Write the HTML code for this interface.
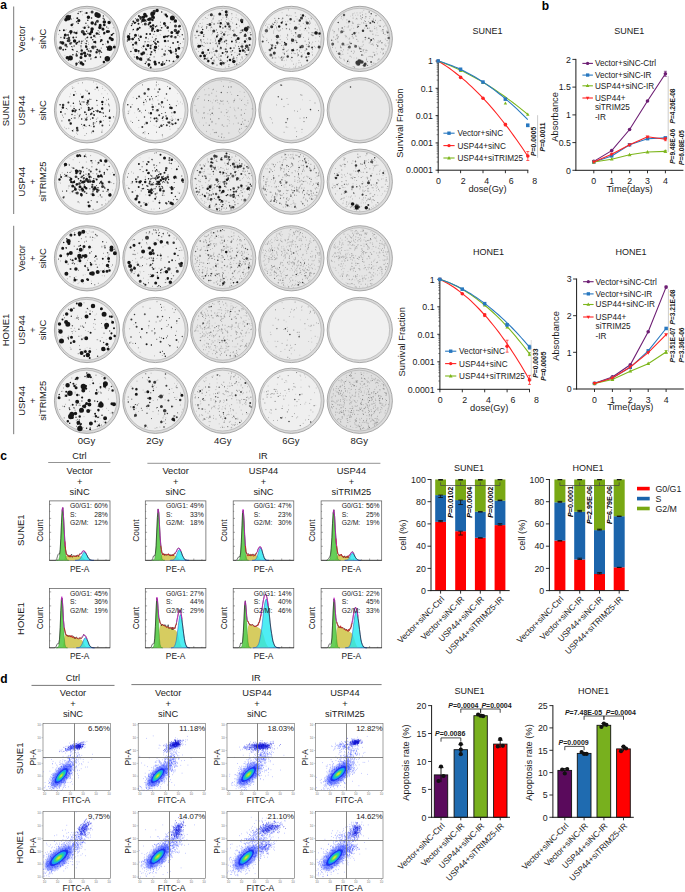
<!DOCTYPE html>
<html><head><meta charset="utf-8"><title>Figure</title>
<style>
html,body{margin:0;padding:0;background:#fff;width:685px;height:892px;overflow:hidden;}
svg{display:block;font-family:"Liberation Sans",sans-serif;}
</style></head><body>
<svg width="685" height="892" viewBox="0 0 685 892" fill="#1a1a1a">
<defs><filter id="pb" x="-5%" y="-5%" width="110%" height="110%"><feGaussianBlur stdDeviation="0.35"/></filter><radialGradient id="vg"><stop offset="0.7" stop-color="#000" stop-opacity="0"/><stop offset="1" stop-color="#000" stop-opacity="0.07"/></radialGradient></defs>
<text x="0.3" y="9.3" font-size="12" font-weight="bold" fill="#000">a</text>
<line x1="13.7" y1="6.5" x2="13.7" y2="214" stroke="#555" stroke-width="0.8"/>
<line x1="13.7" y1="225.8" x2="13.7" y2="434.2" stroke="#555" stroke-width="0.8"/>
<text x="8.5" y="110.5" font-size="9.5" text-anchor="middle" transform="rotate(-90 8.5 110.5)">SUNE1</text>
<text x="8.5" y="330" font-size="9.5" text-anchor="middle" transform="rotate(-90 8.5 330)">HONE1</text>
<text x="24.9" y="38.9" font-size="9.4" text-anchor="middle" transform="rotate(-90 24.9 38.9)">Vector</text>
<text x="35.6" y="38.9" font-size="9.4" text-anchor="middle" transform="rotate(-90 35.6 38.9)">+</text>
<text x="46.3" y="38.9" font-size="9.4" text-anchor="middle" transform="rotate(-90 46.3 38.9)">siNC</text>
<g filter="url(#pb)"><circle cx="87" cy="38.9" r="32.6" fill="#dadada" stroke="#959595" stroke-width="0.8"/><circle cx="86.4" cy="38.7" r="30.4" fill="#f1f1f1" stroke="#a8a8a8" stroke-width="0.6"/><path d="M76 21.9h0m3 23.3h0m10.9-32.8h0m.7 44.3h0m7.9-38h0m1.3 23.4h0m5.3-17.8h0m.3 1.2h0" stroke="#b9b9b9" stroke-width="0.6" stroke-linecap="round"/><path d="M72.9 27.4h0m13.4 16.7h0" stroke="#b9b9b9" stroke-width="0.9" stroke-linecap="round"/><path d="M66.2 29.7h0m7.8 9.3h0m12.1-26.6h0m-4.4 30.7h0m6.8-.3h0m6.9-29.6h0m10.3 30.8h0" stroke="#9b9b9b" stroke-width="0.9" stroke-linecap="round"/><path d="M65.3 30.6h0m-.4 24.8h0m8.5-37.1h0m-3.2 18.7h0m12.2-22.1h0m3.8 11.1h0m-1.9 16.9h0m-.2 17.3h0m3.2-30.4h0m4.8 14h0m-1.3 7.1h0m.8 7.4h0m-3.4 .6h0m14.6-32.8h0m11.4 18.5h0" stroke="#9b9b9b" stroke-width="0.6" stroke-linecap="round"/><path d="M78.9 52.8h0m12.2-34.7h0m-2.4 26.4h0m.5 4.1h0m7-33.1h0m-.5 21.9h0m3.5 14.2h0m10.7-29h0" stroke="#7d7d7d" stroke-width="0.9" stroke-linecap="round"/><path d="M58.4 34.3h0m13.7-10.3h0m5.3 7.1h0m5.1-3.7h0m4 7.1h0m-3 6.2h0m-.7 10.6h0m4.8-2.1h0m1.6 5.4h0m6.7-11.5h0" stroke="#7d7d7d" stroke-width="0.6" stroke-linecap="round"/><path d="M81 47.9h0m1-36.6h0m4.2 34.7h0m.7 3.2h0m1-23.9h0m3.8 5.7h0m.7 15.8h0m3.3-3.8h0m-2.5 5.9h0m6.3-14.4h0m9.6 4.4h0" stroke="#5a5a5a" stroke-width="1" stroke-linecap="round"/><path d="M60.9 37.5h0m10.7 5.3h0m1.6 7.1h0m8.2-6.6h0m9.4 15.6h0m13.2-24.8h0m2.6-7.1h0" stroke="#5a5a5a" stroke-width="1.5" stroke-linecap="round"/><path d="M68.5 32.7h0" stroke="#5a5a5a" stroke-width="0.6" stroke-linecap="round"/><path d="M59.7 30.6h0m2.5 11.7h0m2-5.2h0m8.7-13.1h0m1.2 22.1h0m6.5-34.3h0m-4.4 25.5h0m0 5.4h0m4.8 3.2h0m-4.8 19.4h0m9.7-42.1h0m-.2 10.7h0m.1 12.1h0m6.4-13.7h0m-5.2 5.4h0m11.5-3.7h0m-3.4 12.3h0m.7 .6h0m7.6-31h0m-.2 2.3h0m.4 6.5h0m-2.1 27.6h0m12.1-18.9h0m-1.9 5.1h0" stroke="#373737" stroke-width="1.5" stroke-linecap="round"/><path d="M68 34.9h0m-4.8 14.8h0m7-33.8h0m4.1 16.6h0m4.9 9h0m9.4-14.3h0m-1.4 22.1h0m20.8-6.8h0" stroke="#373737" stroke-width="2" stroke-linecap="round"/><path d="M65.8 44.9h0m17.4-12.8h0m8.9-20.1h0m-2.3 43.3h0m7.6-34.1h0m2.1 29.9h0" stroke="#373737" stroke-width="3" stroke-linecap="round"/><path d="M60.3 48.1h0m8.5-7.7h0m13.7-8.6h0m10.5 15.5h0" stroke="#373737" stroke-width="3.5" stroke-linecap="round"/><path d="M60.7 42.3h0m8.2-4.2h0m1.5 5.3h0m6.3 12h0m13.9-4.2h0m3.6-15.2h0" stroke="#373737" stroke-width="2.5" stroke-linecap="round"/><path d="M60.2 43.1h0m8.4-7h0m3-17h0m-.2 27.4h0m.8 .4h0m6.8-35.2h0m-1.3 9.1h0m1.9 40.3h0m1.4 .8h0m-2.4 .5h0m6.6-49.2h0m.1 25.8h0m.3 14.3h0m1.5 .6h0m2.9 2.8h0m8.1-26.1h0m-3.3 27.1h0m4.4-25.5h0m2 15.9h0m-1.8 5.7h0m8.7-25.6h0m2.2 18.2h0m-3.9 12.5h0m6.3-25.2h0" stroke="#373737" stroke-width="1" stroke-linecap="round"/><path d="M100.2 36.7h0m9.2-5.3h0m3.9-3.6h0" stroke="#373737" stroke-width="0.6" stroke-linecap="round"/><path d="M71.7 24.9h0m4.6 8h0m.2 30.9h0m8.1-36h0m1.6 18.9h0m-4.5 3.8h0m10.1-19.6h0m3.6-6.7h0m1.4 9.3h0m-1.7 8.5h0m1.5 10.3h0m7.7-27.2h0m0 7.8h0m-2.9 7.4h0m2.5 21.7h0m4.8-30.5h0m-.2 16.9h0" stroke="#191919" stroke-width="2.5" stroke-linecap="round"/><path d="M67.1 38.6h0m.3 2.3h0m-.4 5.9h0m-1.4 2.6h0m2.8 10.7h0m2.3-26.4h0m1.7 15.9h0m.5 5.1h0m5.2-41.1h0m-1.3 8.2h0m1.4 1.4h0m-.6 19.3h0m-.6 9h0m-.6 2.4h0m10.2-22.7h0m.2 9.7h0m-4.9 .3h0m4.2 2.4h0m-3 9.3h0m2.1 8.1h0m6.4-43.1h0m-3.8 2.3h0m.2 13h0m-.4 4h0m5.2 2.5h0m-.7 7.3h0m-3.7 4h0m-.6 3.2h0m8.6-38.2h0m-.7 6.2h0m-2.1 19.7h0m10.6-22.7h0m-3.6 22.4h0m2.3 2.8h0m-2.4 12.7h0m6.2-10h0m.8 2.6h0m4.8-15.3h0" stroke="#191919" stroke-width="1.5" stroke-linecap="round"/><path d="M65.3 34.9h0m13.6-14.3h0m5.3 13.3h0m.4 19.2h0m-3.1 1h0m3.9 1.6h0m-4.4 1.7h0m1.9 6.9h0m8.7-32.5h0m-1.5 1.9h0m6.1-19.9h0m4 11.4h0m2.7 3.8h0m4.4 2.4h0m2.9 6.5h0m4.1 9.2h0" stroke="#191919" stroke-width="3" stroke-linecap="round"/><path d="M62.7 43h0m3.2-23.2h0m1.4 37.9h0m3.6-25.9h0m3.7 9.1h0m6.6 22h0m7.2-45.6h0m3.8 5.8h0m-.1 6h0m12.2-7.1h0m-4.4 5.4h0m9.2-4.9h0m3 16.9h0" stroke="#191919" stroke-width="3.5" stroke-linecap="round"/><path d="M63.9 30.3h0m.5 7.8h0m8.9-.7h0m4-19.2h0m-.9 25.5h0m10.3-30.6h0m4.5 24.5h0m6.1 12.2h0m-1.4 7.5h0m8.8-35.2h0m-1.4 7.5h0m4.5 11.8h0m3.8-6.3h0" stroke="#191919" stroke-width="2" stroke-linecap="round"/><path d="M68.2 17.8h0m41.5 30.5h0m-2.4 10.5h0" stroke="#191919" stroke-width="5.5" stroke-linecap="round"/><path d="M70.4 57.9h0m26.5-43.2h0m1.4 .9h0" stroke="#191919" stroke-width="5" stroke-linecap="round"/></g>
<g filter="url(#pb)"><circle cx="155.4" cy="38.9" r="32.6" fill="#dadada" stroke="#959595" stroke-width="0.8"/><circle cx="154.8" cy="38.7" r="30.4" fill="#f1f1f1" stroke="#a8a8a8" stroke-width="0.6"/><path d="M132.3 45.9h0m14.4 10.5h0m-4.4 1h0m5-9h0m-.1 1.8h0m19.9-1h0" stroke="#b9b9b9" stroke-width="0.6" stroke-linecap="round"/><path d="M179.8 29.1h0" stroke="#b9b9b9" stroke-width="0.9" stroke-linecap="round"/><path d="M127.7 35.1h0m7.9 8.5h0m11.4 15.3h0m35.1-11.3h0" stroke="#9b9b9b" stroke-width="0.9" stroke-linecap="round"/><path d="M136.7 44h0m4.3-7h0m1.3 11.6h0m10.4-34.6h0m-3.3 28h0m21.1-5.5h0m-3.1 17.7h0m8-28h0m7.4 21.6h0" stroke="#9b9b9b" stroke-width="0.6" stroke-linecap="round"/><path d="M137 44.9h0m9.6-25.1h0m-4.1 4.9h0m9.4-13.1h0m-3.6 27.3h0m7.2 13.8h0m4.8-27.3h0m2.4 2.4h0m-1.2 2.7h0m14.2 3h0m-3.1 28.2h0m7.2-25h0" stroke="#7d7d7d" stroke-width="0.9" stroke-linecap="round"/><path d="M132.5 24.1h0m-.1 6.7h0m-1.1 11.6h0m2.8 12h0m4.4-20h0m6.2 9.7h0m-3.2 3.4h0m7.6-19.1h0m2 12.4h0m-2.2 17.9h0m7.3-22.8h0m2.1 13.2h0m1.9-14.4h0m6 7h0m2.1 4.9h0m-2.6 15.8h0m8.3-25.1h0m8.9 4.7h0" stroke="#7d7d7d" stroke-width="0.6" stroke-linecap="round"/><path d="M129.7 33.7h0m15.4 8h0m1.2 20.2h0m7.8-11.9h0m8-.7h0m6.2-22h0m2.1 20.2h0m-5 3.6h0m12.5-15.8h0m5.8 3.8h0" stroke="#5a5a5a" stroke-width="1.5" stroke-linecap="round"/><path d="M127.8 37.3h0m1.7-3h0m5.1 15.1h0m3.8-13.6h0m2.4 17.4h0m6.9-33.7h0m4.6 17.7h0m-.2 7.3h0m-3.4 .2h0m1.1 12.8h0m4-23.1h0m.1 14.9h0m10.2-35.3h0m-3.5 8.2h0m9.7 .4h0m-2 8.3h0m5.8-8.8h0m-2 13.5h0m1 16.4h0m5.7-6.9h0" stroke="#5a5a5a" stroke-width="1" stroke-linecap="round"/><path d="M137 30.6h0m8.9-16.6h0m29.3 39.4h0" stroke="#5a5a5a" stroke-width="0.6" stroke-linecap="round"/><path d="M146 37.7h0m4.7 8h0m.8 6.3h0m3.5-9h0m9.3 21h0m1.2-38.2h0m7.6 17.1h0m2.7 8.4h0m3-24.9h0" stroke="#373737" stroke-width="2" stroke-linecap="round"/><path d="M128.3 36.8h0m-.9 4.1h0m4.8-17.1h0m2.2 13.8h0m-4.9 .6h0m9.1 .6h0m6-18.7h0m-3.1 1.8h0m13.7 18h0m12.6-13h0m1 23.7h0m-2.2 9.9h0m2.7 .3h0m13-26h0" stroke="#373737" stroke-width="1.5" stroke-linecap="round"/><path d="M152.1 30.5h0m-3.6 28.9h0m16-4.8h0m10.9-17.4h0m4.2-11.1h0" stroke="#373737" stroke-width="2.5" stroke-linecap="round"/><path d="M137.6 20.3h0m5.9 32.8h0m10.7-41.7h0m21.2 19h0" stroke="#373737" stroke-width="3.5" stroke-linecap="round"/><path d="M140.8 17.4h0m-5 25.5h0m1.8 15.4h0m7.7-34.3h0m30.2 2h0" stroke="#373737" stroke-width="3" stroke-linecap="round"/><path d="M133.2 48h0m1.1 9h0m1.2-38.3h0m1.2 11.1h0m.4 .7h0m1.7 22.4h0m7.7-31.7h0m-3.5 .3h0m2.7 26.9h0m2.3-6.7h0m10.8 .6h0m-.1 3.8h0m-4.6 10.8h0m22.1-24.5h0m4.2-3.1h0m-.1 14.3h0" stroke="#373737" stroke-width="1" stroke-linecap="round"/><path d="M147.1 54.3h0m.7 6.2h0m14.3-4.1h0m3.2-10.2h0m4.4 15.1h0m5.5-30.5h0" stroke="#373737" stroke-width="0.6" stroke-linecap="round"/><path d="M128.9 38.3h0m2.6-12.9h0m1.8 4.2h0m-2.4 21.8h0m9.1-34.5h0m.4 2.1h0m-4.8 3.4h0m3.7 17.8h0m3.8-19.9h0m.7 32.5h0m-2.2 7.3h0m3.7 3.4h0m5.8-44.5h0m-1.9 .3h0m.9 41.1h0m-1.5 5.6h0m8.1-40h0m-1.3 .7h0m-.8 4.7h0m1.4 7.4h0m-2.3 2.7h0m8-29.6h0m-.2 15.9h0m-1.4 2.4h0m2.7 31.8h0m6-26.3h0m-.7 5.4h0m8.3 9.3h0m-.3 3.5h0m-2.5 7.3h0m6.3-34.7h0" stroke="#191919" stroke-width="1.5" stroke-linecap="round"/><path d="M128.5 36.8h0m.4 2.1h0m7 11.5h0m4.7 8.5h0m4.2-44.3h0m-1.3 2.7h0m-.6 3h0m7.2-1.2h0m7-8.5h0m-1.6 36.7h0m19.9-26.3h0m2.1 35.7h0" stroke="#191919" stroke-width="3.5" stroke-linecap="round"/><path d="M133.4 21.4h0m1.3 1.5h0m-1.8 16.4h0m.1 5.5h0m5.9-28.7h0m-.4 7.6h0m1.2 4h0m-3.5 14.9h0m2.5 8.3h0m7.9-16.9h0m-3 12.3h0m2.5 3.1h0m3.2-26.2h0m-.7 1.2h0m1.5 9.5h0m.4 14.3h0m.2 6.3h0m0 12.9h0m2.8-50.4h0m4.3 24.8h0m-1.8 2.3h0m-1 6.3h0m4.1 12.3h0m8.3-26.1h0m-1.9 0h0m10.4 12.7h0m1.9-7.2h0" stroke="#191919" stroke-width="2" stroke-linecap="round"/><path d="M135.5 35.2h0m10.7-19.1h0m-4.3 37.8h0m10.6-36.8h0m-3.9 2.3h0m4.1 9h0m-4.8 17h0m1 19.2h0m4.6-47.2h0m4.2 13.2h0m-2.8 31.3h0m.5 2h0m9-40.3h0m-2.4 40.9h0m9.8-31.9h0m5.6 .2h0m1.4 15.5h0" stroke="#191919" stroke-width="3" stroke-linecap="round"/><path d="M132.5 39h0m5.3-9.9h0m2.9 7.7h0m-3.7 20.5h0m7.8-36.9h0m7.7-.4h0m-2.5 2.7h0m.8 3.8h0m3.2-13.1h0m-.9 12.1h0m11 11.6h0m.9 4h0m.8-26.4h0m1.1 1.6h0m.7 11.4h0m2.8 23.3h0m2.5-33.6h0m-1.5 19.2h0m-.3 16h0m7.5-21h0" stroke="#191919" stroke-width="2.5" stroke-linecap="round"/><path d="M172.4 17.9h0" stroke="#191919" stroke-width="5" stroke-linecap="round"/><path d="M152.4 13.9h0" stroke="#191919" stroke-width="4.5" stroke-linecap="round"/></g>
<g filter="url(#pb)"><circle cx="223.2" cy="38.9" r="32.6" fill="#dadada" stroke="#959595" stroke-width="0.8"/><circle cx="222.6" cy="38.7" r="30.4" fill="#ededed" stroke="#a8a8a8" stroke-width="0.6"/><path d="M218.9 58h0m-5.1 3.2h0m11-37.2h0m6.1-2.4h0m-1.8 5.6h0m-1 4.8h0m-.9 28.9h0m4.9-47.4h0m9.5 4.7h0m5.9 22.3h0m4.3-.8h0" stroke="#b9b9b9" stroke-width="0.9" stroke-linecap="round"/><path d="M197.6 43.5h0m.7 1.2h0m1.8 11.5h0m3.2-36.9h0m-1 .1h0m.2 3.6h0m-.7 19.1h0m10.8-14.1h0m-2.2 .3h0m-2.1 2.2h0m.7 12.6h0m.2 5.2h0m3.7 .2h0m4.4-25.2h0m-.6 21.5h0m.8 2.2h0m-.3 4.5h0m1.8 2.4h0m-2.5 2.7h0m4.8-41.7h0m.4 18.4h0m.3 9.2h0m-1.3 3.8h0m-1.7 8.1h0m6.5-37.1h0m.9 14h0m1.6 12.9h0m-2.1 5.3h0m6-34.7h0m1.6 19.9h0m.8 18h0m2.7 .5h0m0 6.2h0m.1-17.7h0m1 1.5h0m2.4 16.3h0m2.9-35.3h0m3.1 3.7h0m-3 15.8h0" stroke="#b9b9b9" stroke-width="0.6" stroke-linecap="round"/><path d="M198.9 31.1h0m6.4 12.4h0m6.7 9.4h0m3.3-11.6h0m-1.9 10.3h0m1.2 2.5h0m-.3 9.6h0m6.9-43.4h0m.1 28.3h0m5.2-29.2h0m1.5 15.2h0m-.3 .8h0m5-12.4h0m.4 12.6h0m.9 21.6h0m5.3 5.4h0m3.9-43.3h0" stroke="#9b9b9b" stroke-width="0.9" stroke-linecap="round"/><path d="M199.2 46.3h0m3-20.1h0m.4 .7h0m4 16.1h0m-4.9 .9h0m3.4 8.4h0m-1.7 5.6h0m7.3-27.8h0m1.1 4.7h0m1.1 7.6h0m-1.8 9.7h0m-3.8 .8h0m1.2 9.4h0m4.7-43.4h0m3.1 10.7h0m-3.1 18.3h0m5.5 8.1h0m6.1-3.5h0m-5.1 4.1h0m8.4-45.8h0m.1 2h0m0 6h0m1 2.1h0m-.5 8.1h0m1.1 5.5h0m-3.3 11.7h0m1.4 9h0m.9 11.3h0m-3.5 .8h0m11-52.3h0m-4 2.6h0m2.8 27.3h0m-.1 7.5h0m3.6-32.2h0m1.3 17.8h0m-2.7 1.7h0m3.5 20.4h0m7.1-26.8h0m-2.3 8.5h0m-.5 14.5h0m5.1-28h0" stroke="#9b9b9b" stroke-width="0.6" stroke-linecap="round"/><path d="M198.9 26.8h0m-1.8 3.1h0m2.3 2.8h0m-.7 15.2h0m-.1 3.6h0m5.1-11.9h0m4.6-24.5h0m-1.2 3.4h0m4.7 2.4h0m-4.1 18.2h0m3.1 .8h0m.5 18.7h0m3.7-20.4h0m-.5 13.2h0m2.2 5.9h0m.4 .3h0m1.6 1.7h0m-4.7 .7h0m.7 1.8h0m5.4-47.5h0m3 .8h0m-.2 2.7h0m-1.3 1.7h0m1.1 5.3h0m-1.1 15.6h0m1.5 1.5h0m-1.2 0h0m2.3 7.3h0m-3.8 9.8h0m5.3-37.6h0m5.2 5.5h0m-.7 1.3h0m-3.2 .6h0m2.1 .8h0m-3.5 22.4h0m.8 1.3h0m-.6 9.2h0m3.3 2h0m-.3 .5h0m2.7-51.4h0m4.5 4h0m-2.1 12.2h0m-2.6 7.7h0m4.6 5.2h0m-.5 18.3h0m2.7-42h0m1.4 7h0m1.4 4.2h0m-.2 .3h0m-1.1 12.1h0m3.4 4.2h0m-4 .2h0m-2 14h0m10.7-28.8h0m-2.3 2.6h0m-1.5 1.7h0" stroke="#7d7d7d" stroke-width="0.6" stroke-linecap="round"/><path d="M200.1 23.5h0m5.2-5.9h0m-3.7 9.8h0m2 25.3h0m9.3-33.6h0m-1.6 39.8h0m2-40.9h0m6.2 7.4h0m3.4 12.3h0m7.2-7.7h0m3.5 26.9h0m8.5-7.7h0m6.4-11.4h0" stroke="#7d7d7d" stroke-width="0.9" stroke-linecap="round"/><path d="M200.9 32.5h0m-5.9 2.8h0m4.8 .2h0m4.4 6.9h0m-.3 3.9h0m2.8 8h0m5.2-31.7h0m.6 10.5h0m-4.9 10.1h0m.3 14.7h0m9-22.1h0m-.6 1.8h0m.4 5.3h0m-3.6 6.4h0m1 11h0m-1 .5h0m7.9-29.5h0m1.3 1.1h0m-.7 16.3h0m-1.7 11.8h0m7.4-35.6h0m-1.6 29.9h0m3.2 12h0m7.9-39h0m-4.4 2.7h0m2.3 34.2h0m7.3-20.7h0m.2 14.8h0m4.7-8.7h0" stroke="#7d7d7d" stroke-width="1" stroke-linecap="round"/><path d="M198.5 35.4h0m11.8 7.9h0m7.7-20.1h0m-2 20.4h0m5.2-10.2h0m-.3 5.8h0m1.6 23.8h0m17.7-30.2h0m6.3 6.3h0m-2.1 11.4h0m1.5 4.1h0" stroke="#7d7d7d" stroke-width="1.5" stroke-linecap="round"/><path d="M206.7 26.9h0m-4.6 18.7h0m12-21.6h0m3.8 10.9h0m5-7h0m3.6 12.9h0m9.8 1.2h0m-2.3 6h0m-2.4 6.8h0m9.4-8.2h0m4.1-17.9h0" stroke="#5a5a5a" stroke-width="1.5" stroke-linecap="round"/><path d="M199.9 46.9h0m-3.7 2.2h0m4.4 6.9h0m6-27.7h0m-5.4 13.5h0m2.8 17.5h0m8.1-44.1h0m1.8 .8h0m2.5 14h0m-1 10h0m2.3 5.3h0m-.7 19.8h0m5.1-54.7h0m-3 10.5h0m3.2 40.9h0m-.6 3.6h0m4.9-42.8h0m2.2 2h0m-3.6 7.3h0m-.1 8.7h0m11.7 17.2h0m6.1-26.5h0m-.7 16.8h0" stroke="#5a5a5a" stroke-width="1" stroke-linecap="round"/><path d="M225.8 49.2h0m7.7 9.2h0m5.9-4.1h0" stroke="#5a5a5a" stroke-width="2" stroke-linecap="round"/><path d="M248.1 27.3h0" stroke="#5a5a5a" stroke-width="3" stroke-linecap="round"/><path d="M198.4 25.8h0m4.2 23.9h0m4.5 12.3h0m24.5-42.7h0m3.8 26.6h0m1.8 18h0m8.7-37h0" stroke="#5a5a5a" stroke-width="0.6" stroke-linecap="round"/><path d="M196 37.8h0m7.9-3.3h0m7.9-20.4h0m-4.6 10.4h0m4 2.7h0m-1.8 25.8h0m2.9 4.2h0m5-24.6h0m.4 14h0m-2.8 8.6h0m7.2-18.9h0m-2 12.5h0m10.2-19.9h0m-4.2 11.2h0m7.7-9.1h0m2.4 8.6h0m.1 .5h0m-.8 .5h0m-4.5 11.3h0m1.6 7.5h0m3.8 4.8h0m2.1-17.8h0m-1.2 9h0m4.7 1.7h0m4.3-25.6h0m1.1 16.6h0m2.8-15.4h0" stroke="#373737" stroke-width="1" stroke-linecap="round"/><path d="M200.8 40.1h0m-.8 5.8h0m3.6-9.7h0m3.3 22.9h0m4.3-.7h0m13.5-16.6h0m-3.7 14.3h0m-.1 4.1h0m5.7-43.3h0m1.3 39.7h0m8.6-32.4h0m.2 11.6h0m-4.2 15h0m16.2-2.8h0m-3.4 .6h0m-.3 3.5h0m5.9-17.4h0" stroke="#373737" stroke-width="1.5" stroke-linecap="round"/><path d="M197 31.4h0m22.2 12h0m1.6 4.4h0m6.3 4h0m15.3-21.5h0m6.1 19.6h0m.9-11.8h0m.2 6.9h0" stroke="#373737" stroke-width="2" stroke-linecap="round"/><path d="M216.4 51.1h0m7.7-16.7h0m-.6 28.8h0m5.9-36.8h0m12.7 20.1h0" stroke="#373737" stroke-width="2.5" stroke-linecap="round"/><path d="M211.3 14.8h0m-1.4 9.6h0m3.9 6.5h0m12.7-16.2h0m1.6 9.1h0m6.4 11.1h0m10.7 .7h0m4.6 3.1h0" stroke="#373737" stroke-width="3" stroke-linecap="round"/><path d="M222.5 32.3h0" stroke="#373737" stroke-width="0.6" stroke-linecap="round"/><path d="M241.6 20.6h0m5.1 25.6h0" stroke="#373737" stroke-width="3.5" stroke-linecap="round"/><path d="M198.7 46.2h0m3-13.6h0m1 20.1h0m1.8 3.1h0m15.3-41.9h0m1.1 25h0m-1.6 2h0m1.7 22.5h0m5.2-51.6h0m12 26.6h0" stroke="#191919" stroke-width="3" stroke-linecap="round"/><path d="M200 46.1h0m.6 9.8h0m7.7 5h0m4.4 2.4h0m8-40h0m9.3 36.6h0m12-37.9h0m1 28.5h0m-3 .5h0m5-9.6h0" stroke="#191919" stroke-width="2.5" stroke-linecap="round"/><path d="M202.7 29.5h0m24.8 27.9h0m11.7-8.7h0m6.1-14.5h0m1.5 20.6h0" stroke="#191919" stroke-width="1.5" stroke-linecap="round"/><path d="M204.9 58.5h0m3.3-8.4h0m8.7-13.5h0m3.3-9.9h0m2.4 26.2h0m2.8-26.3h0m5.2 21.7h0m1.3-6.7h0" stroke="#191919" stroke-width="2" stroke-linecap="round"/><path d="M203.4 52.1h0m23.3-8.4h0m-1.2 7.7h0m1.8 9.6h0m13.9-28.7h0" stroke="#191919" stroke-width="1" stroke-linecap="round"/><path d="M246 29.3h0" stroke="#191919" stroke-width="4.5" stroke-linecap="round"/><path d="M233.8 61.6h0" stroke="#191919" stroke-width="3.5" stroke-linecap="round"/></g>
<g filter="url(#pb)"><circle cx="291.4" cy="38.9" r="32.6" fill="#dadada" stroke="#959595" stroke-width="0.8"/><circle cx="290.8" cy="38.7" r="30.4" fill="#ededed" stroke="#a8a8a8" stroke-width="0.6"/><path d="M266.9 28.4h0m-.3 2.2h0m.7 9.4h0m7.8 5.8h0m5.2-10h0m8.2-19.8h0m2 43.2h0m-5.1 5.7h0m8.8-22.8h0m-.4 10.9h0m8.7-33.9h0m-.8 15h0m-4.3 22.2h0m1.1 6.5h0m10.4-35.1h0m-4.5 25.3h0m13.9-18.2h0m.3 6.3h0m-2.9 .4h0" stroke="#b9b9b9" stroke-width="0.9" stroke-linecap="round"/><path d="M266.8 38.4h0m10.5 2.4h0m-3.1 7.2h0m-.5 5.4h0m10.9-1.3h0m-2 .6h0m.3 5.5h0m-2.2 .5h0m5.6-29.5h0m3.4 38.4h0m2.2-25.6h0m-.1 18.5h0m.2 .9h0m4.2 2h0m2-42h0m2.2 26.7h0m.8 .7h0m-1.4 .3h0m9.7 7.6h0m6.2-31.7h0m3.6 10.7h0m-3.5 2.3h0m4.3 4.1h0" stroke="#b9b9b9" stroke-width="0.6" stroke-linecap="round"/><path d="M266.4 31.2h0m7.3-.1h0m8.9-2.4h0m-2.6 14.7h0m3.7 4h0m5.7-18.8h0m1.8 2.4h0m4.6 5.9h0m-2.3 27.3h0m7.8-8.8h0m2.2-17.9h0m7.9-2.5h0m1.3 7.2h0" stroke="#9b9b9b" stroke-width="0.9" stroke-linecap="round"/><path d="M266.7 24h0m-1.6 9.7h0m-2.4 1.1h0m3 17.8h0m5.7-12.7h0m4.1-17.8h0m1 1.8h0m-.9 1.6h0m-1 3.6h0m4.4 2.1h0m-3.8 5h0m1.7 .5h0m1.8 20.2h0m-3.2 1h0m6.6-45.2h0m-1.8 17.4h0m2.5 26.5h0m1.4 4h0m-.7 5.6h0m6.2-50.9h0m-4.2 6.3h0m4.6 1.9h0m-3.2 5.1h0m.5 5.8h0m-.7 3.2h0m1.2 16.4h0m-1.3 6.1h0m4.5-44.3h0m2.3 13.4h0m-1.6 4.2h0m4 6.8h0m.7 1.2h0m-3.1 7.1h0m3.4 1.8h0m-2.1 .1h0m1.3 14.7h0m-2.1 2.2h0m4.1-39.8h0m-.5 9h0m3.1 11.1h0m-3.5 2.3h0m2.4 1.6h0m9-32.9h0m-3.3 6.4h0m.9 2.1h0m-1.8 3h0m2.6 .7h0m2.9-9.5h0m2 22.7h0m-2.5 1.6h0m-.2 8.3h0m9.5-8.7h0m-3 2.4h0" stroke="#9b9b9b" stroke-width="0.6" stroke-linecap="round"/><path d="M272.7 23.4h0m-5.1 3.5h0m4.4 22.5h0m3.9 8.6h0m8.2-1h0m3.6-21.2h0m5.7-.1h0m5.9 15h0m7.9-1.4h0m2.3-25.1h0m4.8 22.2h0" stroke="#9b9b9b" stroke-width="1" stroke-linecap="round"/><path d="M281.1 22.8h0m13.2-1.5h0m1.6 19.2h0m12.6 16h0" stroke="#9b9b9b" stroke-width="1.5" stroke-linecap="round"/><path d="M265.5 25.6h0m-2.8 10.5h0m6.3-11.7h0m2.1 1.6h0m-3.2 1.8h0m1.6 1h0m1 15.7h0m2.2 12.5h0m-.6 1.3h0m4.9-37.3h0m.3 1.6h0m-.1 7.4h0m1.7 .8h0m-2.6 8.8h0m-2.3 18.2h0m1.1 4.6h0m6.9-43.1h0m-1.7 10.8h0m-1.1 7.4h0m2.8 4.2h0m1.7 3.9h0m-.7 4.5h0m.8 2.9h0m4.7-43.1h0m-.7 11.3h0m.5 28.7h0m-1.2 .6h0m8.8-34h0m.1 17.5h0m-4.3 9.3h0m1.9 6.2h0m3.5-30.4h0m3.7 7.1h0m-.8 4h0m1.7 4h0m-1.4 .5h0m-.3 10.8h0m1.2 7.1h0m1.4 2.4h0m-3.6 5.4h0m1.1 2.2h0m-1.1 4h0m7.2-46.5h0m2.2 7.1h0m.4 10.9h0m-2.3 11.7h0m3.1-28.7h0m-.5 7.5h0m5.1 4.7h0m-2.1 .9h0m-.9 .4h0m.9 17.5h0m3.2-23.4h0m-.3 .1h0m2 5.7h0m1.2 13h0" stroke="#7d7d7d" stroke-width="0.6" stroke-linecap="round"/><path d="M266.5 40.6h0m5.8-16.4h0m2.5-5.8h0m.6 2h0m1.1 6.7h0m-2.3 27.6h0m9.2 3.1h0m-3.2 .1h0m1.9 .7h0m5.3-19.4h0m4-.4h0m4.3 28.2h0m3.4-42.8h0m6.2-7.6h0m3.5 16.3h0m-3.7 8.3h0m1.2 3.4h0m-1.2 6.1h0m6.3-31.9h0m2.6 13.9h0m-5 9.4h0m3.6 7.3h0m-.1 5.6h0m4.7-25.1h0" stroke="#7d7d7d" stroke-width="0.9" stroke-linecap="round"/><path d="M263.7 37h0m4.9 5.6h0m3.8 2.9h0m-3.5 4.4h0m4.7-25.5h0m3.9 19.8h0m2.6-4.6h0m1.6 5.8h0m2.5 8.4h0m3.5-18.8h0m-.9 16.5h0m8.4-38.6h0m-3.5 40.4h0m3.3 .3h0m5.9-38.9h0m.6 50.5h0m7.1-25.8h0m11-2.8h0" stroke="#7d7d7d" stroke-width="1" stroke-linecap="round"/><path d="M274.7 22.4h0m8-4.1h0m-.3 3.2h0m4.5-6.2h0m26 20.1h0m3.6-2.2h0" stroke="#7d7d7d" stroke-width="1.5" stroke-linecap="round"/><path d="M278.8 18.5h0m4.3 31h0m-1.5 7.8h0m.4 2.8h0m14.8-32h0m-1.2 4.7h0m2.6 22.1h0m8-32.9h0m.2 27h0" stroke="#5a5a5a" stroke-width="1.5" stroke-linecap="round"/><path d="M301.6 56.4h0m7.3-9.9h0m-2.6 10.8h0m10.4-24.5h0" stroke="#5a5a5a" stroke-width="2" stroke-linecap="round"/><path d="M272.1 45.6h0m-2.1 4.5h0" stroke="#5a5a5a" stroke-width="2.5" stroke-linecap="round"/><path d="M271.2 48.6h0m1.4 9.3h0m1.1-33.3h0m12.6 4h0m3.4 1h0m-3 14h0m10.5 6h0m12.9-26.5h0m2 9.5h0m3.6-.8h0" stroke="#5a5a5a" stroke-width="1" stroke-linecap="round"/><path d="M266.4 30.7h0m35.8 15.7h0" stroke="#5a5a5a" stroke-width="3.5" stroke-linecap="round"/><path d="M276.7 28.1h0m-3 4.9h0m23.7 20h0m5.9-29.6h0m5 21h0m-1.1 2h0m3.7-28.4h0" stroke="#5a5a5a" stroke-width="0.6" stroke-linecap="round"/><path d="M299.3 36h0" stroke="#5a5a5a" stroke-width="4" stroke-linecap="round"/><path d="M270.9 55.1h0" stroke="#5a5a5a" stroke-width="3" stroke-linecap="round"/><path d="M271.7 26.7h0m2.6 26.2h0m11.4-8.6h0m15.8-26.4h0m5.9 5h0m11.7 24h0" stroke="#373737" stroke-width="3" stroke-linecap="round"/><path d="M277.3 42.8h0m13.3-23.6h0m-2.9 37.2h0m4.6-6.2h0m7.5-29.8h0" stroke="#373737" stroke-width="2.5" stroke-linecap="round"/><path d="M277.4 36.6h0m18.2-8.7h0m-3 12.4h0" stroke="#373737" stroke-width="3.5" stroke-linecap="round"/><path d="M296.8 42.5h0m-4.9 15h0m13.5-29h0" stroke="#373737" stroke-width="1.5" stroke-linecap="round"/><path d="M262.7 41.6h0m12.6 6.1h0m10.9-23.3h0m21 36.1h0m4.9-13h0" stroke="#373737" stroke-width="2" stroke-linecap="round"/><path d="M275.8 45.7h0m8.6 8.3h0m25.2-11h0" stroke="#373737" stroke-width="1" stroke-linecap="round"/><path d="M271.7 48.3h0m10-25.5h0m11.5 27.4h0m7.1-3h0" stroke="#191919" stroke-width="2" stroke-linecap="round"/><path d="M279.2 26.4h0m23.8-10.8h0m16.5 17.8h0" stroke="#191919" stroke-width="2.5" stroke-linecap="round"/><path d="M308.4 53.5h0" stroke="#191919" stroke-width="3" stroke-linecap="round"/><path d="M316 33h0" stroke="#191919" stroke-width="3.5" stroke-linecap="round"/><path d="M284 49.2h0" stroke="#191919" stroke-width="1" stroke-linecap="round"/><path d="M284.6 42.4h0" stroke="#191919" stroke-width="1.5" stroke-linecap="round"/></g>
<g filter="url(#pb)"><circle cx="359.8" cy="38.9" r="32.6" fill="#dadada" stroke="#959595" stroke-width="0.8"/><circle cx="359.2" cy="38.7" r="30.4" fill="#e9e9e9" stroke="#a8a8a8" stroke-width="0.6"/><path d="M333.6 40.9h0m9.1-21.2h0m1.1 24.7h0m6.8-28.2h0m-3.4 21.7h0m2.5 5.2h0m4.7-30.1h0m1.1 2.3h0m-2.4 1.8h0m-1.2 8.5h0m-.6 3.1h0m.9 5.3h0m1.8 24h0m9-6.1h0m-1.6 8h0m-3.2 .8h0m9.1-21.7h0m-2.7 14h0m4.7-24.5h0m4.6 13.6h0m-1.8 21h0m1.6 .7h0m4.5-42.6h0m-1.2 11.5h0m1.7 10.3h0m-2.4 8.7h0m4.7-31.5h0m4.2 31.4h0m3.3-16.2h0" stroke="#b9b9b9" stroke-width="0.6" stroke-linecap="round"/><path d="M338.7 30.8h0m-1.4 5.9h0m6.5-18.8h0m3.1 4.9h0m2.6 19.7h0m-2.5 19.8h0m7-11.5h0m6.4-35.3h0m7.9 41.1h0m-4.4 11.2h0m6-28.6h0m9.1-13.7h0m2.2 5.4h0m4.5 13.1h0" stroke="#b9b9b9" stroke-width="0.9" stroke-linecap="round"/><path d="M333.9 33.1h0m-.4 3.8h0m.3 .2h0m3.2 2.7h0m-1.4 8.2h0m7.3-4.8h0m-.5 8.6h0m-2.5 6h0m10.8-36.2h0m-3.5 5.5h0m1.3 0h0m-1.9 9h0m-.2 .5h0m1.4 16.7h0m.7 6.5h0m1 2.3h0m-2.6 1.7h0m1.9 .2h0m7.2-44.8h0m-2.3 9.1h0m2.5 8.2h0m-4.6 20.6h0m10.6-45h0m-5.2 .8h0m.9 2.2h0m-.6 3.9h0m4.4 3.8h0m-3.2 23.4h0m2.3 .7h0m-2.1 12.4h0m5.1-49h0m1.4 8.1h0m-2.2 22.7h0m1 8.4h0m3.3 1.1h0m-1.5 12.2h0m3.6-44.3h0m1.9 2.2h0m-1.4 1.9h0m4.8 4.2h0m-5.1 1.1h0m1.6 3.7h0m3.2 8.3h0m-.2 12.7h0m-3.1 4h0m5.8-26.7h0m1.3 10.8h0m2.3 11.5h0m5.8-20.5h0m-1.7 13.2h0m-2.3 5.2h0m.5 4.5h0m4.7-19h0m-.3 5h0" stroke="#9b9b9b" stroke-width="0.6" stroke-linecap="round"/><path d="M332.8 30.2h0m1.2 1.4h0m7.1 19h0m-.2 7.7h0m3.1 1h0m4.7-36.5h0m1.3 21.1h0m3.3 9.4h0m-.2 13.3h0m7-53.6h0m5.9 24.7h0m7.4-18h0m.4 43.4h0m-2 1.5h0m4.9-36.7h0m8.3 6.6h0" stroke="#9b9b9b" stroke-width="0.9" stroke-linecap="round"/><path d="M337.1 34.6h0m-1.5 4.7h0m6.1-22.9h0m1.2 37.9h0m-2 .5h0m6-34.9h0m2.2 19.2h0m.7 2.8h0m.6 1.2h0m-2.3 1.2h0m-.1 5.6h0m4.7-34.8h0m3.7 3.3h0m-4.2 18.2h0m8.5-20.3h0m.2 2.1h0m-2.9 22.8h0m4.7 24.3h0m1.8-44.7h0m-1.2 30h0m6.7-34.2h0m2.3 14.5h0m15.8 11.9h0" stroke="#9b9b9b" stroke-width="1" stroke-linecap="round"/><path d="M337.4 38.3h0m.8 15.2h0m5.5-22h0m9.3-8.3h0m1.6 9.4h0m11.5 17.7h0m4.5-19.2h0m9.8 9.8h0m2.9 12.3h0" stroke="#9b9b9b" stroke-width="1.5" stroke-linecap="round"/><path d="M334.5 31.7h0m6.7-13.6h0m3.5 8.6h0m-.9 3.3h0m-3 3.1h0m4 12.3h0m-4.1 .6h0m2.9 3.8h0m-4.4 3h0m.3 4.5h0m4.8 3.4h0m4.4-34.7h0m-3.5 9.4h0m.2 1.4h0m4.3 1.4h0m-2.7 6.7h0m.9 2.5h0m5.1-33.7h0m.1 4.6h0m-.6 3.8h0m3.6 10.3h0m-1.9 12.5h0m.2 7h0m2.3 6.2h0m-2.7 8.7h0m7.6-47.5h0m-3.3 5h0m1.6 .2h0m-1.1 8.4h0m4.1 9.2h0m-.8 4.1h0m3.7-32.3h0m2.8 7.7h0m-4.9 1h0m.2 .8h0m2.1 .2h0m-1.3 4.5h0m-1.4 16.7h0m2.7 7.4h0m-2.9 3.1h0m3.5 2.9h0m-.6 6.8h0m7.3-46.2h0m-3.6 12.1h0m-.5 12.1h0m3.2 1h0m.5 .2h0m.4 1h0m-.1 7.1h0m-.9 4.8h0m5.3-34.1h0m-1.7 12.2h0m2.1 .3h0m-.8 6.8h0m-.3 6.4h0m.3 5.2h0m.6 6.2h0m-2.6 3.5h0m9.7-37.8h0m-1.4 1h0m-.5 4.6h0m.5 .9h0m1.8 6.8h0m1.7 1.5h0m-5 8.8h0" stroke="#7d7d7d" stroke-width="0.6" stroke-linecap="round"/><path d="M338 42h0m12-12h0m.1 26.2h0m3.1-18.2h0m1.5 29.3h0m2.6-40h0m2.1 20h0m-.2 .6h0m2.1 1.1h0m3.9-9.3h0m-2.1 10.2h0m11.7-21.3h0m-4.8 27.8h0m2.3 .4h0m7.9-36.4h0m-3.5 24.3h0m10.3-13.7h0" stroke="#7d7d7d" stroke-width="0.9" stroke-linecap="round"/><path d="M367.6 28.3h0m1.6-16.3h0m4.1 26.8h0m1.3 16.2h0m5.5-28.7h0m2.8 3.5h0m-1 13h0" stroke="#7d7d7d" stroke-width="1.5" stroke-linecap="round"/><path d="M332.4 45.2h0m6.1-16.2h0m-1.6 6.6h0m1.5 1.3h0m-1.8 14.5h0m3.8-4.4h0m-.9 9.9h0m16.3-21h0m1 3.5h0m-5.5 11.9h0m11.1-36.4h0m-.8 36.6h0m4-30h0m.8 38.3h0m.9 1.8h0m5.6-27.4h0m-2.5 7.1h0m-.2 .8h0m5.2-21.8h0m3.7 21.6h0m6.8 4h0m-4.1 2.7h0m1.9 .5h0" stroke="#7d7d7d" stroke-width="1" stroke-linecap="round"/><path d="M332.7 44.1h0m9-12.3h0m1.2 12.2h0m6.5 3.1h0m6.2-.8h0" stroke="#5a5a5a" stroke-width="3" stroke-linecap="round"/><path d="M331.7 40.2h0m10.5-12.1h0m10.1 6.5h0m6.1-8.2h0m6.9 11.2h0m12.4 8.5h0" stroke="#5a5a5a" stroke-width="1.5" stroke-linecap="round"/><path d="M370.3 22.9h0m.8 39.2h0m16.6-29.5h0" stroke="#5a5a5a" stroke-width="2" stroke-linecap="round"/><path d="M341 47.7h0m21.3-30.1h0m-1.9 33.9h0m18.5 7.6h0m4.4-25.8h0" stroke="#5a5a5a" stroke-width="1" stroke-linecap="round"/><path d="M344 15h0m-4.7 38.7h0m49.4-15.6h0" stroke="#5a5a5a" stroke-width="2.5" stroke-linecap="round"/><path d="M332.4 47.3h0m25.3-22.4h0m13.5 19.4h0" stroke="#5a5a5a" stroke-width="0.6" stroke-linecap="round"/><path d="M357.6 27h0m8.3-10.2h0m1.8 48.6h0m8.3-49.7h0" stroke="#373737" stroke-width="1" stroke-linecap="round"/><path d="M354.4 33.2h0m8.6-2.4h0" stroke="#373737" stroke-width="2.5" stroke-linecap="round"/><path d="M349.1 21.5h0m17.2 4.3h0m6.5-4.2h0m-1.6 18.4h0" stroke="#373737" stroke-width="2" stroke-linecap="round"/><path d="M338.2 22.5h0m9.5 38.7h0m3.4-17.6h0m8.9 5.2h0m1.9 6.2h0m7-16.7h0m2.3-24.5h0m3.2 8.8h0" stroke="#373737" stroke-width="1.5" stroke-linecap="round"/><path d="M359.4 61.5h0m-1.8 1.3h0m.6 .7h0" stroke="#373737" stroke-width="4.5" stroke-linecap="round"/><path d="M365.1 64.1h0m-.6 1.2h0" stroke="#373737" stroke-width="3" stroke-linecap="round"/><path d="M361.9 61.9h0" stroke="#373737" stroke-width="3.5" stroke-linecap="round"/></g>
<text x="24.9" y="110.3" font-size="9.4" text-anchor="middle" transform="rotate(-90 24.9 110.3)">USP44</text>
<text x="35.6" y="110.3" font-size="9.4" text-anchor="middle" transform="rotate(-90 35.6 110.3)">+</text>
<text x="46.3" y="110.3" font-size="9.4" text-anchor="middle" transform="rotate(-90 46.3 110.3)">siNC</text>
<g filter="url(#pb)"><circle cx="87" cy="110.3" r="32.6" fill="#dadada" stroke="#959595" stroke-width="0.8"/><circle cx="86.4" cy="110.1" r="30.4" fill="#f3f3f3" stroke="#a8a8a8" stroke-width="0.6"/><path d="M68.7 101.9h0m-4.3 25.4h0m9.2 2.3h0m-.1 1.7h0m7.2-27h0m4.3-5.1h0m-.3 19h0m-2 7.9h0m28-8h0" stroke="#b9b9b9" stroke-width="0.9" stroke-linecap="round"/><path d="M69.4 122.2h0m32.9-35.6h0" stroke="#b9b9b9" stroke-width="0.6" stroke-linecap="round"/><path d="M68.8 128.3h0m17.6-15.2h0m5 18.9h0m2-50h0m4.6 30h0m4.7-23.6h0" stroke="#9b9b9b" stroke-width="0.9" stroke-linecap="round"/><path d="M62.2 114.5h0m10-27.8h0m-1.7 7.3h0m5.7-.2h0m8.6 26.6h0m4.1-4.3h0m7.4-32h0m5.5 9.7h0m3.2-3.4h0m2.4 3.4h0m6.6 24.2h0" stroke="#9b9b9b" stroke-width="0.6" stroke-linecap="round"/><path d="M61.5 109.7h0m6.1-.4h0m6.3-21.5h0m-.3 7.3h0m-3.8 1.6h0m4.1 9.6h0m-.6 11.6h0m1.2 18.7h0m3.7-53.3h0m2.3 10.8h0m-2.8 19.9h0m1 3.8h0m-2.1 15.3h0m.9 1.2h0m4.2-28.9h0m1.9 22.8h0m4.5-28.1h0m1.4 10.3h0m1.6 15.9h0m7.3-36.1h0m3.7 39.9h0m3.2-25.9h0" stroke="#7d7d7d" stroke-width="0.6" stroke-linecap="round"/><path d="M62.6 115.7h0m1 1.6h0m2.6 11.4h0m19.5-38.5h0m.9 43.4h0m5.1-.7h0m3.4-43.6h0m14.2 16.6h0" stroke="#7d7d7d" stroke-width="0.9" stroke-linecap="round"/><path d="M72.6 88.3h0m-1.8 17.7h0m4.1 9.5h0m.3-23.9h0m1.1 18.2h0m1.3 19.5h0m5-46.5h0m13 27.7h0m4 13.2h0" stroke="#7d7d7d" stroke-width="1" stroke-linecap="round"/><path d="M83.5 95.9h0m2.5 30.5h0m1.5-21.3h0m5.3 8.9h0m4.4-8.7h0m-2.3 17.7h0m8.8-6.5h0m5.8 8.7h0" stroke="#5a5a5a" stroke-width="1" stroke-linecap="round"/><path d="M84.9 135.5h0m6-21.8h0m6.9 4.3h0m5.5 2.6h0m5.2-16.9h0m1.4 6.3h0" stroke="#5a5a5a" stroke-width="0.6" stroke-linecap="round"/><path d="M68.4 102.6h0m6.9 7.6h0m-.2 1.4h0m9.8 .6h0m2.7-9.5h0m4.7 5.5h0m-1.4 6h0m1.9 3.8h0m1.3-3h0m-.2 11.5h0m-.7 4.8h0m9.2-5.8h0" stroke="#373737" stroke-width="2" stroke-linecap="round"/><path d="M61.9 120.9h0m4.4-12.4h0m8.2 .1h0m-3 9.9h0m15.2-14.2h0m-5.5 3.7h0m8.3-8.8h0m1.4 .2h0m-2.1 4.9h0m1.6 14.9h0m6.3 2.4h0m6.9-24h0m-3.7 13.9h0m8.6-12.3h0m.8 11.9h0m.1 .3h0m4.3 5.4h0" stroke="#373737" stroke-width="1" stroke-linecap="round"/><path d="M73.9 108.4h0m-1.9 6.2h0m2.9 3.4h0m4.5-8.4h0m0 6.5h0m4.5-14h0m2.4 12.5h0m3-5.5h0m.1 16.3h0m7.4-24.8h0m-3.4 23.4h0m9.9-11.1h0m2.4 3.3h0" stroke="#373737" stroke-width="1.5" stroke-linecap="round"/><path d="M63.1 104.9h0m6.1 15.4h0m7.9 7.6h0m.3 2.4h0m8.9-10.9h0m1.7-18.5h0m9.5 10h0" stroke="#373737" stroke-width="2.5" stroke-linecap="round"/><path d="M96.3 119.2h0m10.1-19h0m3.4 21h0" stroke="#373737" stroke-width="0.6" stroke-linecap="round"/><path d="M62.9 107.6h0m9.9 3.2h0m-2.1 12.6h0m11.6-26.3h0m20 5h0m-.1 6.5h0m-1.7 13.1h0m9.2-3.9h0" stroke="#191919" stroke-width="2.5" stroke-linecap="round"/><path d="M60.9 112.1h0m13-17h0m10.4 30.2h0m4.8-31.7h0m-.4 14.2h0m0 2.3h0m8.5-22.5h0m2.8 24.5h0" stroke="#191919" stroke-width="2" stroke-linecap="round"/><path d="M60.1 104.8h0m13.3-1.6h0m-.8 8.2h0m-.1 19.3h0m8-26.4h0m1.2 14.7h0m9-9.5h0m1 3.8h0m2-1.8h0m8.7-7h0" stroke="#191919" stroke-width="1.5" stroke-linecap="round"/><path d="M65.1 113.9h0m14.4-12.7h0m.5 1.9h0m-3.9 7.5h0m4 4.2h0m2-12.9h0m4.9 15.4h0m-5.3 7.1h0m5.4-33.3h0m0 11.5h0m0 .3h0m6.2 19.7h0m8.6-10h0m0 19.5h0m6.9-27.3h0m.7 5.3h0" stroke="#191919" stroke-width="1" stroke-linecap="round"/></g>
<g filter="url(#pb)"><circle cx="155.4" cy="110.3" r="32.6" fill="#dadada" stroke="#959595" stroke-width="0.8"/><circle cx="154.8" cy="110.1" r="30.4" fill="#f3f3f3" stroke="#a8a8a8" stroke-width="0.6"/><path d="M140.9 97.8h0m-4.3 19.6h0m16.4-16.6h0m2.8 5.5h0m24.7-4.2h0" stroke="#b9b9b9" stroke-width="0.9" stroke-linecap="round"/><path d="M129.8 110.2h0m4.9 2.6h0m4.1 14.8h0m5.2-26.9h0m1.3 21.3h0m8.8 3.3h0m19-9.6h0m4.6-22.2h0m1 10.4h0" stroke="#b9b9b9" stroke-width="0.6" stroke-linecap="round"/><path d="M133.2 97.4h0m11.6 36.5h0m.5 3.6h0m13.3-53.1h0m-.8 7.7h0m1.2 16.6h0m-2.7 17.6h0m6.4 10.5h0m4.7-14.2h0m2.7 6.6h0m1.2-12.8h0m4.4 2.6h0m-2.2 .5h0m8.8-15.6h0m-1.4 14.6h0" stroke="#9b9b9b" stroke-width="0.6" stroke-linecap="round"/><path d="M158.2 95.6h0m-.2 24.4h0m13.9 .9h0m5.4-19.7h0" stroke="#9b9b9b" stroke-width="0.9" stroke-linecap="round"/><path d="M132.2 104.6h0m-1.3 16.6h0m15.2-20.5h0m.4 1h0m1.9 11.2h0m6.3-23.8h0m10.1 9.1h0m10.1 25.5h0" stroke="#7d7d7d" stroke-width="0.9" stroke-linecap="round"/><path d="M128.2 111.1h0m9.2-1.1h0m1.4 1.6h0m3.6 21.5h0m10.3-26.8h0m3.6-20.5h0m1.7 14.4h0m-2 10.7h0m14.6-4.8h0m-.5 13.3h0m7.9 9h0" stroke="#7d7d7d" stroke-width="0.6" stroke-linecap="round"/><path d="M143.9 104.8h0m1 27.1h0m11.4-47.1h0m4.5 20.2h0m6.6-18.5h0m3.7 37.9h0" stroke="#7d7d7d" stroke-width="1" stroke-linecap="round"/><path d="M128.2 113.6h0m4.3 8.9h0m10-37.6h0m2.3 39.3h0m7.3-19.8h0m-1.5 16.9h0m5.9-39.1h0m0 14.3h0m-.7 .1h0m.7 35.6h0" stroke="#5a5a5a" stroke-width="1" stroke-linecap="round"/><path d="M128.8 111.9h0m12.8 .8h0m21.4 7.7h0m9.1-2.2h0" stroke="#5a5a5a" stroke-width="0.6" stroke-linecap="round"/><path d="M136.7 98.5h0m3.1 12.6h0m3.9-8.6h0m.8 14.4h0m5.3-17.2h0m8.3-7.7h0m-.2 18.3h0m1.5 17h0m6.6-11.3h0m6.2 4.3h0" stroke="#373737" stroke-width="1.5" stroke-linecap="round"/><path d="M144.7 93.5h0m2.1 29.6h0m1.6-33.9h0m4.3 17.9h0m4.7 3.2h0m4.6-8h0m-.6 23.4h0m8.9-17.9h0m-1.1 14.7h0" stroke="#373737" stroke-width="2.5" stroke-linecap="round"/><path d="M139.1 96.5h0m3.2 30.4h0m14.1-8.7h0m.2 3.1h0m2.9-32h0m-.3 25.9h0m10.7-26.8h0m-3.1 36.9h0m5.9-1.1h0m5.5-4.4h0" stroke="#373737" stroke-width="2" stroke-linecap="round"/><path d="M145.4 99.5h0m-1.9 33.2h0m6.4-34h0m2.5 .2h0m-3.9 34.7h0m9.3-14.5h0m4-16.3h0m-.1 4h0m.6 28.2h0m7.4-8.7h0m2-3h0" stroke="#373737" stroke-width="1" stroke-linecap="round"/><path d="M138.8 120.4h0m6.6-10.1h0m2.4-13.9h0m3.6 .2h0m-.6 21.2h0m12.9-10.7h0m-1.9 6.4h0m1.9 11.1h0m3.6-24.4h0m2.4 4.3h0m-4.4 8.1h0m2.4 9.6h0m8.6-16.5h0m-4.4 7.1h0" stroke="#191919" stroke-width="1" stroke-linecap="round"/><path d="M154.5 118.5h0m21.1 4.7h0" stroke="#191919" stroke-width="2" stroke-linecap="round"/><path d="M127.8 104.8h0m2.9 2.1h0m7.6 2.2h0m14.6 .7h0m6-5.7h0m4.2 12.8h0m-.7 1.3h0m4.1-24.2h0" stroke="#191919" stroke-width="1.5" stroke-linecap="round"/><path d="M150.9 113.2h0m16 5.2h0m4.6-10.3h0m3.1 4.2h0" stroke="#191919" stroke-width="2.5" stroke-linecap="round"/></g>
<g filter="url(#pb)"><circle cx="223.2" cy="110.3" r="32.6" fill="#dadada" stroke="#959595" stroke-width="0.8"/><circle cx="222.6" cy="110.1" r="30.4" fill="#e3e3e3" stroke="#a8a8a8" stroke-width="0.6"/><path d="M199.5 122.2h0m6.7-27.8h0m4.4 39.7h0m3-34.2h0m-.5 6.5h0m.3 8.4h0m11 .8h0m-1.2 23.6h0m6.1-15.8h0m6.4-12.6h0m4.3-19.1h0m2.7 7.5h0" stroke="#b9b9b9" stroke-width="0.6" stroke-linecap="round"/><path d="M221.3 81.4h0m7.4 21.8h0m-1.3 13.3h0" stroke="#b9b9b9" stroke-width="0.9" stroke-linecap="round"/><path d="M213 109h0m13.3 .6h0m1.1 2.7h0m1.8 4.6h0m16.6-7.4h0" stroke="#b9b9b9" stroke-width="1" stroke-linecap="round"/><path d="M197.2 99.5h0m-.7 11.8h0m1.6 1.5h0m6.5-23h0m-1 23.6h0m2.5 9.5h0m2.7-34.5h0m1.9 12.9h0m1.6 1.5h0m-4.4 10.9h0m5 16h0m3.7-38.4h0m1.2 11.3h0m5.4 1.5h0m6.8-21.8h0m.3 9.9h0m-2.1 18.7h0m1.1 9.9h0m2.4-26.4h0m2.4 13.6h0m-.5 15.9h0m6.3-24.9h0m2.8 19.5h0m-4.3 12.6h0m6.3-34.5h0m3.1 3.8h0m-1.7 5.2h0" stroke="#9b9b9b" stroke-width="0.6" stroke-linecap="round"/><path d="M199.1 96.7h0m13.7-6.9h0m22 9.4h0m10 5.3h0" stroke="#9b9b9b" stroke-width="0.9" stroke-linecap="round"/><path d="M203.4 125.3h0m12.5-1.5h0m3.9-20h0m-.7 4.6h0m4.7 18h0m18.7-4.5h0m-1.4 2.6h0m-1.3 8.3h0m8.5-11.5h0" stroke="#9b9b9b" stroke-width="1" stroke-linecap="round"/><path d="M196.3 110.1h0m31-17.5h0m0 8.7h0m24.9 7.6h0" stroke="#7d7d7d" stroke-width="0.9" stroke-linecap="round"/><path d="M194.9 105.4h0m10.2-10.7h0m-1.1 12.5h0m.4 5.7h0m2.1 18.5h0m6.3-23.4h0m-2.8 1.5h0m-.6 1h0m2.5 10.9h0m.3 0h0m10.9-20.6h0m7.1 6.5h0m-2.2 12.2h0m5.7-17.5h0m.7 7.9h0m7.2 18.5h0m2.6-36.1h0m-.4 31.8h0m1.4 2.6h0m5.8-7.7h0" stroke="#7d7d7d" stroke-width="0.6" stroke-linecap="round"/><path d="M209.3 125.3h0m6.8 7.3h0" stroke="#7d7d7d" stroke-width="1.5" stroke-linecap="round"/><path d="M198 98.5h0m6.4 1.6h0m.1 17.8h0m4.5-22.9h0m3 27.3h0m5.1-22.1h0m-1.7 .7h0m-1.1 31.7h0m6.9-20.5h0m.7 21.9h0m4.8-21.3h0m.5 13.3h0m7-25.5h0m0 .2h0m7.3-.3h0m-3.3 7.7h0m0 15h0m6.2-9.7h0" stroke="#7d7d7d" stroke-width="1" stroke-linecap="round"/><path d="M208.6 100.6h0m2 18.5h0m8.3-.4h0m3-17.4h0m.3 23.7h0m-.8 12.2h0m7-50.1h0m12.8 27.9h0m-1.5 14.2h0m5.3-9h0m1.8 6.1h0" stroke="#5a5a5a" stroke-width="1" stroke-linecap="round"/><path d="M203.9 112.8h0m-1.5 5.1h0m9.4-24.7h0m-1.5 21.5h0m3.2-25.4h0m2.7 6.8h0m2.5 40.2h0m5.4 1.3h0m4.8-4.6h0m6-17.1h0m1.3 2.1h0m11.7-15h0" stroke="#5a5a5a" stroke-width="0.6" stroke-linecap="round"/><path d="M212.2 113.2h0m9.1-20.8h0" stroke="#5a5a5a" stroke-width="1.5" stroke-linecap="round"/><path d="M223.5 86.3h0m-3 14.6h0m20.8 9h0" stroke="#373737" stroke-width="0.6" stroke-linecap="round"/><path d="M231.1 86.9h0m6.7 8.6h0m3.5 28.8h0" stroke="#373737" stroke-width="1" stroke-linecap="round"/></g>
<g filter="url(#pb)"><circle cx="291.4" cy="110.3" r="32.6" fill="#dadada" stroke="#959595" stroke-width="0.8"/><circle cx="290.8" cy="110.1" r="30.4" fill="#ededed" stroke="#a8a8a8" stroke-width="0.6"/><path d="M302.4 99.8h0m-.5 32.5h0" stroke="#b9b9b9" stroke-width="0.6" stroke-linecap="round"/><path d="M310 100.5h0" stroke="#b9b9b9" stroke-width="1" stroke-linecap="round"/><path d="M272.5 122.9h0m4-18h0m18.1 5.9h0m2.1 20.8h0" stroke="#9b9b9b" stroke-width="1" stroke-linecap="round"/><path d="M287.8 127.3h0m12.7-18.1h0m10.3 1.5h0" stroke="#9b9b9b" stroke-width="0.6" stroke-linecap="round"/><path d="M280.7 85h0m1 14.2h0" stroke="#7d7d7d" stroke-width="1.5" stroke-linecap="round"/><path d="M286.2 127h0m14.6-32.2h0m1.1 .4h0m.1 34.2h0m13-26.4h0" stroke="#7d7d7d" stroke-width="1" stroke-linecap="round"/><path d="M271.7 119.1h0m15.3-20.6h0m.4 21.6h0m7.6 7.8h0m5-9.7h0" stroke="#7d7d7d" stroke-width="0.6" stroke-linecap="round"/><path d="M278.3 96.7h0m3.2-11.4h0m6 33.4h0m-1.5 3.7h0" stroke="#5a5a5a" stroke-width="1.5" stroke-linecap="round"/><path d="M270.2 117.6h0m13.9 14.7h0m4-27.9h0m9.3 6.9h0" stroke="#5a5a5a" stroke-width="0.6" stroke-linecap="round"/><path d="M304 117.8h0m0 3.8h0m14.6-11h0" stroke="#5a5a5a" stroke-width="1" stroke-linecap="round"/><path d="M284 106.6h0m12.5 30h0" stroke="#373737" stroke-width="0.6" stroke-linecap="round"/><path d="M310.5 109.4h0" stroke="#373737" stroke-width="1.5" stroke-linecap="round"/><path d="M306.4 117.7h0" stroke="#373737" stroke-width="1" stroke-linecap="round"/></g>
<g filter="url(#pb)"><circle cx="359.8" cy="110.3" r="32.6" fill="#dadada" stroke="#959595" stroke-width="0.8"/><circle cx="359.2" cy="110.1" r="30.4" fill="#e9e9e9" stroke="#a8a8a8" stroke-width="0.6"/><path d="M350.5 87h0" stroke="#373737" stroke-width="1.5" stroke-linecap="round"/></g>
<text x="24.9" y="181.7" font-size="9.4" text-anchor="middle" transform="rotate(-90 24.9 181.7)">USP44</text>
<text x="35.6" y="181.7" font-size="9.4" text-anchor="middle" transform="rotate(-90 35.6 181.7)">+</text>
<text x="46.3" y="181.7" font-size="9.4" text-anchor="middle" transform="rotate(-90 46.3 181.7)">siTRIM25</text>
<g filter="url(#pb)"><circle cx="87" cy="181.7" r="32.6" fill="#dadada" stroke="#959595" stroke-width="0.8"/><circle cx="86.4" cy="181.5" r="30.4" fill="#f1f1f1" stroke="#a8a8a8" stroke-width="0.6"/><path d="M62.1 178.4h0m12.4-20.8h0m-4.6 .7h0m8.2 21.4h0m32.1-5.7h0m-4.4 15.1h0" stroke="#b9b9b9" stroke-width="0.6" stroke-linecap="round"/><path d="M58.9 182.2h0m9.4 5.9h0m29.9 8.5h0" stroke="#b9b9b9" stroke-width="0.9" stroke-linecap="round"/><path d="M86.3 162h0m-3.2 20h0m7.4-2.6h0m2.5-6h0m15.6 18.7h0" stroke="#9b9b9b" stroke-width="0.9" stroke-linecap="round"/><path d="M68.9 164.1h0m-1.2 11.9h0m2.6 8.8h0m-.2 8.2h0m10.3-6.3h0m-1 16.1h0m10.6-22.8h0m7.4-10.4h0m6.7-5.4h0m-4.2 5.1h0m4.3 15.5h0m-3.5 11.8h0m4.8 3.5h0m6.9-27.6h0m2.8 3.7h0m-2.8 13.9h0" stroke="#9b9b9b" stroke-width="0.6" stroke-linecap="round"/><path d="M62.2 172.7h0m-1.7 10.4h0m12.6-23.4h0m-1.3 7.6h0m7.7-4.9h0m6.5 14.2h0m-.6 16.5h0m1.8 12.2h0m8.3-44.5h0m2 3.5h0m0 10.9h0m4.2 5.2h0m6.1 1.4h0m.6 19.4h0m-2.7 2.5h0" stroke="#7d7d7d" stroke-width="0.6" stroke-linecap="round"/><path d="M67.2 175.2h0m3.9-4h0m14.6-16.9h0m9.7 24.4h0m15.7 3.9h0" stroke="#7d7d7d" stroke-width="0.9" stroke-linecap="round"/><path d="M77.6 177.1h0m.7 12.1h0m24.1-12h0m8 16.3h0" stroke="#5a5a5a" stroke-width="1" stroke-linecap="round"/><path d="M69.4 164.9h0m3.6 3.2h0m30.1 23.1h0m4.4-21.5h0" stroke="#5a5a5a" stroke-width="1.5" stroke-linecap="round"/><path d="M90.7 155.6h0" stroke="#5a5a5a" stroke-width="0.6" stroke-linecap="round"/><path d="M63.5 197.4h0m9.2-14.9h0m2 4.7h0m-2.2 4.3h0m7.1-36.6h0m-2.4 29.2h0m5.5-16.5h0m-.5 9h0m1.8 1.3h0m-.3 .7h0m3.1 1.8h0m-3.6 1.9h0m1.3 9.5h0m6.3-20.4h0m1.6 13.3h0m-4.1 17.5h0m10.2-39.5h0m-2 6.8h0m2.1 20.7h0m1.1-18.7h0m2.2 5h0" stroke="#373737" stroke-width="2" stroke-linecap="round"/><path d="M77.3 193.1h0m9.2-13h0m-5.1 14.7h0m7.2-13.2h0m5.2 7.7h0m8.8-2.9h0" stroke="#373737" stroke-width="3" stroke-linecap="round"/><path d="M66.6 190.9h0m7.2-22.6h0m-3.8 9.3h0m9.8-7.2h0m0 19.6h0m1.3-12.7h0m2.2 4.6h0m1.2 .5h0m-3 .4h0m5.2 10.4h0m5-32.4h0m-2.6 9.1h0m.4 7.9h0m3.5 13.5h0m.8-12.6h0m5.9 4.6h0m.7 11.7h0m8.8-28.5h0" stroke="#373737" stroke-width="1.5" stroke-linecap="round"/><path d="M62.5 191.2h0m5-18.8h0m-2.5 3.9h0m3 .6h0m1 9.1h0m-5 10.6h0m10.5-15.9h0m6 3h0m6.4-15.3h0m-.9 5.8h0m-4.4 3.4h0m3.7 3.5h0m-1.2 1.2h0m0 2.8h0m-2.2 2.5h0m10.2-24.7h0m-.2 3.9h0m-3.8 8.6h0m1.2 1.6h0m2.9 16.4h0m-1 7.2h0m5.2-15h0m-1.8 3.3h0m-1.5 20.4h0m11-44.2h0m.3 21.9h0m-2.4 17.9h0m4.8-35.7h0" stroke="#373737" stroke-width="1" stroke-linecap="round"/><path d="M70.4 179.9h0m10.3-8.4h0m-4.8 5.3h0m3.5 6.6h0m11-1.9h0m1.9 5.5h0m4.9 4.5h0m3.9-9.5h0m8.1 .1h0" stroke="#373737" stroke-width="2.5" stroke-linecap="round"/><path d="M86.5 157h0m3.2 17.7h0" stroke="#373737" stroke-width="0.6" stroke-linecap="round"/><path d="M72.7 186.1h0m4.9-30.4h0m-1.3 15h0m1 .6h0m2.7 15.5h0m-4.6 2.4h0m13.8 16.8h0m9.3-29.7h0m-5.1 5.3h0m-.3 13.2h0" stroke="#191919" stroke-width="3" stroke-linecap="round"/><path d="M78.5 178.8h0m5.2-3.6h0m-1.3 6.7h0m-.8 13.9h0m9.4-35h0m-2 19h0m1.8 1.7h0m7.2 6.3h0m-.9 14.3h0m4.3-40.8h0m2.9 11.3h0m0 1.4h0m-2.9 2.2h0m-1.3 .3h0m4.7 11.4h0" stroke="#191919" stroke-width="1.5" stroke-linecap="round"/><path d="M59.5 179.6h0m11.6-.6h0m.2 2.9h0m2.7 0h0m2.4-8.8h0m.3 11.4h0m10-5.4h0m-2.4 2.5h0m-1.6 .3h0m2 5.1h0m1.5 1.2h0m-4.1 .7h0m.9 1.2h0m-.5 .3h0m7.1-13.6h0m4 4.7h0m1.4 6.1h0m-.4 1.2h0m6.1-28.2h0m.3 14.9h0m1.4 7.9h0" stroke="#191919" stroke-width="2.5" stroke-linecap="round"/><path d="M61.1 176.9h0m5.1-1.1h0m14.1-19.9h0m-.1 17.6h0m.5 7.2h0m4-24.4h0m-3.6 37.6h0m7.7-19.8h0m-.9 7.4h0m8.8-1.9h0m-1 8.9h0m1.4 1.3h0m10.9 0h0m6-15h0" stroke="#191919" stroke-width="2" stroke-linecap="round"/><path d="M60.5 175h0m5.2-9.5h0m-1.3 .5h0m.4 8.4h0m5.2-1.9h0m3.7 18h0m4.5-11.8h0m.6 5.9h0m2.2 4.6h0m-5.7 3.7h0m2.8 9h0m5.3-30h0m-.3 11.4h0m1.4 1.6h0m-.6 3.3h0m7.5-11h0m-1.5 11.6h0m3 4.2h0m-1.8 1.1h0m5.7-20.2h0m-2.7 21.6h0m7.8 1.5h0m5.1-5.6h0" stroke="#191919" stroke-width="1" stroke-linecap="round"/><path d="M113.8 183.6h0" stroke="#191919" stroke-width="0.6" stroke-linecap="round"/><path d="M65.5 164.4h0m40.3-3.5h0m4.1 34h0" stroke="#191919" stroke-width="3.5" stroke-linecap="round"/></g>
<g filter="url(#pb)"><circle cx="155.4" cy="181.7" r="32.6" fill="#dadada" stroke="#959595" stroke-width="0.8"/><circle cx="154.8" cy="181.5" r="30.4" fill="#f1f1f1" stroke="#a8a8a8" stroke-width="0.6"/><path d="M128.3 188.4h0m11.7-30.7h0m6 44.8h0m3.1-44.6h0m3.5 2.8h0m-1.1 26.3h0m-2.2 3.9h0m9.6-6.2h0m4.4-10.7h0m-.8 20.5h0m4.7-8.7h0m7.9-24.3h0" stroke="#b9b9b9" stroke-width="0.6" stroke-linecap="round"/><path d="M145.3 176.4h0m6 32.8h0m2.7-.1h0m11.2-29.1h0m6.5-11.3h0" stroke="#b9b9b9" stroke-width="0.9" stroke-linecap="round"/><path d="M126.9 185.4h0m12.9 8.6h0m5.4-16.7h0m.6 17.5h0m-2.4 7.9h0m9.2-25.6h0m-2.9 5.3h0m-1.1 20.5h0m9.1-32.1h0m1 13.4h0m-.1 3.6h0m-3 1.9h0m10.4-6.7h0m11.9 9.1h0" stroke="#9b9b9b" stroke-width="0.6" stroke-linecap="round"/><path d="M128.3 187.5h0m22.1 8.4h0m2.7 5.4h0m6-23.9h0" stroke="#9b9b9b" stroke-width="0.9" stroke-linecap="round"/><path d="M146.4 164.3h0m8.1-11.1h0m7.3 33.5h0" stroke="#7d7d7d" stroke-width="0.9" stroke-linecap="round"/><path d="M131.5 171.9h0m2 1.3h0m-2.4 10.2h0m6.4-4.6h0m-2.1 11.8h0m15.8-8.6h0m4.3 5h0m8.3 8.2h0m.3 .3h0m-4.5 5.1h0m13.3 4.1h0m6.8-11.8h0" stroke="#7d7d7d" stroke-width="0.6" stroke-linecap="round"/><path d="M132.4 191.9h0m4.5 5.8h0m18.5-3.8h0m14.1-35.9h0m-.2 2.3h0m13.2 18.7h0" stroke="#5a5a5a" stroke-width="2" stroke-linecap="round"/><path d="M143.1 161.7h0" stroke="#5a5a5a" stroke-width="1" stroke-linecap="round"/><path d="M167.2 181.7h0" stroke="#5a5a5a" stroke-width="1.5" stroke-linecap="round"/><path d="M127.6 177.1h0m4.6 5.7h0m11.9 20h0m8.6-32h0m-2.3 4.4h0m0 4.1h0m-.1 5.6h0m.3 10h0m5.6-42.1h0m.5 12.9h0m-2 2.1h0m1.3 12h0m-2.7 2.8h0m2.8 1.1h0m-.9 .6h0m-1.5 7.4h0m9.8-10h0m-1.1 1h0m-2.1 1.2h0m.9 2.4h0m-1.3 1.8h0m-.2 1.1h0m3.3 4h0m6.9-5.9h0m6.8-9.2h0m-2.5 4.4h0m-.8 17.2h0m5.1-33.4h0m.7 27h0" stroke="#373737" stroke-width="1" stroke-linecap="round"/><path d="M132.4 181.8h0m13-2.4h0m-2.9 5.3h0m4.4 1h0m-3.4 2.9h0m-1.2 .2h0m9.7-29.4h0m-.3 16.6h0m-.5 2.8h0m-3.4 7.5h0m6.2-21.4h0m-1 13.4h0m7.9-4.6h0m-1.6 12.9h0m6.3-6.2h0m2.4 2.6h0m.7 18.6h0m-2 2.2h0m4.5-40.3h0m3.1 15h0m1.1 17.9h0m1.6 3.2h0" stroke="#373737" stroke-width="1.5" stroke-linecap="round"/><path d="M137.3 196.1h0m14.4-5.8h0m-1.3 .2h0m7.8-8.4h0m5.4 9h0m2.7-22.9h0m1.4 8.9h0" stroke="#373737" stroke-width="2.5" stroke-linecap="round"/><path d="M135.9 179.3h0m11-15.1h0m1.7-2.3h0m1.3 19.7h0m-.4 2h0m2.6 .6h0m.7 .4h0m4.1-8.7h0m3.4-2h0m1.7 3.1h0m-.1 .4h0m-1.3 11.4h0m5.7 14.5h0" stroke="#373737" stroke-width="2" stroke-linecap="round"/><path d="M157.4 183.7h0m8.2-5.2h0m6.6 10.2h0" stroke="#373737" stroke-width="3" stroke-linecap="round"/><path d="M155.3 194.9h0" stroke="#373737" stroke-width="0.6" stroke-linecap="round"/><path d="M138.9 164.1h0m1.9 17.1h0m-4.3 .6h0m2.2 5.2h0m8-16.8h0m4.8 19h0m-2.1 6h0m8.9-17.8h0m-1 .7h0m-2.1 20.6h0m5.3-44h0m4 18h0m-5.3 11.6h0m.3 18.5h0m6.4-32.6h0m10.9-.9h0m-2.7 7.9h0m-2.4 15.8h0" stroke="#191919" stroke-width="2" stroke-linecap="round"/><path d="M138 177h0m3 29.1h0m6.9-32.8h0m.7 5.4h0m2.6 6h0m-2.6 5.4h0m8-20.3h0m-1.2 1.3h0m3.2 3.7h0m-2.9 4.3h0m1.3 2.3h0m2.2-4.7h0m3.6 1.5h0m-.2 9.8h0m6-8.5h0m3.1 7.2h0m11.3-4.5h0" stroke="#191919" stroke-width="1.5" stroke-linecap="round"/><path d="M129 188.6h0m11.1-19h0m2-2.8h0m1 4.8h0m-1.9 10h0m0 9.3h0m6.7-29.3h0m-.5 27.9h0m9.8-18.5h0m-1.8 6.3h0m-1 .9h0m.6 .2h0m3.6 5.4h0m-2 2.9h0m-1.5 1.8h0m-1.2 .5h0m3.1 4.1h0m-.8 3.9h0m3.6-34.2h0m-.7 9.1h0m1.7 2.8h0m2.6 1.6h0m-1.5 2.1h0m1.2 3.2h0m1.6 .6h0m-4.5 1.9h0m2.1 2.5h0m0 8.7h0m-2.7 13h0m9.7-45.3h0m-1.3 11.9h0m0 3.2h0m-.2 4.6h0m-2.1 20.2h0m8.4-15.4h0m-1.7 .5h0m-1.1 1.8h0m10.5-13.8h0" stroke="#191919" stroke-width="1" stroke-linecap="round"/><path d="M139.2 202.2h0m6-20.1h0m3.4-9h0m1.8 18.3h0m-1.3 .6h0m2.4 .9h0m11.7-14h0m-2.4 1.4h0m-1.8 1.7h0m1.2 8.3h0m11.6-30.6h0m-.3 28.1h0" stroke="#191919" stroke-width="2.5" stroke-linecap="round"/><path d="M139.8 182h0m-3.8 17.1h0m10.1 5.4h0m18.4-46.5h0m6.4 44.9h0m4.2-25.8h0m-2.7 26.7h0m10.1-23.5h0" stroke="#191919" stroke-width="3" stroke-linecap="round"/><path d="M128.6 173.6h0m6.2 25.7h0" stroke="#191919" stroke-width="0.6" stroke-linecap="round"/></g>
<g filter="url(#pb)"><circle cx="223.2" cy="181.7" r="32.6" fill="#dadada" stroke="#959595" stroke-width="0.8"/><circle cx="222.6" cy="181.5" r="30.4" fill="#ebebeb" stroke="#a8a8a8" stroke-width="0.6"/><path d="M203.8 173.3h0m-1 14.5h0m3.2 14.6h0m1.2-42.1h0m.8 8.8h0m.1 4.9h0m4.5 18h0m1.2-32h0m5 9.5h0m-3.1 9h0m21.2-13.8h0m-2.3 3.7h0m4.5 9.6h0m8.5-11.5h0m-4.1 10.8h0" stroke="#b9b9b9" stroke-width="0.9" stroke-linecap="round"/><path d="M200.3 179.6h0m-1 12.4h0m3.8-27h0m.6 22.6h0m6.5-24.2h0m1.7 13.1h0m-.3 8.4h0m-2.2 18h0m4.1-15.1h0m3.6 17h0m-.3 2.1h0m2.2-38.4h0m1.2 3.7h0m3.6 4h0m.8 7.2h0m4 12h0m-1.8 9.7h0m-1.4 4.3h0m8.8-50.2h0m1.5 2.6h0m.3 3h0m.6 9.8h0m-1.9 21.6h0m4.6-17.8h0m1.3 9.2h0m2.4 2.3h0m1.5-17.6h0m2.2 4.8h0m-.5 4.7h0m-1.3 18.5h0" stroke="#b9b9b9" stroke-width="0.6" stroke-linecap="round"/><path d="M202 172.1h0m0 13.6h0m-.8 13.1h0m10-40.7h0m5.3 1.9h0m.2 20h0m-1.4 25.7h0m9-47.9h0m.6 18.3h0m3.6 .8h0m2.2 .9h0m-1.3 3.1h0m-3 3.2h0m7.9-21h0m5.2-3.4h0m-1.7 5.1h0m8 10.7h0m-1.8 26.3h0" stroke="#9b9b9b" stroke-width="0.9" stroke-linecap="round"/><path d="M205.5 163.9h0m-.8 5.9h0m1 12.8h0m-3.5 18h0m2.2 .8h0m3.1-42.4h0m3.4 6.8h0m-1.3 14.8h0m2.4 8.5h0m-4.9 9.6h0m4.5 3.1h0m-1 2.7h0m3.9-49.7h0m.8 11.3h0m2.7 .8h0m5.2 5.7h0m-2.1 14.8h0m1.8 3.2h0m-1.9 6.2h0m3.1 3.4h0m4.9-38.4h0m-3.2 3.5h0m.8 3h0m2 .7h0m-.9 2.9h0m-1.9 .7h0m-.8 6.4h0m.3 2.1h0m1.5 20h0m-1.6 2.2h0m10.3-47.7h0m.3 7.2h0m-3.4 1.8h0m0 3.7h0m.3 19.7h0m3.9 7.8h0m-2.8 10.6h0m-1.6 .4h0m10-43.2h0m-3 .6h0m-.2 3.1h0m-.4 3.2h0m3.1 3.3h0m.8 4.8h0m-1.7 6.1h0m-3.5 1.8h0m3.9 1.6h0m-.2 2.9h0m-3.3 8.6h0m7.1-34.4h0m2.6 13.2h0m1.3 4h0m-1.1 2.7h0m1.1 4.2h0m-3.9 2.6h0m5.8-18.4h0m-1.3 9.2h0m1.2 6.1h0" stroke="#9b9b9b" stroke-width="0.6" stroke-linecap="round"/><path d="M208 186.1h0m16.8-23h0m15.1 30.7h0" stroke="#9b9b9b" stroke-width="1" stroke-linecap="round"/><path d="M200.7 168.4h0m-.8 3.6h0m-3.5 12.5h0m2.9 2.2h0m-1.8 4.2h0m1 2.3h0m5.1-28.3h0m-2 3h0m2.7 35.3h0m5.7-24.2h0m-1.7 5.7h0m4.4 4.5h0m-5.4 3.9h0m2 6.4h0m6.5-42.7h0m.2 3.9h0m-1.1 6.5h0m1.4 3h0m.6 10.4h0m-.3 6.2h0m-1.8 19.3h0m8.2-37.7h0m1.6 1.8h0m-4.3 4.1h0m.4 7.6h0m-.9 1.6h0m.8 10.2h0m-1.3 3.5h0m10.1-42.7h0m-2.9 22h0m-1.1 4.8h0m1.3 .7h0m4 26.8h0m5.1-52.3h0m-1.4 4.2h0m2.5 1.5h0m-.4 28.1h0m-3.6 1.4h0m1.9 4.4h0m3-16.8h0m3.3 7.1h0m-1.9 10.5h0m5.5-31.7h0m3.7 12h0m-4.4 11.2h0m-.9 .8h0m6.4-10.5h0" stroke="#7d7d7d" stroke-width="0.6" stroke-linecap="round"/><path d="M202.2 176.1h0m6.6 4.8h0m0 12.7h0m6.8-9h0m3.1 10.6h0m4.1-23.5h0m0 10.6h0m0 9.7h0m.3 .5h0m-3.3 12h0m2 4.4h0m-.2 .9h0m9.3-50.6h0m-4 10.3h0m-.9 31.6h0m7.9-31.8h0m3.5 20.3h0m3.6 .9h0m6.5-19.4h0m4 4.6h0" stroke="#7d7d7d" stroke-width="0.9" stroke-linecap="round"/><path d="M196.2 192h0m8.4-16.1h0" stroke="#7d7d7d" stroke-width="1.5" stroke-linecap="round"/><path d="M197.7 170.5h0m1.1 10.4h0m5.3-9.3h0m-1.3 16.2h0m9.1-2.6h0m-3.1 10.8h0m.7 10.4h0m5.4-37h0m7.4-9.3h0m1.7 48h0m8-51h0m7.4 6.2h0m2.3 36.5h0m-3.7 3.8h0m7.2-32.3h0m2.9 11.4h0m-.2 4.2h0" stroke="#7d7d7d" stroke-width="1" stroke-linecap="round"/><path d="M195.2 178.5h0m9.3-12.6h0m1.2 10.4h0m3.7 18.6h0m2.3 4h0m-1.1 1.2h0m2.7-32.8h0m4.2 13.2h0m7.4-24.3h0m-3.2 1.6h0m-1.9 14.3h0m7.6-8.5h0m.9 15.7h0m13.5-15.4h0m-3.5 31.5h0m10.8-22h0" stroke="#5a5a5a" stroke-width="1.5" stroke-linecap="round"/><path d="M200.1 181.7h0m-2.5 13h0m9.1-1.7h0m1.3 6.7h0m8.9-38.2h0m-3.3 12.7h0m4.7 10h0m2.6-16.5h0m2.3 13.8h0m5.6-23.6h0m-1.7 1.4h0m1 30.8h0m.9 12.3h0m-2.5 5.7h0m9.6-36.5h0m-5 37.4h0m8.3-48.5h0m-.6 6.6h0m1.2 13.2h0m1.9 7.4h0m.8 8.3h0m3.5-10.1h0m2.7 8.4h0m.7-4h0" stroke="#5a5a5a" stroke-width="1" stroke-linecap="round"/><path d="M226.3 156.4h0m6.6 19.6h0m12 24.1h0" stroke="#5a5a5a" stroke-width="3" stroke-linecap="round"/><path d="M196.9 191.8h0m9.1-13.6h0m3.9 8.1h0m4.8-17.9h0m16.1 5.3h0m-4.4 9.9h0m10.5-3.9h0m-5.7 27.7h0m12.5-38.8h0" stroke="#5a5a5a" stroke-width="2" stroke-linecap="round"/><path d="M200 172.2h0m16.1 21.9h0m14.6 1.5h0" stroke="#5a5a5a" stroke-width="2.5" stroke-linecap="round"/><path d="M200.1 195.4h0m9.9-21.1h0m.4 32.9h0m2.7-35.4h0m1.4 16h0m1.4 11.7h0m11.1-24.5h0m7.4 21.6h0m-1.1 3.9h0m-1.3 5.4h0m13.1-31.4h0" stroke="#5a5a5a" stroke-width="0.6" stroke-linecap="round"/><path d="M211.6 159.1h0m-.5 40.2h0m5.3-42.7h0m5.8 44.8h0m12.5-34.6h0m-1 21.6h0m-.2 8.4h0m-.3 10.4h0m4.5-40h0" stroke="#373737" stroke-width="2.5" stroke-linecap="round"/><path d="M200.1 165h0m-2.9 5.6h0m1.6 4.6h0m-2.8 3.7h0m3.8 10.8h0m2.9-13.4h0m-.4 17.9h0m0 .5h0m2.9 2h0m3-34.8h0m2.7 23.3h0m-2.8 12.7h0m6.5-39.8h0m-.2 26.8h0m-.1 13.5h0m4.5 1.4h0m3.3-40.4h0m.7 14.6h0m.8 8.8h0m-3.2 19.3h0m-1.3 6.2h0m.7 2h0m8.5-52h0m.1 3.9h0m-2.2 11.3h0m.9 2.3h0m-1.1 11.3h0m9.1-15.7h0m.4 3.7h0m.4 16.6h0m-1.5 3.4h0m.9 2.9h0m-.5 4h0m8.2-30.9h0m-.9 21.3h0" stroke="#373737" stroke-width="1" stroke-linecap="round"/><path d="M201.7 168.6h0m10.8-5.8h0m-3.1 44.3h0m7.4 1.9h0m.3 .5h0m3.2-37.3h0m4.3 9.5h0m-4.8 8.8h0m2 2.1h0m7.2-35.6h0m.4 2.8h0m-1.2 18.4h0m6.9-6h0m1.1 19.3h0m-2.3 .2h0m7.4-17.8h0m-2.8 13.7h0" stroke="#373737" stroke-width="2" stroke-linecap="round"/><path d="M199 192.1h0m11.7-5.9h0m-1 4.4h0m1.5 4.4h0m-1.6 10.5h0m5.5-37.9h0m-1.8 3.9h0m3.8 14.8h0m-3.9 7.8h0m9.7 10.7h0m6.8 .7h0m18.4-37.5h0" stroke="#373737" stroke-width="1.5" stroke-linecap="round"/><path d="M211.1 165.9h0m3.6-9.9h0m2.2 23.7h0m16.4-15.7h0m6.8 2.3h0m-2.7 12.3h0m11.2 9.5h0" stroke="#373737" stroke-width="3" stroke-linecap="round"/><path d="M196.1 188.2h0m9 8.3h0m11 7.8h0m8.3-20.2h0m.5 2.1h0m-3.3 14.4h0m.3 5.9h0m6.2-42.6h0m-.6 15.8h0m3.1 10h0m-3 5h0m-1.3 .9h0m6.3-.6h0m8.9-28.9h0m5.4 .7h0m3.4 17.5h0m.9 1.6h0" stroke="#191919" stroke-width="1.5" stroke-linecap="round"/><path d="M207.7 188.8h0m10.8 8.5h0m8.5-17.6h0m14.4 6.1h0m6.2 3.3h0" stroke="#191919" stroke-width="2.5" stroke-linecap="round"/><path d="M211.7 169.2h0m7 12.2h0m-1 .8h0m7.2-26.3h0m-.2 1.2h0m-3.7 1.2h0m9.5 7.4h0m-1.5 9.8h0m.8 31.2h0m5.2-1.9h0m14.1-15.8h0" stroke="#191919" stroke-width="1" stroke-linecap="round"/><path d="M210 186.9h0m9.8 .2h0m3.4 4.1h0" stroke="#191919" stroke-width="3" stroke-linecap="round"/><path d="M204.7 195.7h0m6.5-33.4h0m10-2.9h0m2.2 13.3h0m-3.5 27h0m6.6-46.2h0m7.2 41h0m3.9-28.3h0" stroke="#191919" stroke-width="2" stroke-linecap="round"/></g>
<g filter="url(#pb)"><circle cx="291.4" cy="181.7" r="32.6" fill="#dadada" stroke="#959595" stroke-width="0.8"/><circle cx="290.8" cy="181.5" r="30.4" fill="#e9e9e9" stroke="#a8a8a8" stroke-width="0.6"/><path d="M265.6 168.7h0m5.1 .6h0m-2.6 7.7h0m2.3 5h0m11.3-2.1h0m1.1 5.2h0m.2 21.9h0m2.4-49.8h0m4.3 .4h0m-3.3 2.6h0m.2 9.5h0m-1.4 7h0m1.8 5.6h0m6-29.2h0m-1.9 11.4h0m1.4 .8h0m1.3 20.7h0m2.4 4.3h0m-3.6 7.3h0m-.8 9.4h0m8-49.9h0m-1.3 8.2h0m.5 9.4h0m9-16h0m-4.6 6.6h0m0 12.4h0m8.3 19.5h0m3.6-19.5h0m1.8 1.4h0m2.1 6.8h0" stroke="#b9b9b9" stroke-width="0.6" stroke-linecap="round"/><path d="M267.4 189.6h0m6.5 15h0m9.6-45.1h0m.1 47.8h0m3.5-8.2h0m8.7 4.8h0m1.8-23.3h0m-.5 6.9h0m4.4 14.7h0m5.9-19.2h0m3.4-5h0m2.3 20.9h0m2-1h0" stroke="#b9b9b9" stroke-width="0.9" stroke-linecap="round"/><path d="M265.6 188.6h0m.3 6h0m7-30.7h0m-1 .1h0m-3.9 1h0m-.2 16.4h0m3.9 5.3h0m-2.4 5.4h0m8.2-29.7h0m-3.1 8h0m4.3 5.6h0m-3.9 2h0m-1.3 1.8h0m2.1 .8h0m3 9.6h0m-2.8 6.7h0m8.9-41.6h0m-1.5 5.6h0m-.5 1.8h0m-1.8 3.4h0m-.7 1.6h0m4.2 2.2h0m-3.9 25.6h0m6.2-28.5h0m-1.7 13.7h0m1.1 6.3h0m2.5 3.4h0m-2.8 13.2h0m6.2-49h0m3.6 17h0m-.7 8.2h0m-.1 1.4h0m0 .2h0m-1.8 22.2h0m7-43.1h0m1.3 4.7h0m1.2 5h0m-3.5 9.8h0m2.6 8.4h0m-2.9 .8h0m-.6 1.8h0m.3 .1h0m4.3 12h0m5.8-42.5h0m-2.9 1h0m-2.6 0h0m3 0h0m-2.3 7.1h0m.6 8.2h0m-.7 .9h0m1.3 3.5h0m1 0h0m-2.7 17.1h0m4.2 6.5h0m6.6-35.9h0m.9 19.2h0m-4.3 8.5h0m7.9-24.2h0m-.6 3.4h0m-1.7 12.1h0m1.7 .3h0" stroke="#9b9b9b" stroke-width="0.6" stroke-linecap="round"/><path d="M263.2 188h0m2 .7h0m6.2-9.2h0m-.9 12.6h0m.7 7.9h0m4.1-18.2h0m-1 1.4h0m10.3-29.1h0m3.7 .9h0m.8 14.3h0m6 1.2h0m-2.6 15.5h0m9.6-20.4h0m.2 15.6h0m-4.5 1.2h0m-.3 7.6h0m10.9-26.5h0m4.4 32.4h0m4.3-19.6h0" stroke="#9b9b9b" stroke-width="0.9" stroke-linecap="round"/><path d="M266 182.6h0m.1 3.5h0m.3 5.3h0m3.5-23h0m-1 17.4h0m11-24h0m4.2 7h0m-1.3 8.5h0m-3.5 14.7h0m4.2 1.6h0m.3 4h0m-2.3 6.6h0m3.9-23.1h0m1.7 .7h0m-1.5 25.1h0m5.4-48.8h0m1.8 7.7h0m-.8 20.9h0m7.8-4.9h0m-2.3 9.3h0m5 .6h0m9 3.4h0m1.1 4.2h0" stroke="#9b9b9b" stroke-width="1" stroke-linecap="round"/><path d="M264 176.4h0m-.5 1.8h0m.2 2.5h0m.6 9.5h0m.9 4.2h0m1.9-25.5h0m2.5 2.9h0m1.6 20.5h0m-.5 0h0m1.7 2.9h0m-.7 1.8h0m-.1 3.1h0m6.9-13.7h0m-3.6 .6h0m1.2 .7h0m1.6 2.2h0m-.7 5.9h0m2-20.1h0m5.2 9.1h0m0 2.3h0m-2 8.1h0m1.2 2.8h0m-3.2 .6h0m10.4-43.9h0m-.2 12.6h0m-4.6 7.7h0m.6 1.2h0m-.9 6.9h0m.7 .6h0m.6 9.8h0m.3 4h0m2 8.9h0m4-51.5h0m2.5 .2h0m-3.4 1.9h0m-.7 9.6h0m-.2 18.1h0m5.4 3.6h0m-.4 7.1h0m-3.1 5.5h0m.6 1.8h0m1 1.3h0m-3.8 .4h0m5.3 3.6h0m2.2-46.3h0m.1 8h0m-.8 2h0m3.6 2.2h0m.2 6.4h0m-1.5 .7h0m.5 4.2h0m-.6 1.2h0m1.9 1.6h0m-4.6 2.6h0m5.1 13.5h0m1.5-37h0m-.3 2.6h0m.7 1.3h0m2.5 5.2h0m-2.6 11.8h0m-.6 2h0m3.6 4h0m-1.4 5h0m7.9-29h0m-3.9 14h0m2.9 1.5h0m-2 4.9h0m2.6 2.7h0m.2 .1h0m1.3 1.9h0m1.6-7.6h0m.1 8.5h0" stroke="#7d7d7d" stroke-width="0.6" stroke-linecap="round"/><path d="M272.4 171.5h0m1.2 4.2h0m8.2-18.6h0m.4 8.5h0m-1 3.1h0m-.5 1.2h0m-.7 24.7h0m1 .9h0m5.2-37.9h0m3 18.2h0m0 23.2h0m3.6-34h0m1.6 22.9h0m4.5-31.2h0m-.7 20.5h0m9.7-.2h0m-4.9 27h0m1.4 1.6h0m5.7-35.2h0m8.3 15.6h0m-2.4 9.2h0" stroke="#7d7d7d" stroke-width="0.9" stroke-linecap="round"/><path d="M263.5 188.6h0" stroke="#7d7d7d" stroke-width="2" stroke-linecap="round"/><path d="M263.7 186.2h0m2.7 8.8h0m4.7-25.1h0m.2 31.2h0m4.1-6.9h0m-.8 4.7h0m5.9-31h0m1.3 .4h0m2 3.5h0m1.3-12.5h0m3.4 12.2h0m.4 4.1h0m-1.6 15.1h0m-1.1 11h0m10.7-46.4h0m-3.1 3.6h0m-1.7 13.9h0m2.7 3.9h0m1.8 10.5h0m-4.9 2.7h0m1.2 .8h0m7.6-36h0m2 16.7h0m-3.3 20.7h0m3.4 .8h0m.8-27.6h0m3.6 27.9h0m-2.6 1.6h0m-.6 2.5h0m7.1-33h0m3.4 1.8h0m-3.4 15.6h0m2.7 2.4h0m-2.4 9.2h0m7.4-19.4h0m-2.5 9.3h0" stroke="#7d7d7d" stroke-width="1" stroke-linecap="round"/><path d="M269.5 172h0m12.4 7.8h0m3.6-25.2h0m.9 19.5h0m-.4 30.3h0m6.4-40.5h0m6.8-7.1h0m6 4.3h0m9.4 7.1h0m1.6 4.6h0" stroke="#7d7d7d" stroke-width="1.5" stroke-linecap="round"/><path d="M275.6 164.8h0m10.7 25.5h0m-.1 12h0m10.2-11.1h0m-5.3 4.5h0m10 5.7h0m2.5-45.2h0m2.1 1.9h0m-1.1 36.4h0m1.3 5.5h0m3.8-32.4h0m-.3 30.6h0m6-9.2h0" stroke="#5a5a5a" stroke-width="0.6" stroke-linecap="round"/><path d="M263.6 176.6h0m3.4 2.4h0m-1 2.9h0m7.3-17.2h0m1 2h0m2 20h0m2.5 4.3h0m-3.2 2.1h0m1.4 1h0m-.2 6.7h0m-.5 1.5h0m8.5-27.4h0m-5.3 7.2h0m8.9-15.6h0m2.4 28.4h0m-4.4 3.9h0m6.9-40.7h0m-1.9 5.1h0m3.1 31.9h0m8.2-34.5h0m-4.3 14.2h0m3.6 9.4h0m-2.8 3.7h0m4.5-6.3h0m3.7 19.4h0m2.5-32.3h0m-.3 9.7h0m1.6 1h0m7.6-3.7h0m-.6 6.9h0" stroke="#5a5a5a" stroke-width="1" stroke-linecap="round"/><path d="M274.2 201h0m12.2-18.6h0m8.5 24.7h0m11.1-44.5h0m4.8 8h0m7.1 13.6h0" stroke="#5a5a5a" stroke-width="2" stroke-linecap="round"/><path d="M265.2 189.7h0m9.3 7.4h0m7.7-32.3h0m-1.8 16.8h0m-.3 9.3h0m-.3 12.4h0m7.1-37.7h0m4 30.6h0m2-3.4h0m2.2 13.4h0m8.6-15.8h0m5.3 4.3h0m2.5 4.3h0" stroke="#5a5a5a" stroke-width="1.5" stroke-linecap="round"/><path d="M273.7 178h0m1.3 21.3h0m5.8-16.3h0m13.5 7.7h0m4.8-23.1h0m5.5-8.5h0" stroke="#373737" stroke-width="1.5" stroke-linecap="round"/><path d="M265.9 184.3h0m4.4 17h0m11.1-15.8h0m-.9 12.7h0m6.8-23h0m2.5 10h0m6.9 4.7h0m1.9-16.2h0m4.2 29.9h0m8.3-12.5h0m5.7 1.2h0" stroke="#373737" stroke-width="1" stroke-linecap="round"/><path d="M288.2 200.4h0m11.3-22.1h0m8.4 12.5h0" stroke="#373737" stroke-width="0.6" stroke-linecap="round"/><path d="M287.5 205.6h0m19.4-39.1h0" stroke="#373737" stroke-width="2" stroke-linecap="round"/></g>
<g filter="url(#pb)"><circle cx="359.8" cy="181.7" r="32.6" fill="#dadada" stroke="#959595" stroke-width="0.8"/><circle cx="359.2" cy="181.5" r="30.4" fill="#ebebeb" stroke="#a8a8a8" stroke-width="0.6"/><path d="M336.6 174h0m-1 3.6h0m19.8-9.8h0m-1.7 3.1h0m-1.7 19.1h0m3 15.8h0m3.3-48h0m4.5 18.7h0m-4.2 .1h0m4.7 23.5h0m10-15.5h0m-1.3 18.2h0m6.5-23h0m-2.6 5h0" stroke="#b9b9b9" stroke-width="0.9" stroke-linecap="round"/><path d="M332.9 184.1h0m4.9 1.6h0m-4.7 3h0m4 2.2h0m5.5-15.9h0m.5 15.2h0m.4 10.4h0m-.7 3.1h0m3.5-7.4h0m3.7 4.8h0m1.9-27.3h0m5.1 1h0m-6 .4h0m3.4 5h0m2.1 4.2h0m-3 19.4h0m-1.9 1.9h0m3.9 2.2h0m2.6-51.6h0m-.7 .7h0m4.6 44h0m4.2-23.2h0m2.6 10.1h0m-1.5 2.4h0m7.6-23.3h0m-.7 18.1h0m-.7 5.3h0m-4.5 .9h0m7.6-29.3h0m-1.1 24.4h0m2.2 8.9h0m8.1-24.3h0m-2.5 4.1h0m3.6 16.4h0m-5.7 4h0" stroke="#b9b9b9" stroke-width="0.6" stroke-linecap="round"/><path d="M337 177.4h0m1.6 6.2h0m-4.1 1.9h0m8.3-20.9h0m-1.5 9.7h0m3.7 13.3h0m-5 .5h0m3.1 14.9h0m2.6-26.4h0m.8 4.2h0m1.1 4h0m-.4 7.4h0m1.6 4.7h0m-.4 7.5h0m-1.1 1.7h0m2.9 .6h0m5.7-38.7h0m-2.9 15.7h0m-1.6 12.3h0m3.8 .1h0m1.2 7.8h0m-3 3.4h0m3.1 3.2h0m3.7-53.7h0m.2 14.9h0m1.5 .7h0m.8 9.2h0m-.5 17.8h0m-1.1 3.6h0m-4.1 1.3h0m4.3 2h0m4.6-50.7h0m2.6 4.1h0m-4.1 1.5h0m.5 3.1h0m-1.6 18.8h0m1.3 8.4h0m.9 11.3h0m-1.9 .1h0m10.1-43.4h0m-1.2 1.9h0m.6 4h0m.1 4.6h0m-1.1 3.5h0m-2.8 9.3h0m2.7 4.9h0m-2 11.3h0m2.2 .6h0m-.7 1.4h0m1.7 5.2h0m-1.7 1.4h0m8.8-37.5h0m-3.9 15.2h0m.2 5.4h0m8.3-16.7h0m-2 1.3h0m.2 3.5h0m-.7 15.1h0m4.7-12.5h0m0 7.1h0" stroke="#9b9b9b" stroke-width="0.6" stroke-linecap="round"/><path d="M335.6 186h0m8.5-22h0m.4 10.9h0m-3.6 24.6h0m6.6-26.2h0m3.3 1.7h0m.2 2.9h0m-5 2.7h0m4.4 16.5h0m.1 10.5h0m.6-4.6h0m3.2 3.6h0m6.3-19.2h0m-1.1 10.7h0m7.6-20.9h0m-1.9 13.3h0m3.1 8.4h0m8-33.7h0m.6 9.1h0" stroke="#9b9b9b" stroke-width="0.9" stroke-linecap="round"/><path d="M332.2 187.4h0m2.8 .1h0m6.1-21.4h0m2.9 26.9h0m3.6-31.1h0m1.5 41.2h0m-2.8 1.1h0m5.6-40.9h0m1.1 13.8h0m3.7 3.4h0m3.4 6h0m-.2 2.4h0m4.8-28h0m5.9 19h0m9-5.9h0m-.8 6.7h0m6.1 10.4h0" stroke="#9b9b9b" stroke-width="1" stroke-linecap="round"/><path d="M332.6 187.9h0m2.8-19.4h0m-.9 8.8h0m-.7 8.5h0m10.1-28.1h0m-2.7 8.4h0m3.7 .6h0m-5.9 5.6h0m3.9 26.1h0m5.6-14.4h0m-1.7 17.5h0m-.1 1.1h0m-.6 4.1h0m6.8-45.8h0m2.7 1.5h0m-3.8 15.3h0m1.3 8h0m1.4 7.9h0m-2 5.4h0m1.7 5.1h0m5.8-47.7h0m3 30.7h0m-4.6 17.9h0m1.4 5.9h0m6.8-43.4h0m-3 4.8h0m3.8 13.2h0m-4.4 6.2h0m.4 6.2h0m2.1 0h0m7.3-38.5h0m2 1h0m-4.1 1.6h0m3.8 4.1h0m-.9 2h0m-3.4 16.8h0m.6 8.4h0m-.9 .5h0m4.7 .8h0m.2 .2h0m-4.1 4.5h0m3.8 1.2h0m3.4-35.3h0m1.8 6.1h0m-2.1 8.4h0m-.2 7.3h0m-1.1 1.1h0m3.1 2.8h0m-.9 12.1h0m7.7-25.4h0m-4.8 1.5h0m4.5 2h0m-.6 3.3h0m-2.4 2.7h0m-1.2 .1h0" stroke="#7d7d7d" stroke-width="0.6" stroke-linecap="round"/><path d="M337.2 173.7h0m-1.6 20.2h0m4.6-28.6h0m1.7 16.3h0m1.1 5.8h0m1.8 6.1h0m5.2-19.3h0m2.4 4.4h0m-1.2 25.7h0m7.3-31.6h0m1.1 13.1h0m3.3 4.4h0m3.1-29.3h0m-1.1 7.8h0m2.9 9.2h0m-.2 .9h0m-1.6 7.6h0m.8 14.3h0m3.8-38.9h0m-.7 7h0m-.5 30.8h0m8.1 3h0m-1.5 2.4h0m7.9-33.9h0m3.9 15.4h0" stroke="#7d7d7d" stroke-width="0.9" stroke-linecap="round"/><path d="M334.5 173.6h0m10.5-15.2h0m-3.2 11.6h0m.1 7.3h0m.1 8.4h0m-.3 8.5h0m2.4 3.7h0m-2.8 .9h0m5-14.6h0m9.5-12.9h0m-1.6 37.9h0m3.6-55h0m.2 3.3h0m3.2 20h0m3.3-16.8h0m4 1.7h0m-3 3.5h0m2.5 25.3h0m0 8.1h0m4.6-36.1h0m.4 24.6h0m-2.7 10.2h0m3 1.9h0m1.8-34.2h0m3.3 23.6h0" stroke="#7d7d7d" stroke-width="1" stroke-linecap="round"/><path d="M337.1 184.6h0m2.7 3.9h0m15.7-27.3h0m-1.9 31.8h0m8.6-9.2h0m.5 10.5h0m6.5 14.6h0" stroke="#5a5a5a" stroke-width="1.5" stroke-linecap="round"/><path d="M336.3 175.4h0m7.8-15.6h0m16.6 4.1h0m-2.4 45.1h0m9.7-20.3h0m3.4-28.9h0m0 25.3h0m1.6 11.3h0m13.2-16.5h0" stroke="#5a5a5a" stroke-width="1" stroke-linecap="round"/><path d="M371.8 161.8h0" stroke="#5a5a5a" stroke-width="3" stroke-linecap="round"/><path d="M358.1 171.1h0m12.9 4.6h0" stroke="#5a5a5a" stroke-width="2" stroke-linecap="round"/><path d="M352.6 187h0m6.4 20h0" stroke="#5a5a5a" stroke-width="2.5" stroke-linecap="round"/><path d="M357.3 206.5h0m11.2-23.7h0" stroke="#373737" stroke-width="3" stroke-linecap="round"/><path d="M362.5 194.7h0m5.8 10.2h0m14.9-32h0" stroke="#373737" stroke-width="2" stroke-linecap="round"/><path d="M356.8 186.7h0m17.9-29h0m2.1 25.2h0" stroke="#373737" stroke-width="1.5" stroke-linecap="round"/><path d="M354.9 177.5h0m-3 11.6h0m0 17.6h0m10.2-42.4h0m4.8-10.5h0m-2.2 8.1h0m2.2 10.4h0m1.9 8.4h0m-2.7 14.8h0" stroke="#373737" stroke-width="1" stroke-linecap="round"/><path d="M336 178h0m9.6 13.8h0m10.4-26.4h0" stroke="#373737" stroke-width="2.5" stroke-linecap="round"/><path d="M356.7 206.2h0" stroke="#373737" stroke-width="4" stroke-linecap="round"/><path d="M337.9 175.2h0m21.2-4.6h0" stroke="#191919" stroke-width="2" stroke-linecap="round"/><path d="M364.5 163h0" stroke="#191919" stroke-width="1.5" stroke-linecap="round"/><path d="M345 164.6h0m-.7 19.7h0" stroke="#191919" stroke-width="1" stroke-linecap="round"/><path d="M352.6 203.9h0m13.7 3.8h0" stroke="#191919" stroke-width="3.5" stroke-linecap="round"/><path d="M356.7 207.8h0" stroke="#191919" stroke-width="4" stroke-linecap="round"/></g>
<text x="24.9" y="258.3" font-size="9.4" text-anchor="middle" transform="rotate(-90 24.9 258.3)">Vector</text>
<text x="35.6" y="258.3" font-size="9.4" text-anchor="middle" transform="rotate(-90 35.6 258.3)">+</text>
<text x="46.3" y="258.3" font-size="9.4" text-anchor="middle" transform="rotate(-90 46.3 258.3)">siNC</text>
<g filter="url(#pb)"><circle cx="87" cy="258.3" r="32.6" fill="#dadada" stroke="#959595" stroke-width="0.8"/><circle cx="86.4" cy="258.1" r="30.4" fill="#f1f1f1" stroke="#a8a8a8" stroke-width="0.6"/><path d="M76 276.6h0m5.4-43.7h0m1.9 50.7h0" stroke="#b9b9b9" stroke-width="0.9" stroke-linecap="round"/><path d="M64.1 253.9h0m6-1.5h0m10.7 11h0m-3.5 1.1h0m9.3-1.8h0m-1.4 11.9h0m6.7-27.1h0m-3.2 2h0m5.1 14.8h0m7.6-18.2h0m6.3 6.5h0m3.7 13.9h0" stroke="#b9b9b9" stroke-width="0.6" stroke-linecap="round"/><path d="M79.1 282.3h0m3.9-31.5h0m2.8 13.2h0m3.5-33h0m1.9 1.1h0m-2.9 26.5h0m2.6 8.3h0m.4 14.2h0m2.3-43.6h0m1.3 .6h0m8.3 8h0m-.5 17.6h0m-3.4 1.2h0m5.2 4.3h0m-2.3 6.5h0m3.3-19.1h0" stroke="#9b9b9b" stroke-width="0.6" stroke-linecap="round"/><path d="M58.6 258.9h0m33.7-18.8h0m1 35h0m11.1 .8h0" stroke="#9b9b9b" stroke-width="0.9" stroke-linecap="round"/><path d="M60.5 261h0m12.8 21.1h0m4.4-21.2h0m.3 22.7h0m8.4-51.6h0m-.4 35.3h0m-2.8 7.9h0m4.7-41.7h0m21.6 24.9h0m5.7-7.6h0" stroke="#7d7d7d" stroke-width="0.6" stroke-linecap="round"/><path d="M65.6 260.1h0m8 .5h0m13.9-.3h0m10.8 23h0m8.1-41h0" stroke="#7d7d7d" stroke-width="0.9" stroke-linecap="round"/><path d="M73.4 262.3h0m8.2-12.8h0m27.4 4.7h0" stroke="#7d7d7d" stroke-width="1" stroke-linecap="round"/><path d="M72.4 263.2h0m2 .5h0m4.6-17.5h0m-2.1 33.5h0m10.8-11.7h0m7.9-33.4h0m1.4 1.2h0m.4 31.5h0m7.4-21.3h0m2.8 6.7h0m1.2 14.9h0m5.3-18.3h0" stroke="#5a5a5a" stroke-width="1.5" stroke-linecap="round"/><path d="M58.4 259.2h0m15.8-13h0m-3.9 13.1h0m-.3 17.4h0m8.6-6.4h0m2.7-31.6h0m3.3 3.3h0m.1 16.2h0m6.7-6.6h0m1.7-19.6h0m1.4 25.5h0m7.4-10.6h0m-1 23.9h0m7.2-14.7h0m4.3 8.9h0" stroke="#5a5a5a" stroke-width="1" stroke-linecap="round"/><path d="M65.5 262.6h0m1.8 16.2h0m14.6-45.2h0" stroke="#5a5a5a" stroke-width="0.6" stroke-linecap="round"/><path d="M66.3 248.4h0m1.1 7.7h0m.7 8h0m6.6-31.3h0m-4.3 26.9h0m8.5-18.2h0m-1.4 7.5h0m8.4-12.1h0m.4 4.3h0m-2.7 7.7h0m6.6-11.8h0m2.2 .2h0m.5 35.4h0m-1 1.1h0m-.3 9.8h0m5.4-24.6h0m-2 2h0m1 3.4h0m-1.2 20.4h0" stroke="#373737" stroke-width="1" stroke-linecap="round"/><path d="M71.7 236.1h0m7.3 16.3h0m10.8-5.1h0m13.6 6h0" stroke="#373737" stroke-width="0.6" stroke-linecap="round"/><path d="M70.5 269.1h0" stroke="#373737" stroke-width="2" stroke-linecap="round"/><path d="M67.5 240.1h0m22.3 12.9h0m12.9-11.2h0" stroke="#373737" stroke-width="1.5" stroke-linecap="round"/><path d="M62.7 248.2h0m-2 7.6h0m8.2-12.2h0m-1 10.3h0m-1.7 7.8h0m4.7-26.6h0m4 45h0m5-19.3h0m4.1-14.2h0m5.5 .3h0m13.9 24.6h0m5.2-12.9h0m-1.6 12.7h0" stroke="#191919" stroke-width="3" stroke-linecap="round"/><path d="M75.9 268.9h0m6.4 11.8h0m8.5-7.2h0m16.7-8h0" stroke="#191919" stroke-width="3.5" stroke-linecap="round"/><path d="M66.4 273.8h0m4.4-20.8h0m8.8-19.8h0m1.1 16.6h0m2.6-18.1h0m2.2 24.4h0m12.2 15.9h0m13.8-24.6h0m-.1 2.4h0m3.5 3.4h0" stroke="#191919" stroke-width="4" stroke-linecap="round"/><path d="M67.6 241.4h0m7.1-6.7h0m-2.2 25.5h0m9.2-2.8h0m3.4 8.6h0m3.1 4h0m-1.1 9.2h0m8.7-23h0m7 2.6h0m6 2.7h0" stroke="#191919" stroke-width="2" stroke-linecap="round"/><path d="M79.4 235h0m0 23.5h0m-3.7 .2h0m7.3-3h0m8.1 8.7h0m-3.2 15.3h0m21.6-9.3h0" stroke="#191919" stroke-width="2.5" stroke-linecap="round"/><path d="M66.8 238.7h0m-3.1 3.9h0m2.4 5.2h0m8.3 30.1h0m6-32.4h0m-3.3 3.8h0m13.3 13.4h0m14.6-14.9h0" stroke="#191919" stroke-width="1.5" stroke-linecap="round"/><path d="M68.5 241.3h0m10.9 14.7h0m13.2 17.6h0" stroke="#191919" stroke-width="4.5" stroke-linecap="round"/></g>
<g filter="url(#pb)"><circle cx="155.4" cy="258.3" r="32.6" fill="#dadada" stroke="#959595" stroke-width="0.8"/><circle cx="154.8" cy="258.1" r="30.4" fill="#efefef" stroke="#a8a8a8" stroke-width="0.6"/><path d="M131.9 270.5h0m8.5 2.3h0m18.2-33.7h0m-4.8 2.6h0m1.4 30.7h0m25.4-21.9h0" stroke="#b9b9b9" stroke-width="0.6" stroke-linecap="round"/><path d="M141.3 266.7h0" stroke="#b9b9b9" stroke-width="0.9" stroke-linecap="round"/><path d="M130.8 273.1h0m19.3-20.5h0m-.7 13.4h0m.5 10.7h0m13.4-42h0m-.3 12.2h0m-3 8.5h0m11.6 17.9h0" stroke="#9b9b9b" stroke-width="0.9" stroke-linecap="round"/><path d="M132.6 240.1h0m7.4 31.3h0m6.3-39h0m.9 17.9h0m2.8 7.2h0m-1.8 22.3h0m5.1-36.4h0m5.8 24.9h0m4.2 4.4h0m1.8-27.2h0m3.1 22.8h0m9.9 3.9h0m5.3-14.2h0" stroke="#9b9b9b" stroke-width="0.6" stroke-linecap="round"/><path d="M132.5 260.5h0m5.2-7.3h0m-2 5.5h0m1.9 3.3h0m-1.6 .2h0m-.9 9.7h0m3.6 1.8h0m6.2-15.5h0m-1.1 13.3h0m-.2 6.7h0m2.9 6.7h0m.6-40.9h0m4 16.6h0m-2.3 13.9h0m9.7-40.8h0m-1.8 10.2h0m.2 14.6h0m-1.8 9.6h0m6.7-27.3h0m-.6 19.3h0m12.9-22.2h0m6.1 9.5h0m-.7 11.6h0m2.4 7.1h0" stroke="#7d7d7d" stroke-width="0.6" stroke-linecap="round"/><path d="M140.7 242.8h0m1.9-2.9h0m10 46.4h0m4.5-46.9h0" stroke="#7d7d7d" stroke-width="0.9" stroke-linecap="round"/><path d="M150.4 274.4h0m4.4-44.3h0m1.6 .7h0m1.8 9.6h0m9.8 16.5h0m-2.1 22.8h0m-.1 2.8h0m10.8-43.4h0m5.3 11.1h0" stroke="#7d7d7d" stroke-width="1" stroke-linecap="round"/><path d="M135 254.4h0m7.5 2.7h0m9 .9h0m6 17.9h0m4.2-39.2h0m11.8 39h0" stroke="#7d7d7d" stroke-width="1.5" stroke-linecap="round"/><path d="M146.7 264h0m2.3-30.3h0m-2 25.7h0m5.5 8.2h0m8.1-13.7h0m0 6.1h0" stroke="#5a5a5a" stroke-width="0.6" stroke-linecap="round"/><path d="M134.3 250.6h0m-.2 23h0m12.2-40.7h0m.2 9.9h0m5.8-8.9h0m-4.4 14.1h0m4.6 5.4h0m4.8 33.2h0m3.9-28.3h0m3 13.4h0m1 10.9h0m10.4-22h0m3.6-10.1h0m.4 14h0" stroke="#5a5a5a" stroke-width="1" stroke-linecap="round"/><path d="M143.7 283.4h0m5.8-51.3h0m3.1 31.4h0m-2.4 2h0m2.2 2.1h0m3.9-34.8h0m11.8 11.2h0" stroke="#5a5a5a" stroke-width="1.5" stroke-linecap="round"/><path d="M130.5 247.2h0m22.9 11h0m.2 17h0m5.2 10.6h0m4.4-52.3h0m1.7 34h0m-3.1 1.8h0m-1 3.5h0m15.5-24.3h0m1.7 6.9h0" stroke="#373737" stroke-width="1.5" stroke-linecap="round"/><path d="M150.7 264.7h0m2.5-4.2h0m.2 8.5h0m15.9-33.5h0m-.2 26.5h0m3-1.8h0m7.1 3.6h0" stroke="#373737" stroke-width="2" stroke-linecap="round"/><path d="M131.4 270h0m37.5-1h0m12-3.4h0" stroke="#373737" stroke-width="3.5" stroke-linecap="round"/><path d="M144.3 251.4h0m-3.3 6.5h0m8.2 .4h0m4.3-28.4h0m4.8 .1h0m-2.7 0h0m-2.3 23h0m6-20.4h0m1.6 10.8h0m6.8-10.4h0m-2 38.7h0m10.4-3.9h0m-4.3 11h0" stroke="#373737" stroke-width="1" stroke-linecap="round"/><path d="M140.2 281.2h0m37.1-9.9h0" stroke="#373737" stroke-width="3" stroke-linecap="round"/><path d="M137.9 264.8h0m35.8-22h0" stroke="#373737" stroke-width="2.5" stroke-linecap="round"/><path d="M147 237.7h0" stroke="#373737" stroke-width="4" stroke-linecap="round"/><path d="M154.5 244.9h0" stroke="#373737" stroke-width="0.6" stroke-linecap="round"/><path d="M134 245.3h0m.5 23h0m15-20.3h0m2.9 27.7h0m3.3 7.3h0m25.8-19.7h0" stroke="#191919" stroke-width="3" stroke-linecap="round"/><path d="M138.3 275.4h0m14.4-25.1h0m-.1 .5h0m.9 2.6h0m4.5 24.6h0m9.3-35.6h0m.5 35.8h0m6.9-24.5h0" stroke="#191919" stroke-width="2.5" stroke-linecap="round"/><path d="M134.1 239.6h0m-1 14.7h0m1 12.4h0m-2.3 5.5h0m8-6h0m1.8-19.2h0m.9 18.6h0m6.1 17.2h0m12 3.8h0m10.6-7.8h0" stroke="#191919" stroke-width="1" stroke-linecap="round"/><path d="M129 262.6h0m26.2-18.8h0m6.1-2.1h0m5.2 30h0m3.8 10.6h0" stroke="#191919" stroke-width="3.5" stroke-linecap="round"/><path d="M134.5 245.8h0m16.5 30.7h0m7.8-41.1h0m-1.1 19.8h0m-.4 17.4h0m3.4-2.4h0m7.1 8.7h0" stroke="#191919" stroke-width="1.5" stroke-linecap="round"/><path d="M130.6 247.4h0m8.7-4.2h0m6 41.6h0m15.5-29.4h0" stroke="#191919" stroke-width="2" stroke-linecap="round"/><path d="M130.1 266.1h0m13-14.5h0m7.5 1.7h0" stroke="#191919" stroke-width="4" stroke-linecap="round"/></g>
<g filter="url(#pb)"><circle cx="223.2" cy="258.3" r="32.6" fill="#dadada" stroke="#959595" stroke-width="0.8"/><circle cx="222.6" cy="258.1" r="30.4" fill="#e7e7e7" stroke="#a8a8a8" stroke-width="0.6"/><path d="M199.2 250.3h0m-3.3 6h0m1.5 4.2h0m-2.4 3.1h0m10.7-27.3h0m-1.7 3.6h0m.1 31h0m-2.4 1.6h0m3.2 3.2h0m7.4-42.7h0m.3 2.9h0m-3.3 27.1h0m.8 5.5h0m2 3.5h0m-.5 1.1h0m-3 8.9h0m7.4-50.8h0m-1.1 1.7h0m.5 2h0m3.3 2.5h0m-3.3 .5h0m.1 6.4h0m3 13.5h0m-.2 9.3h0m-4.3 1h0m1.5 2.4h0m.7 5.8h0m1.4 1.5h0m3.8-37.7h0m1.5 8.7h0m-.7 1.5h0m-1.1 10.8h0m1.6 8h0m-1.6 10.6h0m3.9 6.5h0m2.9-34.9h0m-1.2 2.8h0m3.1 2.5h0m-.6 3.5h0m1.4 9.9h0m-2.2 2.8h0m-3.4 9h0m5.9 1.5h0m.4-51.5h0m-.1 4.5h0m5.3 4.4h0m-2.9 22.6h0m1.7 15.1h0m-4.1 .9h0m9.8-38.5h0m-.8 .5h0m-2.2 9.5h0m4.6 7.3h0m.6-11.8h0m3.6 6.3h0m-.8 9.2h0m-2.1 7.3h0m.7 .3h0m-.9 .5h0m2.9 3.2h0m-3 1.1h0m1.8 1.1h0" stroke="#b9b9b9" stroke-width="0.6" stroke-linecap="round"/><path d="M197 260.7h0m0 1h0m-1 4.9h0m5.5-18.6h0m4 2.3h0m6.4-9.6h0m2.9 33.3h0m6-37h0m2.3 43h0m6.2-28.5h0m1.6 7.6h0m-3.3 7.1h0m6.3-8.4h0m1.1 24.7h0m7.6-36h0m-3.5 3.7h0m.9 19.9h0m9.8-4.3h0" stroke="#b9b9b9" stroke-width="0.9" stroke-linecap="round"/><path d="M194.5 255.7h0m5.1 .4h0m-1.8 1h0m-2.7 6.8h0m4.5 9h0m.1 2.4h0m7.3-38.8h0m-1.1 17h0m-1.9 22.6h0m-1.4 0h0m6.7-36.8h0m-1.5 5.7h0m4.7 3.5h0m-2.7 6h0m1 1.9h0m7.8-20.9h0m-1.9 9.4h0m.6 10.9h0m1.5 1h0m-3.4 6.6h0m2.3 17.4h0m5.4-44.8h0m-.1 1.3h0m-1.6 .3h0m-1.3 4.6h0m-.2 34.4h0m9.9-39.3h0m-2.1 3.3h0m2.5 6.2h0m.6 5.2h0m-4.3 1.9h0m1.1 1.7h0m-.1 1.1h0m2.1 7.4h0m-2.1 1.7h0m2.6 2.4h0m-2.5 11.6h0m2.9 3.3h0m-.1 2.9h0m6.6-38h0m-2.7 22.5h0m-1.8 9.9h0m7.2-43h0m-2.5 19.6h0m2.3 3.8h0m-.2 2.1h0m-1.2 .3h0m-.4 9.8h0m1.9 6.4h0m4.7-28h0m4.2 6.7h0m-.7 2h0m-3 2h0m-.6 1.2h0m3.8 .9h0m-1.5 4h0m2.2 3.4h0m2.1-22.3h0" stroke="#9b9b9b" stroke-width="0.6" stroke-linecap="round"/><path d="M196.9 246.5h0m.5 11.5h0m-.6 4.7h0m2.6 7.2h0m5-33.7h0m-.4 10.2h0m-2.8 16h0m5.7 9.5h0m-1.3 4.7h0m5.6-44.7h0m-2.5 2.7h0m.8 23.4h0m4.6-14.4h0m-.2 9.5h0m9.1 29.2h0m5.3-32.1h0m-.6 16.6h0m-2.1 15.8h0m6-42.2h0m2.4 31.6h0m-1.7 5.1h0m6.1-40.8h0m-.9 2.9h0m.1 5.7h0m.7 6.9h0m4.2 12.3h0m2.6-19.8h0m.7 16.8h0m-.4 12.9h0m-1.7 .2h0" stroke="#9b9b9b" stroke-width="0.9" stroke-linecap="round"/><path d="M199.9 255h0m-4.5 3.4h0m.1 1.1h0m4 .6h0m-2.2 .5h0m2.5 1.8h0m-.6 7.5h0m-2.1 .4h0m1.4 1.5h0m4.5-8.9h0m-.2 3.7h0m2.5 1.1h0m-2.4 1.8h0m-.4 1.6h0m1.5 5.6h0m7.4-41.3h0m-.6 1.7h0m-1.5 1.3h0m-.4 8.8h0m-1.9 .6h0m3.5 1.7h0m-1 7.4h0m-1.5 3.1h0m1.2 3.3h0m-1.8 4.8h0m-.1 2.1h0m-.2 3.5h0m5.2 0h0m-.7 2.3h0m3.2-37.8h0m1.4 5.5h0m-2.5 .3h0m-.3 10.4h0m-.3 1.2h0m4.3 1.1h0m.7 7.3h0m-1.1 .1h0m-1.5 1.6h0m.7 .2h0m.1 4.4h0m1 14.2h0m6.5-54.1h0m.8 .2h0m-2.8 .4h0m-1 .6h0m.1 5.2h0m3.7 2.7h0m-1.7 3.3h0m-2 .9h0m3.7 5.3h0m-1.6 7.6h0m.2 .7h0m-2.1 .7h0m.9 9.7h0m-.7 .1h0m1.1 11h0m-.4 1.4h0m-1.7 .9h0m3.4 .3h0m-.2 1.1h0m-3.6 2.9h0m8.4-48.7h0m-2 8.1h0m.7 1.5h0m3.6 2.7h0m.1 7.1h0m.2 .1h0m-2.7 3.4h0m2.4 2.8h0m.3 4.2h0m-4.5 .3h0m4.1 .9h0m-5.5 2.7h0m1 6.5h0m3.6 9.3h0m4.3-50.5h0m-1.7 5.2h0m1.7 19.5h0m2.4 2.9h0m-.6 6.9h0m-2.9 3.4h0m2 4.5h0m5-37.9h0m1.8 .6h0m-1.8 3h0m2.4 9h0m-2.2 .1h0m-.3 7.9h0m-1.5 5.9h0m2.2 9.3h0m-.6 2.6h0m3.2 .2h0m-5.3 2.7h0m5.8-33.9h0m1 5.1h0m-.4 3.8h0m4.2 3.4h0m.4 9.5h0m-4.5 6.8h0m7.1-20.3h0m-1.3 3h0m0 6.2h0" stroke="#7d7d7d" stroke-width="0.6" stroke-linecap="round"/><path d="M201 249.7h0m-2.7 16.8h0m7.8-29.8h0m-.6 3.2h0m.6 1h0m.9 5.2h0m-1.8 4.5h0m1.5 23.5h0m-4.7 2.5h0m9-43.6h0m-1.4 8.8h0m.3 3.6h0m-1.5 13.1h0m9.2-27.7h0m.2 53h0m3.9-31.9h0m8.9 27.3h0m2.7-40h0m3.4 15.7h0m-3.1 21.7h0m3.5-24.7h0m4.5 3.5h0m-2.6 16.3h0m2.5 6.7h0m4.1-14.7h0m2.4 9h0m3-13.2h0m-.8 6.7h0" stroke="#7d7d7d" stroke-width="0.9" stroke-linecap="round"/><path d="M206.6 242.7h0m4.4 26.5h0m3.2-12.6h0m7.8-16.3h0m6 6.8h0m-1.9 .9h0m4.8 16.4h0m-.1 14.8h0m6-30.9h0m-4.2 2.5h0m9.4 4.5h0m-1.9 6.1h0m.2 5.4h0m-3.2 15.5h0m7.4-42.7h0m.6 24.8h0m-1.5 7.8h0" stroke="#7d7d7d" stroke-width="1" stroke-linecap="round"/><path d="M202.5 272.7h0m1.1 5.8h0m4.9-22.9h0m2.3 25h0m5.3-15.4h0m2.8 8.5h0m2.6-23.6h0m3 15.4h0m-1.9 19.8h0m8.9-18.1h0m1 6h0m10.3-.8h0m6.6-9.5h0" stroke="#7d7d7d" stroke-width="1.5" stroke-linecap="round"/><path d="M197.5 249h0m2.8 1.3h0m-.8 14.1h0m4.3-1.3h0m4.3-27.6h0m1.9 5.6h0m3.2 25.9h0m3.1 6.8h0m-2.3 9.1h0m6.1-51.8h0m2.2 11.9h0m.7 14.7h0m-.5 15h0m-3.2 2.6h0m14.6-42.3h0m-2 15.3h0m4.6 34.3h0m4.9-35.4h0m1.4 6.7h0m0 4.4h0m5.5-3.9h0m-5 7.3h0" stroke="#5a5a5a" stroke-width="0.6" stroke-linecap="round"/><path d="M203.8 241.9h0m4.8 13.2h0m-.2 20.6h0m8.1-9h0m5.5-11.1h0m.2 6.5h0m1.2 11.1h0m-.9 3.7h0m-2.5 8.4h0m9.9-33.3h0m5 6h0m-3.9 .7h0m3.5 12.5h0m-2.8 14.4h0m8.4-45.9h0m2.1 5.6h0m-4.8 7.2h0m4.1 12.5h0m7.4-.1h0" stroke="#5a5a5a" stroke-width="1" stroke-linecap="round"/><path d="M200.2 240.9h0m-4.6 10.5h0m4.5 4.5h0m8-1.1h0m2.9 1.1h0m6.2 18.4h0m-1.8 1.1h0m8.5-28.9h0m16.1 17h0m5.5-15h0m2 1h0" stroke="#5a5a5a" stroke-width="1.5" stroke-linecap="round"/><path d="M217.8 231.7h0m-3.1 27.7h0m1.6 22.6h0m4.5-2.7h0m-.6 1.9h0m11.6-44.6h0m10 14.8h0m-4.4 15.9h0" stroke="#373737" stroke-width="0.6" stroke-linecap="round"/><path d="M210.8 243.9h0m1.2 14.5h0m-4.3 5.1h0m3.4 10.1h0m-.7 2.1h0m4.3-29.7h0m7.7-16.5h0m.7 20.8h0m-4 4h0m3.3 20.8h0m9.4-17.1h0" stroke="#373737" stroke-width="1" stroke-linecap="round"/><path d="M208.3 245.3h0m-.8 5.1h0m3.8 23.4h0m-2.4 6.8h0m4.8-47.9h0m2.7 3.6h0m-.8 29.6h0m5-35.5h0m3.8 10.7h0m-.5 37.4h0m7.3-36.5h0m5.3 13.7h0" stroke="#373737" stroke-width="1.5" stroke-linecap="round"/><path d="M239.2 265.4h0m9.6 2.4h0" stroke="#373737" stroke-width="2" stroke-linecap="round"/><path d="M246.7 258.5h0" stroke="#373737" stroke-width="2.5" stroke-linecap="round"/><path d="M205.6 275.7h0m12.2-15.5h0m6.6 21.9h0m9.1 .6h0m15.1-15.4h0" stroke="#191919" stroke-width="1.5" stroke-linecap="round"/><path d="M209.1 244.7h0m15.6 14.8h0m19.4 0h0" stroke="#191919" stroke-width="1" stroke-linecap="round"/><path d="M223.3 283.5h0m2.9-31.4h0" stroke="#191919" stroke-width="2.5" stroke-linecap="round"/><path d="M237.3 282.2h0" stroke="#191919" stroke-width="2" stroke-linecap="round"/></g>
<g filter="url(#pb)"><circle cx="291.4" cy="258.3" r="32.6" fill="#dadada" stroke="#959595" stroke-width="0.8"/><circle cx="290.8" cy="258.1" r="30.4" fill="#e5e5e5" stroke="#a8a8a8" stroke-width="0.6"/><path d="M264.9 255.5h0m-.6 8.3h0m1.3 1.5h0m2.9-22.9h0m3.5 7h0m-3 2.5h0m2.6 1.6h0m-2.7 16.1h0m2 3h0m5.7-36.7h0m-2.1 4.9h0m2.1 13h0m-.5 4.2h0m-.8 1.5h0m-.6 6.7h0m-.7 5.3h0m7.7-35.3h0m-.7 2.5h0m3.9 1.2h0m-2.6 2.3h0m-.5 6.1h0m-1.8 1.9h0m4.8 8.4h0m-1.7 6.1h0m1 4.4h0m-1.7 3.3h0m-1.7 1.1h0m.9 .1h0m-.2 .5h0m2.6 .2h0m-1.6 4.4h0m1.7 4.5h0m5.8-52.4h0m-.9 2.9h0m1.1 .9h0m-.4 .5h0m-.8 2.3h0m1.2 4.3h0m-3 1.8h0m1 2.2h0m1.5 .6h0m-4.5 5.1h0m5.6 .1h0m-.7 19.1h0m-.4 11.9h0m-2 2.5h0m6-50.8h0m2.7 18.7h0m-4.2 3.9h0m1.3 2.3h0m1.1 8.8h0m2.5 3.3h0m2.4-32.7h0m2.3 2.6h0m-3.1 14.6h0m4 3.6h0m-4.5 1.1h0m3.5 3.5h0m-1.7 4h0m5.3-17.9h0m-2.2 4.2h0m7.7-13.1h0m-.3 12.4h0m1.5 6.8h0m1 3.6h0m-2.1 8.3h0m5.4-21.8h0m2.7 7.9h0" stroke="#b9b9b9" stroke-width="0.6" stroke-linecap="round"/><path d="M265.6 253.6h0m-1.4 1.5h0m0 5.6h0m2.6 3.6h0m1.9-22.3h0m3.4 5.5h0m.8 5.5h0m0 3.6h0m-4.2 5.8h0m3.6 4.5h0m4-30.9h0m1 11.4h0m1.9-4.1h0m.4 1.6h0m3.6 1.4h0m-.7 7h0m1.3 17.8h0m5.2-34.4h0m-2.4 10.2h0m1.4 7.1h0m.3 33.2h0m5.9-54.6h0m-1.8 7.3h0m1.1 4.5h0m-1.5 18.7h0m.5 7h0m1.3 5.3h0m2.1 1.3h0m-.2 4h0m.2 4.2h0m1.6-53.7h0m3.9 26.4h0m-.3 8h0m2 3.6h0m7.4-30.5h0m4 21.5h0" stroke="#b9b9b9" stroke-width="0.9" stroke-linecap="round"/><path d="M265.8 244.5h0m.7 7.1h0m-3.7 1.1h0m4 3.4h0m-1.5 3h0m-2.1 2.1h0m2.9 7h0m-.2 2.2h0m5.8-31h0m-1.1 1.5h0m-1.9 .4h0m-1.6 2h0m2.8 .5h0m-.3 4.5h0m2.6 1.4h0m.4 2.2h0m.2 3.4h0m-.3 .8h0m-1.4 1.4h0m-2.9 1.2h0m3.3 .7h0m.6 9.9h0m-.3 1.2h0m-1.5 2.5h0m8.6-39.7h0m-4 4.3h0m2.4 .2h0m-2.1 1.5h0m2.9 .6h0m-3.3 7.9h0m-.1 7.5h0m2.1 3.4h0m1.5 10.8h0m-1.3 .3h0m-.9 2.6h0m-.2 .2h0m2.7 2.5h0m-1 .4h0m.2 7.2h0m3.4-51h0m1 2.9h0m-.6 12.2h0m2.4 1.6h0m-.5 1.6h0m1.3 2.8h0m-1.3 3.4h0m-.1 4h0m-3.3 4.4h0m-.2 6.5h0m.5 .9h0m-.4 4h0m3.2 2.1h0m1.8 8.1h0m5-41h0m-.5 10.7h0m.1 5.3h0m-1.6 .5h0m2.1 .6h0m-1.5 24.3h0m4-50.8h0m4 2.9h0m-5.1 13h0m1.2 1.3h0m-1.1 .2h0m4 6.3h0m-1.5 3.4h0m2.3 2.3h0m.4 5.6h0m-1.5 13.3h0m-1.1 1.4h0m-.9 1.9h0m6.5-56.7h0m-1.6 .4h0m-.4 .3h0m.2 .5h0m1.5 2h0m-.3 1h0m-1.4 1.6h0m.4 14.2h0m-.6 10.9h0m.1 1.2h0m1.1 2h0m2.8 .2h0m-4.4 8.3h0m.5 .3h0m4 .9h0m-3.7 1.1h0m4.4 3.6h0m-3 2.4h0m-2 .3h0m2.9 .6h0m-1.2 2.4h0m4.3-47.8h0m2.9 3h0m2 5.7h0m-2.8 .8h0m2.9 .4h0m-5.3 7.6h0m1.8 4.8h0m-1.6 1.1h0m3.1 5h0m2.1 5.1h0m-3.6 .8h0m1.9 4.5h0m-1.4 2.3h0m5.6-35.6h0m1.8 13.1h0m-.2 1.2h0m1.8 8.3h0m-2.6 2.6h0m-2 .1h0m-.2 2.1h0m1 2.8h0m1.1 .6h0m-1.8 6h0m8.9-26.5h0m1.1 1.1h0m-4.4 2.4h0m4.7 2h0m-.5 2.9h0m-1.6 5.3h0m1.1 .2h0m-4 2.5h0" stroke="#9b9b9b" stroke-width="0.6" stroke-linecap="round"/><path d="M264.2 257.1h0m5-.3h0m-.3 4.2h0m2 8.1h0m5.9-28.7h0m.5 .1h0m1.2 4.6h0m-4.2 5.5h0m3.2 4.4h0m-3.1 2.4h0m-.1 2.3h0m.2 11.5h0m4.1 11.8h0m4.5-2.8h0m-1.3 3h0m1.6 1.6h0m2-44h0m4.7 1.2h0m.5 9.1h0m-5.3 26.7h0m10.9-47.5h0m-3.4 31.4h0m-.3 4.5h0m2 5.7h0m7.9-35.7h0m-1.4 2.6h0m1.8 16.3h0m-2.1 15.6h0m-2.2 11.8h0m10.5-38.4h0m-1.7 4.9h0m1.3 10.9h0m-5.5 6.7h0m5.3 .4h0m-4 3.2h0m1.5 2.3h0m3.9-31.4h0m2.1 10.2h0m-.2 12.9h0m-1.8 8.3h0m0 2.3h0m1 1.3h0m4.7-26.5h0m3.4 10.7h0" stroke="#9b9b9b" stroke-width="0.9" stroke-linecap="round"/><path d="M278 248.3h0m-3.8 24.3h0m6.5-8.9h0m2.3 2h0m0 16.9h0m2.1-28h0m4.4 1.6h0m1 24.8h0m1.5-36.8h0m3.9 .4h0m-3.4 40.2h0m5.5-19.2h0m10.5-1.4h0m.3 16.5h0m4.3-19.9h0m.5 13.1h0m5.5-11.8h0" stroke="#9b9b9b" stroke-width="1" stroke-linecap="round"/><path d="M307.3 269.8h0" stroke="#9b9b9b" stroke-width="1.5" stroke-linecap="round"/><path d="M263.5 250.1h0m2 .3h0m-.7 5.1h0m0 9.6h0m0 4.2h0m7.2-26.7h0m-4.2 .8h0m-.3 1.1h0m4 1.3h0m-.1 2.5h0m1.3 1.6h0m-4 .3h0m1.4 1.4h0m.9 3h0m.3 3.1h0m1.3 1.6h0m-2.7 .1h0m1.4 15.6h0m-1.3 .5h0m6.9-41.5h0m1.4 15.2h0m-1.7 2.6h0m.3 1.1h0m0 5.1h0m-1.2 10.2h0m1.6 0h0m-2.9 3.1h0m2.2 2.2h0m-2.3 1.4h0m4.2 5h0m-.1 2.6h0m1.5-49.3h0m-.6 1h0m1.1 1h0m.1 5.1h0m1.4 1h0m-.6 .1h0m.1 10h0m.6 .4h0m.5 10.8h0m-2.3 8.7h0m1.3 4.9h0m-.9 3.8h0m3.1 5.3h0m3.7-45.5h0m-2.3 .1h0m2.9 2.5h0m1.4 3.7h0m-1.9 3.6h0m.8 .5h0m-3.3 5.3h0m.1 1.2h0m.3 1.1h0m3.7 .2h0m-3.7 9.5h0m5.6 10.1h0m-1.5 1.4h0m4.2-46.8h0m-.3 .6h0m-.3 7.8h0m2.1 1h0m-3.1 .5h0m-.5 3.9h0m3.9 1h0m-.2 10.4h0m.3 1.2h0m-1.1 1.2h0m-1.5 2.7h0m-1.5 .2h0m2.1 .4h0m-2.3 5.5h0m5.4 .1h0m-1.4 1.3h0m-2.9 5.3h0m-.8 10.7h0m10.8-52.6h0m-.2 10.9h0m-1.4 1.7h0m-3.1 .6h0m2.7 2.2h0m-3 5.2h0m3.7 9h0m-.8 2.6h0m-3 1.4h0m5.2 2.7h0m-.1 9.9h0m-1.5 3.2h0m-1.6 .4h0m-1.8 2h0m1.1 .2h0m6.9-40.7h0m2.6 .4h0m-.1 3.9h0m-1.6 2.2h0m.4 2.1h0m-2.1 8.9h0m-1 2.7h0m1.8 3.3h0m-2 2.5h0m1.2 2.8h0m4 3.4h0m-1.8 .8h0m.4 .5h0m.3 .6h0m6.4-38.3h0m-.5 .2h0m-4 2.7h0m1.1 13.2h0m.5 .4h0m-.9 8.6h0m2.3 3.1h0m4.7-16.1h0m.3 1.2h0m-2.1 1.6h0m.1 2.3h0" stroke="#7d7d7d" stroke-width="0.6" stroke-linecap="round"/><path d="M271.4 265.5h0m-4.2 5.8h0m6.3-4.8h0m1.7 5.8h0m1.5 3.9h0m4.9-21.2h0m-.6 7.4h0m9.8-32.9h0m-2.2 9.7h0m.8 19.1h0m-.4 5.8h0m-1.4 11.1h0m8.1-43.4h0m-1.2 2.4h0m1.7 17.1h0m-4.9 3h0m1.5 25.9h0m6.4-40h0m2 .1h0m-1 9.3h0m-1.5 11.4h0m1.1 7.7h0m.9 3.7h0m-.8 .5h0m5.7-35.6h0m.6 35.3h0m4.7 .4h0m3.4 .4h0m-4.5 .2h0m9.5-20.7h0m-.2 2.2h0" stroke="#7d7d7d" stroke-width="0.9" stroke-linecap="round"/><path d="M268.9 258.8h0m-1.4 14.5h0m8.2-14.4h0m-1.2 7.3h0m10.3-16h0m-4.7 30h0m8.5-29.8h0m-1.7 2.7h0m.6 9.6h0m-.3 6.5h0m1.6 17.7h0m3.3-45.1h0m2.5 21.4h0m-.5 1.5h0m3.4-17.8h0m10.8 .7h0m-4.3 36.1h0m5.4-8.5h0m6.6-28.1h0" stroke="#7d7d7d" stroke-width="1" stroke-linecap="round"/><path d="M290.5 248.9h0m6.4-11.8h0m7.6 25.4h0" stroke="#5a5a5a" stroke-width="0.6" stroke-linecap="round"/><path d="M270.8 250h0m1.3 17.1h0m10.7 13.3h0m17.5-47.7h0m.2 29.7h0" stroke="#5a5a5a" stroke-width="1" stroke-linecap="round"/><path d="M305.1 275.7h0" stroke="#5a5a5a" stroke-width="1.5" stroke-linecap="round"/><path d="M272.5 250.4h0m2.2 28h0m4.9-10.7h0m6.5 7.9h0m18.5-12h0" stroke="#373737" stroke-width="1" stroke-linecap="round"/><path d="M293.7 253h0m2.6 21.4h0m6.4 8.2h0m-4.4 2.1h0" stroke="#373737" stroke-width="1.5" stroke-linecap="round"/></g>
<g filter="url(#pb)"><circle cx="359.8" cy="258.3" r="32.6" fill="#dadada" stroke="#959595" stroke-width="0.8"/><circle cx="359.2" cy="258.1" r="30.4" fill="#e5e5e5" stroke="#a8a8a8" stroke-width="0.6"/><path d="M337.8 252.5h0m-4.3 2.4h0m7.3-6.6h0m-1.4 3.7h0m-.3 3.7h0m4 .2h0m1 3.7h0m-1.1 8.8h0m4.9-26.7h0m7-10h0m-2 4.9h0m3.2 11.8h0m-4.2 7.4h0m5.8-15.2h0m-.5 7.4h0m10.8 19.5h0m.6 1.5h0m-.1 8.8h0m-3 1.6h0m5.4-47.8h0m-.7 20.8h0m-.9 4.1h0m4.9 3.7h0m-.3 5.9h0m-1.1 .1h0m7.9-22.5h0m-5.4 30.3h0m9.1-18h0m2.7 .5h0m0 1.6h0" stroke="#b9b9b9" stroke-width="0.9" stroke-linecap="round"/><path d="M335.6 243.1h0m1.3 4.5h0m-1.1 6.3h0m2.9 6.2h0m.2 5.1h0m-5.8 2.1h0m5.2 5.6h0m1.9-20.8h0m.6 2.5h0m-1.6 2.6h0m.9 1.5h0m2.6 6.7h0m1.8 3.2h0m-2.4 5h0m-.6 1.1h0m.7 4.4h0m3.1-38.6h0m3.5 9.7h0m-.6 2.6h0m-2.4 .5h0m1.1 .4h0m.5 .4h0m-.7 1h0m0 1.7h0m-1.4 8.9h0m5.6 2.3h0m-2.9 3.5h0m-.8 3.1h0m.6 4.5h0m-1.8 3.4h0m4.1 1.6h0m4-50.8h0m2.3 .8h0m-2.8 4.9h0m.7 2.7h0m-1.2 2.7h0m2.2 2.5h0m-.4 14h0m-1.7 10.4h0m1.6 8.7h0m7.3-50.8h0m-.9 10.7h0m-.6 5.4h0m-1.1 20.6h0m.1 10h0m3.3 11.3h0m5.8-46.8h0m-5.5 3.5h0m5.3 11.7h0m-4.5 .4h0m4.7 .3h0m-.5 10.9h0m-4 11.3h0m3.8 2.5h0m-.2 3.3h0m4.9-51.2h0m1.4 5.2h0m-4.1 1.8h0m2.4 4.5h0m-.4 4.6h0m3 19.6h0m-4.5 4.3h0m2.5 2.7h0m0 3.6h0m-3.2 1.5h0m6.6-40.6h0m1.8 12.5h0m-3.2 6.3h0m4.9 1.3h0m-3.7 5.5h0m3.8 .7h0m.2 3.5h0m-.8 3.1h0m3.2-29.1h0m1.5 11.5h0m1.1 .8h0m-3.6 15.1h0m5.9-19.5h0m-.3 5.7h0" stroke="#b9b9b9" stroke-width="0.6" stroke-linecap="round"/><path d="M385.5 263.2h0" stroke="#b9b9b9" stroke-width="1" stroke-linecap="round"/><path d="M332.3 256.3h0m-.8 4.4h0m7.2-11h0m-3.1 3.3h0m8.4-18.9h0m-4.1 8.2h0m1.5 8h0m.6 6.4h0m3.7-19.6h0m2.8 4.2h0m.8 .3h0m-2.4 16.1h0m4 1.5h0m-.6 10h0m5.8-38.7h0m-5 .3h0m1.3 2.4h0m1.2 2.1h0m.5 10.1h0m.2 22.6h0m-2.3 .9h0m6.3-35.6h0m2.7 1.6h0m-.1 20.8h0m-1.4 1.8h0m-.7 1.8h0m0 4.2h0m-1.5 11.1h0m2.6 5h0m6-.9h0m1.4 7.4h0m7.6-48.5h0m-5.9 9.8h0m2.5 17.1h0m.4 19.1h0m8.4-43.2h0m-.7 11.6h0m-3.1 10.6h0m7.5-17.4h0m2.8 9h0m-2.7 6.4h0m-2.2 11.3h0" stroke="#9b9b9b" stroke-width="0.9" stroke-linecap="round"/><path d="M331.3 260.2h0m4.1-14h0m-1.5 .1h0m.1 1.1h0m1.6 .9h0m2.6 4.6h0m.3 3.1h0m-4.1 5.9h0m1.6 8.6h0m4.4-32.3h0m1.6 1.9h0m-2.7 1.1h0m2.8 2.8h0m1.1 .6h0m-1.7 .6h0m-1.9 3.5h0m3.2 7.7h0m-2.6 .5h0m2.8 .9h0m-3.6 .5h0m5.3 2.8h0m-1.3 2.6h0m-3 2.7h0m1.7 .2h0m-.7 3h0m1.9 2.2h0m-.8 3.5h0m5.4-41h0m2.7 2.6h0m-5.2 .3h0m5 .2h0m-.3 7.3h0m-.4 3.5h0m.4 .2h0m.8 .3h0m-3.8 1.5h0m2.5 4.5h0m-4.5 1.7h0m2.5 3.9h0m2.7 9.2h0m.1 .7h0m-1.5 5.7h0m.3 3.7h0m.8 4.4h0m2.7-53.3h0m.7 4h0m.1 5.6h0m.3 .7h0m1.4 1.5h0m-.3 6.8h0m-.2 .9h0m-1.5 5.4h0m2.5 .2h0m-1.5 2.3h0m-1.8 8.4h0m2 1.8h0m-.9 2h0m2.5 6.6h0m.8 1.9h0m-5.5 1.1h0m.1 3.6h0m3.8 2.9h0m5.8-55h0m-3.4 .6h0m.3 9.1h0m-.2 4.1h0m4.5 3.6h0m-.9 2.6h0m-1.5 17.7h0m2.2 6.9h0m.3 2.3h0m2.7-44.1h0m-1 5.7h0m5 .5h0m-.8 .2h0m-2.5 .5h0m1.1 2.4h0m-1.7 .7h0m2.7 4.8h0m.1 .4h0m-4 2.6h0m1.8 1h0m-1 12.4h0m-.7 3.3h0m2.7 6.5h0m-1.8 .3h0m-.3 1.7h0m-1.5 .6h0m9.6-44.4h0m.9 1h0m-2.4 5.2h0m1.1 3.3h0m.4 1.3h0m-3.4 4.4h0m1.1 4h0m1.5 1.9h0m1.8 6.7h0m-4.3 6.2h0m2 .4h0m1.9 1.4h0m-3.8 2.9h0m.9 .7h0m-.1 10.8h0m.1 .1h0m.9 1.2h0m5.1-48h0m.5 4.5h0m3 7.5h0m-3.4 4.1h0m4.3 13.7h0m-3.2 8.3h0m4.6-33.1h0m2.7 1.6h0m-1.9 .9h0m.5 6h0m1.3 9.3h0m-1.9 .3h0m1.3 4.6h0m1.5 2h0m.1 .7h0m-4.3 .3h0m.3 7.4h0" stroke="#9b9b9b" stroke-width="0.6" stroke-linecap="round"/><path d="M337.9 246.9h0m.4 11.7h0m3.5-11.1h0m4.7 28.7h0m6 3h0m7.8-41h0m-1.2 1.3h0m3.5 22h0m1-9.6h0m-.1 2h0m1.9 30.3h0m7.8-37.7h0m-3.4 11.6h0m2.3 16.8h0m-.1 4.8h0" stroke="#9b9b9b" stroke-width="1" stroke-linecap="round"/><path d="M334.8 256.9h0m9.1 .2h0m-4.6 .2h0m1.9 6.6h0m8.9-6.4h0m6.6-10.8h0m-1.5 1.4h0m-3.4 5.6h0m1.5 4h0m-1.4 5.5h0m4 0h0m-.5 13.6h0m-3.3 6.9h0m4 3.4h0m6.8-55.9h0m-3.9 25.8h0m-1.7 1.5h0m5.4 1.1h0m-5.3 4h0m1.6 5h0m3.8 10.3h0m-4.7 2h0m1.8 .7h0m3.3-51.5h0m1.9 2.9h0m1.4 1.1h0m-.1 10.4h0m1.6 2.3h0m-4.1 15.2h0m10.8-27.6h0m-4.1 4.5h0m.9 15.2h0m-.3 14.5h0m-.1 8.5h0m6.3-14.9h0m1.4 6.1h0m2.7-18.1h0m1.6 2.1h0m-1.2 16.8h0m3.6 .2h0m2-5.6h0" stroke="#7d7d7d" stroke-width="0.9" stroke-linecap="round"/><path d="M332.1 261.4h0m2.5-16.6h0m.2 2.9h0m-.3 5.4h0m4.3 11.8h0m-3.6 3.2h0m7.6-25.2h0m-3.2 1.2h0m5.4 6.4h0m-4.7 2.8h0m1.2 4.1h0m.5 3.8h0m1.2 12.8h0m-3 2.1h0m9.1-40.2h0m-2.1 3h0m2.5 4.1h0m-1.6 2h0m-2.6 9.8h0m2.3 5.4h0m-2.7 .6h0m2.6 14.1h0m-.9 .2h0m2.8 4.3h0m-2.4 4.2h0m.9 .2h0m7.8-52.9h0m.3 2.4h0m-.4 3.6h0m-.3 2.7h0m-4.2 1.6h0m1.2 3.5h0m-.5 .8h0m.8 9.7h0m-1.4 .8h0m1 4.1h0m3.5 5.3h0m-4.5 .9h0m2 1.9h0m2.1 3.3h0m-.1 4h0m-1.7 .8h0m.5 8.4h0m3.1-50.9h0m4.1 1.4h0m-3.3 2.4h0m2.6 3.4h0m-2.6 3.7h0m3.1 .8h0m.2 3.5h0m1 1.4h0m0 2h0m-.5 1.6h0m-.6 2.9h0m1.5 1h0m-2.9 12h0m-2.9 6.4h0m5.9 4.7h0m-4.1 1.9h0m2.3 1.4h0m-1.5 2.6h0m3.8-56.3h0m3.6 2.3h0m-1.7 .7h0m-.4 3.8h0m2.5 3.1h0m-1.3 .7h0m1.4 4.2h0m-3.5 .8h0m0 5.4h0m2.8 .9h0m-1.4 .2h0m3.1 3.8h0m-1.4 2.3h0m-1.7 8.8h0m-.5 .1h0m1.8 2.1h0m6.3-33.9h0m-2.5 3.7h0m-.3 3.2h0m3.7 8.9h0m-2.5 10.5h0m-2.2 2.5h0m2.6 2.8h0m1.9 5.2h0m-4.6 0h0m4.6 3.3h0m-3.2 4.5h0m5.4-41.9h0m3.7 4.7h0m.1 2.6h0m-3.8 1.2h0m2.4 1.1h0m1.6 4.7h0m-1.9 2.5h0m.9 1.8h0m1.2 10.3h0m-2.5 2.9h0m4.2-26.6h0m3.1 1.4h0m-.6 1.7h0m.2 1.1h0m-2.1 .5h0m3.3 3.5h0m-2.1 3.3h0m2.5 4.6h0m-2.1 4.4h0m2.5 2.4h0m-4.5 3h0m.1 3.8h0m6.1-21.7h0m-1 .2h0m.6 7.1h0" stroke="#7d7d7d" stroke-width="0.6" stroke-linecap="round"/><path d="M336.8 256.4h0m5.6 19.9h0m7.8-33.8h0m-4.5 15.8h0m6-20.4h0m8-3h0m10.9 3.6h0" stroke="#7d7d7d" stroke-width="1" stroke-linecap="round"/></g>
<text x="24.9" y="330" font-size="9.4" text-anchor="middle" transform="rotate(-90 24.9 330)">USP44</text>
<text x="35.6" y="330" font-size="9.4" text-anchor="middle" transform="rotate(-90 35.6 330)">+</text>
<text x="46.3" y="330" font-size="9.4" text-anchor="middle" transform="rotate(-90 46.3 330)">siNC</text>
<g filter="url(#pb)"><circle cx="87" cy="330" r="32.6" fill="#dadada" stroke="#959595" stroke-width="0.8"/><circle cx="86.4" cy="329.8" r="30.4" fill="#f1f1f1" stroke="#a8a8a8" stroke-width="0.6"/><path d="M75.1 318.7h0m11.1-6.9h0m5.2-4.4h0m-4.3 40.2h0m8-32.5h0m1.3 34.4h0" stroke="#b9b9b9" stroke-width="0.6" stroke-linecap="round"/><path d="M70.8 341.4h0m.7 .7h0m25.3-2.4h0m5.2-12h0" stroke="#b9b9b9" stroke-width="0.9" stroke-linecap="round"/><path d="M58.6 334.9h0m3.5 1.5h0m11.8-5.8h0m-4.7 6.1h0m1 10.7h0m15.2-16.9h0m-4.2 5.3h0m3.9 13.4h0m3.6-39.8h0m-1.6 6.4h0m1.2 1.9h0m8.3-3.7h0m6.7 .4h0m3 25.2h0m0 3.6h0" stroke="#9b9b9b" stroke-width="0.6" stroke-linecap="round"/><path d="M68.7 336h0m8.8-20h0m6.3 35.2h0m10-27.6h0" stroke="#9b9b9b" stroke-width="0.9" stroke-linecap="round"/><path d="M64.7 322.8h0m10 5.5h0m-2.3 5h0m8.9-26.9h0m.1 12h0m2 32.7h0m12.2-26.8h0m-2.2 3h0m8.7 10.2h0m9.4-17.1h0m-.3 14.2h0m3 .1h0" stroke="#7d7d7d" stroke-width="0.6" stroke-linecap="round"/><path d="M71.1 328.5h0m.8 3h0m6.5-14h0m1.1 28.1h0m13-33.9h0m2.5 17.6h0m2.7 10.4h0m8.2-19.9h0m8.3 16.4h0" stroke="#7d7d7d" stroke-width="0.9" stroke-linecap="round"/><path d="M105.4 344.3h0" stroke="#7d7d7d" stroke-width="1" stroke-linecap="round"/><path d="M72.4 325.8h0m7.6 23.7h0m3.6-22.3h0m11.2-7.8h0m5.6 21.6h0m4.5 8.7h0m4.7-18.7h0" stroke="#5a5a5a" stroke-width="1.5" stroke-linecap="round"/><path d="M72.3 331.6h0m3.4-.2h0m8.3-28.6h0m-.4 35.2h0" stroke="#5a5a5a" stroke-width="0.6" stroke-linecap="round"/><path d="M63.6 315.3h0m.8 2.5h0m4 21.6h0m2.6 9.8h0m9.1-45.4h0m-1.6 15.4h0m2.3 6.9h0m-1.9 10.2h0m-.7 17.4h0m7.9-41.6h0m4-1.1h0m-.1 37.3h0m11.5-24.8h0m7.1 23.1h0" stroke="#5a5a5a" stroke-width="1" stroke-linecap="round"/><path d="M81.9 339.3h0" stroke="#5a5a5a" stroke-width="2" stroke-linecap="round"/><path d="M65.5 322.3h0m3.2 .7h0m-.6 14.6h0m.2 .8h0m5.6-30.1h0m-2.6 8h0m5.7 1.6h0m1.9 11.3h0m8.5-20.6h0m10.2 47.7h0m6-13.9h0m7.8-8.9h0" stroke="#373737" stroke-width="1.5" stroke-linecap="round"/><path d="M58.8 329.4h0m9.7-20.1h0m17.1 13.6h0m-3.1 3.2h0m21.5 7.1h0" stroke="#373737" stroke-width="1" stroke-linecap="round"/><path d="M88.2 331.5h0" stroke="#373737" stroke-width="0.6" stroke-linecap="round"/><path d="M71.5 337.3h0m2.5 4.3h0m11.4 9.9h0m4.3 .1h0m11.7-42.9h0m4.7 19h0m.9 16.5h0m1.1 4.9h0m4.5-26.8h0" stroke="#191919" stroke-width="3" stroke-linecap="round"/><path d="M62.5 319.6h0m8.4 23.3h0m5.9-39.5h0m7.4 52.5h0m5.8-41.8h0m.6 18.6h0m-.9 25.3h0m20.1-41.5h0m4.2 11.7h0m-2.5 5h0" stroke="#191919" stroke-width="2" stroke-linecap="round"/><path d="M61.5 340.9h0m6.3-16.7h0m36.3-10h0m2.5 11.1h0" stroke="#191919" stroke-width="5" stroke-linecap="round"/><path d="M88.1 354.5h0m23.5-37.7h0m3.1 19.1h0" stroke="#191919" stroke-width="2.5" stroke-linecap="round"/><path d="M66.1 322h0m20.4-5.5h0m-.3 21.8h0m-4.6 14.8h0" stroke="#191919" stroke-width="4" stroke-linecap="round"/><path d="M59.5 323.9h0m1.9 17.2h0m5.3-27.1h0m4.6-4.1h0m39.1 28.3h0" stroke="#191919" stroke-width="3.5" stroke-linecap="round"/><path d="M60.5 331.5h0m19.6-27h0m7.7 50.4h0m5.2-48.9h0m10.3 42.9h0" stroke="#191919" stroke-width="4.5" stroke-linecap="round"/></g>
<g filter="url(#pb)"><circle cx="155.4" cy="330" r="32.6" fill="#dadada" stroke="#959595" stroke-width="0.8"/><circle cx="154.8" cy="329.8" r="30.4" fill="#efefef" stroke="#a8a8a8" stroke-width="0.6"/><path d="M129.7 328.8h0m1.2 13.2h0m8.5-9.5h0m22.1-22h0m0 9.3h0m.8 35.7h0m10.3-46.8h0m4.2 14.6h0m-.2 7.9h0m2 10.8h0" stroke="#9b9b9b" stroke-width="1" stroke-linecap="round"/><path d="M133.8 324.5h0m6.3 27.8h0m1.5-14.1h0m7.1-10.2h0m5.8 6.5h0m9.4-27.5h0m7.4 21.9h0" stroke="#9b9b9b" stroke-width="0.6" stroke-linecap="round"/><path d="M132.9 343.4h0m5.4 4.4h0m4.7-40.9h0m7 1.4h0m7-6.6h0m-.9 20.3h0m3.4 15.3h0m7-16.9h0m.5 6.1h0m1.7 18.1h0m5.4-32.2h0" stroke="#7d7d7d" stroke-width="1" stroke-linecap="round"/><path d="M154.4 355.9h0m10.6-46h0" stroke="#7d7d7d" stroke-width="0.6" stroke-linecap="round"/><path d="M144.8 314.3h0m12.9 2.4h0" stroke="#5a5a5a" stroke-width="2" stroke-linecap="round"/><path d="M182.3 336.5h0" stroke="#5a5a5a" stroke-width="1.5" stroke-linecap="round"/><path d="M149.2 321.2h0m-.4 4.6h0m8 13.5h0m3.9-34.9h0m-.7 16.6h0m1.3 16.8h0m8.3-20.1h0m-1.3 7.1h0m-.8 11.2h0m-1 1.8h0m8.8-28.1h0" stroke="#373737" stroke-width="1" stroke-linecap="round"/><path d="M134.5 314.6h0m-3.5 22.5h0m4.7-14.3h0m4.9 14.1h0m6.2-4.1h0m8.1 .2h0m7.6-16.5h0m-.9 12.3h0m-1.3 23.4h0m4 1.5h0" stroke="#373737" stroke-width="1.5" stroke-linecap="round"/><path d="M131.4 319.6h0m5.2 7.1h0m24 15.1h0m15.9-1.9h0" stroke="#373737" stroke-width="2" stroke-linecap="round"/><path d="M151.4 345h0m12.1-6.6h0m6.4 7.4h0m-4.6 10.4h0m11.5-35.3h0m-5.4 6.4h0" stroke="#191919" stroke-width="1.5" stroke-linecap="round"/><path d="M141.9 329h0m4.7 15.3h0" stroke="#191919" stroke-width="2" stroke-linecap="round"/><path d="M129.8 342.9h0m5.8 .5h0m16.4-12.5h0m2.4-2.1h0m7-21.5h0m1.2 44h0m13.1-15.9h0m3.4-16.9h0m-1.8 28.7h0" stroke="#191919" stroke-width="1" stroke-linecap="round"/></g>
<g filter="url(#pb)"><circle cx="223.2" cy="330" r="32.6" fill="#dadada" stroke="#959595" stroke-width="0.8"/><circle cx="222.6" cy="329.8" r="30.4" fill="#e7e7e7" stroke="#a8a8a8" stroke-width="0.6"/><path d="M205.2 313.9h0m4.1-9.5h0m0 12.8h0m0 4.3h0m.4 1.7h0m7.8-10.4h0m.4 12.6h0m.3 14.7h0m-.4 1.8h0m3.3 4h0m5.8-40.9h0m-1 45.5h0m10.2-3.7h0m5.2-38.1h0m-2.5 14.8h0m-.4 1.4h0m7.5-9.3h0m.1 4.8h0m-2.2 .5h0m6.8 19.2h0" stroke="#b9b9b9" stroke-width="0.9" stroke-linecap="round"/><path d="M202.7 310.7h0m2.5 16.2h0m-1.1 7.2h0m1 1.5h0m-.3 5.1h0m-2.4 5.4h0m6.3-39.6h0m2.8 5.2h0m-3.7 2.1h0m-.7 2h0m2.5 8.2h0m.7 4.7h0m1.3 3.6h0m.9 1.8h0m-1.8 .2h0m8.3-21.8h0m-3.3 2.6h0m-.6 8h0m.9 7.9h0m2 8.3h0m-2.2 9.3h0m7.6-32.6h0m-1.6 5.4h0m2.6 15.3h0m-5 7.1h0m11.6-38.1h0m-4 .5h0m3.3 .7h0m-2 39.9h0m-3 1.5h0m5.7-44.7h0m5.8 3h0m-4.9 21.9h0m1 18.2h0m3.5 5.1h0m-2 2.3h0m7.5-44h0m-1.8 12.9h0m2 22.5h0m-4.4 6.7h0m6.4-36.7h0m4.5 3.3h0m-4 3.5h0m3.8 6.1h0m-.7 1.4h0m-2.4 3.6h0m1.6 10.7h0m-.2 .4h0m2.5-24.9h0" stroke="#b9b9b9" stroke-width="0.6" stroke-linecap="round"/><path d="M194.7 331.2h0m3-11.5h0m-.2 7.7h0m-1.4 .8h0m-.2 2.8h0m8.5-18.6h0m-3.2 1h0m2.3 4h0m1.4 2.8h0m1.4 5.1h0m-.3 6.6h0m.6 1.2h0m-1.9 3.3h0m1 13.4h0m1.2 4.2h0m2.1-30.1h0m.1 3.1h0m3.7 15.7h0m-1.7 6.5h0m1.5 4.5h0m-4.8 .2h0m10.4-44.2h0m-3.4 3.1h0m-.1 .5h0m2.3 .6h0m-1.5 13.8h0m2.2 3.5h0m-.9 2.7h0m-3.4 3.2h0m.2 5.1h0m3.5 4.6h0m-1.7 .5h0m1.1 10h0m6.9-38.9h0m-1.9 3.1h0m-.4 9.5h0m-1.8 5h0m.4 4.2h0m1.6 6.5h0m1.5 1.7h0m-2 3h0m-.6 3.2h0m5.2-46.1h0m3.1 2.1h0m-3.2 0h0m4.3 2.2h0m.8 1.2h0m-3.2 13.1h0m.5 8.9h0m1.4 4.3h0m-3.1 5.5h0m.2 2.8h0m4.3 4h0m-3.9 2.3h0m-.2 .3h0m5.8-49.2h0m1.2 1.1h0m-.5 1.2h0m-.5 1h0m4.3 4.8h0m-.9 4.5h0m-.7 8.9h0m-3.4 1.9h0m4.2 9h0m-.4 .4h0m-.6 8.1h0m1.7 6.3h0m-.5 .3h0m-1.1 1.7h0m-1.5 .7h0m7.2-38.7h0m2.2 6.7h0m0 12.4h0m-2.9 .4h0m1.2 4h0m-2.4 8.2h0m7.2-36.4h0m-1.2 9.8h0m1.6 9.6h0m-.3 1.3h0m-.6 2.6h0m.3 8.9h0m5.8-21.1h0m-2.1 .3h0m1.6 1.7h0" stroke="#9b9b9b" stroke-width="0.6" stroke-linecap="round"/><path d="M200.9 327.9h0m4.6-13h0m.5 1.2h0m-3.6 16h0m5.2-21.2h0m1.6 9.5h0m-1.5 7.5h0m1.5 4.9h0m-.1 .2h0m-1.4 4.4h0m2 2.1h0m-1.1 7.1h0m1.5 .3h0m-.9 1h0m7.5-31.6h0m-1.3 29.5h0m3.9-41.7h0m1.5 12.1h0m-.2 4.3h0m-1.2 5.4h0m5.5 3.2h0m-3 1.9h0m2.7 21.3h0m2.6-41.9h0m.1 1.6h0m-2.2 13.3h0m5.1 31.4h0m5-49.2h0m-4 4h0m3 5.6h0m1.9 15.5h0m2.3-18.2h0m-.7 29.6h0m9.2-28h0m2 7.6h0m-2.2 19.8h0m-1.2 2.2h0m3.6-2.5h0" stroke="#9b9b9b" stroke-width="0.9" stroke-linecap="round"/><path d="M200.3 326.1h0m4.7 1h0m-2.7 1.8h0m1.3 20.8h0m7.6-39h0m-1.5 24.9h0m5.8-.5h0m.6 16.1h0m4.6-43.7h0m3.9 7.6h0m-3.5 4.5h0m-1.3 10.1h0m.5 25.5h0m8.2-28.8h0m-.9 6.4h0m8.5-14.8h0m-4.1 6.9h0m4.5 25.6h0m4.8-32.5h0m5.3-4.7h0" stroke="#9b9b9b" stroke-width="1" stroke-linecap="round"/><path d="M211.5 315.4h0m-3.1 28.7h0m14.2-11.1h0m13.4-10.1h0m3.4-11.8h0m5.2 15.2h0m1.3 19.5h0" stroke="#9b9b9b" stroke-width="1.5" stroke-linecap="round"/><path d="M194.8 331h0m2.9-5.8h0m2.1 .6h0m-2.9 1.1h0m1.1 4.1h0m2.2 2.5h0m.1 3.9h0m5.8-28.4h0m-3.7 5.6h0m.8 .7h0m-.6 9.1h0m2 3.1h0m1.5 1.2h0m-1.4 .7h0m-.8 4.4h0m1.8 1.2h0m-2.6 1.1h0m-1.4 .9h0m2.5 7.9h0m8.3-41.4h0m-3.7 3.8h0m1.3 .1h0m2.2 10.4h0m-5.3 5.5h0m5.2 2.6h0m-2.9 .1h0m-.9 1.4h0m.6 .8h0m-1.4 5.7h0m4.3 2.1h0m.2 4.9h0m-.8 3.2h0m-2.4 7.6h0m5.1-47.5h0m-.7 13.7h0m5.2 10.1h0m-.3 2.6h0m-4.2 6h0m.9 4.2h0m2.4 16.9h0m5.2-55.8h0m.9 2.9h0m-3.5 4.9h0m1.8 .4h0m-.1 3.3h0m3.3 3.6h0m-2.3 12.3h0m1.3 7.9h0m-.4 1.2h0m-4.3 10.8h0m.5 1.1h0m5.3 1.6h0m.6-38.7h0m4.3 1.9h0m-.7 11.7h0m-3.4 3.8h0m1.7 .5h0m-.5 .5h0m.9 .7h0m-.7 7.1h0m-.7 3.1h0m.8 1.3h0m5.9-36.3h0m2.4 9.1h0m.9 2h0m-.3 3.8h0m-.7 8.8h0m-4.5 4.5h0m5.5 2.5h0m-3.2 13.4h0m4.1-37.3h0m.8 13.3h0m1.4 1h0m-2 4h0m1.8 4.4h0m-1.4 .4h0m4.9 2.3h0m-.4 1.6h0m-1.4 4.4h0m-1.2 3.8h0m-2.4 5h0m6-45.3h0m2.6 23.5h0m-1.7 14.1h0m6.1-17.2h0m-1.4 3.1h0" stroke="#7d7d7d" stroke-width="0.6" stroke-linecap="round"/><path d="M198.7 316h0m-2.9 14.1h0m9.6-11.7h0m-2.9 17.5h0m4.4 7.4h0m1.7-28h0m-.7 6.7h0m9.4-6.6h0m-.3 .5h0m1.7 .3h0m-5.1 14.6h0m1.2 14.7h0m.6 8.2h0m3.9-52.3h0m3.1 23.6h0m3.4-21.8h0m5.1 6.1h0m-1.2 7.2h0m-1.7 33.6h0m7.1-38.3h0m-2.9 14.3h0m.9 26.5h0m9.1-43.8h0m-4.1 17.4h0m4 4.2h0m-1.8 15.8h0m5.9 .1h0m5.4-17.1h0" stroke="#7d7d7d" stroke-width="0.9" stroke-linecap="round"/><path d="M200.8 312.9h0m.7-.7h0m.3 1.7h0m.7 2.6h0m1.8 11.3h0m2 19.3h0m11.8-45.2h0m-.4 13.7h0m.8 10.3h0m-4 1.8h0m-.7 7.8h0m.1 14.8h0m10.4-33.6h0m-3.1 .1h0m.8 1.9h0m-2.7 18h0m2.9 5.3h0m-1.3 6.3h0m4.9-5.3h0m3 3.4h0m-2.2 9h0m9.8-23.6h0m.2 2.4h0m-4.1 6.8h0m6.6-30.6h0m1.6 22.6h0m.8 .9h0" stroke="#7d7d7d" stroke-width="1" stroke-linecap="round"/><path d="M200.4 340.5h0m10.3-8.3h0m19.5 23.3h0m1.4-36.2h0" stroke="#7d7d7d" stroke-width="1.5" stroke-linecap="round"/><path d="M209.2 306.8h0m7.2 19.7h0m.5 25.8h0m4.6-23.2h0m9.6-2.1h0" stroke="#5a5a5a" stroke-width="1" stroke-linecap="round"/><path d="M221.4 353.4h0m5.6-6.6h0m16.2-25h0" stroke="#5a5a5a" stroke-width="0.6" stroke-linecap="round"/><path d="M222 340.5h0m13.3 15.5h0" stroke="#5a5a5a" stroke-width="1.5" stroke-linecap="round"/><path d="M203.2 323.2h0" stroke="#5a5a5a" stroke-width="2" stroke-linecap="round"/><path d="M211.2 306.6h0m19.3 4.8h0m16.9 12.5h0" stroke="#373737" stroke-width="1.5" stroke-linecap="round"/><path d="M219.8 342.5h0" stroke="#373737" stroke-width="1" stroke-linecap="round"/><path d="M224.6 340.4h0" stroke="#373737" stroke-width="2" stroke-linecap="round"/></g>
<g filter="url(#pb)"><circle cx="291.4" cy="330" r="32.6" fill="#dadada" stroke="#959595" stroke-width="0.8"/><circle cx="290.8" cy="329.8" r="30.4" fill="#ebebeb" stroke="#a8a8a8" stroke-width="0.6"/><path d="M267.7 341.7h0m8.5 13.1h0m3.1 1.1h0m6.9-34.1h0m7.3-11.2h0m6.8 9.3h0m-2.2 14.8h0m7.1-5.8h0m4.7-2.5h0m1.6 11.9h0m6.3-1.2h0m-1.4 6.4h0" stroke="#b9b9b9" stroke-width="0.6" stroke-linecap="round"/><path d="M270.3 332.3h0m16.9-4.9h0m6.6-10.4h0m3.3 15.5h0m11.6-6.8h0m2.2 4.9h0" stroke="#b9b9b9" stroke-width="0.9" stroke-linecap="round"/><path d="M284.9 349.3h0m2.4-9.2h0" stroke="#b9b9b9" stroke-width="1" stroke-linecap="round"/><path d="M278.7 319.4h0m-3.6 21.9h0m7-38.6h0m5.7 27.3h0m-.6 14.9h0m9.3-36.9h0m-4.6 39.7h0m2.6 2.5h0m-3.2 3.6h0m10.8-47.6h0m-2.3 49h0m7.9-35.8h0m1 22.1h0m.9-28.2h0m2.2 28.8h0m-1.3 7.9h0" stroke="#9b9b9b" stroke-width="0.6" stroke-linecap="round"/><path d="M277.8 341.4h0m6.2-21.2h0m-.1 9.3h0m7.1 18.7h0m22.2-37.6h0m2 25.7h0" stroke="#9b9b9b" stroke-width="0.9" stroke-linecap="round"/><path d="M270.9 334.6h0m7.3-14.7h0m5.6-11.4h0m-1.7 34.9h0m26.1-36.5h0m5.6 18.3h0m4.5-1.7h0" stroke="#9b9b9b" stroke-width="1" stroke-linecap="round"/><path d="M276.1 346.7h0m10.7-1.4h0m8.3-43.2h0m-.8 7.6h0m3.6 22.6h0m12.4-21h0m4.1 1.7h0m-3.2 12.3h0" stroke="#7d7d7d" stroke-width="0.9" stroke-linecap="round"/><path d="M273 325.3h0m2.7-7.1h0m1.3 10.2h0m3.9 23.1h0m9.5-39.4h0m-1.1 4.4h0m1.1 28.8h0m-.6 13.2h0m1.9-49.2h0m9.7-2.1h0m.4 2.9h0m-2.2 22.2h0m0 2.8h0m11-22.8h0m.3 14h0m5.6-3.4h0" stroke="#7d7d7d" stroke-width="0.6" stroke-linecap="round"/><path d="M275.4 309.8h0m12.2 21.6h0m1.7 18.9h0m-1.5 7h0m6-27.2h0m1.4 14.4h0m9.7-20.8h0" stroke="#7d7d7d" stroke-width="1" stroke-linecap="round"/><path d="M285.4 328.7h0m4.5 5.9h0m9.2 2.1h0" stroke="#373737" stroke-width="1.5" stroke-linecap="round"/><path d="M276.9 328.7h0" stroke="#373737" stroke-width="1" stroke-linecap="round"/></g>
<g filter="url(#pb)"><circle cx="359.8" cy="330" r="32.6" fill="#dadada" stroke="#959595" stroke-width="0.8"/><circle cx="359.2" cy="329.8" r="30.4" fill="#f1f1f1" stroke="#a8a8a8" stroke-width="0.6"/></g>
<text x="24.9" y="400.8" font-size="9.4" text-anchor="middle" transform="rotate(-90 24.9 400.8)">USP44</text>
<text x="35.6" y="400.8" font-size="9.4" text-anchor="middle" transform="rotate(-90 35.6 400.8)">+</text>
<text x="46.3" y="400.8" font-size="9.4" text-anchor="middle" transform="rotate(-90 46.3 400.8)">siTRIM25</text>
<g filter="url(#pb)"><circle cx="87" cy="400.8" r="32.6" fill="#dadada" stroke="#959595" stroke-width="0.8"/><circle cx="86.4" cy="400.6" r="30.4" fill="#f1f1f1" stroke="#a8a8a8" stroke-width="0.6"/><path d="M62.9 391.5h0m4.9-7.7h0m12.1-6.6h0m-4.5 7.7h0m11.2 25.5h0m3.5-34.9h0m4.3 44.4h0m5.4-36.3h0m2.6 25.7h0m-2.3 9.1h0m11.7-6.3h0" stroke="#b9b9b9" stroke-width="0.6" stroke-linecap="round"/><path d="M68.6 385.2h0m.6 6.8h0" stroke="#b9b9b9" stroke-width="0.9" stroke-linecap="round"/><path d="M78.9 405.6h0m-3.4 4.6h0m16.8-29.7h0m-2.9 10.8h0m12.5-14.9h0m-1.2 49.3h0m7.7-35.3h0m3.1 22.5h0" stroke="#9b9b9b" stroke-width="0.9" stroke-linecap="round"/><path d="M64.8 394.5h0m6 11.2h0m8.4 15.3h0m4.8-4.4h0m-.5 10.9h0m9.3-48.6h0m.4 37.6h0m10.1 5.4h0m3.3-13.5h0m3.6 4.8h0" stroke="#9b9b9b" stroke-width="0.6" stroke-linecap="round"/><path d="M62.1 391.2h0m-3.8 4.8h0m5.3-11.5h0m1.8 19.8h0m9 5.9h0m.7-16.3h0m2.2 26.1h0m2.1 6.3h0m7.1-48.5h0m3.5 6.9h0m7.4 36.8h0m1.8-4.5h0m9.1-17.9h0m.3 11.4h0m4.5 2.5h0" stroke="#7d7d7d" stroke-width="0.6" stroke-linecap="round"/><path d="M61.5 391.5h0m3 4.6h0m10.2 12.2h0m10.9-4.5h0" stroke="#7d7d7d" stroke-width="0.9" stroke-linecap="round"/><path d="M98.6 411.1h0m2.5-18.1h0" stroke="#7d7d7d" stroke-width="1.5" stroke-linecap="round"/><path d="M58.7 397.2h0m5.7 9.3h0m9.5 1.2h0m2.5-2.6h0m3 14.9h0m2.5-19h0m3.1 6.8h0m13.2-1.5h0m-.2 11.3h0m-.6 8.9h0m3.1-38.6h0m12.2 24.5h0" stroke="#5a5a5a" stroke-width="1.5" stroke-linecap="round"/><path d="M62.4 406.2h0m-2.6 3.3h0m12-31.5h0m5.3 1.9h0m-2 12.3h0m1.1 28.1h0" stroke="#5a5a5a" stroke-width="0.6" stroke-linecap="round"/><path d="M64.2 417.9h0m12-33.5h0m3.3 10.7h0m.3 8.7h0m-3.3 22.5h0m14.3-16.1h0m5.2-35h0m2.2 16.8h0m6.6-13.1h0m-5.4 45.1h0m2 1h0m7.7-36.2h0m3.4 25h0" stroke="#5a5a5a" stroke-width="1" stroke-linecap="round"/><path d="M69.3 408h0m.4 1.4h0m6.3 7.8h0m1.7 7.1h0m7.3-47.9h0m.3 28.1h0m-3.2 3.9h0m12.6-7.4h0m3.7 24.3h0m13.1-38.9h0m1.7 18.1h0" stroke="#373737" stroke-width="1.5" stroke-linecap="round"/><path d="M66.6 386.3h0m2.6 13.7h0m10.9 5.4h0m.1 6.8h0m-2 11.3h0m12 4h0m15.5-39.6h0" stroke="#373737" stroke-width="1" stroke-linecap="round"/><path d="M63.4 388h0m14 31.4h0m17.8 1.3h0m5-28.6h0" stroke="#373737" stroke-width="0.6" stroke-linecap="round"/><path d="M59.2 394.6h0m11.2-12h0m-.7 40.6h0m5.7-44h0m11.4-6.3h0m-4.8 24.7h0m4.6 30.7h0m10-38.2h0m.9 11.4h0m.5 15.8h0m4-2h0" stroke="#191919" stroke-width="1.5" stroke-linecap="round"/><path d="M69.9 393.3h0m.9 23.1h0m9.1 12.1h0m3.5-41.9h0m17.5 18.4h0" stroke="#191919" stroke-width="5.5" stroke-linecap="round"/><path d="M77.2 401.8h0m1.2 20.9h0m4.9-32.3h0m6.1 14.2h0m-1.2 6.5h0m2.7 12.3h0m14.2-5.2h0m8.9-14h0" stroke="#191919" stroke-width="4" stroke-linecap="round"/><path d="M59.1 397.7h0m13.2 19.7h0m4.7-39.1h0m-.9 9.5h0m10.5 15.8h0m-3.1 2.7h0m12.8-13.1h0m4.6 9.5h0m11 1.1h0" stroke="#191919" stroke-width="3" stroke-linecap="round"/><path d="M66.2 391.8h0m7.2-8.1h0m-4.1 8.4h0m3.4 12.6h0m4.9-27h0m3.4 46.3h0m-.6 .7h0m5.7-38.8h0m-3.3 2h0m-.6 9.7h0m8.7-20.3h0m-.8 52h0m3.1-46h0m1.9 30.4h0m.1 7.7h0m5.3-34.4h0m-1.4 38.6h0m6.4-3h0" stroke="#191919" stroke-width="2" stroke-linecap="round"/><path d="M66.2 395.7h0m1.6 25.5h0m6.7-35.1h0m2.8 8.8h0m2.4 21.5h0m6.3-28h0m12.4 21.5h0m-2.5 6.3h0m8.7-38h0m8 12.2h0" stroke="#191919" stroke-width="2.5" stroke-linecap="round"/><path d="M75.5 413.4h0m9.1-7.1h0m4.6-5.9h0m15.5-14.5h0" stroke="#191919" stroke-width="3.5" stroke-linecap="round"/><path d="M71.8 414.3h0m9.7-4.1h0m23.9-26.5h0" stroke="#191919" stroke-width="5" stroke-linecap="round"/><path d="M67.6 385.2h0m21-9.5h0" stroke="#191919" stroke-width="4.5" stroke-linecap="round"/></g>
<g filter="url(#pb)"><circle cx="155.4" cy="400.8" r="32.6" fill="#dadada" stroke="#959595" stroke-width="0.8"/><circle cx="154.8" cy="400.6" r="30.4" fill="#ededed" stroke="#a8a8a8" stroke-width="0.6"/><path d="M166.5 412.4h0m10.3-31.5h0m-2.2 2.5h0m-1 23h0m3.8-22.6h0m-.3 13.5h0m2 16.9h0" stroke="#b9b9b9" stroke-width="0.6" stroke-linecap="round"/><path d="M136.6 388.1h0m6.5 2h0m6.3 19.1h0m8.8 4.9h0m1.7 13h0m12-38.5h0m3 28.5h0m2.5-4.3h0" stroke="#b9b9b9" stroke-width="0.9" stroke-linecap="round"/><path d="M127.8 399.7h0m3.3-13.4h0m3.3 19.5h0m12.8-26.3h0m.3 47.8h0m7.1-41.9h0m1.7 2h0m4.5 33.9h0m0 1.7h0m5.1-5.2h0m9.8-30.8h0m.8 .2h0m6.1 22.1h0m-1 2.8h0" stroke="#9b9b9b" stroke-width="0.6" stroke-linecap="round"/><path d="M137 381.2h0m-1.1 31.9h0m21.9-33h0m-4.1 8.5h0m-.7 23h0m10.9 4.4h0m1.2-16.1h0m10.4 16h0m4.8-10.9h0" stroke="#9b9b9b" stroke-width="0.9" stroke-linecap="round"/><path d="M138.7 403.6h0m-2.6 4.6h0m2.4 3.3h0m12.6-38.3h0m-3.3 7.4h0m5.4 19.9h0m1.9 27.8h0m6.5-7.8h0m4.1-41.8h0m3.4 15h0" stroke="#7d7d7d" stroke-width="0.6" stroke-linecap="round"/><path d="M157.4 399.8h0m-.5 27.9h0m8.8-4.2h0" stroke="#7d7d7d" stroke-width="0.9" stroke-linecap="round"/><path d="M134.7 416.6h0m10.1 11h0m7.7-43h0m3.6-3.7h0m18.7 16.6h0m0 21.6h0m5.6-26h0" stroke="#7d7d7d" stroke-width="1" stroke-linecap="round"/><path d="M134.7 416.1h0m2.6-11h0" stroke="#7d7d7d" stroke-width="1.5" stroke-linecap="round"/><path d="M142.5 377.7h0m4.6 30.3h0m17.9-30.4h0m-2 40.3h0m.9 3.5h0m12.6-35.6h0m-3.1 6.7h0" stroke="#5a5a5a" stroke-width="0.6" stroke-linecap="round"/><path d="M147 413.2h0" stroke="#5a5a5a" stroke-width="1.5" stroke-linecap="round"/><path d="M128.2 397h0m14 13.4h0m14.2-2.5h0m9.1 11.9h0m10.6-20.3h0m1.6 13.3h0" stroke="#5a5a5a" stroke-width="1" stroke-linecap="round"/><path d="M145.4 425.8h0m2.9-20.1h0m13.1 16.3h0m18.8-22.1h0" stroke="#373737" stroke-width="2.5" stroke-linecap="round"/><path d="M132.6 388.6h0m20-2h0m13.8-.9h0m2 14.7h0m3.5 6.2h0m4.9 10.7h0" stroke="#373737" stroke-width="2" stroke-linecap="round"/><path d="M131.8 399.2h0m-1 7.7h0m15-33.1h0m-4.5 34.5h0m8.4-26.8h0m1.7 37.1h0m5.9-11.1h0m1.1 3.3h0" stroke="#373737" stroke-width="1" stroke-linecap="round"/><path d="M128.3 402.1h0m18.3 4.1h0m2.2-28.7h0m16 36.5h0m.7-40.1h0m1.9 39.6h0" stroke="#373737" stroke-width="1.5" stroke-linecap="round"/><path d="M161 396.4h0" stroke="#373737" stroke-width="4" stroke-linecap="round"/><path d="M135.5 415.2h0m19.2-33h0m6.7 24.4h0" stroke="#373737" stroke-width="3" stroke-linecap="round"/><path d="M164.7 410.8h0" stroke="#373737" stroke-width="3.5" stroke-linecap="round"/><path d="M145.1 392.2h0m18.1 3h0" stroke="#373737" stroke-width="0.6" stroke-linecap="round"/><path d="M134 409.5h0m14-11.3h0m1.8 4.4h0m3.6-12h0m10.6 36.3h0m10.1-10.8h0" stroke="#191919" stroke-width="1.5" stroke-linecap="round"/><path d="M136.3 394.2h0m11.5-2.4h0m2.1 6.4h0m32-3h0" stroke="#191919" stroke-width="3" stroke-linecap="round"/><path d="M135.3 404.5h0m15.5-11.7h0m7.7 3.9h0m10.8-7.3h0m7.7-1.7h0" stroke="#191919" stroke-width="1" stroke-linecap="round"/><path d="M133.7 407.2h0m2.7-17.9h0m13.2-7.8h0" stroke="#191919" stroke-width="2.5" stroke-linecap="round"/><path d="M174.2 420.4h0" stroke="#191919" stroke-width="2" stroke-linecap="round"/><path d="M173.2 419.3h0" stroke="#191919" stroke-width="3.5" stroke-linecap="round"/></g>
<g filter="url(#pb)"><circle cx="223.2" cy="400.8" r="32.6" fill="#dadada" stroke="#959595" stroke-width="0.8"/><circle cx="222.6" cy="400.6" r="30.4" fill="#ebebeb" stroke="#a8a8a8" stroke-width="0.6"/><path d="M195.5 404.8h0m8.2-24h0m5.3 40.8h0m8.2-38.7h0m10.8 13.3h0m-2.5 9.5h0m8.2-28.7h0m2.4 19.9h0m4.9-11h0m-2.2 14.1h0m7.2 3.2h0" stroke="#b9b9b9" stroke-width="0.9" stroke-linecap="round"/><path d="M198.5 389.6h0m.7 1.9h0m-1 6.8h0m1.9 6.3h0m5.9-24.1h0m-2.7 7.6h0m7.9 10.7h0m3.9 6.8h0m.6 2.4h0m13.1-15.8h0m-1.7 11.8h0m1.4 7.7h0m7.7 1.5h0m-4.8 1.2h0m6.2-29.5h0m5.2 3.6h0m-.7 2.4h0m-5 12h0m2.3 4.2h0m1.6 12.7h0m4-34h0m1.4 6.9h0m-.1 21.5h0m3.2-22.3h0m0 6.2h0m2.2 1.8h0" stroke="#b9b9b9" stroke-width="0.6" stroke-linecap="round"/><path d="M199 386.4h0m1.8 16.9h0m-1.5 5.2h0m-2.7 2.7h0m2.5 5.5h0m2.2-27.1h0m4.4 5.9h0m3.3-5h0m.8 4.5h0m.1 20.4h0m8.7-40.8h0m-5.4 1.3h0m3.7 3.1h0m1.9 14.7h0m-5.2 .2h0m.3 5.9h0m.3 7.3h0m-.6 8.5h0m10.3-21.1h0m.8 .1h0m-.9 5.5h0m.7 .9h0m-.8 1.5h0m-.9 4.2h0m-3.4 1.2h0m2.6 1.2h0m-2.8 14.7h0m3 2.4h0m-1.5 1.3h0m8-54.1h0m.8 9.5h0m-2.2 5.6h0m2.2 17.4h0m-4 3.2h0m5 1.8h0m-2.1 3.3h0m-1 .3h0m-1 .7h0m4.1 6.2h0m5.6-42.4h0m-.3 3.1h0m-4.2 1.3h0m.9 9.6h0m.2 32.2h0m-.9 2.1h0m5.6-36.4h0m5 2.9h0m-2.4 1.2h0m2.7 9.7h0m-4.9 13.5h0m9.2-34.2h0m-.1 8.1h0m.4 4.8h0m-2.9 6.5h0m5.2-12.4h0m1.3 5.6h0m-1 7.6h0" stroke="#9b9b9b" stroke-width="0.6" stroke-linecap="round"/><path d="M199.5 415.1h0m3.5 5.1h0m9-43.4h0m-1.1 21.9h0m1.1 8.7h0m-2.7 18.2h0m7.3-38.8h0m-2.9 19.5h0m2.3 12.7h0m8-2.7h0m2.1-25.6h0m1.5 .8h0m-.9 .3h0m9-8.6h0m1.1 16.7h0m1.5-22.7h0m.6 5.2h0m-1.3 9h0m8.2 8.5h0" stroke="#9b9b9b" stroke-width="0.9" stroke-linecap="round"/><path d="M198 406.2h0m8.4-13.9h0m-2.9 8.2h0m-.8 14.8h0m9.8-37.9h0m.9 40.9h0m7.6-2h0m13.7-32.6h0m-2.4 33.9h0" stroke="#9b9b9b" stroke-width="1" stroke-linecap="round"/><path d="M199.2 392.5h0m-4.2 5.3h0m4 11h0m3.5-18.9h0m15.8 7.5h0m5.5-15.2h0m-4.8 10h0m4.1 1.4h0m.5 20.9h0m-2.8 2.8h0m10.2-41.1h0m-.5 2.9h0m-.6 7.1h0m.1 9.4h0m-4.9 12.7h0m5.4 .4h0m-1.2 13.4h0m2.2-49h0m1 12.5h0m1.8 39.7h0m-3.1 2.5h0m8.8-24.9h0m6.4-5.4h0" stroke="#7d7d7d" stroke-width="0.9" stroke-linecap="round"/><path d="M195 394.6h0m.4 2h0m.2 1.2h0m4.7 3.3h0m5.7-23.2h0m-1.3 3.7h0m2 10.7h0m-1.6 17.1h0m.6 2.4h0m-4.3 3h0m5.5 2.6h0m-1.3 1.9h0m4.1-35.4h0m1.3 16.3h0m.5 8.5h0m-3.5 4.5h0m.7 5h0m1.4 3.4h0m5.8-32h0m-.7 13.2h0m-.6 3.5h0m7-21.9h0m1 1h0m-2.9 17.1h0m-.7 3.2h0m3.7 13.2h0m1.9 2h0m-.5 6.5h0m6.6-49.8h0m-2.8 8.5h0m.7 5.7h0m.4 22.8h0m6-31.1h0m-3.3 1.8h0m0 9.6h0m1 1.2h0m.7 14.5h0m.9 6.9h0m1 5.1h0m-3.5 1.8h0m2.2 .1h0m1.6 .1h0m4.9-45.5h0m2.2 8.4h0m-1 11.9h0m-.5 10.8h0m1.2 4h0m-4.6 5h0m-.4 5h0m10.2-37.5h0m-4.2 6.2h0m4.5 4.5h0m.9 1.4h0m-2.9 5.8h0m2 9.2h0" stroke="#7d7d7d" stroke-width="0.6" stroke-linecap="round"/><path d="M215.8 401.6h0m17.9 14.7h0" stroke="#7d7d7d" stroke-width="1.5" stroke-linecap="round"/><path d="M198 405.1h0m4.3 3.8h0m47.5-2.9h0" stroke="#7d7d7d" stroke-width="2" stroke-linecap="round"/><path d="M197.5 391.7h0m7.4 8.6h0m12.7-2.9h0m-2.2 3.5h0m3.9 10.6h0m.3 3.7h0m15.6-40.1h0m1.3 15.2h0m-4.7 8.4h0m1.2 11.1h0m8.4 11.2h0m5.1-20.8h0m-.8 1.9h0m5.2-4.7h0" stroke="#7d7d7d" stroke-width="1" stroke-linecap="round"/><path d="M204.2 419h0m5.7-1.9h0m5.7-20.4h0m3.6-9.5h0m7.4 12.7h0m9.3 18.8h0" stroke="#5a5a5a" stroke-width="1.5" stroke-linecap="round"/><path d="M198.4 397.5h0m7.1-10.5h0m-3.4 6.2h0m.5 6.3h0m7.2-12.3h0m10-11.4h0m4.3 46.5h0m9.9-45.6h0m5.9 24.2h0" stroke="#5a5a5a" stroke-width="1" stroke-linecap="round"/><path d="M209.4 411.3h0m16-20.2h0m6.4 1.9h0m-.1 11.6h0m9.5-19.7h0m-2 5.4h0" stroke="#5a5a5a" stroke-width="0.6" stroke-linecap="round"/><path d="M241 391.9h0" stroke="#5a5a5a" stroke-width="2" stroke-linecap="round"/><path d="M200.2 391.1h0m25.1 27.1h0m10.4-23h0m9.7-12.2h0m4.8 20h0" stroke="#373737" stroke-width="2" stroke-linecap="round"/><path d="M203.2 398.7h0m5.6-11.8h0m8.5-12h0m6.1 37.9h0m16.4 9.8h0m11.3-15.6h0" stroke="#373737" stroke-width="1.5" stroke-linecap="round"/><path d="M198.8 408.3h0m10.1-3.4h0m8.7-11.7h0m7-6.4h0m3.2 39.9h0m8.6-44.9h0m7.6 17.7h0m2.4 13.1h0" stroke="#373737" stroke-width="1" stroke-linecap="round"/><path d="M215.4 393.6h0m2.8 15.2h0m2.1-7.8h0m-.3 .1h0m2.5 26.3h0" stroke="#373737" stroke-width="0.6" stroke-linecap="round"/></g>
<g filter="url(#pb)"><circle cx="291.4" cy="400.8" r="32.6" fill="#dadada" stroke="#959595" stroke-width="0.8"/><circle cx="290.8" cy="400.6" r="30.4" fill="#efefef" stroke="#a8a8a8" stroke-width="0.6"/><path d="M269.4 412.2h0m8-21h0m11.3 14h0m15.9-30.4h0m4.5 40.8h0" stroke="#b9b9b9" stroke-width="0.9" stroke-linecap="round"/><path d="M264.2 392h0m13.6 1.5h0m9.1-11.5h0m-.2 11.2h0m9 1.1h0m5.3-14.3h0m14.8 25.3h0" stroke="#b9b9b9" stroke-width="0.6" stroke-linecap="round"/><path d="M266.3 394.9h0m30.4 10.9h0" stroke="#b9b9b9" stroke-width="1" stroke-linecap="round"/><path d="M268.1 386h0m.1 8h0m9.1-9.8h0m5.1 21.9h0m6.8-14.7h0m5.6 14.4h0m5.9-29.6h0m.3 11h0m-.9 7.2h0m5.3-17.2h0m.4 25.1h0m-.9 1.7h0m9.5-11.3h0m1.8-4.7h0" stroke="#9b9b9b" stroke-width="0.6" stroke-linecap="round"/><path d="M265.9 409.6h0m5.5 .5h0m2 10.4h0m6.4-44.4h0m2.7 41.1h0m16.4-17.6h0m-1.2 17.3h0m12-13.5h0" stroke="#9b9b9b" stroke-width="0.9" stroke-linecap="round"/><path d="M270.8 409.7h0m6.7 10.7h0m4.6-41.3h0m2.9 11.4h0m-5 5h0m6-14.8h0m7.8 2.8h0m.7 30.1h0m5.9-9.1h0m10.5-4.9h0m0 10.4h0" stroke="#9b9b9b" stroke-width="1" stroke-linecap="round"/><path d="M271.1 413.1h0m-2.7 4.5h0m9.9-40.1h0m-3.8 16.3h0m-1.1 .2h0m11.4-11.5h0m-4.2 10.9h0m2.6 2.5h0m2.3-.1h0m-.1 21.9h0m7.3-28h0m3.9 28.2h0m3.5-42.7h0m5.3 44.8h0m-2.2 3.4h0m6.2-36.4h0m3.5 25h0" stroke="#7d7d7d" stroke-width="0.6" stroke-linecap="round"/><path d="M267.7 394.4h0m3.3 2.9h0m5-7.8h0m21 12.1h0m5-7.5h0m6.7 25.4h0" stroke="#7d7d7d" stroke-width="0.9" stroke-linecap="round"/><path d="M266.6 391.7h0m-3.5 7.4h0m12.6-7.8h0m8.2 7.9h0m10.1-12.5h0m-1.8 29.8h0" stroke="#7d7d7d" stroke-width="1" stroke-linecap="round"/><path d="M288.9 389.2h0" stroke="#7d7d7d" stroke-width="1.5" stroke-linecap="round"/><path d="M270.8 394.3h0m6.4-1h0m11.2 16.5h0m6.8-22.6h0m13.8-1h0" stroke="#5a5a5a" stroke-width="0.6" stroke-linecap="round"/><path d="M281.6 418h0m13.2-18.5h0" stroke="#5a5a5a" stroke-width="1.5" stroke-linecap="round"/><path d="M272 393.6h0m2.2-4.2h0m.9 12h0m.8 7.9h0m6.2-.8h0m5.2 3.4h0m9.4-39.3h0" stroke="#5a5a5a" stroke-width="1" stroke-linecap="round"/><path d="M264.9 403h0m3.2-12h0m-1 6.1h0m10.8-19.4h0m10.3-2.1h0" stroke="#373737" stroke-width="0.6" stroke-linecap="round"/><path d="M280.8 417.7h0m8.2 3.8h0m10.8-26.7h0m10.9 27.3h0" stroke="#373737" stroke-width="1.5" stroke-linecap="round"/><path d="M278.2 396.4h0m22 29.2h0m13.9-19.9h0" stroke="#373737" stroke-width="1" stroke-linecap="round"/></g>
<g filter="url(#pb)"><circle cx="359.8" cy="400.8" r="32.6" fill="#dadada" stroke="#959595" stroke-width="0.8"/><circle cx="359.2" cy="400.6" r="30.4" fill="#dfdfdf" stroke="#a8a8a8" stroke-width="0.6"/><path d="M332.9 393.8h0m-.9 5.1h0m-.5 8.5h0m2.4-11.8h0m2.1 12.8h0m4.3-27.6h0m-1 9.8h0m5 4.6h0m-4.2 9.1h0m.2 8.4h0m4.3 2.7h0m.1 .5h0m1.8-40.4h0m2.2 5.6h0m-.1 7.4h0m1.5 1.6h0m-2.7 .4h0m2.9 18h0m-4.7 2.1h0m4.8 3.6h0m-4.2 4.2h0m3.6 1.3h0m-1.2 2.9h0m4.8-12.2h0m-1.8 .2h0m3 13.6h0m.7 .8h0m-2.4 2.5h0m2.8 .1h0m7.1-49.3h0m-1.1 .2h0m-1.8 4.9h0m.4 6.7h0m.6 .5h0m-1.9 .8h0m0 6.3h0m2.3 9.9h0m-.1 16.8h0m5.8-51.1h0m-.3 7.7h0m-.8 7.7h0m1.8 9.7h0m.6 17.6h0m.4 7.1h0m-.4 2.6h0m-4.1 2.8h0m10.5-47.9h0m-3.7 1h0m2.8 10.9h0m-.4 3.7h0m-.6 .9h0m1.8 14.1h0m-4 10.5h0m7.7-42.2h0m-1.1 .1h0m3.3 6.1h0m-.4 5.1h0m-4.7 8.8h0m.1 3.1h0m5 4.2h0m-3.7 2h0m8.9-6.8h0m-2.8 1.5h0m-.2 .4h0m2.3 8.1h0m2.2-3.7h0" stroke="#b9b9b9" stroke-width="0.6" stroke-linecap="round"/><path d="M339 390.1h0m-3.2 .7h0m1.1 1.2h0m4.3 27.3h0m5.5-39.1h0m2.9 15.9h0m1.4 .5h0m-1.3 7.2h0m.7 22.7h0m3.7-44.2h0m-2.1 12.8h0m1.1 4.9h0m2.6 24.1h0m3.5-32.3h0m1.2 6.9h0m-1.1 12.2h0m4.3-26.4h0m.7 6.5h0m2.5 2.1h0m.8 6.7h0m-3.6 .3h0m3.7 4.5h0m7.1-25.4h0m-5.4 9.8h0m4.9 23.7h0m6.5-10.1h0m-4 6.8h0" stroke="#b9b9b9" stroke-width="0.9" stroke-linecap="round"/><path d="M332 400.9h0m-.2 .5h0m.8 6.6h0m4.1-21.5h0m2 7.3h0m-.8 26h0m5.7-27h0m-.7 3.2h0m2 2.9h0m-.9 6h0m-.7 2h0m-3.7 6.1h0m11.1-36.9h0m.1 21.6h0m-.9 6.2h0m-4.4 4.6h0m.2 2.2h0m4.5 6.3h0m1.9-38.6h0m9.3 13.4h0m-.2 16.6h0m-2.9 2.2h0m4.2 17.9h0m5.2-42.7h0m.6 6.2h0m-.9 13.5h0m-3.4 3.3h0m2.9 10.2h0m.1 3.9h0m4.9-44.7h0m2.3 13.5h0m-1.2 4.9h0m-3.3 8.5h0m3.8 3.3h0m-3.9 3.1h0m5.3 10.4h0m-.5 3.8h0m2.2-43.3h0m-.8 18.1h0m4 2.7h0m1.1 8.8h0m-3.4 4.3h0m-.6 8h0m6.4-35.4h0m1.5 3.6h0m1.2 2.9h0m-2 10.7h0" stroke="#9b9b9b" stroke-width="0.9" stroke-linecap="round"/><path d="M331.7 397.6h0m0 6.5h0m1.7-15.2h0m.2 5h0m3.6 7.8h0m-2.9 .5h0m3.4 10.1h0m-.1 7h0m4.1-39.8h0m-.5 2.5h0m-.8 10.1h0m2.6 5.2h0m.5 4.4h0m-.5 5.3h0m-3.7 2.5h0m1.3 1.9h0m-.6 .4h0m3 .5h0m-3.9 1.1h0m5 1.2h0m-2.4 2.4h0m8.6-42.7h0m.2 .3h0m-4 2.8h0m3.6 4.9h0m.8 1.6h0m-.7 .4h0m-1.1 4.1h0m-1.7 3.6h0m3.1 6h0m-1.2 1.7h0m-2.4 .5h0m3.1 .2h0m-1.9 10.3h0m.8 1.2h0m1.3 .3h0m-1.7 2.9h0m-1.4 .8h0m3.9 1h0m-4.1 2.1h0m3.1 2.5h0m3.9-43.5h0m-1.2 .4h0m3.5 4h0m-.8 10.3h0m.1 1.2h0m-3 1.5h0m1.6 1h0m-2.6 6.6h0m1.5 4.9h0m.8 3.1h0m1.2 9h0m.8 .6h0m.1 .4h0m-1.5 1.8h0m2.4 4.6h0m5-53.1h0m-4.2 8h0m4.6 3.4h0m.6 1.8h0m-1.8 5h0m1 7.9h0m-4.5 .4h0m2 18.2h0m.5 1h0m2.3 2.4h0m-.7 3.2h0m-1.4 3.7h0m3.7-56.3h0m-.5 2.7h0m4.9 2.3h0m-2.7 1.3h0m1.6 1.4h0m1.4 1.1h0m-2.7 4.7h0m1.8 2.8h0m1 1.4h0m-4.4 2.2h0m2.4 1.6h0m2.2 6.3h0m-2.5 4.1h0m2.2 3.6h0m-1.8 7.1h0m-.7 6.3h0m-2.7 .1h0m11.5-42.4h0m-5.3 3.3h0m0 5.6h0m4.1 5.2h0m-4 .7h0m3.9 2.6h0m-3.9 1.4h0m2 .5h0m.8 .7h0m1.1 2h0m-4.4 4.4h0m4.1 .9h0m-4.2 3.7h0m4.9 1.2h0m-.3 1.8h0m-2.6 4.5h0m.9 2.2h0m1.1 3.8h0m4.8-43.9h0m-.7 .4h0m2.8 .9h0m-1.9 1.9h0m.5 2.2h0m-.7 5.9h0m-2.6 3.5h0m3.2 .3h0m1.1 .3h0m-4.3 3.3h0m3.8 .2h0m.5 2.9h0m.7 1.6h0m-4.7 1.4h0m-.1 2.4h0m1.8 11.7h0m-.6 .9h0m5.3-36.3h0m-.6 12.7h0m4 3h0m.7 4.7h0m-4 4.7h0m3 4.4h0" stroke="#9b9b9b" stroke-width="0.6" stroke-linecap="round"/><path d="M333.7 406.5h0m8.4-25.9h0m.4 4.6h0m1.9 1.4h0m-4 14.6h0m.7 6.4h0m6.6 12.9h0m-1.1 5.5h0m9.5-19.7h0m-4.8 10.5h0m4.4 3.1h0m4.7-10.4h0m8.1 .8h0m3.3-17.5h0m-2.2 26h0m5.3 5.1h0m2.8-41.3h0m0 9.9h0m1.8 20.3h0m-4.4 5.7h0m5.9-14.9h0" stroke="#9b9b9b" stroke-width="1" stroke-linecap="round"/><path d="M332.1 396.7h0m6.8-16.3h0m-2.8 8.2h0m2.2 0h0m-4.8 1.4h0m3.7 2h0m1 8.2h0m-1.4 .8h0m-3.6 .3h0m2.7 1.7h0m.5 5.9h0m-.9 6h0m3.3 3.6h0m5.7-34.6h0m-3.7 2.1h0m1.6 8.3h0m-3.3 .1h0m1.5 5.3h0m3.9 1h0m-2.6 4.4h0m-.9 2.9h0m.6 3h0m1.4 1.4h0m.6 1.7h0m.8 .1h0m-1.9 2.6h0m-.1 1.3h0m-2.3 1.7h0m.5 1.8h0m.3 .5h0m9.4-46.2h0m-.8 6.5h0m.3 10.5h0m-4.5 3.3h0m1 .3h0m.1 .1h0m3.9 5.8h0m-.3 6.1h0m-2.4 10.1h0m-.3 3.9h0m3.4 3.7h0m4.5-52.8h0m1.7 7.2h0m-1 .4h0m-2 4.9h0m-2.4 .4h0m4.8 0h0m-5 3.1h0m4.2 .2h0m.4 2.5h0m-1.4 8.6h0m.6 .6h0m-3.3 .5h0m4.2 .7h0m-.9 3.5h0m-2.9 .3h0m.9 6.5h0m-.6 1.6h0m4.1 3.9h0m-.2 2.2h0m.5 4.8h0m4.1-52.5h0m-3.3 8.1h0m5 .5h0m-1.4 0h0m-.8 2.7h0m-.2 3.7h0m-.6 1.4h0m-.8 .2h0m-.2 4.6h0m.2 2.3h0m1.6 6.9h0m-2.9 2.6h0m1.9 2.3h0m2.7 2.3h0m.8 3.3h0m-5.1 .7h0m3.5 4h0m-1.7 4.2h0m-1.2 2.6h0m-.4 1.2h0m2.8 3h0m3.2-45.6h0m4.6 8h0m-2.7 11.9h0m-2.9 1h0m2.6 2.3h0m-.3 .7h0m-.1 4.6h0m3.3 .3h0m-3.8 9.8h0m3.3 1.5h0m-.1 4.6h0m3.3-52.8h0m1.9 3.5h0m-2.2 1.2h0m3.8 9h0m-1.2 2.5h0m-2.1 1.1h0m-1.5 1.8h0m.2 2.4h0m1.7 1.6h0m-.2 1.6h0m-.6 9.3h0m.5 1.7h0m-1.8 4.4h0m2.5 3.5h0m1.6 1.4h0m-3 .5h0m3.9 2.7h0m-5.4 3.7h0m6.3-49.3h0m3.4 2.4h0m-3.4 2.3h0m.6 4.1h0m-.1 6.5h0m4.2 2.5h0m-1.2 4.4h0m-4.1 5.3h0m5.6 3.9h0m-2.7 .4h0m-2.4 .2h0m1.4 8.1h0m1.8 1.6h0m-2.5 2.9h0m9.5-30h0m.5 1.8h0m-.8 10.2h0m-3.8 2.6h0m4 2.9h0m2.9-6h0" stroke="#7d7d7d" stroke-width="0.6" stroke-linecap="round"/><path d="M332.7 404.5h0m-1.2 2.4h0m7.2-14.2h0m-.8 12.1h0m-2.1 7.4h0m8.3-30.1h0m-2.8 13.6h0m1.8 3.5h0m1.3 3.7h0m-4.6 2.2h0m10.4 10.2h0m1.3-42.4h0m.1 2.9h0m5.1 5.9h0m-.4 .3h0m-3.4 2.5h0m2.3 11.6h0m1.7 14.2h0m4.4-35.8h0m-1.2 35h0m2.7 1.5h0m-2.9 15.9h0m7.9-44.8h0m1 12.3h0m-.3 3.1h0m-4.2 10.9h0m2.2 12.3h0m2.1 5.5h0m-5.3 1.6h0m9.1-47.3h0m-.9 17h0m2.5 5.9h0m.7 8.2h0m-5.4 3h0m3.9 5.6h0m6.7-30.5h0m-4.4 3.8h0m4.7 4.6h0m-.7 .3h0m-1.6 9.6h0m-.2 14.3h0m5.6-37.8h0m-.1 3.9h0m1 .6h0m-1.6 9.7h0" stroke="#7d7d7d" stroke-width="0.9" stroke-linecap="round"/><path d="M345 388.6h0m-5.4 2h0m1.9 .3h0m-.8 2.8h0m2.9 17.1h0m-2.2 1.7h0m8.2-37h0m-3.9 6h0m-.1 9.5h0m4.1 26.2h0m4.4-31.7h0m.2 .2h0m-2.1 22.9h0m-.7 1.9h0m4.5 11.1h0m5.4-43.5h0m1.5 17.4h0m-2.1 8.4h0m.8 .4h0m-1.9 22h0m5-42.3h0m3.6 18.3h0m-.5 4.8h0m-4.2 7.4h0m8.4-10.4h0m-.5 11.7h0m7-19.7h0m1.2 4.5h0m-2.8 21.6h0m-1 .7h0m7.9-37.1h0m-1.3 13.1h0m4 1.6h0m-4.4 4.7h0" stroke="#7d7d7d" stroke-width="1" stroke-linecap="round"/><path d="M335.6 396h0m18.8 18.3h0m7.2-12.1h0m-1.1 26.5h0m2.9-8.2h0m8.5-6h0" stroke="#5a5a5a" stroke-width="0.6" stroke-linecap="round"/><path d="M340.1 386.9h0m11 25.5h0m11.5-13h0m2.1-20.7h0m5 21.9h0m-.5 26.8h0m16.9-34.1h0" stroke="#5a5a5a" stroke-width="1" stroke-linecap="round"/></g>
<text x="86.5" y="444.2" font-size="9.5" text-anchor="middle">0Gy</text>
<text x="154.9" y="444.2" font-size="9.5" text-anchor="middle">2Gy</text>
<text x="222.7" y="444.2" font-size="9.5" text-anchor="middle">4Gy</text>
<text x="290.9" y="444.2" font-size="9.5" text-anchor="middle">6Gy</text>
<text x="359.3" y="444.2" font-size="9.5" text-anchor="middle">8Gy</text>
<text x="541.8" y="10.2" font-size="12" font-weight="bold" fill="#000">b</text>
<text x="487.4" y="34.3" font-size="9" text-anchor="middle">SUNE1</text><line x1="438.2" y1="60.5" x2="438.2" y2="170.7" stroke="#1a1a1a" stroke-width="1"/><line x1="437.7" y1="170.2" x2="528.3" y2="170.2" stroke="#1a1a1a" stroke-width="1"/><line x1="435.6" y1="61" x2="438.2" y2="61" stroke="#1a1a1a" stroke-width="0.9"/><text x="432.9" y="64.2" font-size="8.8" text-anchor="end">1</text><line x1="436.6" y1="80.1" x2="438.2" y2="80.1" stroke="#1a1a1a" stroke-width="0.5"/><line x1="436.6" y1="75.3" x2="438.2" y2="75.3" stroke="#1a1a1a" stroke-width="0.5"/><line x1="436.6" y1="71.9" x2="438.2" y2="71.9" stroke="#1a1a1a" stroke-width="0.5"/><line x1="436.6" y1="69.2" x2="438.2" y2="69.2" stroke="#1a1a1a" stroke-width="0.5"/><line x1="436.6" y1="67.1" x2="438.2" y2="67.1" stroke="#1a1a1a" stroke-width="0.5"/><line x1="436.6" y1="65.2" x2="438.2" y2="65.2" stroke="#1a1a1a" stroke-width="0.5"/><line x1="436.6" y1="63.6" x2="438.2" y2="63.6" stroke="#1a1a1a" stroke-width="0.5"/><line x1="436.6" y1="62.2" x2="438.2" y2="62.2" stroke="#1a1a1a" stroke-width="0.5"/><line x1="435.6" y1="88.3" x2="438.2" y2="88.3" stroke="#1a1a1a" stroke-width="0.9"/><text x="432.9" y="91.5" font-size="8.8" text-anchor="end">0.1</text><line x1="436.6" y1="107.4" x2="438.2" y2="107.4" stroke="#1a1a1a" stroke-width="0.5"/><line x1="436.6" y1="102.6" x2="438.2" y2="102.6" stroke="#1a1a1a" stroke-width="0.5"/><line x1="436.6" y1="99.2" x2="438.2" y2="99.2" stroke="#1a1a1a" stroke-width="0.5"/><line x1="436.6" y1="96.5" x2="438.2" y2="96.5" stroke="#1a1a1a" stroke-width="0.5"/><line x1="436.6" y1="94.4" x2="438.2" y2="94.4" stroke="#1a1a1a" stroke-width="0.5"/><line x1="436.6" y1="92.5" x2="438.2" y2="92.5" stroke="#1a1a1a" stroke-width="0.5"/><line x1="436.6" y1="90.9" x2="438.2" y2="90.9" stroke="#1a1a1a" stroke-width="0.5"/><line x1="436.6" y1="89.5" x2="438.2" y2="89.5" stroke="#1a1a1a" stroke-width="0.5"/><line x1="435.6" y1="115.6" x2="438.2" y2="115.6" stroke="#1a1a1a" stroke-width="0.9"/><text x="432.9" y="118.8" font-size="8.8" text-anchor="end">0.01</text><line x1="436.6" y1="134.7" x2="438.2" y2="134.7" stroke="#1a1a1a" stroke-width="0.5"/><line x1="436.6" y1="129.9" x2="438.2" y2="129.9" stroke="#1a1a1a" stroke-width="0.5"/><line x1="436.6" y1="126.5" x2="438.2" y2="126.5" stroke="#1a1a1a" stroke-width="0.5"/><line x1="436.6" y1="123.8" x2="438.2" y2="123.8" stroke="#1a1a1a" stroke-width="0.5"/><line x1="436.6" y1="121.7" x2="438.2" y2="121.7" stroke="#1a1a1a" stroke-width="0.5"/><line x1="436.6" y1="119.8" x2="438.2" y2="119.8" stroke="#1a1a1a" stroke-width="0.5"/><line x1="436.6" y1="118.2" x2="438.2" y2="118.2" stroke="#1a1a1a" stroke-width="0.5"/><line x1="436.6" y1="116.8" x2="438.2" y2="116.8" stroke="#1a1a1a" stroke-width="0.5"/><line x1="435.6" y1="142.9" x2="438.2" y2="142.9" stroke="#1a1a1a" stroke-width="0.9"/><text x="432.9" y="146.1" font-size="8.8" text-anchor="end">0.001</text><line x1="436.6" y1="162" x2="438.2" y2="162" stroke="#1a1a1a" stroke-width="0.5"/><line x1="436.6" y1="157.2" x2="438.2" y2="157.2" stroke="#1a1a1a" stroke-width="0.5"/><line x1="436.6" y1="153.8" x2="438.2" y2="153.8" stroke="#1a1a1a" stroke-width="0.5"/><line x1="436.6" y1="151.1" x2="438.2" y2="151.1" stroke="#1a1a1a" stroke-width="0.5"/><line x1="436.6" y1="149" x2="438.2" y2="149" stroke="#1a1a1a" stroke-width="0.5"/><line x1="436.6" y1="147.1" x2="438.2" y2="147.1" stroke="#1a1a1a" stroke-width="0.5"/><line x1="436.6" y1="145.5" x2="438.2" y2="145.5" stroke="#1a1a1a" stroke-width="0.5"/><line x1="436.6" y1="144.1" x2="438.2" y2="144.1" stroke="#1a1a1a" stroke-width="0.5"/><line x1="435.6" y1="170.2" x2="438.2" y2="170.2" stroke="#1a1a1a" stroke-width="0.9"/><text x="432.9" y="173.4" font-size="8.8" text-anchor="end">0.0001</text><line x1="438.2" y1="170.2" x2="438.2" y2="173.2" stroke="#1a1a1a" stroke-width="0.9"/><text x="438.5" y="184.2" font-size="8.8" text-anchor="middle">0</text><line x1="460.6" y1="170.2" x2="460.6" y2="173.2" stroke="#1a1a1a" stroke-width="0.9"/><text x="463.1" y="184.2" font-size="8.8" text-anchor="middle">2</text><line x1="483" y1="170.2" x2="483" y2="173.2" stroke="#1a1a1a" stroke-width="0.9"/><text x="486.7" y="184.2" font-size="8.8" text-anchor="middle">4</text><line x1="505.4" y1="170.2" x2="505.4" y2="173.2" stroke="#1a1a1a" stroke-width="0.9"/><text x="511.3" y="184.2" font-size="8.8" text-anchor="middle">6</text><line x1="527.8" y1="170.2" x2="527.8" y2="173.2" stroke="#1a1a1a" stroke-width="0.9"/><text x="534.8" y="184.2" font-size="8.8" text-anchor="middle">8</text><text x="487.5" y="191.7" font-size="9.3" text-anchor="middle">dose(Gy)</text><text x="403.1" y="123.1" font-size="9.3" text-anchor="middle" transform="rotate(-90 403.1 123.1)">Survival Fraction</text><polyline points="438.2,61 441,62.7 443.8,64.5 446.6,66.4 449.4,68.3 452.2,70.4 455,72.5 457.8,74.7 460.6,76.9 463.4,79.3 466.2,81.7 469,84.3 471.8,86.9 474.6,89.6 477.4,92.3 480.2,95.2 483,98.1 485.8,101.1 488.6,104.2 491.4,107.4 494.2,110.7 497,114 499.8,117.5 502.6,121 505.4,124.6 508.2,128.2 511,132 513.8,135.8 516.6,139.7 519.4,143.7 522.2,147.8 525,152 527.8,156.2" fill="none" stroke="#ff2222" stroke-width="1.1"/><circle cx="438.2" cy="61" r="1.8" fill="#ff2222"/><circle cx="460.6" cy="77.4" r="1.8" fill="#ff2222"/><circle cx="483" cy="98.3" r="1.8" fill="#ff2222"/><line x1="505.4" y1="123.4" x2="505.4" y2="125.8" stroke="#ff2222" stroke-width="0.7"/><line x1="503.9" y1="123.4" x2="506.9" y2="123.4" stroke="#ff2222" stroke-width="0.7"/><line x1="503.9" y1="125.8" x2="506.9" y2="125.8" stroke="#ff2222" stroke-width="0.7"/><circle cx="505.4" cy="124.6" r="1.8" fill="#ff2222"/><line x1="527.8" y1="151.5" x2="527.8" y2="160.5" stroke="#ff2222" stroke-width="0.7"/><line x1="526.3" y1="151.5" x2="529.3" y2="151.5" stroke="#ff2222" stroke-width="0.7"/><line x1="526.3" y1="160.5" x2="529.3" y2="160.5" stroke="#ff2222" stroke-width="0.7"/><circle cx="527.8" cy="156" r="1.8" fill="#ff2222"/><polyline points="438.2,61 441,62 443.8,63.1 446.6,64.2 449.4,65.3 452.2,66.5 455,67.7 457.8,69 460.6,70.3 463.4,71.6 466.2,73 469,74.5 471.8,75.9 474.6,77.5 477.4,79 480.2,80.6 483,82.3 485.8,84 488.6,85.7 491.4,87.5 494.2,89.3 497,91.2 499.8,93.1 502.6,95 505.4,97 508.2,99.1 511,101.1 513.8,103.3 516.6,105.4 519.4,107.6 522.2,109.9 525,112.2 527.8,114.5" fill="none" stroke="#7db61c" stroke-width="1.1"/><path d="M438.2 59.1L439.9 62.2L436.5 62.2Z" fill="#7db61c"/><path d="M460.6 68.9L462.3 72L458.9 72Z" fill="#7db61c"/><path d="M483 80.9L484.7 84L481.3 84Z" fill="#7db61c"/><path d="M505.4 101.5L507.1 104.6L503.7 104.6Z" fill="#7db61c"/><path d="M527.8 112.6L529.5 115.7L526.1 115.7Z" fill="#7db61c"/><polyline points="438.2,61 441,61.8 443.8,62.7 446.6,63.7 449.4,64.7 452.2,65.8 455,66.9 457.8,68.1 460.6,69.4 463.4,70.8 466.2,72.2 469,73.7 471.8,75.2 474.6,76.8 477.4,78.5 480.2,80.2 483,82 485.8,83.9 488.6,85.8 491.4,87.8 494.2,89.9 497,92 499.8,94.2 502.6,96.4 505.4,98.8 508.2,101.2 511,103.6 513.8,106.1 516.6,108.7 519.4,111.4 522.2,114.1 525,116.9 527.8,119.7" fill="none" stroke="#2878c0" stroke-width="1.1"/><rect x="436.4" y="59.2" width="3.5" height="3.5" fill="#2878c0"/><rect x="458.8" y="67.5" width="3.5" height="3.5" fill="#2878c0"/><rect x="481.2" y="80.3" width="3.5" height="3.5" fill="#2878c0"/><rect x="503.6" y="97.4" width="3.5" height="3.5" fill="#2878c0"/><line x1="527.8" y1="124" x2="527.8" y2="126.6" stroke="#2878c0" stroke-width="0.7"/><line x1="526.3" y1="124" x2="529.3" y2="124" stroke="#2878c0" stroke-width="0.7"/><line x1="526.3" y1="126.6" x2="529.3" y2="126.6" stroke="#2878c0" stroke-width="0.7"/><rect x="526" y="123.6" width="3.5" height="3.5" fill="#2878c0"/><line x1="443.4" y1="133.2" x2="454.6" y2="133.2" stroke="#2878c0" stroke-width="1.1"/><rect x="447.3" y="131.5" width="3.4" height="3.4" fill="#2878c0"/><text x="457.4" y="136.1" font-size="8.2">Vector+siNC</text><line x1="443.4" y1="145.6" x2="454.6" y2="145.6" stroke="#ff2222" stroke-width="1.1"/><circle cx="449" cy="145.6" r="1.7" fill="#ff2222"/><text x="457.4" y="148.5" font-size="8.2">USP44+siNC</text><line x1="443.4" y1="158" x2="454.6" y2="158" stroke="#7db61c" stroke-width="1.1"/><path d="M449 156L450.9 159.4L447.1 159.4Z" fill="#7db61c"/><text x="457.4" y="160.9" font-size="8.2">USP44+siTRIM25</text><text x="536.5" y="141.3" font-size="6.8" font-weight="bold" text-anchor="middle" transform="rotate(-90 536.5 141.3)"><tspan font-style="italic">P</tspan>=0.0005</text><text x="544.6" y="137" font-size="6.8" font-weight="bold" text-anchor="middle" transform="rotate(-90 544.6 137)"><tspan font-style="italic">P</tspan>=0.0011</text>
<line x1="537.6" y1="115.2" x2="537.6" y2="157.8" stroke="#999" stroke-width="0.5"/>
<text x="488.5" y="255" font-size="9" text-anchor="middle">HONE1</text><line x1="439.9" y1="278.8" x2="439.9" y2="389.8" stroke="#1a1a1a" stroke-width="1"/><line x1="439.4" y1="389.3" x2="530" y2="389.3" stroke="#1a1a1a" stroke-width="1"/><line x1="437.3" y1="279.3" x2="439.9" y2="279.3" stroke="#1a1a1a" stroke-width="0.9"/><text x="434.6" y="282.5" font-size="8.8" text-anchor="end">1</text><line x1="438.3" y1="298.5" x2="439.9" y2="298.5" stroke="#1a1a1a" stroke-width="0.5"/><line x1="438.3" y1="293.7" x2="439.9" y2="293.7" stroke="#1a1a1a" stroke-width="0.5"/><line x1="438.3" y1="290.2" x2="439.9" y2="290.2" stroke="#1a1a1a" stroke-width="0.5"/><line x1="438.3" y1="287.6" x2="439.9" y2="287.6" stroke="#1a1a1a" stroke-width="0.5"/><line x1="438.3" y1="285.4" x2="439.9" y2="285.4" stroke="#1a1a1a" stroke-width="0.5"/><line x1="438.3" y1="283.6" x2="439.9" y2="283.6" stroke="#1a1a1a" stroke-width="0.5"/><line x1="438.3" y1="282" x2="439.9" y2="282" stroke="#1a1a1a" stroke-width="0.5"/><line x1="438.3" y1="280.6" x2="439.9" y2="280.6" stroke="#1a1a1a" stroke-width="0.5"/><line x1="437.3" y1="306.8" x2="439.9" y2="306.8" stroke="#1a1a1a" stroke-width="0.9"/><text x="434.6" y="310" font-size="8.8" text-anchor="end">0.1</text><line x1="438.3" y1="326" x2="439.9" y2="326" stroke="#1a1a1a" stroke-width="0.5"/><line x1="438.3" y1="321.2" x2="439.9" y2="321.2" stroke="#1a1a1a" stroke-width="0.5"/><line x1="438.3" y1="317.7" x2="439.9" y2="317.7" stroke="#1a1a1a" stroke-width="0.5"/><line x1="438.3" y1="315.1" x2="439.9" y2="315.1" stroke="#1a1a1a" stroke-width="0.5"/><line x1="438.3" y1="312.9" x2="439.9" y2="312.9" stroke="#1a1a1a" stroke-width="0.5"/><line x1="438.3" y1="311.1" x2="439.9" y2="311.1" stroke="#1a1a1a" stroke-width="0.5"/><line x1="438.3" y1="309.5" x2="439.9" y2="309.5" stroke="#1a1a1a" stroke-width="0.5"/><line x1="438.3" y1="308.1" x2="439.9" y2="308.1" stroke="#1a1a1a" stroke-width="0.5"/><line x1="437.3" y1="334.3" x2="439.9" y2="334.3" stroke="#1a1a1a" stroke-width="0.9"/><text x="434.6" y="337.5" font-size="8.8" text-anchor="end">0.01</text><line x1="438.3" y1="353.5" x2="439.9" y2="353.5" stroke="#1a1a1a" stroke-width="0.5"/><line x1="438.3" y1="348.7" x2="439.9" y2="348.7" stroke="#1a1a1a" stroke-width="0.5"/><line x1="438.3" y1="345.2" x2="439.9" y2="345.2" stroke="#1a1a1a" stroke-width="0.5"/><line x1="438.3" y1="342.6" x2="439.9" y2="342.6" stroke="#1a1a1a" stroke-width="0.5"/><line x1="438.3" y1="340.4" x2="439.9" y2="340.4" stroke="#1a1a1a" stroke-width="0.5"/><line x1="438.3" y1="338.6" x2="439.9" y2="338.6" stroke="#1a1a1a" stroke-width="0.5"/><line x1="438.3" y1="337" x2="439.9" y2="337" stroke="#1a1a1a" stroke-width="0.5"/><line x1="438.3" y1="335.6" x2="439.9" y2="335.6" stroke="#1a1a1a" stroke-width="0.5"/><line x1="437.3" y1="361.8" x2="439.9" y2="361.8" stroke="#1a1a1a" stroke-width="0.9"/><text x="434.6" y="365" font-size="8.8" text-anchor="end">0.001</text><line x1="438.3" y1="381" x2="439.9" y2="381" stroke="#1a1a1a" stroke-width="0.5"/><line x1="438.3" y1="376.2" x2="439.9" y2="376.2" stroke="#1a1a1a" stroke-width="0.5"/><line x1="438.3" y1="372.7" x2="439.9" y2="372.7" stroke="#1a1a1a" stroke-width="0.5"/><line x1="438.3" y1="370.1" x2="439.9" y2="370.1" stroke="#1a1a1a" stroke-width="0.5"/><line x1="438.3" y1="367.9" x2="439.9" y2="367.9" stroke="#1a1a1a" stroke-width="0.5"/><line x1="438.3" y1="366.1" x2="439.9" y2="366.1" stroke="#1a1a1a" stroke-width="0.5"/><line x1="438.3" y1="364.5" x2="439.9" y2="364.5" stroke="#1a1a1a" stroke-width="0.5"/><line x1="438.3" y1="363.1" x2="439.9" y2="363.1" stroke="#1a1a1a" stroke-width="0.5"/><line x1="437.3" y1="389.3" x2="439.9" y2="389.3" stroke="#1a1a1a" stroke-width="0.9"/><text x="434.6" y="392.5" font-size="8.8" text-anchor="end">0.0001</text><line x1="439.9" y1="389.3" x2="439.9" y2="392.3" stroke="#1a1a1a" stroke-width="0.9"/><text x="440.2" y="403.3" font-size="8.8" text-anchor="middle">0</text><line x1="462.3" y1="389.3" x2="462.3" y2="392.3" stroke="#1a1a1a" stroke-width="0.9"/><text x="464.8" y="403.3" font-size="8.8" text-anchor="middle">2</text><line x1="484.7" y1="389.3" x2="484.7" y2="392.3" stroke="#1a1a1a" stroke-width="0.9"/><text x="488.4" y="403.3" font-size="8.8" text-anchor="middle">4</text><line x1="507.1" y1="389.3" x2="507.1" y2="392.3" stroke="#1a1a1a" stroke-width="0.9"/><text x="513" y="403.3" font-size="8.8" text-anchor="middle">6</text><line x1="529.5" y1="389.3" x2="529.5" y2="392.3" stroke="#1a1a1a" stroke-width="0.9"/><text x="536.5" y="403.3" font-size="8.8" text-anchor="middle">8</text><text x="489.2" y="410.8" font-size="9.3" text-anchor="middle">dose(Gy)</text><text x="405" y="341.8" font-size="9.3" text-anchor="middle" transform="rotate(-90 405 341.8)">Survival Fraction</text><polyline points="439.9,279.3 442.7,280.7 445.5,282.2 448.3,283.8 451.1,285.5 453.9,287.3 456.7,289.3 459.5,291.4 462.3,293.5 465.1,295.8 467.9,298.2 470.7,300.7 473.5,303.4 476.3,306.1 479.1,309 481.9,312 484.7,315 487.5,318.2 490.3,321.6 493.1,325 495.9,328.5 498.7,332.2 501.5,336 504.3,339.8 507.1,343.8 509.9,347.9 512.7,352.2 515.5,356.5 518.3,361 521.1,365.5 523.9,370.2 526.7,375 529.5,379.9" fill="none" stroke="#ff2222" stroke-width="1.1"/><circle cx="439.9" cy="279.3" r="1.8" fill="#ff2222"/><circle cx="462.3" cy="293.7" r="1.8" fill="#ff2222"/><line x1="484.7" y1="313.6" x2="484.7" y2="316.6" stroke="#ff2222" stroke-width="0.7"/><line x1="483.2" y1="313.6" x2="486.2" y2="313.6" stroke="#ff2222" stroke-width="0.7"/><line x1="483.2" y1="316.6" x2="486.2" y2="316.6" stroke="#ff2222" stroke-width="0.7"/><circle cx="484.7" cy="315.1" r="1.8" fill="#ff2222"/><line x1="507.1" y1="340.2" x2="507.1" y2="352.2" stroke="#ff2222" stroke-width="0.7"/><line x1="505.6" y1="340.2" x2="508.6" y2="340.2" stroke="#ff2222" stroke-width="0.7"/><line x1="505.6" y1="352.2" x2="508.6" y2="352.2" stroke="#ff2222" stroke-width="0.7"/><circle cx="507.1" cy="346.2" r="1.8" fill="#ff2222"/><line x1="529.5" y1="375.4" x2="529.5" y2="384.4" stroke="#ff2222" stroke-width="0.7"/><line x1="528" y1="375.4" x2="531" y2="375.4" stroke="#ff2222" stroke-width="0.7"/><line x1="528" y1="384.4" x2="531" y2="384.4" stroke="#ff2222" stroke-width="0.7"/><circle cx="529.5" cy="379.9" r="1.8" fill="#ff2222"/><polyline points="439.9,279.3 442.7,280.2 445.5,281.3 448.3,282.4 451.1,283.6 453.9,284.9 456.7,286.3 459.5,287.8 462.3,289.4 465.1,291 467.9,292.8 470.7,294.6 473.5,296.5 476.3,298.6 479.1,300.7 481.9,302.9 484.7,305.2 487.5,307.5 490.3,310 493.1,312.5 495.9,315.2 498.7,317.9 501.5,320.7 504.3,323.7 507.1,326.7 509.9,329.7 512.7,332.9 515.5,336.2 518.3,339.6 521.1,343 523.9,346.5 526.7,350.2 529.5,353.9" fill="none" stroke="#7db61c" stroke-width="1.1"/><path d="M439.9 277.4L441.6 280.5L438.2 280.5Z" fill="#7db61c"/><path d="M462.3 287.5L464 290.6L460.6 290.6Z" fill="#7db61c"/><path d="M484.7 303.3L486.4 306.4L483 306.4Z" fill="#7db61c"/><path d="M507.1 325.4L508.8 328.5L505.4 328.5Z" fill="#7db61c"/><line x1="529.5" y1="352.6" x2="529.5" y2="355.6" stroke="#7db61c" stroke-width="0.7"/><line x1="528" y1="352.6" x2="531" y2="352.6" stroke="#7db61c" stroke-width="0.7"/><line x1="528" y1="355.6" x2="531" y2="355.6" stroke="#7db61c" stroke-width="0.7"/><path d="M529.5 352.3L531.2 355.4L527.8 355.4Z" fill="#7db61c"/><polyline points="439.9,279.3 442.7,280.2 445.5,281.3 448.3,282.3 451.1,283.5 453.9,284.8 456.7,286.1 459.5,287.5 462.3,288.9 465.1,290.5 467.9,292.1 470.7,293.8 473.5,295.6 476.3,297.5 479.1,299.4 481.9,301.4 484.7,303.5 487.5,305.6 490.3,307.9 493.1,310.2 495.9,312.6 498.7,315 501.5,317.6 504.3,320.2 507.1,322.9 509.9,325.7 512.7,328.5 515.5,331.4 518.3,334.4 521.1,337.5 523.9,340.7 526.7,343.9 529.5,347.2" fill="none" stroke="#2878c0" stroke-width="1.1"/><rect x="438.1" y="277.6" width="3.5" height="3.5" fill="#2878c0"/><rect x="460.5" y="287.4" width="3.5" height="3.5" fill="#2878c0"/><rect x="482.9" y="301.9" width="3.5" height="3.5" fill="#2878c0"/><line x1="507.1" y1="323.7" x2="507.1" y2="326.1" stroke="#2878c0" stroke-width="0.7"/><line x1="505.6" y1="323.7" x2="508.6" y2="323.7" stroke="#2878c0" stroke-width="0.7"/><line x1="505.6" y1="326.1" x2="508.6" y2="326.1" stroke="#2878c0" stroke-width="0.7"/><rect x="505.3" y="323.1" width="3.5" height="3.5" fill="#2878c0"/><line x1="529.5" y1="345.2" x2="529.5" y2="349.2" stroke="#2878c0" stroke-width="0.7"/><line x1="528" y1="345.2" x2="531" y2="345.2" stroke="#2878c0" stroke-width="0.7"/><line x1="528" y1="349.2" x2="531" y2="349.2" stroke="#2878c0" stroke-width="0.7"/><rect x="527.8" y="345.4" width="3.5" height="3.5" fill="#2878c0"/><line x1="445.1" y1="351.2" x2="456.3" y2="351.2" stroke="#2878c0" stroke-width="1.1"/><rect x="449" y="349.5" width="3.4" height="3.4" fill="#2878c0"/><text x="459.1" y="354.1" font-size="8.2">Vector+siNC</text><line x1="445.1" y1="363.6" x2="456.3" y2="363.6" stroke="#ff2222" stroke-width="1.1"/><circle cx="450.7" cy="363.6" r="1.7" fill="#ff2222"/><text x="459.1" y="366.5" font-size="8.2">USP44+siNC</text><line x1="445.1" y1="376" x2="456.3" y2="376" stroke="#7db61c" stroke-width="1.1"/><path d="M450.7 374L452.6 377.4L448.8 377.4Z" fill="#7db61c"/><text x="459.1" y="378.9" font-size="8.2">USP44+siTRIM25</text><text x="537.9" y="363.2" font-size="6.8" font-weight="bold" text-anchor="middle" transform="rotate(-90 537.9 363.2)"><tspan font-style="italic">P</tspan>=0.0033</text><text x="545.9" y="366" font-size="6.8" font-weight="bold" text-anchor="middle" transform="rotate(-90 545.9 366)"><tspan font-style="italic">P</tspan>=0.0005</text>
<line x1="531.2" y1="340" x2="531.2" y2="381" stroke="#bbb" stroke-width="0.5"/>
<text x="629.2" y="34.3" font-size="9" text-anchor="middle">SUNE1</text><line x1="575.9" y1="58.9" x2="575.9" y2="170.8" stroke="#1a1a1a" stroke-width="1"/><line x1="575.4" y1="170.3" x2="683.4" y2="170.3" stroke="#1a1a1a" stroke-width="1"/><line x1="572.4" y1="170.3" x2="575.9" y2="170.3" stroke="#1a1a1a" stroke-width="0.9"/><text x="570.9" y="173.5" font-size="8.8" text-anchor="end">0</text><line x1="572.4" y1="142.6" x2="575.9" y2="142.6" stroke="#1a1a1a" stroke-width="0.9"/><text x="570.9" y="145.8" font-size="8.8" text-anchor="end">0.5</text><line x1="572.4" y1="114.9" x2="575.9" y2="114.9" stroke="#1a1a1a" stroke-width="0.9"/><text x="570.9" y="118.1" font-size="8.8" text-anchor="end">1</text><line x1="572.4" y1="87.1" x2="575.9" y2="87.1" stroke="#1a1a1a" stroke-width="0.9"/><text x="570.9" y="90.3" font-size="8.8" text-anchor="end">1.5</text><line x1="572.4" y1="59.4" x2="575.9" y2="59.4" stroke="#1a1a1a" stroke-width="0.9"/><text x="570.9" y="62.6" font-size="8.8" text-anchor="end">2</text><line x1="593.8" y1="170.3" x2="593.8" y2="173.3" stroke="#1a1a1a" stroke-width="0.9"/><text x="593.8" y="184.3" font-size="8.8" text-anchor="middle">0</text><line x1="611.7" y1="170.3" x2="611.7" y2="173.3" stroke="#1a1a1a" stroke-width="0.9"/><text x="611.7" y="184.3" font-size="8.8" text-anchor="middle">1</text><line x1="629.6" y1="170.3" x2="629.6" y2="173.3" stroke="#1a1a1a" stroke-width="0.9"/><text x="629.6" y="184.3" font-size="8.8" text-anchor="middle">2</text><line x1="647.5" y1="170.3" x2="647.5" y2="173.3" stroke="#1a1a1a" stroke-width="0.9"/><text x="647.5" y="184.3" font-size="8.8" text-anchor="middle">3</text><line x1="665.4" y1="170.3" x2="665.4" y2="173.3" stroke="#1a1a1a" stroke-width="0.9"/><text x="665.4" y="184.3" font-size="8.8" text-anchor="middle">4</text><text x="629.6" y="191.5" font-size="9.3" text-anchor="middle">Time(days)</text><text x="557.9" y="116.9" font-size="9.3" text-anchor="middle" transform="rotate(-90 557.9 116.9)">Absorbance</text><polyline points="593.8,161.4 611.7,150.6 629.6,129.5 647.5,101 665.4,73.8" fill="none" stroke="#6e1f74" stroke-width="1.1"/><circle cx="593.8" cy="161.4" r="1.8" fill="#6e1f74"/><circle cx="611.7" cy="150.6" r="1.8" fill="#6e1f74"/><circle cx="629.6" cy="129.5" r="1.8" fill="#6e1f74"/><circle cx="647.5" cy="101" r="1.8" fill="#6e1f74"/><line x1="665.4" y1="71.3" x2="665.4" y2="76.3" stroke="#6e1f74" stroke-width="0.7"/><line x1="663.9" y1="71.3" x2="666.9" y2="71.3" stroke="#6e1f74" stroke-width="0.7"/><line x1="663.9" y1="76.3" x2="666.9" y2="76.3" stroke="#6e1f74" stroke-width="0.7"/><circle cx="665.4" cy="73.8" r="1.8" fill="#6e1f74"/><polyline points="593.8,162 611.7,155.9 629.6,144.8 647.5,138.7 665.4,137.9" fill="none" stroke="#2878c0" stroke-width="1.1"/><rect x="592" y="160.2" width="3.5" height="3.5" fill="#2878c0"/><rect x="609.9" y="154.1" width="3.5" height="3.5" fill="#2878c0"/><rect x="627.8" y="143" width="3.5" height="3.5" fill="#2878c0"/><rect x="645.8" y="136.9" width="3.5" height="3.5" fill="#2878c0"/><rect x="663.6" y="136.1" width="3.5" height="3.5" fill="#2878c0"/><polyline points="593.8,162 611.7,159.2 629.6,154.8 647.5,152 665.4,151.4" fill="none" stroke="#7db61c" stroke-width="1.1"/><path d="M593.8 159.9L595.7 163.4L591.9 163.4Z" fill="#7db61c"/><path d="M611.7 157.1L613.6 160.6L609.8 160.6Z" fill="#7db61c"/><path d="M629.6 152.7L631.5 156.2L627.7 156.2Z" fill="#7db61c"/><path d="M647.5 149.9L649.4 153.4L645.6 153.4Z" fill="#7db61c"/><line x1="665.4" y1="150.4" x2="665.4" y2="152.4" stroke="#7db61c" stroke-width="0.7"/><line x1="663.9" y1="150.4" x2="666.9" y2="150.4" stroke="#7db61c" stroke-width="0.7"/><line x1="663.9" y1="152.4" x2="666.9" y2="152.4" stroke="#7db61c" stroke-width="0.7"/><path d="M665.4 149.3L667.3 152.8L663.5 152.8Z" fill="#7db61c"/><polyline points="593.8,162 611.7,154.2 629.6,144.8 647.5,136.8 665.4,139.2" fill="none" stroke="#ff2222" stroke-width="1.1"/><path d="M593.8 164.1L595.7 160.6L591.9 160.6Z" fill="#ff2222"/><path d="M611.7 156.3L613.6 152.8L609.8 152.8Z" fill="#ff2222"/><path d="M629.6 146.9L631.5 143.4L627.7 143.4Z" fill="#ff2222"/><path d="M647.5 138.9L649.4 135.4L645.6 135.4Z" fill="#ff2222"/><line x1="665.4" y1="137.7" x2="665.4" y2="140.7" stroke="#ff2222" stroke-width="0.7"/><line x1="663.9" y1="137.7" x2="666.9" y2="137.7" stroke="#ff2222" stroke-width="0.7"/><line x1="663.9" y1="140.7" x2="666.9" y2="140.7" stroke="#ff2222" stroke-width="0.7"/><path d="M665.4 141.3L667.3 137.8L663.5 137.8Z" fill="#ff2222"/><line x1="582.4" y1="63.4" x2="592.9" y2="63.4" stroke="#6e1f74" stroke-width="1.1"/><circle cx="587.6" cy="63.4" r="1.6" fill="#6e1f74"/><text x="594.9" y="66.3" font-size="8.2">Vector+siNC-Ctrl</text><line x1="582.4" y1="75.1" x2="592.9" y2="75.1" stroke="#2878c0" stroke-width="1.1"/><rect x="586" y="73.4" width="3.3" height="3.3" fill="#2878c0"/><text x="594.9" y="78" font-size="8.2">Vector+siNC-IR</text><line x1="582.4" y1="85.8" x2="592.9" y2="85.8" stroke="#7db61c" stroke-width="1.1"/><path d="M587.6 83.8L589.4 87.1L585.8 87.1Z" fill="#7db61c"/><text x="594.9" y="88.7" font-size="8.2">USP44+siNC-IR</text><line x1="582.4" y1="98" x2="592.9" y2="98" stroke="#ff2222" stroke-width="1.1"/><path d="M587.6 100L589.4 96.7L585.8 96.7Z" fill="#ff2222"/><text x="594.9" y="100.9" font-size="8.2">USP44+</text><text x="594.9" y="110.2" font-size="8.2">siTRIM25</text><text x="594.9" y="119.5" font-size="8.2">-IR</text><line x1="668.2" y1="76" x2="668.2" y2="152" stroke="#999" stroke-width="0.5"/><text x="674.8" y="106" font-size="6.6" font-weight="bold" text-anchor="middle" transform="rotate(-90 674.8 106)"><tspan font-style="italic">P</tspan>=4.26E-08</text><text x="674.8" y="146.3" font-size="6.6" font-weight="bold" text-anchor="middle" transform="rotate(-90 674.8 146.3)"><tspan font-style="italic">P</tspan>=9.48E-06</text><text x="683.7" y="147.5" font-size="6.6" font-weight="bold" text-anchor="middle" transform="rotate(-90 683.7 147.5)"><tspan font-style="italic">P</tspan>=6.08E-05</text>
<text x="631" y="254.8" font-size="9" text-anchor="middle">HONE1</text><line x1="576.6" y1="278.5" x2="576.6" y2="389.5" stroke="#1a1a1a" stroke-width="1"/><line x1="576.1" y1="389" x2="683.8" y2="389" stroke="#1a1a1a" stroke-width="1"/><line x1="573.1" y1="389" x2="576.6" y2="389" stroke="#1a1a1a" stroke-width="0.9"/><text x="571.6" y="392.2" font-size="8.8" text-anchor="end">0</text><line x1="573.1" y1="352.3" x2="576.6" y2="352.3" stroke="#1a1a1a" stroke-width="0.9"/><text x="571.6" y="355.5" font-size="8.8" text-anchor="end">1</text><line x1="573.1" y1="315.7" x2="576.6" y2="315.7" stroke="#1a1a1a" stroke-width="0.9"/><text x="571.6" y="318.9" font-size="8.8" text-anchor="end">2</text><line x1="573.1" y1="279" x2="576.6" y2="279" stroke="#1a1a1a" stroke-width="0.9"/><text x="571.6" y="282.2" font-size="8.8" text-anchor="end">3</text><line x1="594.5" y1="389" x2="594.5" y2="392" stroke="#1a1a1a" stroke-width="0.9"/><text x="594.5" y="403" font-size="8.8" text-anchor="middle">0</text><line x1="612.4" y1="389" x2="612.4" y2="392" stroke="#1a1a1a" stroke-width="0.9"/><text x="612.4" y="403" font-size="8.8" text-anchor="middle">1</text><line x1="630.3" y1="389" x2="630.3" y2="392" stroke="#1a1a1a" stroke-width="0.9"/><text x="630.3" y="403" font-size="8.8" text-anchor="middle">2</text><line x1="648.2" y1="389" x2="648.2" y2="392" stroke="#1a1a1a" stroke-width="0.9"/><text x="648.2" y="403" font-size="8.8" text-anchor="middle">3</text><line x1="666.1" y1="389" x2="666.1" y2="392" stroke="#1a1a1a" stroke-width="0.9"/><text x="666.1" y="403" font-size="8.8" text-anchor="middle">4</text><text x="630.3" y="410.2" font-size="9.3" text-anchor="middle">Time(days)</text><text x="558.6" y="336" font-size="9.3" text-anchor="middle" transform="rotate(-90 558.6 336)">Absorbance</text><polyline points="594.5,383.3 612.4,376.9 630.3,364.8 648.2,331.8 666.1,287.1" fill="none" stroke="#6e1f74" stroke-width="1.1"/><circle cx="594.5" cy="383.3" r="1.8" fill="#6e1f74"/><circle cx="612.4" cy="376.9" r="1.8" fill="#6e1f74"/><circle cx="630.3" cy="364.8" r="1.8" fill="#6e1f74"/><circle cx="648.2" cy="331.8" r="1.8" fill="#6e1f74"/><line x1="666.1" y1="286.1" x2="666.1" y2="288.1" stroke="#6e1f74" stroke-width="0.7"/><line x1="664.6" y1="286.1" x2="667.6" y2="286.1" stroke="#6e1f74" stroke-width="0.7"/><line x1="664.6" y1="288.1" x2="667.6" y2="288.1" stroke="#6e1f74" stroke-width="0.7"/><circle cx="666.1" cy="287.1" r="1.8" fill="#6e1f74"/><polyline points="594.5,383.5 612.4,378 630.3,367.4 648.2,350.9 666.1,328.5" fill="none" stroke="#2878c0" stroke-width="1.1"/><rect x="592.8" y="381.7" width="3.5" height="3.5" fill="#2878c0"/><rect x="610.6" y="376.2" width="3.5" height="3.5" fill="#2878c0"/><rect x="628.5" y="365.6" width="3.5" height="3.5" fill="#2878c0"/><rect x="646.5" y="349.1" width="3.5" height="3.5" fill="#2878c0"/><rect x="664.4" y="326.7" width="3.5" height="3.5" fill="#2878c0"/><polyline points="594.5,383.5 612.4,379.5 630.3,371.2 648.2,363.7 666.1,352" fill="none" stroke="#7db61c" stroke-width="1.1"/><path d="M594.5 381.4L596.4 384.9L592.6 384.9Z" fill="#7db61c"/><path d="M612.4 377.4L614.3 380.9L610.5 380.9Z" fill="#7db61c"/><path d="M630.3 369.1L632.2 372.6L628.4 372.6Z" fill="#7db61c"/><path d="M648.2 361.6L650.1 365.1L646.3 365.1Z" fill="#7db61c"/><line x1="666.1" y1="350.5" x2="666.1" y2="353.5" stroke="#7db61c" stroke-width="0.7"/><line x1="664.6" y1="350.5" x2="667.6" y2="350.5" stroke="#7db61c" stroke-width="0.7"/><line x1="664.6" y1="353.5" x2="667.6" y2="353.5" stroke="#7db61c" stroke-width="0.7"/><path d="M666.1 349.9L668 353.4L664.2 353.4Z" fill="#7db61c"/><polyline points="594.5,383.5 612.4,378 630.3,367 648.2,352.7 666.1,334.7" fill="none" stroke="#ff2222" stroke-width="1.1"/><path d="M594.5 385.6L596.4 382.1L592.6 382.1Z" fill="#ff2222"/><path d="M612.4 380.1L614.3 376.6L610.5 376.6Z" fill="#ff2222"/><path d="M630.3 369.1L632.2 365.6L628.4 365.6Z" fill="#ff2222"/><path d="M648.2 354.8L650.1 351.3L646.3 351.3Z" fill="#ff2222"/><path d="M666.1 336.8L668 333.3L664.2 333.3Z" fill="#ff2222"/><line x1="583.1" y1="281.7" x2="593.6" y2="281.7" stroke="#6e1f74" stroke-width="1.1"/><circle cx="588.3" cy="281.7" r="1.6" fill="#6e1f74"/><text x="595.6" y="284.6" font-size="8.2">Vector+siNC-Ctrl</text><line x1="583.1" y1="293.9" x2="593.6" y2="293.9" stroke="#2878c0" stroke-width="1.1"/><rect x="586.7" y="292.2" width="3.3" height="3.3" fill="#2878c0"/><text x="595.6" y="296.8" font-size="8.2">Vector+siNC-IR</text><line x1="583.1" y1="304.5" x2="593.6" y2="304.5" stroke="#7db61c" stroke-width="1.1"/><path d="M588.3 302.5L590.1 305.8L586.5 305.8Z" fill="#7db61c"/><text x="595.6" y="307.4" font-size="8.2">USP44+siNC-IR</text><line x1="583.1" y1="317" x2="593.6" y2="317" stroke="#ff2222" stroke-width="1.1"/><path d="M588.3 319L590.1 315.7L586.5 315.7Z" fill="#ff2222"/><text x="595.6" y="319.9" font-size="8.2">USP44+</text><text x="595.6" y="329.2" font-size="8.2">siTRIM25</text><text x="595.6" y="338.5" font-size="8.2">-IR</text><line x1="668.4" y1="289" x2="668.4" y2="352" stroke="#999" stroke-width="0.5"/><text x="675" y="307" font-size="6.6" font-weight="bold" text-anchor="middle" transform="rotate(-90 675 307)"><tspan font-style="italic">P</tspan>=3.21E-08</text><text x="675" y="345" font-size="6.6" font-weight="bold" text-anchor="middle" transform="rotate(-90 675 345)"><tspan font-style="italic">P</tspan>=3.51E-07</text><text x="684" y="345" font-size="6.6" font-weight="bold" text-anchor="middle" transform="rotate(-90 684 345)"><tspan font-style="italic">P</tspan>=3.36E-06</text>
<text x="0.2" y="460" font-size="12" font-weight="bold" fill="#000">c</text>
<text x="79.4" y="458.5" font-size="9.2" text-anchor="middle">Ctrl</text>
<line x1="48.2" y1="462.5" x2="110.4" y2="462.5" stroke="#777" stroke-width="0.8"/>
<text x="263" y="458.5" font-size="9.2" text-anchor="middle">IR</text>
<line x1="147.4" y1="463.3" x2="380.4" y2="463.3" stroke="#777" stroke-width="0.8"/>
<text x="79.7" y="474.1" font-size="9.3" text-anchor="middle">Vector</text>
<text x="79.7" y="484.6" font-size="9.3" text-anchor="middle">+</text>
<text x="79.7" y="495.1" font-size="9.3" text-anchor="middle">siNC</text>
<text x="175.6" y="474.1" font-size="9.3" text-anchor="middle">Vector</text>
<text x="175.6" y="484.6" font-size="9.3" text-anchor="middle">+</text>
<text x="175.6" y="495.1" font-size="9.3" text-anchor="middle">siNC</text>
<text x="263.5" y="474.1" font-size="9.3" text-anchor="middle">USP44</text>
<text x="263.5" y="484.6" font-size="9.3" text-anchor="middle">+</text>
<text x="263.5" y="495.1" font-size="9.3" text-anchor="middle">siNC</text>
<text x="351.4" y="474.1" font-size="9.3" text-anchor="middle">USP44</text>
<text x="351.4" y="484.6" font-size="9.3" text-anchor="middle">+</text>
<text x="351.4" y="495.1" font-size="9.3" text-anchor="middle">siTRIM25</text>
<text x="23.6" y="530.2" font-size="9.5" text-anchor="middle" transform="rotate(-90 23.6 530.2)">SUNE1</text>
<text x="23.6" y="618.5" font-size="9.5" text-anchor="middle" transform="rotate(-90 23.6 618.5)">HONE1</text>
<rect x="49.4" y="500.9" width="60.6" height="59.4" fill="#fff" stroke="#555" stroke-width="0.7"/><line x1="49.4" y1="553.3" x2="50.4" y2="553.3" stroke="#555" stroke-width="0.5"/><line x1="49.4" y1="546.3" x2="51.2" y2="546.3" stroke="#555" stroke-width="0.5"/><line x1="49.4" y1="539.3" x2="50.4" y2="539.3" stroke="#555" stroke-width="0.5"/><line x1="49.4" y1="532.3" x2="51.2" y2="532.3" stroke="#555" stroke-width="0.5"/><line x1="49.4" y1="525.4" x2="50.4" y2="525.4" stroke="#555" stroke-width="0.5"/><line x1="49.4" y1="518.4" x2="51.2" y2="518.4" stroke="#555" stroke-width="0.5"/><line x1="49.4" y1="511.4" x2="50.4" y2="511.4" stroke="#555" stroke-width="0.5"/><line x1="49.4" y1="504.4" x2="51.2" y2="504.4" stroke="#555" stroke-width="0.5"/><line x1="57.5" y1="560.3" x2="57.5" y2="559.3" stroke="#555" stroke-width="0.5"/><line x1="65.6" y1="560.3" x2="65.6" y2="558.5" stroke="#555" stroke-width="0.5"/><line x1="73.6" y1="560.3" x2="73.6" y2="559.3" stroke="#555" stroke-width="0.5"/><line x1="81.7" y1="560.3" x2="81.7" y2="558.5" stroke="#555" stroke-width="0.5"/><line x1="89.8" y1="560.3" x2="89.8" y2="559.3" stroke="#555" stroke-width="0.5"/><line x1="97.9" y1="560.3" x2="97.9" y2="558.5" stroke="#555" stroke-width="0.5"/><line x1="106" y1="560.3" x2="106" y2="559.3" stroke="#555" stroke-width="0.5"/><path d="M49.4 560.3 L49.4 560.3 L50.1 560.3 L50.7 560.3 L51.4 560.3 L52.1 560.3 L52.8 560.3 L53.4 560.3 L54.1 560.3 L54.8 560.3 L55.5 560.3 L56.1 560.3 L56.8 560.3 L57.5 560.3 L58.2 560.3 L58.8 560.3 L59.5 560.3 L60.2 560.3 L60.8 560.3 L61.5 560.3 L62.2 560.3 L62.9 560.2 L63.5 560 L64.2 559.3 L64.9 557.6 L65.6 556.2 L66.2 555.8 L66.9 555.7 L67.6 555.7 L68.3 555.7 L68.9 555.7 L69.6 555.7 L70.3 555.8 L70.9 555.8 L71.6 555.8 L72.3 555.8 L73 555.8 L73.6 555.8 L74.3 555.9 L75 555.9 L75.7 555.9 L76.3 555.9 L77 555.9 L77.7 556 L78.4 556 L79 556 L79.7 556.1 L80.4 556.2 L81 556.4 L81.7 556.7 L82.4 557.2 L83.1 557.9 L83.7 558.6 L84.4 559.3 L85.1 559.7 L85.8 560 L86.4 560.1 L87.1 560.2 L87.8 560.3 L88.5 560.3 L89.1 560.3 L89.8 560.3 L90.5 560.3 L91.1 560.3 L91.8 560.3 L92.5 560.3 L93.2 560.3 L93.8 560.3 L94.5 560.3 L95.2 560.3 L95.9 560.3 L96.5 560.3 L97.2 560.3 L97.9 560.3 L98.6 560.3 L99.2 560.3 L99.9 560.3 L100.6 560.3 L101.2 560.3 L101.9 560.3 L102.6 560.3 L103.3 560.3 L103.9 560.3 L104.6 560.3 L105.3 560.3 L106 560.3 L106.6 560.3 L107.3 560.3 L108 560.3 L108.7 560.3 L109.3 560.3 L110 560.3 L110 560.3Z" fill="#d6cc60"/><path d="M56.1 560.3 L56.1 560.3 L56.8 560.3 L57.5 560.3 L58.2 560.1 L58.8 559.4 L59.5 556.8 L60.2 550.4 L60.8 538.3 L61.5 522.5 L62.2 510 L62.9 508.2 L63.5 517 L64.2 531.2 L64.9 544.4 L65.6 553.3 L66.2 557.8 L66.9 559.6 L67.6 560.1 L68.3 560.3 L68.9 560.3 L68.9 560.3Z" fill="#52c842" fill-opacity="0.88" stroke="#2a8a20" stroke-width="0.4"/><path d="M75 560.3 L75 560.3 L75.7 560.3 L76.3 560.3 L77 560.2 L77.7 560.1 L78.4 560 L79 559.7 L79.7 559.2 L80.4 558.4 L81 557.4 L81.7 556.1 L82.4 554.7 L83.1 553.4 L83.7 552.4 L84.4 552 L85.1 552.2 L85.8 553 L86.4 554.2 L87.1 555.5 L87.8 556.9 L88.5 558 L89.1 558.9 L89.8 559.5 L90.5 559.9 L91.1 560.1 L91.8 560.2 L92.5 560.3 L93.2 560.3 L93.8 560.3 L93.8 560.3Z" fill="#22e8f0" fill-opacity="0.8" stroke="#1a4cc0" stroke-width="0.5"/><polyline points="49.4,560.3 50.1,560.3 50.7,560.3 51.4,560.3 52.1,560.3 52.8,560.3 53.4,560.3 54.1,560.3 54.8,560.3 55.5,560.3 56.1,559.8 56.8,558.6 57.5,556.2 58.2,554.3 58.8,553.7 59.5,554.2 60.2,549.4 60.8,538.5 61.5,522.2 62.2,509.8 62.9,507.5 63.5,516.6 64.2,529.9 64.9,541.9 65.6,549.7 66.2,552.1 66.9,554.8 67.6,555.1 68.3,555.4 68.9,555.1 69.6,557 70.3,557.1 70.9,555.3 71.6,554.1 72.3,557.3 73,556.4 73.6,555.7 74.3,556.2 75,556.1 75.7,556.2 76.3,555.2 77,555.9 77.7,555.7 78.4,556.6 79,554.9 79.7,553.7 80.4,553.9 81,553.8 81.7,553.5 82.4,551.3 83.1,550.9 83.7,550.9 84.4,551.7 85.1,551.8 85.8,553 86.4,554.3 87.1,555.4 87.8,557.2 88.5,558.1 89.1,558.5 89.8,559.8 90.5,559.9 91.1,560.1 91.8,560.2 92.5,560.3 93.2,560.3 93.8,560.3 94.5,560.3 95.2,560.3 95.9,560.3 96.5,560.3 97.2,560.3 97.9,560.3 98.6,560.3 99.2,560.3 99.9,560.3 100.6,560.3 101.2,560.3 101.9,560.3 102.6,560.3 103.3,560.3 103.9,560.3 104.6,560.3 105.3,560.3 106,560.3 106.6,560.3 107.3,560.3 108,560.3 108.7,560.3 109.3,560.3 110,560.3" fill="none" stroke="#111" stroke-width="0.6"/><polyline points="64.9,541.4 65.6,549.7 66.2,554.3 66.9,554.9 67.6,555 68.3,556.8 68.9,556 69.6,556.1 70.3,555 70.9,556.8 71.6,556 72.3,556.8 73,556.5 73.6,555.9 74.3,556.2 75,556 75.7,556.4 76.3,557 77,555.4 77.7,555 78.4,555.8 79,555.7 79.7,554.2 80.4,554.1" fill="none" stroke="#c42222" stroke-width="0.9"/><polyline points="62.1,511.5 62.3,508.5 62.6,507.4 62.9,508.2 63.1,510.7 63.4,514.5 63.7,519.4 63.9,524.7 64.2,530.1 64.5,535.1 64.7,539.6 65,543.4 65.3,546.5" fill="none" stroke="#d21ad2" stroke-width="0.7"/><polyline points="80.7,554 81.2,553.3 81.6,552.6 82.1,552 82.6,551.4 83.1,551 83.6,550.8 84.1,550.8 84.5,551.1 85,551.5 85.5,552.2 86,553.1" fill="none" stroke="#d21ad2" stroke-width="0.8"/><text x="70" y="508.1" font-size="6.8">G0/G1:</text><text x="107.8" y="508.1" font-size="6.8" text-anchor="end">60%</text><text x="70" y="516.6" font-size="6.8">S:</text><text x="107.8" y="516.6" font-size="6.8" text-anchor="end">28%</text><text x="70" y="525.1" font-size="6.8">G2/M:</text><text x="107.8" y="525.1" font-size="6.8" text-anchor="end">12%</text><text x="79.7" y="571.7" font-size="8.4" text-anchor="middle">PE-A</text><text x="43.2" y="530.6" font-size="8.4" text-anchor="middle" transform="rotate(-90 43.2 530.6)">Count</text>
<rect x="145.3" y="500.9" width="60.6" height="59.4" fill="#fff" stroke="#555" stroke-width="0.7"/><line x1="145.3" y1="553.3" x2="146.3" y2="553.3" stroke="#555" stroke-width="0.5"/><line x1="145.3" y1="546.3" x2="147.1" y2="546.3" stroke="#555" stroke-width="0.5"/><line x1="145.3" y1="539.3" x2="146.3" y2="539.3" stroke="#555" stroke-width="0.5"/><line x1="145.3" y1="532.3" x2="147.1" y2="532.3" stroke="#555" stroke-width="0.5"/><line x1="145.3" y1="525.4" x2="146.3" y2="525.4" stroke="#555" stroke-width="0.5"/><line x1="145.3" y1="518.4" x2="147.1" y2="518.4" stroke="#555" stroke-width="0.5"/><line x1="145.3" y1="511.4" x2="146.3" y2="511.4" stroke="#555" stroke-width="0.5"/><line x1="145.3" y1="504.4" x2="147.1" y2="504.4" stroke="#555" stroke-width="0.5"/><line x1="153.4" y1="560.3" x2="153.4" y2="559.3" stroke="#555" stroke-width="0.5"/><line x1="161.5" y1="560.3" x2="161.5" y2="558.5" stroke="#555" stroke-width="0.5"/><line x1="169.5" y1="560.3" x2="169.5" y2="559.3" stroke="#555" stroke-width="0.5"/><line x1="177.6" y1="560.3" x2="177.6" y2="558.5" stroke="#555" stroke-width="0.5"/><line x1="185.7" y1="560.3" x2="185.7" y2="559.3" stroke="#555" stroke-width="0.5"/><line x1="193.8" y1="560.3" x2="193.8" y2="558.5" stroke="#555" stroke-width="0.5"/><line x1="201.9" y1="560.3" x2="201.9" y2="559.3" stroke="#555" stroke-width="0.5"/><path d="M145.3 560.3 L145.3 560.3 L146 560.3 L146.6 560.3 L147.3 560.3 L148 560.3 L148.7 560.3 L149.3 560.3 L150 560.3 L150.7 560.3 L151.4 560.3 L152 560.3 L152.7 560.3 L153.4 560.3 L154.1 560.3 L154.7 560.3 L155.4 560.3 L156.1 560.3 L156.7 560.3 L157.4 560.3 L158.1 560.3 L158.8 560.2 L159.4 559.7 L160.1 558.1 L160.8 556 L161.5 554.9 L162.1 554.7 L162.8 554.6 L163.5 554.7 L164.2 554.7 L164.8 554.7 L165.5 554.8 L166.2 554.8 L166.8 554.8 L167.5 554.9 L168.2 554.9 L168.9 555 L169.5 555 L170.2 555 L170.9 555.1 L171.6 555.1 L172.2 555.2 L172.9 555.2 L173.6 555.3 L174.3 555.3 L174.9 555.5 L175.6 555.7 L176.3 556 L176.9 556.5 L177.6 557.2 L178.3 558 L179 558.8 L179.6 559.4 L180.3 559.8 L181 560 L181.7 560.2 L182.3 560.2 L183 560.3 L183.7 560.3 L184.4 560.3 L185 560.3 L185.7 560.3 L186.4 560.3 L187 560.3 L187.7 560.3 L188.4 560.3 L189.1 560.3 L189.7 560.3 L190.4 560.3 L191.1 560.3 L191.8 560.3 L192.4 560.3 L193.1 560.3 L193.8 560.3 L194.5 560.3 L195.1 560.3 L195.8 560.3 L196.5 560.3 L197.1 560.3 L197.8 560.3 L198.5 560.3 L199.2 560.3 L199.8 560.3 L200.5 560.3 L201.2 560.3 L201.9 560.3 L202.5 560.3 L203.2 560.3 L203.9 560.3 L204.6 560.3 L205.2 560.3 L205.9 560.3 L205.9 560.3Z" fill="#d6cc60"/><path d="M152 560.3 L152 560.3 L152.7 560.3 L153.4 560.2 L154.1 559.9 L154.7 558.6 L155.4 554.7 L156.1 546.1 L156.7 532.3 L157.4 517.4 L158.1 509.4 L158.8 512.8 L159.4 524.4 L160.1 538.3 L160.8 549.4 L161.5 555.9 L162.1 558.9 L162.8 559.9 L163.5 560.2 L164.2 560.3 L164.8 560.3 L164.8 560.3Z" fill="#52c842" fill-opacity="0.88" stroke="#2a8a20" stroke-width="0.4"/><path d="M170.2 560.3 L170.2 560.3 L170.9 560.3 L171.6 560.2 L172.2 560.2 L172.9 560 L173.6 559.7 L174.3 559.2 L174.9 558.4 L175.6 557.2 L176.3 555.7 L176.9 553.9 L177.6 552.2 L178.3 550.7 L179 549.8 L179.6 549.7 L180.3 550.3 L181 551.6 L181.7 553.3 L182.3 555.1 L183 556.7 L183.7 558 L184.4 559 L185 559.6 L185.7 559.9 L186.4 560.1 L187 560.2 L187.7 560.3 L188.4 560.3 L189.1 560.3 L189.1 560.3Z" fill="#22e8f0" fill-opacity="0.8" stroke="#1a4cc0" stroke-width="0.5"/><polyline points="145.3,560.3 146,560.3 146.6,560.3 147.3,560.3 148,560.3 148.7,560.3 149.3,560.3 150,560.3 150.7,560.3 151.4,560.2 152,560 152.7,558.7 153.4,556.1 154.1,555.8 154.7,556 155.4,553.4 156.1,545.8 156.7,532 157.4,517.5 158.1,508.9 158.8,512.5 159.4,523 160.1,535.8 160.8,544.9 161.5,549.5 162.1,552.6 162.8,554.8 163.5,554 164.2,555.1 164.8,553.8 165.5,555.2 166.2,554.5 166.8,555.4 167.5,554.6 168.2,553.9 168.9,554.1 169.5,555.4 170.2,556 170.9,554.5 171.6,555.5 172.2,555.6 172.9,554.4 173.6,555.6 174.3,553.6 174.9,552.7 175.6,552.5 176.3,552 176.9,550.2 177.6,548.6 178.3,548.3 179,547.9 179.6,548.7 180.3,549.8 181,551.3 181.7,553.2 182.3,555 183,556.4 183.7,557.7 184.4,559 185,559.8 185.7,560.1 186.4,560.1 187,560.2 187.7,560.3 188.4,560.3 189.1,560.3 189.7,560.3 190.4,560.3 191.1,560.3 191.8,560.3 192.4,560.3 193.1,560.3 193.8,560.3 194.5,560.3 195.1,560.3 195.8,560.3 196.5,560.3 197.1,560.3 197.8,560.3 198.5,560.3 199.2,560.3 199.8,560.3 200.5,560.3 201.2,560.3 201.9,560.3 202.5,560.3 203.2,560.3 203.9,560.3 204.6,560.3 205.2,560.3 205.9,560.3" fill="none" stroke="#111" stroke-width="0.6"/><polyline points="160.8,545.7 161.5,551.8 162.1,553.2 162.8,554.7 163.5,553.5 164.2,555 164.8,555.6 165.5,554.5 166.2,554.8 166.8,554.3 167.5,554.8 168.2,553.8 168.9,555.4 169.5,554.8 170.2,555.3 170.9,555.3 171.6,556 172.2,554.6 172.9,555.9 173.6,554.4 174.3,554 174.9,553.3 175.6,553.5" fill="none" stroke="#c42222" stroke-width="0.9"/><polyline points="157.7,513.1 157.9,510.2 158.2,509.2 158.5,510 158.7,512.4 159,516 159.3,520.6 159.5,525.7 159.8,530.8 160.1,535.5 160.3,539.7 160.6,543.1 160.9,546" fill="none" stroke="#d21ad2" stroke-width="0.7"/><polyline points="175.5,552.7 176,551.8 176.5,550.9 177,550 177.5,549.2 178,548.7 178.4,548.3 178.9,548.3 179.4,548.5 179.9,549.1 180.4,550 180.9,551.1" fill="none" stroke="#d21ad2" stroke-width="0.8"/><text x="165.9" y="508.1" font-size="6.8">G0/G1:</text><text x="203.7" y="508.1" font-size="6.8" text-anchor="end">49%</text><text x="165.9" y="516.6" font-size="6.8">S:</text><text x="203.7" y="516.6" font-size="6.8" text-anchor="end">33%</text><text x="165.9" y="525.1" font-size="6.8">G2/M:</text><text x="203.7" y="525.1" font-size="6.8" text-anchor="end">18%</text><text x="175.6" y="571.7" font-size="8.4" text-anchor="middle">PE-A</text><text x="139.1" y="530.6" font-size="8.4" text-anchor="middle" transform="rotate(-90 139.1 530.6)">Count</text>
<rect x="233.2" y="500.9" width="60.6" height="59.4" fill="#fff" stroke="#555" stroke-width="0.7"/><line x1="233.2" y1="553.3" x2="234.2" y2="553.3" stroke="#555" stroke-width="0.5"/><line x1="233.2" y1="546.3" x2="235" y2="546.3" stroke="#555" stroke-width="0.5"/><line x1="233.2" y1="539.3" x2="234.2" y2="539.3" stroke="#555" stroke-width="0.5"/><line x1="233.2" y1="532.3" x2="235" y2="532.3" stroke="#555" stroke-width="0.5"/><line x1="233.2" y1="525.4" x2="234.2" y2="525.4" stroke="#555" stroke-width="0.5"/><line x1="233.2" y1="518.4" x2="235" y2="518.4" stroke="#555" stroke-width="0.5"/><line x1="233.2" y1="511.4" x2="234.2" y2="511.4" stroke="#555" stroke-width="0.5"/><line x1="233.2" y1="504.4" x2="235" y2="504.4" stroke="#555" stroke-width="0.5"/><line x1="241.3" y1="560.3" x2="241.3" y2="559.3" stroke="#555" stroke-width="0.5"/><line x1="249.4" y1="560.3" x2="249.4" y2="558.5" stroke="#555" stroke-width="0.5"/><line x1="257.4" y1="560.3" x2="257.4" y2="559.3" stroke="#555" stroke-width="0.5"/><line x1="265.5" y1="560.3" x2="265.5" y2="558.5" stroke="#555" stroke-width="0.5"/><line x1="273.6" y1="560.3" x2="273.6" y2="559.3" stroke="#555" stroke-width="0.5"/><line x1="281.7" y1="560.3" x2="281.7" y2="558.5" stroke="#555" stroke-width="0.5"/><line x1="289.8" y1="560.3" x2="289.8" y2="559.3" stroke="#555" stroke-width="0.5"/><path d="M233.2 560.3 L233.2 560.3 L233.9 560.3 L234.5 560.3 L235.2 560.3 L235.9 560.3 L236.6 560.3 L237.2 560.3 L237.9 560.3 L238.6 560.3 L239.3 560.3 L239.9 560.3 L240.6 560.3 L241.3 560.3 L242 560.3 L242.6 560.3 L243.3 560.2 L244 559.8 L244.6 558.4 L245.3 556.2 L246 555 L246.7 554.7 L247.3 554.7 L248 554.7 L248.7 554.7 L249.4 554.8 L250 554.8 L250.7 554.9 L251.4 554.9 L252.1 555 L252.7 555 L253.4 555.1 L254.1 555.1 L254.7 555.2 L255.4 555.3 L256.1 555.3 L256.8 555.5 L257.4 555.8 L258.1 556.3 L258.8 557 L259.5 558 L260.1 558.9 L260.8 559.5 L261.5 559.9 L262.2 560.1 L262.8 560.2 L263.5 560.3 L264.2 560.3 L264.8 560.3 L265.5 560.3 L266.2 560.3 L266.9 560.3 L267.5 560.3 L268.2 560.3 L268.9 560.3 L269.6 560.3 L270.2 560.3 L270.9 560.3 L271.6 560.3 L272.3 560.3 L272.9 560.3 L273.6 560.3 L274.3 560.3 L274.9 560.3 L275.6 560.3 L276.3 560.3 L277 560.3 L277.6 560.3 L278.3 560.3 L279 560.3 L279.7 560.3 L280.3 560.3 L281 560.3 L281.7 560.3 L282.4 560.3 L283 560.3 L283.7 560.3 L284.4 560.3 L285 560.3 L285.7 560.3 L286.4 560.3 L287.1 560.3 L287.7 560.3 L288.4 560.3 L289.1 560.3 L289.8 560.3 L290.4 560.3 L291.1 560.3 L291.8 560.3 L292.5 560.3 L293.1 560.3 L293.8 560.3 L293.8 560.3Z" fill="#d6cc60"/><path d="M237.2 560.3 L237.2 560.3 L237.9 560.3 L238.6 560.2 L239.3 559.9 L239.9 558.3 L240.6 553.2 L241.3 542 L242 525.5 L242.6 511.8 L243.3 510.4 L244 520.8 L244.6 536.1 L245.3 548.8 L246 556.1 L246.7 559.1 L247.3 560 L248 560.3 L248.7 560.3 L248.7 560.3Z" fill="#52c842" fill-opacity="0.88" stroke="#2a8a20" stroke-width="0.4"/><path d="M252.1 560.3 L252.1 560.3 L252.7 560.3 L253.4 560.3 L254.1 560.2 L254.7 560 L255.4 559.6 L256.1 558.8 L256.8 557.6 L257.4 555.8 L258.1 553.6 L258.8 551.2 L259.5 549.2 L260.1 548 L260.8 548 L261.5 549.2 L262.2 551.2 L262.8 553.6 L263.5 555.8 L264.2 557.6 L264.8 558.8 L265.5 559.6 L266.2 560 L266.9 560.2 L267.5 560.3 L268.2 560.3 L268.9 560.3 L268.9 560.3Z" fill="#22e8f0" fill-opacity="0.8" stroke="#1a4cc0" stroke-width="0.5"/><polyline points="233.2,560.3 233.9,560.3 234.5,560.3 235.2,560.3 235.9,560.3 236.6,560.1 237.2,559.3 237.9,557.9 238.6,556.9 239.3,556.7 239.9,557.1 240.6,553 241.3,542.2 242,525.8 242.6,511.4 243.3,510.1 244,520.5 244.6,534.4 245.3,543.9 246,551.6 246.7,553.9 247.3,554.1 248,553.8 248.7,553.8 249.4,555.2 250,555.7 250.7,555.7 251.4,554.6 252.1,554.8 252.7,554.1 253.4,554.4 254.1,554.2 254.7,555.6 255.4,555.3 256.1,553.9 256.8,552.5 257.4,551.8 258.1,548.6 258.8,548.4 259.5,546.9 260.1,546.8 260.8,547.1 261.5,548.6 262.2,551.1 262.8,553.4 263.5,555.4 264.2,557.8 264.8,559 265.5,559.9 266.2,560.1 266.9,560.2 267.5,560.3 268.2,560.3 268.9,560.3 269.6,560.3 270.2,560.3 270.9,560.3 271.6,560.3 272.3,560.3 272.9,560.3 273.6,560.3 274.3,560.3 274.9,560.3 275.6,560.3 276.3,560.3 277,560.3 277.6,560.3 278.3,560.3 279,560.3 279.7,560.3 280.3,560.3 281,560.3 281.7,560.3 282.4,560.3 283,560.3 283.7,560.3 284.4,560.3 285,560.3 285.7,560.3 286.4,560.3 287.1,560.3 287.7,560.3 288.4,560.3 289.1,560.3 289.8,560.3 290.4,560.3 291.1,560.3 291.8,560.3 292.5,560.3 293.1,560.3 293.8,560.3" fill="none" stroke="#111" stroke-width="0.6"/><polyline points="245.3,545.4 246,551.9 246.7,553.1 247.3,555.2 248,556.1 248.7,554.5 249.4,555.6 250,554.6 250.7,554.3 251.4,555.6 252.1,555.7 252.7,554.4 253.4,556.1 254.1,555.8 254.7,555.4 255.4,555 256.1,553.1 256.8,552.9" fill="none" stroke="#c42222" stroke-width="0.9"/><polyline points="242.5,513.1 242.8,510.2 243,509.2 243.3,509.9 243.5,512.3 243.7,516 244,520.5 244.2,525.6 244.5,530.7 244.7,535.5 245,539.7 245.2,543.2 245.4,546.1" fill="none" stroke="#d21ad2" stroke-width="0.7"/><polyline points="257.1,552.1 257.5,551.1 257.9,550 258.3,548.9 258.8,547.9 259.2,547.2 259.6,546.7 260,546.5 260.5,546.8 260.9,547.4 261.3,548.3 261.7,549.6" fill="none" stroke="#d21ad2" stroke-width="0.8"/><text x="253.8" y="508.1" font-size="6.8">G0/G1:</text><text x="291.6" y="508.1" font-size="6.8" text-anchor="end">47%</text><text x="253.8" y="516.6" font-size="6.8">S:</text><text x="291.6" y="516.6" font-size="6.8" text-anchor="end">23%</text><text x="253.8" y="525.1" font-size="6.8">G2/M:</text><text x="291.6" y="525.1" font-size="6.8" text-anchor="end">30%</text><text x="263.5" y="571.7" font-size="8.4" text-anchor="middle">PE-A</text><text x="227" y="530.6" font-size="8.4" text-anchor="middle" transform="rotate(-90 227 530.6)">Count</text>
<rect x="321.1" y="500.9" width="60.6" height="59.4" fill="#fff" stroke="#555" stroke-width="0.7"/><line x1="321.1" y1="553.3" x2="322.1" y2="553.3" stroke="#555" stroke-width="0.5"/><line x1="321.1" y1="546.3" x2="322.9" y2="546.3" stroke="#555" stroke-width="0.5"/><line x1="321.1" y1="539.3" x2="322.1" y2="539.3" stroke="#555" stroke-width="0.5"/><line x1="321.1" y1="532.3" x2="322.9" y2="532.3" stroke="#555" stroke-width="0.5"/><line x1="321.1" y1="525.4" x2="322.1" y2="525.4" stroke="#555" stroke-width="0.5"/><line x1="321.1" y1="518.4" x2="322.9" y2="518.4" stroke="#555" stroke-width="0.5"/><line x1="321.1" y1="511.4" x2="322.1" y2="511.4" stroke="#555" stroke-width="0.5"/><line x1="321.1" y1="504.4" x2="322.9" y2="504.4" stroke="#555" stroke-width="0.5"/><line x1="329.2" y1="560.3" x2="329.2" y2="559.3" stroke="#555" stroke-width="0.5"/><line x1="337.3" y1="560.3" x2="337.3" y2="558.5" stroke="#555" stroke-width="0.5"/><line x1="345.3" y1="560.3" x2="345.3" y2="559.3" stroke="#555" stroke-width="0.5"/><line x1="353.4" y1="560.3" x2="353.4" y2="558.5" stroke="#555" stroke-width="0.5"/><line x1="361.5" y1="560.3" x2="361.5" y2="559.3" stroke="#555" stroke-width="0.5"/><line x1="369.6" y1="560.3" x2="369.6" y2="558.5" stroke="#555" stroke-width="0.5"/><line x1="377.7" y1="560.3" x2="377.7" y2="559.3" stroke="#555" stroke-width="0.5"/><path d="M321.1 560.3 L321.1 560.3 L321.8 560.3 L322.4 560.3 L323.1 560.3 L323.8 560.3 L324.5 560.3 L325.1 560.3 L325.8 560.3 L326.5 560.3 L327.2 560.3 L327.8 560.3 L328.5 560.3 L329.2 560.3 L329.9 560.3 L330.5 560.3 L331.2 560.3 L331.9 560.3 L332.5 560.3 L333.2 560.3 L333.9 560.3 L334.6 560.1 L335.2 559.5 L335.9 557.9 L336.6 556.1 L337.3 555.3 L337.9 555.2 L338.6 555.3 L339.3 555.4 L340 555.5 L340.6 555.7 L341.3 555.8 L342 555.9 L342.6 556 L343.3 556.2 L344 556.3 L344.7 556.4 L345.3 556.6 L346 556.7 L346.7 556.8 L347.4 557 L348 557.1 L348.7 557.3 L349.4 557.5 L350.1 557.9 L350.7 558.3 L351.4 558.9 L352.1 559.4 L352.7 559.8 L353.4 560.1 L354.1 560.2 L354.8 560.2 L355.4 560.3 L356.1 560.3 L356.8 560.3 L357.5 560.3 L358.1 560.3 L358.8 560.3 L359.5 560.3 L360.2 560.3 L360.8 560.3 L361.5 560.3 L362.2 560.3 L362.8 560.3 L363.5 560.3 L364.2 560.3 L364.9 560.3 L365.5 560.3 L366.2 560.3 L366.9 560.3 L367.6 560.3 L368.2 560.3 L368.9 560.3 L369.6 560.3 L370.3 560.3 L370.9 560.3 L371.6 560.3 L372.3 560.3 L372.9 560.3 L373.6 560.3 L374.3 560.3 L375 560.3 L375.6 560.3 L376.3 560.3 L377 560.3 L377.7 560.3 L378.3 560.3 L379 560.3 L379.7 560.3 L380.4 560.3 L381 560.3 L381.7 560.3 L381.7 560.3Z" fill="#d6cc60"/><path d="M326.5 560.3 L326.5 560.3 L327.2 560.3 L327.8 560.3 L328.5 560.2 L329.2 559.9 L329.9 558.8 L330.5 555.7 L331.2 548.8 L331.9 537.5 L332.5 523.5 L333.2 512.5 L333.9 510.2 L334.6 516.6 L335.2 528.4 L335.9 540.8 L336.6 550.3 L337.3 556 L337.9 558.8 L338.6 559.8 L339.3 560.2 L340 560.3 L340.6 560.3 L340.6 560.3Z" fill="#52c842" fill-opacity="0.88" stroke="#2a8a20" stroke-width="0.4"/><path d="M344.7 560.3 L344.7 560.3 L345.3 560.3 L346 560.2 L346.7 560.2 L347.4 560 L348 559.6 L348.7 558.9 L349.4 558 L350.1 556.7 L350.7 555.3 L351.4 554 L352.1 553.1 L352.7 552.9 L353.4 553.4 L354.1 554.5 L354.8 555.9 L355.4 557.2 L356.1 558.4 L356.8 559.2 L357.5 559.8 L358.1 560 L358.8 560.2 L359.5 560.3 L360.2 560.3 L360.8 560.3 L360.8 560.3Z" fill="#22e8f0" fill-opacity="0.8" stroke="#1a4cc0" stroke-width="0.5"/><polyline points="321.1,560.3 321.8,560.3 322.4,560.3 323.1,560.3 323.8,560.3 324.5,560.3 325.1,560.3 325.8,560.3 326.5,560.3 327.2,560.2 327.8,559.4 328.5,558.7 329.2,557.4 329.9,556.8 330.5,554.3 331.2,548.3 331.9,537.5 332.5,523.6 333.2,513 333.9,509.7 334.6,516.4 335.2,527.8 335.9,538 336.6,545.8 337.3,551 337.9,553.8 338.6,554.8 339.3,555 340,554.9 340.6,555 341.3,555.5 342,555.3 342.6,556.2 343.3,557.3 344,557.4 344.7,555.8 345.3,557.7 346,557.2 346.7,556.7 347.4,555.9 348,557.9 348.7,556.8 349.4,555.8 350.1,554.8 350.7,553.3 351.4,552.3 352.1,552.1 352.7,551.6 353.4,552.7 354.1,554.8 354.8,556.3 355.4,557.3 356.1,558.5 356.8,558.9 357.5,559.6 358.1,559.8 358.8,560.2 359.5,560.3 360.2,560.3 360.8,560.3 361.5,560.3 362.2,560.3 362.8,560.3 363.5,560.3 364.2,560.3 364.9,560.3 365.5,560.3 366.2,560.3 366.9,560.3 367.6,560.3 368.2,560.3 368.9,560.3 369.6,560.3 370.3,560.3 370.9,560.3 371.6,560.3 372.3,560.3 372.9,560.3 373.6,560.3 374.3,560.3 375,560.3 375.6,560.3 376.3,560.3 377,560.3 377.7,560.3 378.3,560.3 379,560.3 379.7,560.3 380.4,560.3 381,560.3 381.7,560.3" fill="none" stroke="#111" stroke-width="0.6"/><polyline points="335.9,538.5 336.6,545.8 337.3,550.8 337.9,553.8 338.6,554.5 339.3,556.1 340,554.9 340.6,555.3 341.3,554 342,556 342.6,557 343.3,556.6 344,556.4 344.7,556.9 345.3,557.3 346,556.9 346.7,557.5 347.4,555.9 348,557.3 348.7,555.6 349.4,554.6" fill="none" stroke="#c42222" stroke-width="0.9"/><polyline points="333.1,513.7 333.4,510.8 333.7,509.8 334,510.6 334.3,512.9 334.6,516.6 334.9,521.2 335.2,526.3 335.5,531.3 335.7,536 336,540 336.3,543.4 336.6,546.3" fill="none" stroke="#d21ad2" stroke-width="0.7"/><polyline points="349.2,555.4 349.6,554.9 350.1,554.3 350.5,553.6 350.9,553.1 351.3,552.6 351.8,552.3 352.2,552.2 352.6,552.3 353,552.7 353.5,553.2 353.9,554" fill="none" stroke="#d21ad2" stroke-width="0.8"/><text x="341.7" y="508.1" font-size="6.8">G0/G1:</text><text x="379.5" y="508.1" font-size="6.8" text-anchor="end">56%</text><text x="341.7" y="516.6" font-size="6.8">S:</text><text x="379.5" y="516.6" font-size="6.8" text-anchor="end">25%</text><text x="341.7" y="525.1" font-size="6.8">G2/M:</text><text x="379.5" y="525.1" font-size="6.8" text-anchor="end">19%</text><text x="351.4" y="571.7" font-size="8.4" text-anchor="middle">PE-A</text><text x="314.9" y="530.6" font-size="8.4" text-anchor="middle" transform="rotate(-90 314.9 530.6)">Count</text>
<rect x="49.4" y="588.4" width="60.6" height="59.4" fill="#fff" stroke="#555" stroke-width="0.7"/><line x1="49.4" y1="640.8" x2="50.4" y2="640.8" stroke="#555" stroke-width="0.5"/><line x1="49.4" y1="633.8" x2="51.2" y2="633.8" stroke="#555" stroke-width="0.5"/><line x1="49.4" y1="626.8" x2="50.4" y2="626.8" stroke="#555" stroke-width="0.5"/><line x1="49.4" y1="619.8" x2="51.2" y2="619.8" stroke="#555" stroke-width="0.5"/><line x1="49.4" y1="612.9" x2="50.4" y2="612.9" stroke="#555" stroke-width="0.5"/><line x1="49.4" y1="605.9" x2="51.2" y2="605.9" stroke="#555" stroke-width="0.5"/><line x1="49.4" y1="598.9" x2="50.4" y2="598.9" stroke="#555" stroke-width="0.5"/><line x1="49.4" y1="591.9" x2="51.2" y2="591.9" stroke="#555" stroke-width="0.5"/><line x1="57.5" y1="647.8" x2="57.5" y2="646.8" stroke="#555" stroke-width="0.5"/><line x1="65.6" y1="647.8" x2="65.6" y2="646" stroke="#555" stroke-width="0.5"/><line x1="73.6" y1="647.8" x2="73.6" y2="646.8" stroke="#555" stroke-width="0.5"/><line x1="81.7" y1="647.8" x2="81.7" y2="646" stroke="#555" stroke-width="0.5"/><line x1="89.8" y1="647.8" x2="89.8" y2="646.8" stroke="#555" stroke-width="0.5"/><line x1="97.9" y1="647.8" x2="97.9" y2="646" stroke="#555" stroke-width="0.5"/><line x1="106" y1="647.8" x2="106" y2="646.8" stroke="#555" stroke-width="0.5"/><path d="M49.4 647.8 L49.4 647.8 L50.1 647.8 L50.7 647.8 L51.4 647.8 L52.1 647.8 L52.8 647.8 L53.4 647.8 L54.1 647.8 L54.8 647.8 L55.5 647.8 L56.1 647.8 L56.8 647.8 L57.5 647.8 L58.2 647.8 L58.8 647.8 L59.5 647.8 L60.2 647.8 L60.8 647.8 L61.5 647.7 L62.2 647.5 L62.9 646.3 L63.5 642.7 L64.2 637.7 L64.9 635.3 L65.6 634.9 L66.2 634.9 L66.9 635.1 L67.6 635.3 L68.3 635.5 L68.9 635.7 L69.6 635.9 L70.3 636.1 L70.9 636.3 L71.6 636.5 L72.3 636.7 L73 636.9 L73.6 637.1 L74.3 637.3 L75 637.5 L75.7 637.7 L76.3 637.9 L77 638.1 L77.7 638.3 L78.4 638.6 L79 638.8 L79.7 639 L80.4 639.3 L81 639.6 L81.7 640.1 L82.4 640.8 L83.1 641.7 L83.7 643 L84.4 644.4 L85.1 645.7 L85.8 646.6 L86.4 647.1 L87.1 647.4 L87.8 647.6 L88.5 647.7 L89.1 647.8 L89.8 647.8 L90.5 647.8 L91.1 647.8 L91.8 647.8 L92.5 647.8 L93.2 647.8 L93.8 647.8 L94.5 647.8 L95.2 647.8 L95.9 647.8 L96.5 647.8 L97.2 647.8 L97.9 647.8 L98.6 647.8 L99.2 647.8 L99.9 647.8 L100.6 647.8 L101.2 647.8 L101.9 647.8 L102.6 647.8 L103.3 647.8 L103.9 647.8 L104.6 647.8 L105.3 647.8 L106 647.8 L106.6 647.8 L107.3 647.8 L108 647.8 L108.7 647.8 L109.3 647.8 L110 647.8 L110 647.8Z" fill="#d6cc60"/><path d="M56.1 647.8 L56.1 647.8 L56.8 647.8 L57.5 647.7 L58.2 647.3 L58.8 645.4 L59.5 639.7 L60.2 627.6 L60.8 610.9 L61.5 598.3 L62.2 598.6 L62.9 610.2 L63.5 625.5 L64.2 637.6 L64.9 644.2 L65.6 646.8 L66.2 647.6 L66.9 647.8 L67.6 647.8 L67.6 647.8Z" fill="#52c842" fill-opacity="0.88" stroke="#2a8a20" stroke-width="0.4"/><path d="M76.3 647.8 L76.3 647.8 L77 647.8 L77.7 647.7 L78.4 647.7 L79 647.5 L79.7 647.2 L80.4 646.7 L81 645.9 L81.7 644.7 L82.4 643.3 L83.1 641.6 L83.7 639.9 L84.4 638.6 L85.1 637.8 L85.8 637.8 L86.4 638.5 L87.1 639.8 L87.8 641.4 L88.5 643.1 L89.1 644.6 L89.8 645.8 L90.5 646.6 L91.1 647.2 L91.8 647.5 L92.5 647.7 L93.2 647.7 L93.8 647.8 L94.5 647.8 L94.5 647.8Z" fill="#22e8f0" fill-opacity="0.8" stroke="#1a4cc0" stroke-width="0.5"/><polyline points="49.4,647.8 50.1,647.8 50.7,647.8 51.4,647.8 52.1,647.8 52.8,647.8 53.4,647.8 54.1,647.8 54.8,647.8 55.5,647 56.1,646.7 56.8,644.8 57.5,643.7 58.2,644 58.8,643.3 59.5,639.2 60.2,627.5 60.8,610.5 61.5,597.7 62.2,598 62.9,608.4 63.5,620.6 64.2,626.6 64.9,631.1 65.6,634.6 66.2,635.2 66.9,634.7 67.6,636 68.3,636.2 68.9,636.4 69.6,635.5 70.3,636.6 70.9,636.4 71.6,636.1 72.3,635.9 73,636.1 73.6,636.5 74.3,636.9 75,638.8 75.7,637.7 76.3,637.2 77,637.5 77.7,638.6 78.4,637.9 79,638.5 79.7,638.3 80.4,638.3 81,638.4 81.7,638.2 82.4,637.2 83.1,635.8 83.7,634.3 84.4,635.7 85.1,635.5 85.8,636.2 86.4,637.5 87.1,639.4 87.8,641.1 88.5,642.9 89.1,644.6 89.8,645.8 90.5,646.6 91.1,647.1 91.8,647.4 92.5,647.6 93.2,647.7 93.8,647.8 94.5,647.8 95.2,647.8 95.9,647.8 96.5,647.8 97.2,647.8 97.9,647.8 98.6,647.8 99.2,647.8 99.9,647.8 100.6,647.8 101.2,647.8 101.9,647.8 102.6,647.8 103.3,647.8 103.9,647.8 104.6,647.8 105.3,647.8 106,647.8 106.6,647.8 107.3,647.8 108,647.8 108.7,647.8 109.3,647.8 110,647.8" fill="none" stroke="#111" stroke-width="0.6"/><polyline points="64.2,627.9 64.9,631 65.6,633.5 66.2,634.9 66.9,635.9 67.6,636 68.3,635.7 68.9,635.8 69.6,636.4 70.3,635.6 70.9,637.1 71.6,635.7 72.3,637.7 73,636.5 73.6,637.7 74.3,638.3 75,637.6 75.7,637.8 76.3,638 77,637.8 77.7,638.5 78.4,639.1 79,638.4 79.7,637.8 80.4,637.7 81,638.6 81.7,637.6" fill="none" stroke="#c42222" stroke-width="0.9"/><polyline points="61.3,600.6 61.6,597.6 61.8,596.6 62.1,597.3 62.3,599.5 62.6,603 62.8,607.3 63,611.9 63.3,616.3 63.5,620.1 63.8,623.2 64,625.7 64.2,627.8" fill="none" stroke="#d21ad2" stroke-width="0.7"/><polyline points="81.6,637.2 82.1,636.6 82.5,636.1 83,635.6 83.5,635.2 84,635.1 84.5,635.2 85,635.6 85.5,636.1 85.9,636.8 86.4,637.8 86.9,638.9" fill="none" stroke="#d21ad2" stroke-width="0.8"/><text x="70" y="595.6" font-size="6.8">G0/G1:</text><text x="107.8" y="595.6" font-size="6.8" text-anchor="end">45%</text><text x="70" y="604.1" font-size="6.8">S:</text><text x="107.8" y="604.1" font-size="6.8" text-anchor="end">36%</text><text x="70" y="612.6" font-size="6.8">G2/M:</text><text x="107.8" y="612.6" font-size="6.8" text-anchor="end">19%</text><text x="79.7" y="659.2" font-size="8.4" text-anchor="middle">PE-A</text><text x="43.2" y="618.1" font-size="8.4" text-anchor="middle" transform="rotate(-90 43.2 618.1)">Count</text>
<rect x="145.3" y="588.4" width="60.6" height="59.4" fill="#fff" stroke="#555" stroke-width="0.7"/><line x1="145.3" y1="640.8" x2="146.3" y2="640.8" stroke="#555" stroke-width="0.5"/><line x1="145.3" y1="633.8" x2="147.1" y2="633.8" stroke="#555" stroke-width="0.5"/><line x1="145.3" y1="626.8" x2="146.3" y2="626.8" stroke="#555" stroke-width="0.5"/><line x1="145.3" y1="619.8" x2="147.1" y2="619.8" stroke="#555" stroke-width="0.5"/><line x1="145.3" y1="612.9" x2="146.3" y2="612.9" stroke="#555" stroke-width="0.5"/><line x1="145.3" y1="605.9" x2="147.1" y2="605.9" stroke="#555" stroke-width="0.5"/><line x1="145.3" y1="598.9" x2="146.3" y2="598.9" stroke="#555" stroke-width="0.5"/><line x1="145.3" y1="591.9" x2="147.1" y2="591.9" stroke="#555" stroke-width="0.5"/><line x1="153.4" y1="647.8" x2="153.4" y2="646.8" stroke="#555" stroke-width="0.5"/><line x1="161.5" y1="647.8" x2="161.5" y2="646" stroke="#555" stroke-width="0.5"/><line x1="169.5" y1="647.8" x2="169.5" y2="646.8" stroke="#555" stroke-width="0.5"/><line x1="177.6" y1="647.8" x2="177.6" y2="646" stroke="#555" stroke-width="0.5"/><line x1="185.7" y1="647.8" x2="185.7" y2="646.8" stroke="#555" stroke-width="0.5"/><line x1="193.8" y1="647.8" x2="193.8" y2="646" stroke="#555" stroke-width="0.5"/><line x1="201.9" y1="647.8" x2="201.9" y2="646.8" stroke="#555" stroke-width="0.5"/><path d="M145.3 647.8 L145.3 647.8 L146 647.8 L146.6 647.8 L147.3 647.8 L148 647.8 L148.7 647.8 L149.3 647.8 L150 647.8 L150.7 647.8 L151.4 647.8 L152 647.8 L152.7 647.8 L153.4 647.8 L154.1 647.8 L154.7 647.8 L155.4 647.8 L156.1 647.8 L156.7 647.7 L157.4 647.1 L158.1 644.8 L158.8 638 L159.4 629.4 L160.1 625.4 L160.8 624.6 L161.5 624.6 L162.1 624.8 L162.8 625.1 L163.5 625.3 L164.2 625.6 L164.8 625.8 L165.5 626.1 L166.2 626.3 L166.8 626.6 L167.5 626.9 L168.2 627.1 L168.9 627.4 L169.5 627.6 L170.2 627.9 L170.9 628.1 L171.6 628.4 L172.2 628.7 L172.9 628.9 L173.6 629.2 L174.3 629.5 L174.9 629.9 L175.6 630.3 L176.3 631 L176.9 631.9 L177.6 633.4 L178.3 635.6 L179 638.4 L179.6 641.3 L180.3 643.8 L181 645.5 L181.7 646.6 L182.3 647.2 L183 647.5 L183.7 647.6 L184.4 647.7 L185 647.8 L185.7 647.8 L186.4 647.8 L187 647.8 L187.7 647.8 L188.4 647.8 L189.1 647.8 L189.7 647.8 L190.4 647.8 L191.1 647.8 L191.8 647.8 L192.4 647.8 L193.1 647.8 L193.8 647.8 L194.5 647.8 L195.1 647.8 L195.8 647.8 L196.5 647.8 L197.1 647.8 L197.8 647.8 L198.5 647.8 L199.2 647.8 L199.8 647.8 L200.5 647.8 L201.2 647.8 L201.9 647.8 L202.5 647.8 L203.2 647.8 L203.9 647.8 L204.6 647.8 L205.2 647.8 L205.9 647.8 L205.9 647.8Z" fill="#d6cc60"/><path d="M151.4 647.8 L151.4 647.8 L152 647.8 L152.7 647.7 L153.4 647.2 L154.1 645.1 L154.7 639 L155.4 626.6 L156.1 610 L156.7 598.4 L157.4 599.8 L158.1 611.8 L158.8 626.9 L159.4 638.4 L160.1 644.5 L160.8 646.9 L161.5 647.6 L162.1 647.8 L162.8 647.8 L162.8 647.8Z" fill="#52c842" fill-opacity="0.88" stroke="#2a8a20" stroke-width="0.4"/><path d="M170.9 647.8 L170.9 647.8 L171.6 647.8 L172.2 647.7 L172.9 647.5 L173.6 647.2 L174.3 646.5 L174.9 645.3 L175.6 643.3 L176.3 640.3 L176.9 636.1 L177.6 631 L178.3 625.4 L179 620.2 L179.6 616.3 L180.3 614.6 L181 615.3 L181.7 618.4 L182.3 623.2 L183 628.7 L183.7 634.1 L184.4 638.7 L185 642.2 L185.7 644.6 L186.4 646.1 L187 647 L187.7 647.4 L188.4 647.6 L189.1 647.7 L189.7 647.8 L189.7 647.8Z" fill="#22e8f0" fill-opacity="0.8" stroke="#1a4cc0" stroke-width="0.5"/><polyline points="145.3,647.8 146,647.8 146.6,647.8 147.3,647.8 148,647.8 148.7,647.8 149.3,647.8 150,647.8 150.7,647.3 151.4,646.7 152,644.5 152.7,644.1 153.4,644 154.1,643.2 154.7,638.7 155.4,626.4 156.1,610.2 156.7,597.8 157.4,598.9 158.1,608.5 158.8,617.2 159.4,619.6 160.1,622.8 160.8,623.4 161.5,625.8 162.1,624.4 162.8,624.6 163.5,625.6 164.2,624.6 164.8,625.9 165.5,624.8 166.2,626.7 166.8,627.1 167.5,626.9 168.2,624.7 168.9,628.5 169.5,627.9 170.2,628.1 170.9,627.6 171.6,629.4 172.2,627.1 172.9,630 173.6,627.5 174.3,628.4 174.9,628.1 175.6,625.3 176.3,624.6 176.9,620.2 177.6,617.5 178.3,614.1 179,611.1 179.6,609.9 180.3,610.1 181,613.2 181.7,616.8 182.3,622.8 183,628.2 183.7,633.8 184.4,638.7 185,642 185.7,644.5 186.4,646 187,647.5 187.7,647.4 188.4,647.6 189.1,647.7 189.7,647.8 190.4,647.8 191.1,647.8 191.8,647.8 192.4,647.8 193.1,647.8 193.8,647.8 194.5,647.8 195.1,647.8 195.8,647.8 196.5,647.8 197.1,647.8 197.8,647.8 198.5,647.8 199.2,647.8 199.8,647.8 200.5,647.8 201.2,647.8 201.9,647.8 202.5,647.8 203.2,647.8 203.9,647.8 204.6,647.8 205.2,647.8 205.9,647.8" fill="none" stroke="#111" stroke-width="0.6"/><polyline points="159.4,618.9 160.1,623.3 160.8,623.8 161.5,624.5 162.1,624.7 162.8,624.9 163.5,625 164.2,626 164.8,625.9 165.5,626.7 166.2,627.3 166.8,627.2 167.5,627 168.2,627.3 168.9,627.7 169.5,628 170.2,627.4 170.9,628.2 171.6,628.3 172.2,627.2 172.9,628.9 173.6,628.5 174.3,627.9 174.9,628.7 175.6,626.2 176.3,623.4" fill="none" stroke="#c42222" stroke-width="0.9"/><polyline points="156.5,601.1 156.8,598.2 157,597.1 157.2,597.7 157.5,599.8 157.7,602.9 158,606.8 158.2,610.7 158.5,614.1 158.7,616.6 158.9,618.2 159.2,619.1 159.4,619.9" fill="none" stroke="#d21ad2" stroke-width="0.7"/><polyline points="176.6,622.1 177.1,619.6 177.5,617 178,614.4 178.5,612.3 179,610.7 179.5,609.9 180,610 180.4,611 180.9,612.8 181.4,615.6 181.9,619.1" fill="none" stroke="#d21ad2" stroke-width="0.8"/><text x="165.9" y="595.6" font-size="6.8">G0/G1:</text><text x="203.7" y="595.6" font-size="6.8" text-anchor="end">27%</text><text x="165.9" y="604.1" font-size="6.8">S:</text><text x="203.7" y="604.1" font-size="6.8" text-anchor="end">44%</text><text x="165.9" y="612.6" font-size="6.8">G2/M:</text><text x="203.7" y="612.6" font-size="6.8" text-anchor="end">29%</text><text x="175.6" y="659.2" font-size="8.4" text-anchor="middle">PE-A</text><text x="139.1" y="618.1" font-size="8.4" text-anchor="middle" transform="rotate(-90 139.1 618.1)">Count</text>
<rect x="233.2" y="588.4" width="60.6" height="59.4" fill="#fff" stroke="#555" stroke-width="0.7"/><line x1="233.2" y1="640.8" x2="234.2" y2="640.8" stroke="#555" stroke-width="0.5"/><line x1="233.2" y1="633.8" x2="235" y2="633.8" stroke="#555" stroke-width="0.5"/><line x1="233.2" y1="626.8" x2="234.2" y2="626.8" stroke="#555" stroke-width="0.5"/><line x1="233.2" y1="619.8" x2="235" y2="619.8" stroke="#555" stroke-width="0.5"/><line x1="233.2" y1="612.9" x2="234.2" y2="612.9" stroke="#555" stroke-width="0.5"/><line x1="233.2" y1="605.9" x2="235" y2="605.9" stroke="#555" stroke-width="0.5"/><line x1="233.2" y1="598.9" x2="234.2" y2="598.9" stroke="#555" stroke-width="0.5"/><line x1="233.2" y1="591.9" x2="235" y2="591.9" stroke="#555" stroke-width="0.5"/><line x1="241.3" y1="647.8" x2="241.3" y2="646.8" stroke="#555" stroke-width="0.5"/><line x1="249.4" y1="647.8" x2="249.4" y2="646" stroke="#555" stroke-width="0.5"/><line x1="257.4" y1="647.8" x2="257.4" y2="646.8" stroke="#555" stroke-width="0.5"/><line x1="265.5" y1="647.8" x2="265.5" y2="646" stroke="#555" stroke-width="0.5"/><line x1="273.6" y1="647.8" x2="273.6" y2="646.8" stroke="#555" stroke-width="0.5"/><line x1="281.7" y1="647.8" x2="281.7" y2="646" stroke="#555" stroke-width="0.5"/><line x1="289.8" y1="647.8" x2="289.8" y2="646.8" stroke="#555" stroke-width="0.5"/><path d="M233.2 647.8 L233.2 647.8 L233.9 647.8 L234.5 647.8 L235.2 647.8 L235.9 647.8 L236.6 647.8 L237.2 647.8 L237.9 647.8 L238.6 647.8 L239.3 647.8 L239.9 647.8 L240.6 647.8 L241.3 647.8 L242 647.8 L242.6 647.8 L243.3 647.8 L244 647.8 L244.6 647.7 L245.3 647.5 L246 646.5 L246.7 642.7 L247.3 634.2 L248 627.1 L248.7 624.8 L249.4 624.4 L250 624.5 L250.7 624.7 L251.4 624.9 L252.1 625.2 L252.7 625.4 L253.4 625.6 L254.1 625.9 L254.7 626.1 L255.4 626.3 L256.1 626.6 L256.8 626.8 L257.4 627.1 L258.1 627.4 L258.8 627.7 L259.5 628.2 L260.1 628.7 L260.8 629.3 L261.5 630.2 L262.2 631.4 L262.8 633 L263.5 635 L264.2 637.3 L264.8 639.7 L265.5 641.9 L266.2 643.8 L266.9 645.1 L267.5 646 L268.2 646.7 L268.9 647.1 L269.6 647.4 L270.2 647.5 L270.9 647.6 L271.6 647.7 L272.3 647.7 L272.9 647.8 L273.6 647.8 L274.3 647.8 L274.9 647.8 L275.6 647.8 L276.3 647.8 L277 647.8 L277.6 647.8 L278.3 647.8 L279 647.8 L279.7 647.8 L280.3 647.8 L281 647.8 L281.7 647.8 L282.4 647.8 L283 647.8 L283.7 647.8 L284.4 647.8 L285 647.8 L285.7 647.8 L286.4 647.8 L287.1 647.8 L287.7 647.8 L288.4 647.8 L289.1 647.8 L289.8 647.8 L290.4 647.8 L291.1 647.8 L291.8 647.8 L292.5 647.8 L293.1 647.8 L293.8 647.8 L293.8 647.8Z" fill="#d6cc60"/><path d="M239.3 647.8 L239.3 647.8 L239.9 647.8 L240.6 647.7 L241.3 647.4 L242 646 L242.6 641.8 L243.3 632.6 L244 618.7 L244.6 605.6 L245.3 601.6 L246 608.4 L246.7 621.1 L247.3 633.4 L248 641.7 L248.7 645.7 L249.4 647.2 L250 647.7 L250.7 647.8 L251.4 647.8 L251.4 647.8Z" fill="#52c842" fill-opacity="0.88" stroke="#2a8a20" stroke-width="0.4"/><path d="M252.7 647.8 L252.7 647.8 L253.4 647.8 L254.1 647.7 L254.7 647.6 L255.4 647.5 L256.1 647.2 L256.8 646.8 L257.4 646.1 L258.1 645 L258.8 643.4 L259.5 641.1 L260.1 638.1 L260.8 634.2 L261.5 629.5 L262.2 624.1 L262.8 618.3 L263.5 612.5 L264.2 607.2 L264.8 603 L265.5 600.1 L266.2 599.1 L266.9 599.9 L267.5 602.6 L268.2 606.8 L268.9 612 L269.6 617.7 L270.2 623.5 L270.9 629 L271.6 633.8 L272.3 637.7 L272.9 640.9 L273.6 643.2 L274.3 644.9 L274.9 646 L275.6 646.7 L276.3 647.2 L277 647.5 L277.6 647.6 L278.3 647.7 L279 647.8 L279.7 647.8 L279.7 647.8Z" fill="#22e8f0" fill-opacity="0.8" stroke="#1a4cc0" stroke-width="0.5"/><polyline points="233.2,647.8 233.9,647.8 234.5,647.8 235.2,647.8 235.9,647.8 236.6,647.8 237.2,647.8 237.9,647.8 238.6,647.7 239.3,647.2 239.9,646.1 240.6,643.1 241.3,643.3 242,643.6 242.6,641.1 243.3,632.2 244,619.1 244.6,605.3 245.3,600.7 246,607.3 246.7,615.8 247.3,620.4 248,621.9 248.7,622.7 249.4,624.4 250,624.8 250.7,624.7 251.4,625.1 252.1,624.4 252.7,624.8 253.4,625.3 254.1,625.6 254.7,626.4 255.4,626.2 256.1,625.9 256.8,625.9 257.4,625.7 258.1,624.1 258.8,622.3 259.5,622.3 260.1,618.6 260.8,616.4 261.5,612.4 262.2,608.1 262.8,603.4 263.5,599.5 264.2,596.4 264.8,594.9 265.5,594 266.2,594.9 266.9,597.4 267.5,600.7 268.2,605.5 268.9,610.9 269.6,616.9 270.2,622.8 270.9,629 271.6,633.3 272.3,637.8 272.9,641.1 273.6,643.1 274.3,645 274.9,646.2 275.6,647 276.3,647.2 277,647.8 277.6,647.6 278.3,647.7 279,647.8 279.7,647.8 280.3,647.8 281,647.8 281.7,647.8 282.4,647.8 283,647.8 283.7,647.8 284.4,647.8 285,647.8 285.7,647.8 286.4,647.8 287.1,647.8 287.7,647.8 288.4,647.8 289.1,647.8 289.8,647.8 290.4,647.8 291.1,647.8 291.8,647.8 292.5,647.8 293.1,647.8 293.8,647.8" fill="none" stroke="#111" stroke-width="0.6"/><polyline points="247.3,620.9 248,621.1 248.7,623 249.4,624.7 250,624.9 250.7,624.9 251.4,625 252.1,624.6 252.7,625 253.4,625.7 254.1,626.5 254.7,626 255.4,626.8 256.1,625.8 256.8,626.2 257.4,624.9 258.1,625.5 258.8,623 259.5,621.2 260.1,619.2 260.8,614.7" fill="none" stroke="#c42222" stroke-width="0.9"/><polyline points="244.7,605 244.9,602.3 245.2,601.3 245.5,601.9 245.7,603.8 246,606.7 246.2,610.2 246.5,613.7 246.7,616.6 247,618.6 247.2,619.6 247.5,620 247.7,620.4" fill="none" stroke="#d21ad2" stroke-width="0.7"/><polyline points="260.8,615.8 261.5,611.9 262.2,607.7 262.8,603.5 263.5,599.7 264.2,596.7 264.9,594.8 265.5,594.3 266.2,595.1 266.9,597.4 267.6,601.1 268.3,606" fill="none" stroke="#d21ad2" stroke-width="0.8"/><text x="253.8" y="595.6" font-size="6.8">G0/G1:</text><text x="291.6" y="595.6" font-size="6.8" text-anchor="end">14%</text><text x="253.8" y="604.1" font-size="6.8">S:</text><text x="291.6" y="604.1" font-size="6.8" text-anchor="end">40%</text><text x="253.8" y="612.6" font-size="6.8">G2/M:</text><text x="291.6" y="612.6" font-size="6.8" text-anchor="end">46%</text><text x="263.5" y="659.2" font-size="8.4" text-anchor="middle">PE-A</text><text x="227" y="618.1" font-size="8.4" text-anchor="middle" transform="rotate(-90 227 618.1)">Count</text>
<rect x="321.1" y="588.4" width="60.6" height="59.4" fill="#fff" stroke="#555" stroke-width="0.7"/><line x1="321.1" y1="640.8" x2="322.1" y2="640.8" stroke="#555" stroke-width="0.5"/><line x1="321.1" y1="633.8" x2="322.9" y2="633.8" stroke="#555" stroke-width="0.5"/><line x1="321.1" y1="626.8" x2="322.1" y2="626.8" stroke="#555" stroke-width="0.5"/><line x1="321.1" y1="619.8" x2="322.9" y2="619.8" stroke="#555" stroke-width="0.5"/><line x1="321.1" y1="612.9" x2="322.1" y2="612.9" stroke="#555" stroke-width="0.5"/><line x1="321.1" y1="605.9" x2="322.9" y2="605.9" stroke="#555" stroke-width="0.5"/><line x1="321.1" y1="598.9" x2="322.1" y2="598.9" stroke="#555" stroke-width="0.5"/><line x1="321.1" y1="591.9" x2="322.9" y2="591.9" stroke="#555" stroke-width="0.5"/><line x1="329.2" y1="647.8" x2="329.2" y2="646.8" stroke="#555" stroke-width="0.5"/><line x1="337.3" y1="647.8" x2="337.3" y2="646" stroke="#555" stroke-width="0.5"/><line x1="345.3" y1="647.8" x2="345.3" y2="646.8" stroke="#555" stroke-width="0.5"/><line x1="353.4" y1="647.8" x2="353.4" y2="646" stroke="#555" stroke-width="0.5"/><line x1="361.5" y1="647.8" x2="361.5" y2="646.8" stroke="#555" stroke-width="0.5"/><line x1="369.6" y1="647.8" x2="369.6" y2="646" stroke="#555" stroke-width="0.5"/><line x1="377.7" y1="647.8" x2="377.7" y2="646.8" stroke="#555" stroke-width="0.5"/><path d="M321.1 647.8 L321.1 647.8 L321.8 647.8 L322.4 647.8 L323.1 647.8 L323.8 647.8 L324.5 647.8 L325.1 647.8 L325.8 647.8 L326.5 647.8 L327.2 647.8 L327.8 647.8 L328.5 647.8 L329.2 647.8 L329.9 647.8 L330.5 647.8 L331.2 647.8 L331.9 647.8 L332.5 647.8 L333.2 647.8 L333.9 647.7 L334.6 647.1 L335.2 644.9 L335.9 638.4 L336.6 630.4 L337.3 626.8 L337.9 626.1 L338.6 626.3 L339.3 626.5 L340 626.9 L340.6 627.2 L341.3 627.5 L342 627.8 L342.6 628.2 L343.3 628.5 L344 628.8 L344.7 629.1 L345.3 629.5 L346 629.8 L346.7 630.1 L347.4 630.5 L348 630.8 L348.7 631.1 L349.4 631.5 L350.1 631.9 L350.7 632.4 L351.4 633 L352.1 633.8 L352.7 634.9 L353.4 636.4 L354.1 638.3 L354.8 640.5 L355.4 642.7 L356.1 644.6 L356.8 645.9 L357.5 646.7 L358.1 647.2 L358.8 647.5 L359.5 647.6 L360.2 647.7 L360.8 647.7 L361.5 647.8 L362.2 647.8 L362.8 647.8 L363.5 647.8 L364.2 647.8 L364.9 647.8 L365.5 647.8 L366.2 647.8 L366.9 647.8 L367.6 647.8 L368.2 647.8 L368.9 647.8 L369.6 647.8 L370.3 647.8 L370.9 647.8 L371.6 647.8 L372.3 647.8 L372.9 647.8 L373.6 647.8 L374.3 647.8 L375 647.8 L375.6 647.8 L376.3 647.8 L377 647.8 L377.7 647.8 L378.3 647.8 L379 647.8 L379.7 647.8 L380.4 647.8 L381 647.8 L381.7 647.8 L381.7 647.8Z" fill="#d6cc60"/><path d="M328.5 647.8 L328.5 647.8 L329.2 647.8 L329.9 647.7 L330.5 647.2 L331.2 645.1 L331.9 639 L332.5 626.5 L333.2 610.1 L333.9 598.8 L334.6 600.5 L335.2 612.5 L335.9 627.4 L336.6 638.7 L337.3 644.6 L337.9 646.9 L338.6 647.6 L339.3 647.8 L340 647.8 L340 647.8Z" fill="#52c842" fill-opacity="0.88" stroke="#2a8a20" stroke-width="0.4"/><path d="M345.3 647.8 L345.3 647.8 L346 647.8 L346.7 647.7 L347.4 647.6 L348 647.4 L348.7 647 L349.4 646.3 L350.1 645 L350.7 643.1 L351.4 640.2 L352.1 636.4 L352.7 631.6 L353.4 626.3 L354.1 620.8 L354.8 616 L355.4 612.6 L356.1 611 L356.8 611.7 L357.5 614.4 L358.1 618.8 L358.8 624.1 L359.5 629.6 L360.2 634.6 L360.8 638.8 L361.5 642 L362.2 644.3 L362.8 645.8 L363.5 646.7 L364.2 647.3 L364.9 647.6 L365.5 647.7 L366.2 647.8 L366.9 647.8 L366.9 647.8Z" fill="#22e8f0" fill-opacity="0.8" stroke="#1a4cc0" stroke-width="0.5"/><polyline points="321.1,647.8 321.8,647.8 322.4,647.8 323.1,647.8 323.8,647.8 324.5,647.8 325.1,647.8 325.8,647.8 326.5,647.8 327.2,647.8 327.8,647.5 328.5,646.1 329.2,644.2 329.9,643.5 330.5,644.1 331.2,643.6 331.9,637.9 332.5,625.7 333.2,610.1 333.9,598.9 334.6,600.2 335.2,609.9 335.9,617.9 336.6,621.6 337.3,623.8 337.9,624.9 338.6,627.4 339.3,627.4 340,626.9 340.6,627.6 341.3,627.7 342,627.6 342.6,627.7 343.3,627.8 344,628.5 344.7,628.7 345.3,629.4 346,629 346.7,629.7 347.4,630.7 348,630.9 348.7,630.8 349.4,630.1 350.1,628.6 350.7,627.4 351.4,626.8 352.1,622.5 352.7,620.2 353.4,614.9 354.1,611.9 354.8,608.7 355.4,607.1 356.1,608.2 356.8,610.1 357.5,612.9 358.1,618.5 358.8,623.3 359.5,629.4 360.2,634.7 360.8,639.2 361.5,642.5 362.2,644.3 362.8,645.6 363.5,647 364.2,647.4 364.9,647.3 365.5,647.7 366.2,647.8 366.9,647.8 367.6,647.8 368.2,647.8 368.9,647.8 369.6,647.8 370.3,647.8 370.9,647.8 371.6,647.8 372.3,647.8 372.9,647.8 373.6,647.8 374.3,647.8 375,647.8 375.6,647.8 376.3,647.8 377,647.8 377.7,647.8 378.3,647.8 379,647.8 379.7,647.8 380.4,647.8 381,647.8 381.7,647.8" fill="none" stroke="#111" stroke-width="0.6"/><polyline points="336.6,621.8 337.3,624.2 337.9,625.9 338.6,626.1 339.3,626.6 340,627.8 340.6,625.8 341.3,628.1 342,627.2 342.6,628.1 343.3,628.5 344,629.5 344.7,629.5 345.3,629.8 346,630.6 346.7,629.3 347.4,630.9 348,631.5 348.7,629.2 349.4,630.6 350.1,628.3 350.7,628.7 351.4,624.3 352.1,623.2" fill="none" stroke="#c42222" stroke-width="0.9"/><polyline points="333.6,601.7 333.9,598.8 334.1,597.7 334.4,598.3 334.6,600.4 334.9,603.5 335.1,607.3 335.3,611.3 335.6,614.7 335.8,617.3 336.1,619.1 336.3,620.2 336.6,621.1" fill="none" stroke="#d21ad2" stroke-width="0.7"/><polyline points="351.9,623.3 352.4,620.5 353,617.4 353.5,614.3 354.1,611.5 354.6,609.2 355.2,607.9 355.7,607.4 356.2,608.1 356.8,609.8 357.3,612.6 357.9,616.3" fill="none" stroke="#d21ad2" stroke-width="0.8"/><text x="341.7" y="595.6" font-size="6.8">G0/G1:</text><text x="379.5" y="595.6" font-size="6.8" text-anchor="end">22%</text><text x="341.7" y="604.1" font-size="6.8">S:</text><text x="379.5" y="604.1" font-size="6.8" text-anchor="end">45%</text><text x="341.7" y="612.6" font-size="6.8">G2/M:</text><text x="379.5" y="612.6" font-size="6.8" text-anchor="end">33%</text><text x="351.4" y="659.2" font-size="8.4" text-anchor="middle">PE-A</text><text x="314.9" y="618.1" font-size="8.4" text-anchor="middle" transform="rotate(-90 314.9 618.1)">Count</text>
<text x="469" y="470.8" font-size="9" text-anchor="middle">SUNE1</text><rect x="435.2" y="521.7" width="10.8" height="68.9" fill="#ff0000"/><rect x="435.2" y="495.1" width="10.8" height="26.7" fill="#1b64ab"/><rect x="435.2" y="479.5" width="10.8" height="15.6" fill="#78a814"/><line x1="440.6" y1="521.7" x2="440.6" y2="520.6" stroke="#111" stroke-width="0.8"/><line x1="438.3" y1="520.6" x2="442.9" y2="520.6" stroke="#111" stroke-width="0.9"/><line x1="438.3" y1="521.7" x2="442.9" y2="521.7" stroke="#111" stroke-width="0.9"/><line x1="440.6" y1="495.1" x2="440.6" y2="497.5" stroke="#111" stroke-width="0.8"/><line x1="438.3" y1="497.5" x2="442.9" y2="497.5" stroke="#111" stroke-width="0.9"/><line x1="438.3" y1="495.1" x2="442.9" y2="495.1" stroke="#111" stroke-width="0.9"/><line x1="440.6" y1="479.5" x2="440.6" y2="480.1" stroke="#111" stroke-width="0.8"/><line x1="438.3" y1="480.1" x2="442.9" y2="480.1" stroke="#111" stroke-width="0.9"/><line x1="438.3" y1="479.5" x2="442.9" y2="479.5" stroke="#111" stroke-width="0.9"/><rect x="455.2" y="531.2" width="10.8" height="59.4" fill="#ff0000"/><rect x="455.2" y="500.1" width="10.8" height="31.1" fill="#1b64ab"/><rect x="455.2" y="479.5" width="10.8" height="20.6" fill="#78a814"/><line x1="460.6" y1="531.2" x2="460.6" y2="535" stroke="#111" stroke-width="0.8"/><line x1="458.3" y1="535" x2="462.9" y2="535" stroke="#111" stroke-width="0.9"/><line x1="458.3" y1="531.2" x2="462.9" y2="531.2" stroke="#111" stroke-width="0.9"/><line x1="460.6" y1="500.1" x2="460.6" y2="504.5" stroke="#111" stroke-width="0.8"/><line x1="458.3" y1="504.5" x2="462.9" y2="504.5" stroke="#111" stroke-width="0.9"/><line x1="458.3" y1="500.1" x2="462.9" y2="500.1" stroke="#111" stroke-width="0.9"/><line x1="460.6" y1="479.5" x2="460.6" y2="480.1" stroke="#111" stroke-width="0.8"/><line x1="458.3" y1="480.1" x2="462.9" y2="480.1" stroke="#111" stroke-width="0.9"/><line x1="458.3" y1="479.5" x2="462.9" y2="479.5" stroke="#111" stroke-width="0.9"/><rect x="474.9" y="537.8" width="10.8" height="52.8" fill="#ff0000"/><rect x="474.9" y="511.7" width="10.8" height="26.1" fill="#1b64ab"/><rect x="474.9" y="479.5" width="10.8" height="32.2" fill="#78a814"/><line x1="480.3" y1="537.8" x2="480.3" y2="538" stroke="#111" stroke-width="0.8"/><line x1="478" y1="538" x2="482.6" y2="538" stroke="#111" stroke-width="0.9"/><line x1="478" y1="537.8" x2="482.6" y2="537.8" stroke="#111" stroke-width="0.9"/><line x1="480.3" y1="511.7" x2="480.3" y2="511.9" stroke="#111" stroke-width="0.8"/><line x1="478" y1="511.9" x2="482.6" y2="511.9" stroke="#111" stroke-width="0.9"/><line x1="478" y1="511.7" x2="482.6" y2="511.7" stroke="#111" stroke-width="0.9"/><line x1="480.3" y1="479.5" x2="480.3" y2="480.1" stroke="#111" stroke-width="0.8"/><line x1="478" y1="480.1" x2="482.6" y2="480.1" stroke="#111" stroke-width="0.9"/><line x1="478" y1="479.5" x2="482.6" y2="479.5" stroke="#111" stroke-width="0.9"/><rect x="494.6" y="525.1" width="10.8" height="65.5" fill="#ff0000"/><rect x="494.6" y="500.6" width="10.8" height="24.4" fill="#1b64ab"/><rect x="494.6" y="479.5" width="10.8" height="21.1" fill="#78a814"/><line x1="500" y1="525.1" x2="500" y2="523.7" stroke="#111" stroke-width="0.8"/><line x1="497.7" y1="523.7" x2="502.3" y2="523.7" stroke="#111" stroke-width="0.9"/><line x1="497.7" y1="525.1" x2="502.3" y2="525.1" stroke="#111" stroke-width="0.9"/><line x1="500" y1="500.6" x2="500" y2="500.1" stroke="#111" stroke-width="0.8"/><line x1="497.7" y1="500.1" x2="502.3" y2="500.1" stroke="#111" stroke-width="0.9"/><line x1="497.7" y1="500.6" x2="502.3" y2="500.6" stroke="#111" stroke-width="0.9"/><line x1="500" y1="479.5" x2="500" y2="479.8" stroke="#111" stroke-width="0.8"/><line x1="497.7" y1="479.8" x2="502.3" y2="479.8" stroke="#111" stroke-width="0.9"/><line x1="497.7" y1="479.5" x2="502.3" y2="479.5" stroke="#111" stroke-width="0.9"/><line x1="431" y1="479" x2="431" y2="591.1" stroke="#1a1a1a" stroke-width="1"/><line x1="430.5" y1="590.6" x2="509.7" y2="590.6" stroke="#1a1a1a" stroke-width="1"/><line x1="427.5" y1="590.6" x2="431" y2="590.6" stroke="#1a1a1a" stroke-width="0.9"/><text x="425.8" y="593.8" font-size="8.8" text-anchor="end">0</text><line x1="427.5" y1="568.4" x2="431" y2="568.4" stroke="#1a1a1a" stroke-width="0.9"/><text x="425.8" y="571.6" font-size="8.8" text-anchor="end">20</text><line x1="427.5" y1="546.2" x2="431" y2="546.2" stroke="#1a1a1a" stroke-width="0.9"/><text x="425.8" y="549.4" font-size="8.8" text-anchor="end">40</text><line x1="427.5" y1="523.9" x2="431" y2="523.9" stroke="#1a1a1a" stroke-width="0.9"/><text x="425.8" y="527.1" font-size="8.8" text-anchor="end">60</text><line x1="427.5" y1="501.7" x2="431" y2="501.7" stroke="#1a1a1a" stroke-width="0.9"/><text x="425.8" y="504.9" font-size="8.8" text-anchor="end">80</text><line x1="427.5" y1="479.5" x2="431" y2="479.5" stroke="#1a1a1a" stroke-width="0.9"/><text x="425.8" y="482.7" font-size="8.8" text-anchor="end">100</text><line x1="440.6" y1="590.6" x2="440.6" y2="593.6" stroke="#1a1a1a" stroke-width="0.9"/><text x="444.8" y="599.8" font-size="8.3" text-anchor="end" transform="rotate(-45 444.8 599.8)">Vector+siNC-Ctrl</text><line x1="460.6" y1="590.6" x2="460.6" y2="593.6" stroke="#1a1a1a" stroke-width="0.9"/><text x="464.8" y="599.8" font-size="8.3" text-anchor="end" transform="rotate(-45 464.8 599.8)">Vector+siNC-IR</text><line x1="480.3" y1="590.6" x2="480.3" y2="593.6" stroke="#1a1a1a" stroke-width="0.9"/><text x="484.5" y="599.8" font-size="8.3" text-anchor="end" transform="rotate(-45 484.5 599.8)">USP44+siNC-IR</text><line x1="500" y1="590.6" x2="500" y2="593.6" stroke="#1a1a1a" stroke-width="0.9"/><text x="504.2" y="599.8" font-size="8.3" text-anchor="end" transform="rotate(-45 504.2 599.8)">USP44+siTRIM25-IR</text><line x1="440.6" y1="485.5" x2="500" y2="485.5" stroke="#444" stroke-width="0.7"/><line x1="440.6" y1="485.5" x2="440.6" y2="482.3" stroke="#444" stroke-width="0.7"/><line x1="460.6" y1="485.5" x2="460.6" y2="482.3" stroke="#444" stroke-width="0.7"/><line x1="480.3" y1="485.5" x2="480.3" y2="482.3" stroke="#444" stroke-width="0.7"/><line x1="500" y1="485.5" x2="500" y2="482.3" stroke="#444" stroke-width="0.7"/><text x="453.2" y="502.2" font-size="7.2" font-weight="bold" fill="#000" text-anchor="middle" transform="rotate(-90 453.2 502.2)"><tspan font-style="italic">P</tspan>=0.0102</text><text x="472.4" y="502.2" font-size="7.2" font-weight="bold" fill="#000" text-anchor="middle" transform="rotate(-90 472.4 502.2)"><tspan font-style="italic">P</tspan>=0.0004</text><text x="492.6" y="502.2" font-size="7.2" font-weight="bold" fill="#000" text-anchor="middle" transform="rotate(-90 492.6 502.2)"><tspan font-style="italic">P</tspan>=0.0002</text>
<text x="588" y="470.8" font-size="9" text-anchor="middle">HONE1</text><rect x="554.4" y="540.6" width="11" height="50" fill="#ff0000"/><rect x="554.4" y="502.3" width="11" height="38.3" fill="#1b64ab"/><rect x="554.4" y="479.5" width="11" height="22.8" fill="#78a814"/><line x1="559.9" y1="540.6" x2="559.9" y2="541" stroke="#111" stroke-width="0.8"/><line x1="557.6" y1="541" x2="562.2" y2="541" stroke="#111" stroke-width="0.9"/><line x1="557.6" y1="540.6" x2="562.2" y2="540.6" stroke="#111" stroke-width="0.9"/><line x1="559.9" y1="502.3" x2="559.9" y2="501.4" stroke="#111" stroke-width="0.8"/><line x1="557.6" y1="501.4" x2="562.2" y2="501.4" stroke="#111" stroke-width="0.9"/><line x1="557.6" y1="502.3" x2="562.2" y2="502.3" stroke="#111" stroke-width="0.9"/><line x1="559.9" y1="479.5" x2="559.9" y2="479.8" stroke="#111" stroke-width="0.8"/><line x1="557.6" y1="479.8" x2="562.2" y2="479.8" stroke="#111" stroke-width="0.9"/><line x1="557.6" y1="479.5" x2="562.2" y2="479.5" stroke="#111" stroke-width="0.9"/><rect x="574.2" y="559.5" width="11" height="31.1" fill="#ff0000"/><rect x="574.2" y="511.7" width="11" height="47.8" fill="#1b64ab"/><rect x="574.2" y="479.5" width="11" height="32.2" fill="#78a814"/><line x1="579.7" y1="559.5" x2="579.7" y2="558.2" stroke="#111" stroke-width="0.8"/><line x1="577.4" y1="558.2" x2="582" y2="558.2" stroke="#111" stroke-width="0.9"/><line x1="577.4" y1="559.5" x2="582" y2="559.5" stroke="#111" stroke-width="0.9"/><line x1="579.7" y1="511.7" x2="579.7" y2="510.4" stroke="#111" stroke-width="0.8"/><line x1="577.4" y1="510.4" x2="582" y2="510.4" stroke="#111" stroke-width="0.9"/><line x1="577.4" y1="511.7" x2="582" y2="511.7" stroke="#111" stroke-width="0.9"/><line x1="579.7" y1="479.5" x2="579.7" y2="479.8" stroke="#111" stroke-width="0.8"/><line x1="577.4" y1="479.8" x2="582" y2="479.8" stroke="#111" stroke-width="0.9"/><line x1="577.4" y1="479.5" x2="582" y2="479.5" stroke="#111" stroke-width="0.9"/><rect x="594" y="573.9" width="11" height="16.7" fill="#ff0000"/><rect x="594" y="530.1" width="11" height="43.9" fill="#1b64ab"/><rect x="594" y="479.5" width="11" height="50.6" fill="#78a814"/><line x1="599.5" y1="573.9" x2="599.5" y2="572.6" stroke="#111" stroke-width="0.8"/><line x1="597.2" y1="572.6" x2="601.8" y2="572.6" stroke="#111" stroke-width="0.9"/><line x1="597.2" y1="573.9" x2="601.8" y2="573.9" stroke="#111" stroke-width="0.9"/><line x1="599.5" y1="530.1" x2="599.5" y2="529.2" stroke="#111" stroke-width="0.8"/><line x1="597.2" y1="529.2" x2="601.8" y2="529.2" stroke="#111" stroke-width="0.9"/><line x1="597.2" y1="530.1" x2="601.8" y2="530.1" stroke="#111" stroke-width="0.9"/><line x1="599.5" y1="479.5" x2="599.5" y2="479.8" stroke="#111" stroke-width="0.8"/><line x1="597.2" y1="479.8" x2="601.8" y2="479.8" stroke="#111" stroke-width="0.9"/><line x1="597.2" y1="479.5" x2="601.8" y2="479.5" stroke="#111" stroke-width="0.9"/><rect x="613.7" y="567.3" width="11" height="23.3" fill="#ff0000"/><rect x="613.7" y="516.2" width="11" height="51.1" fill="#1b64ab"/><rect x="613.7" y="479.5" width="11" height="36.7" fill="#78a814"/><line x1="619.2" y1="567.3" x2="619.2" y2="567.5" stroke="#111" stroke-width="0.8"/><line x1="616.9" y1="567.5" x2="621.5" y2="567.5" stroke="#111" stroke-width="0.9"/><line x1="616.9" y1="567.3" x2="621.5" y2="567.3" stroke="#111" stroke-width="0.9"/><line x1="619.2" y1="516.2" x2="619.2" y2="516.4" stroke="#111" stroke-width="0.8"/><line x1="616.9" y1="516.4" x2="621.5" y2="516.4" stroke="#111" stroke-width="0.9"/><line x1="616.9" y1="516.2" x2="621.5" y2="516.2" stroke="#111" stroke-width="0.9"/><line x1="619.2" y1="479.5" x2="619.2" y2="479.8" stroke="#111" stroke-width="0.8"/><line x1="616.9" y1="479.8" x2="621.5" y2="479.8" stroke="#111" stroke-width="0.9"/><line x1="616.9" y1="479.5" x2="621.5" y2="479.5" stroke="#111" stroke-width="0.9"/><line x1="549.4" y1="479" x2="549.4" y2="591.1" stroke="#1a1a1a" stroke-width="1"/><line x1="548.9" y1="590.6" x2="628.8" y2="590.6" stroke="#1a1a1a" stroke-width="1"/><line x1="545.9" y1="590.6" x2="549.4" y2="590.6" stroke="#1a1a1a" stroke-width="0.9"/><text x="544.2" y="593.8" font-size="8.8" text-anchor="end">0</text><line x1="545.9" y1="568.4" x2="549.4" y2="568.4" stroke="#1a1a1a" stroke-width="0.9"/><text x="544.2" y="571.6" font-size="8.8" text-anchor="end">20</text><line x1="545.9" y1="546.2" x2="549.4" y2="546.2" stroke="#1a1a1a" stroke-width="0.9"/><text x="544.2" y="549.4" font-size="8.8" text-anchor="end">40</text><line x1="545.9" y1="523.9" x2="549.4" y2="523.9" stroke="#1a1a1a" stroke-width="0.9"/><text x="544.2" y="527.1" font-size="8.8" text-anchor="end">60</text><line x1="545.9" y1="501.7" x2="549.4" y2="501.7" stroke="#1a1a1a" stroke-width="0.9"/><text x="544.2" y="504.9" font-size="8.8" text-anchor="end">80</text><line x1="545.9" y1="479.5" x2="549.4" y2="479.5" stroke="#1a1a1a" stroke-width="0.9"/><text x="544.2" y="482.7" font-size="8.8" text-anchor="end">100</text><line x1="559.9" y1="590.6" x2="559.9" y2="593.6" stroke="#1a1a1a" stroke-width="0.9"/><text x="564.1" y="599.8" font-size="8.3" text-anchor="end" transform="rotate(-45 564.1 599.8)">Vector+siNC-Ctrl</text><line x1="579.7" y1="590.6" x2="579.7" y2="593.6" stroke="#1a1a1a" stroke-width="0.9"/><text x="583.9" y="599.8" font-size="8.3" text-anchor="end" transform="rotate(-45 583.9 599.8)">Vector+siNC-IR</text><line x1="599.5" y1="590.6" x2="599.5" y2="593.6" stroke="#1a1a1a" stroke-width="0.9"/><text x="603.7" y="599.8" font-size="8.3" text-anchor="end" transform="rotate(-45 603.7 599.8)">USP44+siNC-IR</text><line x1="619.2" y1="590.6" x2="619.2" y2="593.6" stroke="#1a1a1a" stroke-width="0.9"/><text x="623.4" y="599.8" font-size="8.3" text-anchor="end" transform="rotate(-45 623.4 599.8)">USP44+siTRIM25-IR</text><line x1="559.9" y1="485.5" x2="619.2" y2="485.5" stroke="#444" stroke-width="0.7"/><line x1="559.9" y1="485.5" x2="559.9" y2="482.3" stroke="#444" stroke-width="0.7"/><line x1="579.7" y1="485.5" x2="579.7" y2="482.3" stroke="#444" stroke-width="0.7"/><line x1="599.5" y1="485.5" x2="599.5" y2="482.3" stroke="#444" stroke-width="0.7"/><line x1="619.2" y1="485.5" x2="619.2" y2="482.3" stroke="#444" stroke-width="0.7"/><text x="572.6" y="501.5" font-size="7.2" font-weight="bold" fill="#000" text-anchor="middle" transform="rotate(-90 572.6 501.5)"><tspan font-style="italic">P</tspan>=0.0001</text><text x="592.1" y="505" font-size="7.2" font-weight="bold" fill="#000" text-anchor="middle" transform="rotate(-90 592.1 505)"><tspan font-style="italic">P</tspan>=2.95E-06</text><text x="611.8" y="505" font-size="7.2" font-weight="bold" fill="#000" text-anchor="middle" transform="rotate(-90 611.8 505)"><tspan font-style="italic">P</tspan>=6.79E-06</text>
<text x="405.6" y="535" font-size="9.3" text-anchor="middle" transform="rotate(-90 405.6 535)">cell (%)</text>
<text x="525" y="535" font-size="9.3" text-anchor="middle" transform="rotate(-90 525 535)">cell (%)</text>
<rect x="637" y="486.8" width="12.7" height="3.6" fill="#ff0000"/>
<text x="655.4" y="491.8" font-size="8.8">G0/G1</text>
<rect x="637" y="496.8" width="12.7" height="3.6" fill="#1b64ab"/>
<text x="655.4" y="501.8" font-size="8.8">S</text>
<rect x="637" y="506.7" width="12.7" height="3.6" fill="#78a814"/>
<text x="655.4" y="511.7" font-size="8.8">G2/M</text>
<defs><filter id="db" x="-30%" y="-30%" width="160%" height="160%"><feGaussianBlur stdDeviation="1.2"/></filter><filter id="db2" x="-30%" y="-30%" width="160%" height="160%"><feGaussianBlur stdDeviation="0.7"/></filter></defs>
<text x="0.2" y="683.2" font-size="12" font-weight="bold" fill="#000">d</text>
<text x="73" y="680.6" font-size="9.2" text-anchor="middle">Ctrl</text>
<line x1="31.5" y1="685.4" x2="114.5" y2="685.4" stroke="#555" stroke-width="0.8"/>
<text x="256.1" y="680.6" font-size="9.2" text-anchor="middle">IR</text>
<line x1="131.4" y1="684.6" x2="381.6" y2="684.6" stroke="#555" stroke-width="0.8"/>
<text x="73" y="695.6" font-size="9.3" text-anchor="middle">Vector</text>
<text x="73" y="707.2" font-size="9.3" text-anchor="middle">+</text>
<text x="73" y="716.7" font-size="9.3" text-anchor="middle">siNC</text>
<text x="168.2" y="695.6" font-size="9.3" text-anchor="middle">Vector</text>
<text x="168.2" y="707.2" font-size="9.3" text-anchor="middle">+</text>
<text x="168.2" y="716.7" font-size="9.3" text-anchor="middle">siNC</text>
<text x="257" y="695.6" font-size="9.3" text-anchor="middle">USP44</text>
<text x="257" y="707.2" font-size="9.3" text-anchor="middle">+</text>
<text x="257" y="716.7" font-size="9.3" text-anchor="middle">siNC</text>
<text x="344.9" y="695.6" font-size="9.3" text-anchor="middle">USP44</text>
<text x="344.9" y="707.2" font-size="9.3" text-anchor="middle">+</text>
<text x="344.9" y="716.7" font-size="9.3" text-anchor="middle">siTRIM25</text>
<text x="23.5" y="758.4" font-size="9.5" text-anchor="middle" transform="rotate(-90 23.5 758.4)">SUNE1</text>
<text x="23.2" y="847.2" font-size="9.5" text-anchor="middle" transform="rotate(-90 23.2 847.2)">HONE1</text>
<rect x="43" y="723.4" width="67.4" height="67.1" fill="#fff" stroke="#666" stroke-width="0.6"/><clipPath id="cp200"><rect x="43" y="723.4" width="67.4" height="67.1"/></clipPath><g clip-path="url(#cp200)"><g filter="url(#db)"><ellipse cx="61.2" cy="775.7" rx="13.7" ry="6.2" fill="#3a55ff" fill-opacity="0.6" transform="rotate(-50 61.2 775.7)"/><ellipse cx="78.7" cy="746.2" rx="2.9" ry="1.7" fill="#2238f0" fill-opacity="0.6" transform="rotate(-10 78.7 746.2)"/></g><path d="M44.8 758.2h.5m-2.4 13.5h.5m1.4 10.8h.5m-3.2 4.3h.5m1.2 .9h.5m.4 .1h.5m-5 .5h.5m3.7 2.7h.5m-5.4 5.2h.5m9.7-25h.5m.3 5.2h.5m-.2 1.1h.5m-1.6 .9h.5m-.5 1h.5m0 .7h.5m-2.2 .9h.5m.5 1.4h.5m-.6 0h.5m.9 .1h.5m-2.2 .6h.5m1.4 .1h.5m-3.5 .3h.5m1.9 .9h.5m-5.8 1.7h.5m2.9 .3h.5m.8 .2h.5m-2.2 .1h.5m2 .2h.5m-1 1.3h.5m-1.2 .4h.5m-3.2 .9h.5m3.7 .3h.5m-2 1.9h.5m.8 .3h.5m-4.4 .1h.5m-.3 2.9h.5m.1 0h.5m0 1.2h.5m-2 .9h.5m4.2-37.6h.5m1 1.9h.5m1.9 1.7h.5m-3.3 .5h.5m-.6 .3h.5m3.4 1.1h.5m0 2.6h.5m-4.5 .1h.5m2.7 1.1h.5m-1.3 .6h.5m.4 1h.5m-1.2 .5h.5m.4 .4h.5m-.2 .5h.5m-2.9 1.1h.5m1.2 .3h.5m-3.4 .2h.5m3.5 0h.5m-.7 .2h.5m-1.6 .1h.5m-1.8 .1h.5m-2.5 .1h.5m2.3 0h.5m-2.4 0h.5m1.4 .1h.5m.7 .4h.5m-5.7 .1h.5m3.2 .1h.5m1.2 0h.5m-.1 .1h.5m-2.9 .2h.5m-1.8 .1h.5m2 .1h.5m-3.2 0h.5m-.4 0h.5m-1.1 0h.5m3.7 .1h.5m-.2 0h.5m-3.3 0h.5m-1.7 .4h.5m3.3 0h.5m-2.3 .2h.5m1.4 0h.5m-5.1 .1h.5m4 .3h.5m-1.7 0h.5m-1.7 .1h.5m.6 .1h.5m.3 .3h.5m-3.4 .2h.5m1.6 0h.5m.9 .3h.5m-1.5 0h.5m-4.8 0h.5m2.3 .1h.5m1.3 0h.5m-.1 .1h.5m-3.8 0h.5m2.8 .1h.5m-1.1 .1h.5m-2.8 0h.5m1.6 .1h.5m-.7 0h.5m-3.3 .1h.5m.6 0h.5m2.3 .1h.5m-3.8 .1h.5m-1.9 .1h.5m-.2 0h.5m1.8 .1h.5m1.6 .1h.5m-2.4 0h.5m.9 .3h.5m.1 0h.5m-1 .2h.5m-4.7 .1h.5m3.9 .1h.5m-4.5 .1h.5m-1 0h.5m4.1 .1h.5m-2 .1h.5m.9 0h.5m-2.1 .1h.5m1.3 .1h.5m-2.3 0h.5m.5 .2h.5m-2.9 .1h.5m.6 0h.5m-.2 .2h.5m-1.2 0h.5m1 .1h.5m.2 .1h.5m-5.7 0h.5m4.9 .3h.5m-3.9 0h.5m3.3 .1h.5m-.8 0h.5m-.5 .1h.5m-.5 .1h.5m-2.3 0h.5m-.2 .1h.5m.6 0h.5m-4 0h.5m-.2 .1h.5m-1.4 .1h.5m3.7 0h.5m-4 .1h.5m1.5 0h.5m-.7 0h.5m.2 .2h.5m-3.9 0h.5m4.1 .1h.5m-.6 0h.5m-2.3 .5h.5m1.4 .1h.5m-5 .2h.5m3.3 .1h.5m-3.2 .3h.5m1.7 0h.5m-1.2 .2h.5m-3.6 0h.5m2.7 0h.5m.9 .3h.5m-3.4 .1h.5m1 .1h.5m.5 .2h.5m-4.7 .1h.5m1.5 0h.5m1.9 .1h.5m-4.9 0h.5m.9 0h.5m-1.4 .1h.5m4.1 .1h.5m-1.5 0h.5m-2.7 .1h.5m3 .4h.5m-2.2 0h.5m-3.8 .1h.5m4.4 .1h.5m-3 .1h.5m1.1 .1h.5m-2.4 0h.5m-1.1 0h.5m-2.7 .1h.5m1.3 .2h.5m-1.3 .1h.5m-1.5 .1h.5m.9 .1h.5m-1.8 .2h.5m2.8 0h.5m-3.3 .1h.5m3.3 .1h.5m-1.7 .4h.5m-.2 .2h.5m-.3 0h.5m-1.3 .5h.5m1.7 0h.5m-3.3 .2h.5m1.7 .2h.5m-4.7 0h.5m.5 .1h.5m-1.1 .3h.5m-.2 .2h.5m1.1 .1h.5m2.4 .2h.5m-4.4 .1h.5m-.1 .1h.5m3.1 .1h.5m-3.7 .3h.5m-2.5 .7h.5m3.8 .7h.5m-2.7 0h.5m1.6 .3h.5m-1.7 .4h.5m1.5 .2h.5m-5.1 1h.5m3 2h.5m5.7-44.8h.5m-2.6 .7h.5m1.7 1.9h.5m.4 4.3h.5m-.6 3.5h.5m-3.3 1h.5m1.9 1.1h.5m-3.7 .3h.5m.7 .9h.5m.3 .6h.5m.9 .1h.5m-.2 .4h.5m-.5 0h.5m-3 .3h.5m-1.3 0h.5m2.7 .2h.5m-.3 1.2h.5m-1.9 0h.5m.9 .2h.5m-6.4 0h.5m2.7 .4h.5m.5 .2h.5m-.7 0h.5m-.1 .1h.5m-.8 .1h.5m1.2 .1h.5m-2.4 .1h.5m-2.3 .5h.5m1 .7h.5m-2.7 0h.5m1.4 .1h.5m2 0h.5m-5 0h.5m3.7 .1h.5m-3.2 .4h.5m-1.5 0h.5m-.4 0h.5m-1.1 .2h.5m2.3 .1h.5m-1.6 .1h.5m1.2 .1h.5m-.3 .1h.5m-2.9 .1h.5m2.5 .1h.5m-.9 .2h.5m-2.7 0h.5m1.9 .1h.5m-4.7 .1h.5m2.1 .1h.5m.2 0h.5m-2 0h.5m1.8 .2h.5m-5.2 0h.5m2.1 .1h.5m-2.6 .1h.5m4.1 .2h.5m-.8 .1h.5m-3.5 .1h.5m-2.6 0h.5m3.8 .1h.5m.3 0h.5m-.7 0h.5m-2.5 .1h.5m-1.4 0h.5m.1 0h.5m2 0h.5m-.1 .1h.5m-2 0h.5m-3.6 .3h.5m3.5 0h.5m-.7 0h.5m-3.7 .2h.5m.6 0h.5m2 .1h.5m-4.6 0h.5m3.8 .2h.5m-2.6 .1h.5m-1.8 .1h.5m-.9 .1h.5m.3 0h.5m.7 0h.5m.4 .1h.5m-2.5 .1h.5m-2.2 0h.5m2 .1h.5m1.5 0h.5m-3 0h.5m2.1 .1h.5m-2.5 0h.5m.6 0h.5m-4.1 .1h.5m3.1 0h.5m0 .1h.5m-1.9 0h.5m-4 0h.5m-.4 .1h.5m1.1 .1h.5m-1.3 0h.5m2.4 .2h.5m.1 0h.5m.2 .2h.5m-2.9 .1h.5m2.2 0h.5m-2.8 0h.5m1.7 .1h.5m-.4 0h.5m-2.4 0h.5m-.5 0h.5m1.6 0h.5m-2.7 .2h.5m.5 0h.5m-.1 .1h.5m0 0h.5m-6 .1h.5m4.9 0h.5m-2.6 0h.5m-.9 0h.5m-1.1 0h.5m2.8 .1h.5m-.9 0h.5m-5.2 .1h.5m.9 .1h.5m2.8 0h.5m-3 0h.5m1.2 0h.5m-3.3 .1h.5m2.5 0h.5m-.4 0h.5m0 .1h.5m-2.9 0h.5m.5 .1h.5m1 0h.5m-.1 0h.5m-1.5 .1h.5m-1.5 .1h.5m-3.8 0h.5m4.5 0h.5m-2.7 0h.5m2.1 .3h.5m-1.5 0h.5m-3.4 0h.5m-.1 0h.5m-2.2 0h.5m.5 .1h.5m2.9 0h.5m-5.3 .1h.5m.6 0h.5m3.3 .1h.5m-4.2 0h.5m-.3 0h.5m1 0h.5m1.4 .1h.5m-5.3 0h.5m5 .1h.5m-.8 0h.5m0 .1h.5m-3.2 .1h.5m-2.4 .1h.5m3.8 0h.5m-4 .1h.5m.3 0h.5m-.4 0h.5m-2.5 0h.5m3.6 .1h.5m-1.2 0h.5m0 0h.5m-1.4 0h.5m.3 .1h.5m-4.3 .1h.5m2.2 .1h.5m1.2 0h.5m-5.8 .1h.5m5.2 0h.5m-.7 .1h.5m-1.1 0h.5m-2.7 0h.5m.8 0h.5m-1.8 .1h.5m1.7 0h.5m-4.6 .1h.5m1.2 0h.5m2.6 0h.5m-2.9 0h.5m1.5 0h.5m-4.2 .1h.5m0 0h.5m-2.2 0h.5m1 0h.5m-1.5 0h.5m.1 .1h.5m-.1 .1h.5m.7 0h.5m.7 0h.5m-3.3 .2h.5m-.2 0h.5m3.4 0h.5m-.5 0h.5m-2.7 0h.5m-3.1 .1h.5m4.2 0h.5m-3.8 0h.5m-1.2 .1h.5m-1 .1h.5m-1.1 .1h.5m-.4 0h.5m2.2 0h.5m-.1 0h.5m.1 0h.5m-2.5 0h.5m-1.9 .1h.5m.3 .1h.5m-.3 0h.5m1.1 0h.5m-2.8 .1h.5m1 .1h.5m-2.1 0h.5m1.2 0h.5m.5 0h.5m-1.6 0h.5m.6 0h.5m-3 0h.5m3.1 .1h.5m-1.1 .1h.5m-1.3 .2h.5m1.6 .1h.5m-3 0h.5m-.6 0h.5m1.6 0h.5m-3.3 .1h.5m-1.6 0h.5m2.2 .1h.5m-3.3 0h.5m.5 .1h.5m1.5 .2h.5m-2.2 0h.5m-2.3 0h.5m0 0h.5m4.1 0h.5m-2.1 0h.5m-3.9 0h.5m2.2 0h.5m-3.1 .2h.5m0 0h.5m-1.6 .1h.5m.2 .2h.5m3 0h.5m-2.8 .1h.5m.9 0h.5m1.6 0h.5m-2.7 .1h.5m-.9 0h.5m-3.1 0h.5m2.1 .1h.5m1.2 0h.5m-.6 0h.5m.5 .1h.5m-4.7 .1h.5m-.9 0h.5m2.9 .1h.5m-4 .1h.5m2.5 0h.5m-.7 .1h.5m-.6 .2h.5m-1.3 0h.5m.1 0h.5m.4 0h.5m-.5 .1h.5m.5 0h.5m-3.5 0h.5m-2.4 0h.5m.7 .1h.5m.2 0h.5m1.1 .3h.5m-2.3 .2h.5m1.5 0h.5m-3.6 0h.5m2.5 .1h.5m-1.2 .1h.5m-1 0h.5m-.6 .1h.5m-3.1 .1h.5m1.3 0h.5m-.9 0h.5m.3 0h.5m-1 .1h.5m-2 0h.5m.6 0h.5m.6 0h.5m2 .1h.5m-1.4 0h.5m1.1 .2h.5m-.3 0h.5m-4.2 0h.5m.8 0h.5m1.4 .1h.5m-1.6 .1h.5m-.3 .1h.5m-1.3 .1h.5m.6 0h.5m-5.2 .2h.5m.7 0h.5m-.3 0h.5m-1 .1h.5m2.5 .1h.5m-2 .1h.5m-2.1 .1h.5m1 .4h.5m-.3 .1h.5m-1.6 .2h.5m1.1 .2h.5m-.8 .1h.5m-3.2 0h.5m3.8 .1h.5m-4.6 .3h.5m5.2 .3h.5m-6.5 .1h.5m1.7 .4h.5m.4 0h.5m-.8 .1h.5m1.3 .3h.5m-2.9 .3h.5m.3 .3h.5m-1.5 .2h.5m-1 .2h.5m.4 .6h.5m3 .2h.5m-4.4 .4h.5m-.6 0h.5m3 1.1h.5m-1.9 1.5h.5m-.7 .1h.5m-1.6 .9h.5m-2.3 .4h.5m9.7-46.2h.5m-1.9 .3h.5m-1.6 .2h.5m2.4 .9h.5m-.1 1h.5m-4.5 0h.5m.3 .1h.5m.1 .2h.5m.9 0h.5m-.1 .2h.5m-1.4 .2h.5m.1 0h.5m-3.2 0h.5m-.2 .1h.5m1.4 0h.5m1 .1h.5m-1.9 .1h.5m-2.5 .1h.5m1.8 .1h.5m-1.8 .1h.5m1 .4h.5m0 0h.5m-1.6 .1h.5m.5 0h.5m-2.3 0h.5m-1.2 .1h.5m-1.3 0h.5m2.4 .4h.5m-1.4 0h.5m-4.4 .8h.5m1.7 1.7h.5m2.6 2.7h.5m0 .1h.5m-1.3 .3h.5m-1.8 .2h.5m1 1.5h.5m-1.4 .2h.5m.3 .4h.5m-.9 .3h.5m.7 .6h.5m-.6 .6h.5m-5 .4h.5m3.8 .1h.5m-4 .1h.5m3.3 .1h.5m-2.3 .5h.5m-1 .1h.5m1.1 .1h.5m-.8 .3h.5m-4.5 .1h.5m3.4 .1h.5m-.2 .1h.5m-2.8 .2h.5m2.5 .1h.5m-2.6 .2h.5m-.3 .1h.5m.8 .1h.5m-3.2 0h.5m2.6 .3h.5m-2.7 .2h.5m-.1 .4h.5m-2.2 0h.5m1.5 .2h.5m.5 .1h.5m-1.9 .2h.5m-.9 0h.5m-2.2 0h.5m3 .3h.5m-.3 0h.5m-2.5 .1h.5m.5 0h.5m-3.5 .1h.5m2.9 .2h.5m-4.8 0h.5m4.7 .2h.5m-1.7 0h.5m-2.6 .1h.5m-.2 .1h.5m-.6 .1h.5m2.9 .2h.5m-4.5 0h.5m-1 .1h.5m-1.6 .1h.5m3.9 .1h.5m.6 .1h.5m-2.7 .1h.5m1.6 .1h.5m-2.9 0h.5m2 .1h.5m-.6 0h.5m-3.2 0h.5m-1.9 0h.5m-1 0h.5m.3 .1h.5m.5 0h.5m1.8 0h.5m-3.2 .1h.5m-2.6 0h.5m3.4 .1h.5m-2.9 .2h.5m3 0h.5m-4.6 0h.5m1.9 .1h.5m-.8 .1h.5m.1 0h.5m-4.1 0h.5m3.9 0h.5m-4.8 .1h.5m3.6 .3h.5m-3.6 .3h.5m-1.9 0h.5m.6 0h.5m1 0h.5m-1.7 .1h.5m1.2 .1h.5m-1.2 .2h.5m-1.7 0h.5m-.3 .1h.5m1.7 0h.5m.3 0h.5m-2.2 .1h.5m-3.1 .1h.5m3.2 0h.5m-4.5 .1h.5m4.2 0h.5m.8 0h.5m-5.2 .1h.5m-1 .1h.5m.6 0h.5m2.8 .1h.5m-3.6 0h.5m-2.5 .1h.5m.2 .1h.5m-1.1 0h.5m1.3 .1h.5m3.2 0h.5m-2.6 .2h.5m-.1 0h.5m-1.3 .1h.5m.5 0h.5m-1.2 0h.5m-1.5 0h.5m2.3 .1h.5m-.7 .1h.5m-1.1 0h.5m-4.5 .1h.5m3.8 .2h.5m-5.1 0h.5m0 .1h.5m.6 0h.5m1.3 .1h.5m-1.4 0h.5m1.3 0h.5m-1.9 .1h.5m1.1 0h.5m-2.5 .1h.5m-2.4 0h.5m2.7 .1h.5m.3 0h.5m-2.7 .1h.5m-3.1 .1h.5m-.2 0h.5m3.3 .1h.5m-.4 0h.5m-1.8 .1h.5m-2.4 0h.5m3.7 0h.5m-2.1 .1h.5m-.1 0h.5m-.8 0h.5m.2 0h.5m-.3 .1h.5m-1.2 0h.5m-1.2 .1h.5m.6 0h.5m-3.4 0h.5m-.4 .1h.5m3.4 .1h.5m-1.9 0h.5m-.3 0h.5m-2.1 .1h.5m1.3 0h.5m-2.5 .1h.5m-.4 .2h.5m-1.4 0h.5m2 0h.5m-.4 .1h.5m.7 0h.5m-3.3 .2h.5m.7 0h.5m-1.2 0h.5m-3.3 .1h.5m.2 0h.5m4.2 .1h.5m-5.6 .1h.5m1 0h.5m1 0h.5m-3.8 0h.5m2.4 .2h.5m-2.7 0h.5m1.5 .2h.5m-.1 .1h.5m-1.6 .1h.5m2 0h.5m-3.8 .1h.5m1.3 0h.5m0 0h.5m-2.2 .1h.5m.9 0h.5m-3.7 0h.5m4.8 0h.5m-.8 .1h.5m-4.8 0h.5m0 0h.5m0 .1h.5m.3 .1h.5m-1 .1h.5m2.2 0h.5m-2.4 .2h.5m1.5 0h.5m-2 0h.5m-4 .1h.5m-.3 0h.5m-.6 .1h.5m1.7 0h.5m-2.2 0h.5m1.2 .1h.5m-1 0h.5m-1 .1h.5m.9 0h.5m.1 0h.5m-.3 .1h.5m1.7 0h.5m-4.1 .1h.5m-1.3 0h.5m-1.5 0h.5m.6 .1h.5m-1.2 .1h.5m.2 0h.5m.2 0h.5m-1.9 .1h.5m1.2 .1h.5m0 0h.5m-.2 0h.5m-.5 .1h.5m0 0h.5m.3 .1h.5m-3.9 0h.5m1.7 0h.5m-2.9 .1h.5m1 0h.5m-2.7 .1h.5m1 0h.5m-1.2 .1h.5m.4 0h.5m-.8 0h.5m1.3 .1h.5m-3.2 0h.5m2.4 .1h.5m.8 .1h.5m.3 .3h.5m-5.5 0h.5m2.2 .1h.5m.9 0h.5m-3.1 0h.5m.8 0h.5m-.4 .1h.5m1 0h.5m-3.9 .1h.5m-2 0h.5m.2 0h.5m1.3 .1h.5m-1.4 0h.5m-1.7 .1h.5m3.5 0h.5m.7 .2h.5m-5 .2h.5m-.7 .1h.5m4.1 0h.5m-2.8 .2h.5m-1.4 .1h.5m1.6 0h.5m-5.1 0h.5m1.7 0h.5m.5 .1h.5m.8 .1h.5m-2.8 0h.5m2.1 .2h.5m-2 .2h.5m-.4 0h.5m-1.6 0h.5m-.6 0h.5m.6 0h.5m-.2 .2h.5m-.6 .1h.5m-.6 0h.5m-3 0h.5m2.9 .1h.5m-4.9 .1h.5m.2 .1h.5m1 0h.5m-1.6 0h.5m2.4 .1h.5m-3.4 0h.5m1.3 0h.5m2.5 .3h.5m-6.3 .1h.5m.2 .1h.5m.1 0h.5m1.3 .1h.5m-.1 0h.5m-3.8 .7h.5m.8 .1h.5m-1.1 .1h.5m2 0h.5m-1.6 .1h.5m-2.2 0h.5m-1.2 .1h.5m.3 0h.5m-.3 .3h.5m-.9 .2h.5m.7 .2h.5m-1.1 .4h.5m-.8 .1h.5m.4 .1h.5m-2.2 .1h.5m-.4 .2h.5m1.2 .3h.5m.1 0h.5m-.4 .2h.5m1.6 .4h.5m-4.7 .1h.5m-.3 .1h.5m1.4 0h.5m-.7 .1h.5m-2 0h.5m-.6 .1h.5m0 .8h.5m-.2 .3h.5m-.6 1.1h.5m.5 .3h.5m-1.6 .8h.5m3.6 .6h.5m-5.8 .2h.5m1.4 .5h.5m3.8-44.4h.5m3.1 .5h.5m.1 .3h.5m0 .7h.5m-2.8 .2h.5m1.2 0h.5m-3.5 .3h.5m1.9 0h.5m-.6 0h.5m-1.3 .4h.5m1.6 0h.5m-3.9 0h.5m.7 .1h.5m-2.3 0h.5m1.9 .2h.5m-2 0h.5m.3 .1h.5m1.9 .1h.5m-1.5 0h.5m-1.6 .1h.5m.1 0h.5m.7 0h.5m-4.1 .1h.5m4 0h.5m-1.5 0h.5m-.5 0h.5m-2.9 0h.5m1 0h.5m-4.4 .1h.5m3.9 .1h.5m-.1 .1h.5m-5.3 0h.5m-.1 .1h.5m-.1 0h.5m2.7 0h.5m.3 .1h.5m-2.8 0h.5m.6 0h.5m1.2 0h.5m-4 0h.5m1 .1h.5m1.5 .1h.5m-2 0h.5m-1.7 .1h.5m.3 0h.5m-1.7 .1h.5m-1 0h.5m-1.4 0h.5m3.2 .1h.5m-2.1 0h.5m-1.5 0h.5m2 .3h.5m.7 0h.5m-3 .1h.5m1.3 0h.5m-2.8 .1h.5m-1.4 0h.5m1.5 .1h.5m.8 0h.5m-3.4 0h.5m3.1 .1h.5m-3.8 0h.5m-.1 .1h.5m-.9 0h.5m-.8 .1h.5m3 .1h.5m-5.6 0h.5m4.3 0h.5m-1.2 0h.5m-3.6 .1h.5m.3 0h.5m-2.2 .1h.5m2.4 0h.5m-1.6 .1h.5m1.1 0h.5m-3.6 0h.5m2.9 .1h.5m-4.3 0h.5m1.2 .1h.5m-1.6 0h.5m2.7 .1h.5m-1.3 0h.5m-1.4 0h.5m-.2 .1h.5m2.5 .1h.5m-4.8 0h.5m2.4 .1h.5m-1.5 0h.5m-2.9 .2h.5m3.7 .3h.5m-3.8 0h.5m-1 .1h.5m-2 0h.5m.4 0h.5m0 .1h.5m3.5 0h.5m-5.9 .1h.5m5 .2h.5m-5.9 0h.5m.3 .1h.5m1.5 .1h.5m-1.9 .8h.5m.7 .1h.5m-.8 .6h.5m-1.2 .3h.5m2.8 .1h.5m-4.5 0h.5m4.3 .1h.5m-2.6 .9h.5m-2.8 .8h.5m.8 .3h.5m-1.9 1h.5m-.7 .1h.5m-.5 .3h.5m3.8 .1h.5m-1.1 .3h.5m-3.8 .1h.5m1.5 .5h.5m1.5 .1h.5m-.9 .1h.5m-4.2 .5h.5m2.4 .2h.5m-2.4 .1h.5m0 .4h.5m.8 .1h.5m-4 0h.5m4.5 .1h.5m-2.1 .1h.5m-1.6 0h.5m-3.2 .1h.5m-.6 .1h.5m3.7 .4h.5m-4.9 0h.5m1.5 .1h.5m-2.3 .1h.5m-.2 0h.5m4 .3h.5m-4.1 0h.5m-1.4 .4h.5m2.7 .3h.5m-3.6 .1h.5m4.6 .3h.5m-5.4 .1h.5m.2 .2h.5m3.5 .2h.5m-5.5 .1h.5m3.5 .2h.5m-3.5 0h.5m1.7 0h.5m.8 .1h.5m-3.6 0h.5m-.2 .1h.5m-2.7 .3h.5m1.1 .2h.5m-.2 .1h.5m0 .1h.5m1.2 .4h.5m-1.1 0h.5m-1.8 .3h.5m.5 0h.5m.1 0h.5m-.9 .1h.5m-2.9 .4h.5m3.7 0h.5m-4.9 .1h.5m.3 .1h.5m2.4 0h.5m-1.5 .1h.5m-3.5 .3h.5m0 .2h.5m0 .1h.5m2.7 0h.5m-4.4 .1h.5m1.9 .1h.5m-.7 0h.5m-3.1 0h.5m1.3 .1h.5m-2.1 0h.5m-.8 .1h.5m3.2 0h.5m.6 .1h.5m-1.8 .2h.5m-.2 .1h.5m-.8 0h.5m-.6 .1h.5m-2.7 .1h.5m-1.2 .2h.5m3.4 .1h.5m-4.2 0h.5m.6 .1h.5m.4 0h.5m-1.6 0h.5m-1.6 .1h.5m1.3 .1h.5m-1.6 .4h.5m.7 .1h.5m-1.4 0h.5m-1.5 0h.5m0 .1h.5m-.3 .1h.5m.1 0h.5m-1.8 0h.5m1.3 .1h.5m1.7 0h.5m-4.2 0h.5m4.4 .1h.5m-4.4 .1h.5m3.1 .3h.5m-5.4 .1h.5m-.2 .1h.5m-1.3 .3h.5m2.2 0h.5m2.4 .1h.5m-1.9 0h.5m-3.3 .1h.5m.2 .1h.5m2 0h.5m-3.4 .2h.5m-1.1 0h.5m1.4 .8h.5m2 0h.5m-2.9 .1h.5m-3.6 .1h.5m.2 .1h.5m.9 .1h.5m1.9 0h.5m-4.7 .4h.5m3.3 .1h.5m-3.7 .1h.5m-1 .1h.5m1.1 .1h.5m-1.3 0h.5m-.4 .1h.5m-.8 .1h.5m.8 .1h.5m1.2 0h.5m-3.8 .2h.5m.2 0h.5m-1 .3h.5m3.3 .1h.5m-3.9 .3h.5m.1 .1h.5m.7 .8h.5m-3.6 .4h.5m-.3 .1h.5m-.5 .1h.5m.1 .2h.5m.5 0h.5m-.5 0h.5m.2 0h.5m-3.2 .1h.5m1.4 .2h.5m-2.1 .1h.5m-.3 .1h.5m-.1 0h.5m1.2 .5h.5m-2.9 .2h.5m.2 0h.5m-1.3 .3h.5m0 .3h.5m2 .1h.5m-2.6 .8h.5m0 .2h.5m-1.2 1.1h.5m-.2 .7h.5m-.7 .3h.5m1.3 .8h.5m-1.1 2.4h.5m-1.8 1.1h.5m1.6 1.7h.5m-.5 8.6h.5m5.4-51.2h.5m-.7 1h.5m.9 .7h.5m-3.6 .2h.5m.1 .1h.5m-1.7 .1h.5m3.2 .2h.5m-2.2 0h.5m2.7 .3h.5m-5.2 0h.5m3 .2h.5m-.8 0h.5m-2.5 .2h.5m2.4 0h.5m-2.6 0h.5m0 .1h.5m.6 0h.5m-2.4 .3h.5m-.6 .1h.5m.7 .1h.5m-3.4 0h.5m1 0h.5m-.9 .2h.5m2.7 0h.5m-4.2 0h.5m1.5 .1h.5m-2.7 .1h.5m1.2 .1h.5m.9 0h.5m-.6 0h.5m-2.9 .1h.5m-1.7 0h.5m2.7 .1h.5m-.2 .1h.5m-4.1 .2h.5m3 0h.5m1 0h.5m-1.5 .2h.5m-1.1 0h.5m1.3 0h.5m-3.3 .1h.5m.4 0h.5m-1.7 .1h.5m0 0h.5m-.8 .1h.5m.4 .1h.5m1.4 .1h.5m-3.7 0h.5m-1.4 0h.5m1.9 .1h.5m.8 .1h.5m-5.7 0h.5m5.3 0h.5m-.5 .4h.5m-4.6 .1h.5m.1 .2h.5m1 .2h.5m-.5 .3h.5m-3.8 0h.5m-.2 .3h.5m.4 .5h.5m-.2 .2h.5m-.2 .3h.5m-.7 .2h.5m.1 2.4h.5m-3 .4h.5m2.8 .3h.5m-2.3 .3h.5m2 1.2h.5m-3.5 .4h.5m1.8 .1h.5m.1 .3h.5m-2.6 .3h.5m-.2 .6h.5m-.5 .1h.5m-1.2 .5h.5m1.8 .1h.5m-1.8 .4h.5m2 0h.5m-3.7 .1h.5m1.5 .6h.5m-3.7 .1h.5m4.4 .9h.5m-2.6 .2h.5m-2.7 0h.5m-.8 .3h.5m-.5 .7h.5m1.2 .1h.5m-3.1 .1h.5m2.5 1.5h.5m-2.9 0h.5m-1.1 .1h.5m.5 .1h.5m-.4 .3h.5m-1.6 .4h.5m1 .6h.5m2 .5h.5m-1.2 1.2h.5m-2.5 1.1h.5m-.9 .3h.5m.1 1.4h.5m3.8 .9h.5m-4.2 1.2h.5m1.5 .5h.5m-2.3 .3h.5m-2.7 .4h.5m1.3 2.7h.5m.6 1.8h.5m-.5 2.2h.5m8.1-36.4h.5m-5.4 .1h.5m1.7 .4h.5m.4 .4h.5m-2.6 .3h.5m-.3 .5h.5m.9 1.1h.5m-3.7 .3h.5m0 0h.5m-.4 0h.5m.9 0h.5m1.8 .1h.5m-3.3 0h.5m-1.7 .1h.5m1 0h.5m.9 .3h.5m-2.9 .1h.5m-.9 0h.5m-1 1.3h.5m.9 .5h.5m-.7 0h.5m2 .2h.5m-3.3 .3h.5m1.4 .3h.5m-2.8 7.7h.5m.8 4.1h.5m-.5 2.4h.5m-2.1 1.7h.5m-.1 1.1h.5m4.8 2.3h.5m-2.5 .1h.5m7-12.8h.5m-1.4 5h.5m-4.2 3h.5" stroke="#3348ff" stroke-width="0.55"/><path d="M60.8 751h.6m-2.4 .6h.6m8.2-4.6h.6m-.3 .3h.6m-5.1 .1h.6m3.6 .4h.6m0 0h.6m-3.9 .7h.6m2 1h.6m-2.9 .6h.6m-.2 .2h.6m-2.7 1.1h.6m2.3 0h.6m6.6-9.6h.6m-2.6 3.1h.6m.2 .1h.6m1.5 0h.6m-4.9 .4h.6m2.7 .5h.6m.1 .3h.6m-.6 .1h.6m-3.9 .1h.6m2 .1h.6m-3.9 0h.6m3.6 .3h.6m-.2 .1h.6m-1 .1h.6m-4.6 .3h.6m2.3 .4h.6m-4 .1h.6m-1.2 0h.6m.5 .2h.6m1.1 0h.6m-1.7 .4h.6m2.6 .2h.6m-5.1 .5h.6m2.5 .8h.6m-3.8 .3h.6m10.2-7.5h.6m-.4 0h.6m-1.8 .8h.6m-4.4 .1h.6m4.1 0h.6m-2.7 .4h.6m.9 .3h.6m-2.1 .2h.6m1.2 0h.6m-3.2 .1h.6m-.5 .1h.6m-1.7 .1h.6m2 .6h.6m-4.8 0h.6m3.6 .1h.6m-.9 0h.6m-1.7 .1h.6m-2.2 0h.6m-.7 0h.6m2.9 0h.6m-.6 .1h.6m.2 .1h.6m-2.4 0h.6m.7 0h.6m-3.6 .1h.6m.4 0h.6m-.9 .1h.6m-.2 0h.6m-2.8 0h.6m3.9 0h.6m-2.5 .1h.6m-.2 0h.6m.7 0h.6m-3.6 0h.6m2.3 0h.6m-3.2 0h.6m-.1 0h.6m-2.9 0h.6m3.9 .1h.6m-1.4 .1h.6m-3.8 0h.6m1.8 .1h.6m.5 .1h.6m-.8 0h.6m-1.7 .1h.6m-2.4 .1h.6m1.4 0h.6m-3.2 .1h.6m3.4 0h.6m-2 .1h.6m-3 0h.6m1.5 .1h.6m1.4 .1h.6m-1.1 .1h.6m-3 .1h.6m2.7 0h.6m-5.9 .1h.6m2.4 0h.6m-2.9 0h.6m3.9 .1h.6m-2 0h.6m-1.2 0h.6m.1 .1h.6m-4.2 .1h.6m.5 .1h.6m2.3 0h.6m-3.3 .1h.6m-.3 0h.6m-1.3 .1h.6m-.3 0h.6m.7 .1h.6m0 0h.6m-.3 .2h.6m-.7 .1h.6m-2.6 0h.6m-.2 .1h.6m-1.4 .2h.6m2.4 .2h.6m-.9 .4h.6m-1.7 .5h.6m-3.6 .5h.6m7.4-8.4h.6m-1.7 1h.6m-.9 0h.6m.6 1.4h.6m-.8 .1h.6m.1 .2h.6m-1.4 1.4h.6m-1.1 .2h.6m-.2 0h.6m-1.1 .1h.6m0 .2h.6m-2.1 .3h.6m-.3 1.8h.6" stroke="#1414d0" stroke-width="0.7"/><g filter="url(#db2)"><ellipse cx="61.2" cy="775.7" rx="9.4" ry="3.6" fill="#1c30f0" transform="rotate(-50 61.2 775.7)"/><ellipse cx="61.2" cy="775.7" rx="7.3" ry="2.8" fill="#18a0f0" transform="rotate(-50 61.2 775.7)"/><ellipse cx="61.2" cy="775.7" rx="5.2" ry="2" fill="#28d29a" transform="rotate(-50 61.2 775.7)"/><ellipse cx="61.2" cy="775.7" rx="3.1" ry="1.2" fill="#8ee040" transform="rotate(-50 61.2 775.7)"/><ellipse cx="61.2" cy="775.7" rx="1.4" ry="0.7" fill="#e0e030" transform="rotate(-50 61.2 775.7)"/></g></g><line x1="74.5" y1="723.4" x2="74.5" y2="790.5" stroke="#666" stroke-width="0.8"/><line x1="43" y1="757.5" x2="110.4" y2="757.5" stroke="#666" stroke-width="0.8"/><line x1="44.5" y1="790.5" x2="44.5" y2="792" stroke="#888" stroke-width="0.4"/><text x="44.5" y="795.3" font-size="3.2" text-anchor="middle" fill="#777">10</text><line x1="41.5" y1="789" x2="43" y2="789" stroke="#888" stroke-width="0.4"/><text x="40.8" y="790.1" font-size="3.2" text-anchor="end" fill="#777">10</text><line x1="57.4" y1="790.5" x2="57.4" y2="792" stroke="#888" stroke-width="0.4"/><text x="57.4" y="795.3" font-size="3.2" text-anchor="middle" fill="#777">10</text><line x1="41.5" y1="776.2" x2="43" y2="776.2" stroke="#888" stroke-width="0.4"/><text x="40.8" y="777.3" font-size="3.2" text-anchor="end" fill="#777">10</text><line x1="70.3" y1="790.5" x2="70.3" y2="792" stroke="#888" stroke-width="0.4"/><text x="70.3" y="795.3" font-size="3.2" text-anchor="middle" fill="#777">10</text><line x1="41.5" y1="763.4" x2="43" y2="763.4" stroke="#888" stroke-width="0.4"/><text x="40.8" y="764.5" font-size="3.2" text-anchor="end" fill="#777">10</text><line x1="83.1" y1="790.5" x2="83.1" y2="792" stroke="#888" stroke-width="0.4"/><text x="83.1" y="795.3" font-size="3.2" text-anchor="middle" fill="#777">10</text><line x1="41.5" y1="750.5" x2="43" y2="750.5" stroke="#888" stroke-width="0.4"/><text x="40.8" y="751.6" font-size="3.2" text-anchor="end" fill="#777">10</text><line x1="96" y1="790.5" x2="96" y2="792" stroke="#888" stroke-width="0.4"/><text x="96" y="795.3" font-size="3.2" text-anchor="middle" fill="#777">10</text><line x1="41.5" y1="737.7" x2="43" y2="737.7" stroke="#888" stroke-width="0.4"/><text x="40.8" y="738.8" font-size="3.2" text-anchor="end" fill="#777">10</text><line x1="108.9" y1="790.5" x2="108.9" y2="792" stroke="#888" stroke-width="0.4"/><text x="108.9" y="795.3" font-size="3.2" text-anchor="middle" fill="#777">10</text><line x1="41.5" y1="724.9" x2="43" y2="724.9" stroke="#888" stroke-width="0.4"/><text x="40.8" y="726" font-size="3.2" text-anchor="end" fill="#777">10</text><text x="110" y="731" font-size="7.8" text-anchor="end">6.56%</text><text x="76.4" y="802.9" font-size="8.6" text-anchor="middle">FITC-A</text><text x="35.9" y="757.4" font-size="8.4" text-anchor="middle" transform="rotate(-90 35.9 757.4)">PI-A</text>
<rect x="138.2" y="723.4" width="67.4" height="67.1" fill="#fff" stroke="#666" stroke-width="0.6"/><clipPath id="cp201"><rect x="138.2" y="723.4" width="67.4" height="67.1"/></clipPath><g clip-path="url(#cp201)"><g filter="url(#db)"><ellipse cx="157.7" cy="775.7" rx="13.7" ry="6.2" fill="#3a55ff" fill-opacity="0.6" transform="rotate(-48 157.7 775.7)"/><ellipse cx="173.2" cy="745.5" rx="6.2" ry="2.6" fill="#2238f0" fill-opacity="0.3" transform="rotate(-27 173.2 745.5)"/><ellipse cx="175.9" cy="744.2" rx="3.1" ry="2.1" fill="#2238f0" fill-opacity="0.6" transform="rotate(-20 175.9 744.2)"/></g><path d="M139.6 756.3h.5m-.9 29.8h.5m.3 .5h.5m.1 .1h.5m-2.9 1.7h.5m-.4 .5h.5m1.8 3.6h.5m5.3-54.1h.5m-5.6 24.6h.5m2.8 2.2h.5m-.2 8h.5m-.6 3.3h.5m-.3 .7h.5m.6 .9h.5m-3.1 .5h.5m2.7 .6h.5m-1.2 .1h.5m-1 1.3h.5m-1.7 1.9h.5m.8 0h.5m-1.1 .6h.5m.8 0h.5m0 1.5h.5m-1.6 .1h.5m-.1 .4h.5m-1 0h.5m.3 .9h.5m0 1.1h.5m-2.2 0h.5m-4.6 .4h.5m4.6 0h.5m-.2 .7h.5m-.7 0h.5m-.6 .2h.5m-5 .6h.5m1.6 1h.5m1.9 .4h.5m-3.9 .1h.5m3.6 .8h.5m-3.6 .1h.5m-.7 .5h.5m1.7 .2h.5m-3.6 .1h.5m1.3 .4h.5m7.9-56.7h.5m-4.5 22h.5m-2.2 8.7h.5m3.9 1h.5m-.4 2.8h.5m-3.3 .1h.5m2.5 1.6h.5m.5 .2h.5m-1.2 .2h.5m-2.6 .2h.5m1.3 .2h.5m-1.6 .6h.5m-1 .1h.5m1.9 .1h.5m-4.4 0h.5m3.4 0h.5m-1.5 .2h.5m.6 .1h.5m-1 .2h.5m-.9 0h.5m-1.6 .1h.5m.2 0h.5m-3.7 0h.5m.7 .3h.5m3 .1h.5m-2 .1h.5m-1 .2h.5m-3 .1h.5m3.8 .1h.5m-5.2 .1h.5m4.4 .2h.5m-3.6 .1h.5m.4 .3h.5m-3.2 .3h.5m2.4 0h.5m-2.9 0h.5m-.9 .2h.5m.8 .1h.5m.8 0h.5m-3.1 .2h.5m2.9 .2h.5m0 0h.5m-3.2 0h.5m1.8 .3h.5m.7 .2h.5m-.6 0h.5m-3.1 0h.5m2 0h.5m-1.7 .1h.5m.1 .1h.5m-2.3 .2h.5m.5 0h.5m-2.5 .1h.5m-2.2 .2h.5m4.3 .1h.5m-.8 .1h.5m-.1 .1h.5m-1.8 .1h.5m-.1 .3h.5m-4 .1h.5m2.4 .1h.5m.9 0h.5m-1.2 0h.5m-2.3 .5h.5m1.7 .1h.5m-3.8 0h.5m3.1 .1h.5m-.7 0h.5m-2.6 .3h.5m1.2 .1h.5m-3 0h.5m.3 .1h.5m-.9 0h.5m2.7 .2h.5m-3.5 .1h.5m-2.1 .1h.5m.1 0h.5m-.3 0h.5m-2.1 0h.5m.3 .1h.5m2.7 .1h.5m-.2 0h.5m-.6 0h.5m-1.4 .1h.5m1.2 0h.5m-3 0h.5m.4 .1h.5m1.2 0h.5m-1.3 .2h.5m-3.7 .1h.5m.6 .1h.5m1.4 0h.5m.8 .1h.5m-1.7 .1h.5m.8 0h.5m-1.6 .2h.5m-3.8 0h.5m1 0h.5m-.3 0h.5m-3.3 0h.5m3 .1h.5m-2.4 .3h.5m-.2 0h.5m1.9 .4h.5m-3 0h.5m.2 0h.5m1.2 .1h.5m-2.4 0h.5m1.9 .2h.5m-3.6 0h.5m-1.7 .1h.5m2.9 0h.5m-.5 0h.5m.8 .1h.5m-3.4 0h.5m-1.8 0h.5m4.1 .1h.5m-4.6 0h.5m.5 .1h.5m-1.3 .1h.5m3.2 .1h.5m-5 .1h.5m-1.5 0h.5m4.1 0h.5m-2 .1h.5m1.8 .1h.5m-5.8 0h.5m-.8 .4h.5m4.3 .1h.5m-2 .2h.5m-1.4 0h.5m1.8 0h.5m-2.9 .1h.5m-1.6 .1h.5m1.7 .2h.5m1.3 .3h.5m-1.3 .1h.5m-.8 0h.5m-3.2 .1h.5m3 0h.5m-1.1 0h.5m-2.8 .2h.5m-1.6 0h.5m4.3 .3h.5m-5.4 0h.5m2.6 .1h.5m1.2 .1h.5m-1.8 .2h.5m-2.2 .2h.5m2.4 .3h.5m-4.4 .6h.5m-.6 .4h.5m.5 .2h.5m-.7 .1h.5m-.2 .2h.5m1 .2h.5m-1.8 .1h.5m1.5 .1h.5m-3.3 .1h.5m-1.3 0h.5m-1.7 .5h.5m.7 .3h.5m3.5 .9h.5m-.6 .1h.5m-2.1 0h.5m-2.2 2h.5m1.7 .2h.5m.9 .7h.5m-5.2 2h.5m10.6-50.4h.5m-.7 3.1h.5m-2.4 10.2h.5m1.4 1.6h.5m-2.5 .7h.5m1.6 .2h.5m-3.7 .9h.5m2.7 .2h.5m-4.4 .3h.5m.4 0h.5m-.7 2.6h.5m2 0h.5m-1.4 .3h.5m-1.8 .1h.5m-.5 .1h.5m-1.1 .2h.5m-1.9 .3h.5m2.3 .1h.5m-2.1 .5h.5m-2 .3h.5m2.6 .6h.5m.7 .2h.5m-1.5 .1h.5m-.1 0h.5m-4.5 .1h.5m2.8 .2h.5m.8 .1h.5m-4.8 .3h.5m1.7 .3h.5m1.1 .2h.5m.9 0h.5m-.6 .1h.5m-3.9 .4h.5m.2 0h.5m1.8 .4h.5m-5.2 .1h.5m3.9 .1h.5m0 0h.5m-1.9 .3h.5m-.9 0h.5m.7 .1h.5m-.7 0h.5m-.1 .1h.5m-5 .1h.5m2.3 .3h.5m1.5 0h.5m-3.5 0h.5m2.8 0h.5m-2.8 .1h.5m1.4 .1h.5m-3.1 .1h.5m1.7 .1h.5m-1.5 .1h.5m-1.2 .1h.5m1.7 0h.5m-3.6 0h.5m-.9 .1h.5m2.5 0h.5m-2.2 .1h.5m-3.1 0h.5m2.2 .1h.5m-2.1 0h.5m-1.4 0h.5m3.7 .1h.5m-3.1 0h.5m2.4 .1h.5m-2 0h.5m0 0h.5m-.9 .1h.5m-.3 .2h.5m-2 .1h.5m-1.3 0h.5m-.6 .1h.5m1.9 0h.5m.4 0h.5m-1.7 0h.5m-1.8 .2h.5m.8 .1h.5m-.5 0h.5m-2.5 .1h.5m2.7 .1h.5m-.9 0h.5m-1.1 0h.5m1.3 .1h.5m-2.4 0h.5m.5 0h.5m-4.9 .2h.5m2.4 .1h.5m-.9 0h.5m2 .1h.5m-3 .1h.5m1.5 .1h.5m-2.6 0h.5m2.6 0h.5m-3 .1h.5m-1 0h.5m-2.8 0h.5m2.1 .1h.5m1 0h.5m.7 0h.5m-3.8 .1h.5m.3 0h.5m-2.6 .1h.5m3.1 0h.5m-2.4 .1h.5m-1.7 0h.5m3.5 0h.5m-4.6 .1h.5m3.7 0h.5m-5.8 .1h.5m-.3 0h.5m.1 .1h.5m3.8 0h.5m-5.8 0h.5m.8 .1h.5m2.9 .1h.5m-.8 0h.5m-.7 0h.5m-4.8 .1h.5m-.1 0h.5m4 .1h.5m-3 0h.5m2.2 0h.5m-2.9 0h.5m2.1 .1h.5m-5.5 0h.5m2.5 0h.5m.4 0h.5m.7 .1h.5m-5.9 .1h.5m4.3 0h.5m-.5 0h.5m-.4 0h.5m-2.2 0h.5m-3.8 .1h.5m5 0h.5m-1.3 .1h.5m-4.8 0h.5m4 0h.5m-3.9 0h.5m1 .1h.5m-2.7 0h.5m.3 0h.5m1.5 .1h.5m-1.3 0h.5m-2.1 0h.5m3.1 0h.5m.1 0h.5m-1.5 .2h.5m-4.4 .1h.5m3.2 0h.5m-.1 0h.5m-.8 .1h.5m-1.6 .1h.5m-.9 0h.5m.9 0h.5m-4.8 0h.5m1.8 .1h.5m-1.9 0h.5m2.9 0h.5m-4.6 .1h.5m1.4 0h.5m2.9 0h.5m-2.1 0h.5m-.4 0h.5m-2.5 .1h.5m-.3 0h.5m2.8 .1h.5m-.6 .1h.5m-3.8 0h.5m1.5 0h.5m-3 0h.5m3.6 .1h.5m-3 0h.5m1.9 0h.5m-2.1 .1h.5m-3.6 0h.5m.8 .1h.5m2.7 0h.5m-.3 0h.5m-3.7 .1h.5m2.4 0h.5m-4.4 .1h.5m1.7 0h.5m-1.8 .1h.5m1.8 0h.5m-3.3 0h.5m3.3 .1h.5m-2.6 .1h.5m-2.7 0h.5m1.5 0h.5m-3 0h.5m2 .1h.5m1.6 .1h.5m-3.3 0h.5m1.9 0h.5m-3.7 0h.5m-.2 0h.5m-1.2 0h.5m3.6 0h.5m-2.6 .1h.5m-.2 0h.5m-.8 0h.5m0 .1h.5m-3.8 0h.5m.4 .1h.5m2.1 0h.5m-4.3 0h.5m-.6 0h.5m1.6 .1h.5m-.7 0h.5m-2.8 .1h.5m1.2 0h.5m1.3 0h.5m1.8 .1h.5m-2.6 0h.5m-4.2 0h.5m5.1 0h.5m-3 .1h.5m-.7 .1h.5m-1.6 0h.5m3.3 0h.5m-1.7 0h.5m-3.8 .1h.5m-.9 .1h.5m2.4 0h.5m-2.2 0h.5m.9 .1h.5m-2.7 0h.5m1.2 0h.5m-2.8 0h.5m3 0h.5m1.1 0h.5m-1.8 .1h.5m-3.6 0h.5m3.8 .1h.5m-3.4 .1h.5m-.9 0h.5m.6 .1h.5m-3.5 0h.5m2 0h.5m-3.1 .1h.5m4 0h.5m-.1 0h.5m-2.3 0h.5m.8 .2h.5m-4.5 0h.5m2.2 0h.5m-.2 .2h.5m-2.4 0h.5m.7 .1h.5m-2.8 0h.5m4.1 0h.5m-4.7 .1h.5m.8 0h.5m.6 .1h.5m-.9 0h.5m-1.1 .1h.5m-1 0h.5m2.9 0h.5m-2.4 0h.5m-2.8 .1h.5m3.1 0h.5m-1.9 .1h.5m-2.5 0h.5m-1.3 .1h.5m1.6 .1h.5m-1.2 0h.5m2 .1h.5m-.6 0h.5m-3.5 0h.5m-.8 0h.5m3 0h.5m-1.5 .1h.5m.8 0h.5m-5.3 .1h.5m3.1 0h.5m.1 0h.5m-3.4 0h.5m1.6 0h.5m-3.5 .1h.5m.9 0h.5m-1.9 .1h.5m2.7 0h.5m-2.2 0h.5m1.6 .1h.5m.5 .1h.5m.4 0h.5m-2.9 0h.5m-3.6 .3h.5m-.8 0h.5m4.7 .1h.5m.2 .1h.5m-.8 0h.5m-6 0h.5m.4 .1h.5m-1.1 0h.5m2.4 0h.5m-.5 0h.5m.4 .2h.5m.2 0h.5m-2.4 .2h.5m1.1 0h.5m-4.3 .2h.5m.8 0h.5m.4 .1h.5m2.3 0h.5m-5.4 .2h.5m3.7 .1h.5m-.1 .3h.5m-.3 .1h.5m-3.5 .1h.5m-.3 0h.5m-.8 0h.5m2.6 .2h.5m-5.5 .3h.5m-.3 0h.5m.7 .1h.5m-1.8 0h.5m3.6 .1h.5m-3.8 .1h.5m.6 .4h.5m-2.8 0h.5m3.4 .3h.5m-.4 .1h.5m-2 0h.5m-2.5 .1h.5m.5 0h.5m-2.2 .1h.5m4.2 0h.5m-5.4 0h.5m4.9 .1h.5m-1 .1h.5m-4.7 .2h.5m-.3 0h.5m-.1 0h.5m-.7 .1h.5m1.2 .1h.5m-1.5 .2h.5m-1.1 .2h.5m2.1 .3h.5m-.4 .3h.5m-3.4 1.4h.5m-.2 3.4h.5m9-46.7h.5m-4.6 .9h.5m4.4 3.5h.5m-.5 1.6h.5m-1.2 .6h.5m-.1 .5h.5m-1.8 1h.5m0 2.1h.5m-.3 3.2h.5m.2 .6h.5m-3 1.1h.5m1.7 .2h.5m.1 0h.5m-.9 .9h.5m-5.6 .2h.5m-.3 0h.5m4.5 .6h.5m-.9 0h.5m-4.3 0h.5m2.2 .7h.5m-4.1 .1h.5m5 .1h.5m-.6 0h.5m-4.3 .1h.5m-1.7 .3h.5m.3 0h.5m-1.2 .3h.5m4 .3h.5m-1.1 0h.5m-3.3 .1h.5m2.2 .2h.5m-.6 .2h.5m-3.4 .3h.5m1.4 .2h.5m1.4 .1h.5m-.9 .3h.5m-.9 .1h.5m-3.2 0h.5m2 0h.5m-1.3 0h.5m0 .3h.5m-1.5 .2h.5m.2 0h.5m1.6 .1h.5m-4.5 .1h.5m1.3 .1h.5m.4 0h.5m-4.9 .6h.5m4.5 0h.5m-4.7 .1h.5m-1 .1h.5m2.8 0h.5m-2.7 .3h.5m2.6 .1h.5m-4.8 .2h.5m.1 .1h.5m4 .1h.5m-3.8 .1h.5m-2.6 .1h.5m2.6 0h.5m-2 .2h.5m0 .3h.5m.3 .1h.5m2.2 0h.5m-.6 0h.5m-2.1 0h.5m-2.7 .1h.5m-.7 .1h.5m-.6 0h.5m.3 .1h.5m2.5 .2h.5m-5.4 .1h.5m3.8 0h.5m.4 0h.5m-3.4 .2h.5m-2.1 0h.5m4.1 .1h.5m-.5 0h.5m-4.4 0h.5m-.4 .1h.5m-.5 .1h.5m2.7 .1h.5m-1.1 .2h.5m-.5 0h.5m-2.1 .2h.5m2 0h.5m-3.4 0h.5m1.7 .1h.5m-3.4 0h.5m2.6 0h.5m-.2 0h.5m-2.8 .1h.5m-1.9 0h.5m-1.8 0h.5m-.6 .1h.5m-.5 0h.5m1.6 .1h.5m-2.2 0h.5m2.3 0h.5m2 .1h.5m-1 0h.5m-4.1 .1h.5m-.8 .1h.5m3 .1h.5m-.2 0h.5m-1.3 .1h.5m-1.5 0h.5m-.8 .1h.5m-.3 0h.5m1.5 0h.5m-3 .1h.5m-1.9 .1h.5m2.5 .1h.5m.5 0h.5m-2.8 .1h.5m-2.2 0h.5m-1.2 0h.5m3.5 0h.5m-3.2 .1h.5m1.7 .1h.5m-2.2 0h.5m-2.6 .1h.5m.8 0h.5m2.5 0h.5m-.3 .1h.5m-1.7 0h.5m-3.8 0h.5m.9 0h.5m1.8 .1h.5m-1.8 0h.5m-3.3 0h.5m2.2 0h.5m1.2 0h.5m-2.6 0h.5m-2.1 0h.5m4.4 0h.5m-5.9 0h.5m.7 .1h.5m-1.4 0h.5m2.1 .1h.5m-2.1 .1h.5m-1.8 .1h.5m.1 0h.5m-1.3 .2h.5m.7 0h.5m2.8 .1h.5m.1 0h.5m-2.4 .1h.5m-.1 .1h.5m-2.3 .1h.5m1.8 .1h.5m-4.2 0h.5m3.9 .1h.5m-5.3 0h.5m-.3 0h.5m.1 .1h.5m4.4 0h.5m-2.2 0h.5m1.3 0h.5m-2.3 0h.5m-.9 0h.5m-2.6 0h.5m-.2 .1h.5m-2.1 0h.5m.5 .1h.5m2.3 0h.5m0 .4h.5m-3.3 .1h.5m3.5 0h.5m-4.3 0h.5m-.4 .1h.5m-.8 0h.5m.7 .1h.5m1.6 0h.5m-3.7 .1h.5m2.5 0h.5m-4.1 .1h.5m2 .1h.5m-3.3 0h.5m.4 .1h.5m.5 0h.5m-2.1 0h.5m-.1 0h.5m-.1 .1h.5m-1.6 0h.5m2.6 0h.5m-.7 .2h.5m.4 0h.5m-1.1 .1h.5m-1 0h.5m-2 .1h.5m.8 0h.5m.8 .1h.5m-3.1 0h.5m-.4 .1h.5m-2.5 0h.5m4.1 .1h.5m-1.2 0h.5m-4.3 0h.5m0 .1h.5m-.5 .2h.5m-1.1 .1h.5m-.5 0h.5m.8 0h.5m2.1 0h.5m-3.8 .1h.5m.8 0h.5m-.9 0h.5m-.3 0h.5m-.1 .1h.5m-2.6 .1h.5m3.9 0h.5m-5.1 .1h.5m4.2 0h.5m-.6 .1h.5m-1.5 0h.5m-3.1 .1h.5m3.4 .1h.5m-3.3 0h.5m.5 0h.5m-3.4 .1h.5m.7 0h.5m-1.2 .1h.5m-1.2 0h.5m1 .2h.5m-1.6 0h.5m1.6 0h.5m-2.9 .2h.5m.2 0h.5m.9 0h.5m-.9 0h.5m-.5 .1h.5m-.6 .1h.5m1.2 .1h.5m.1 .1h.5m-3.4 .1h.5m-.6 .1h.5m2.5 0h.5m-4 .1h.5m1.7 0h.5m-3.2 .1h.5m4.9 .2h.5m-5.2 .1h.5m2.9 .2h.5m-1.1 0h.5m-3.3 0h.5m.6 .2h.5m-.3 .1h.5m-.5 0h.5m.4 .1h.5m-.1 0h.5m-2.7 .1h.5m-.9 .1h.5m.8 .3h.5m-1.3 .2h.5m-1.2 0h.5m3.8 .1h.5m-1.5 0h.5m-2.8 0h.5m3.1 .7h.5m-3.7 .1h.5m1.5 .1h.5m-1.7 .1h.5m.1 0h.5m-2.2 .1h.5m0 .1h.5m-.3 .4h.5m-.1 .1h.5m-2.6 0h.5m4.3 .1h.5m-3.8 .1h.5m.2 .1h.5m-2.7 0h.5m1.7 0h.5m2.1 .4h.5m-5.3 .1h.5m-1 .1h.5m3.8 0h.5m-4.9 .6h.5m4.8 .4h.5m-2.9 .2h.5m-1.6 1.2h.5m-1.1 2.1h.5m-.2 1.6h.5m7.7-46.1h.5m.3 .8h.5m.3 .8h.5m-5 0h.5m4.6 .2h.5m-1.2 .1h.5m-4.9 .5h.5m4.1 .3h.5m-.2 .1h.5m-2.6 .1h.5m-2.6 .1h.5m2.4 0h.5m-3.9 .1h.5m3.9 0h.5m-.7 .3h.5m-3.6 .1h.5m.1 0h.5m1.5 0h.5m-.7 .1h.5m-1.4 .4h.5m-3.5 0h.5m-.3 .2h.5m.2 .2h.5m2.7 0h.5m.1 .2h.5m-1.4 .1h.5m-4.1 .4h.5m2.5 0h.5m-1.5 0h.5m-.7 .1h.5m-1.9 .2h.5m-.2 .1h.5m2.5 0h.5m.7 .4h.5m-1.9 0h.5m.3 .1h.5m-4.6 .1h.5m1.4 .3h.5m1.6 0h.5m-5.4 .2h.5m2.4 0h.5m-2.2 .1h.5m3.6 0h.5m-.6 .2h.5m-1.4 .1h.5m-2.9 .1h.5m1.4 0h.5m-.9 .2h.5m-.7 .1h.5m.1 .2h.5m-3.5 .1h.5m2.4 0h.5m.8 .1h.5m-5.4 .3h.5m-.6 0h.5m2.3 .7h.5m2.4 0h.5m-2.6 .3h.5m-2.4 0h.5m-1.2 .8h.5m3 .1h.5m-2.7 0h.5m.1 .1h.5m-2.5 0h.5m-.5 .2h.5m2 .7h.5m1.2 .3h.5m-.1 .5h.5m-2.9 .3h.5m-.7 .7h.5m-.5 .5h.5m1.6 .3h.5m-4.5 .1h.5m3.1 .7h.5m-1.4 .1h.5m.7 .1h.5m-3.5 .1h.5m3.4 0h.5m-3 .1h.5m1.8 0h.5m-2.2 0h.5m-1.6 .1h.5m-3.1 .1h.5m5 0h.5m-.6 0h.5m-1 0h.5m-3.7 .2h.5m-.4 .2h.5m3 .3h.5m-2.1 .1h.5m-4.6 .2h.5m2.8 0h.5m1.4 .1h.5m-4.3 .3h.5m.9 .3h.5m-1.2 0h.5m2.7 .3h.5m-5.1 .1h.5m4.2 0h.5m-1.8 .1h.5m-4.3 .1h.5m-.3 .1h.5m1.4 .1h.5m0 0h.5m1.2 .2h.5m.3 .3h.5m-2.2 .1h.5m.9 .2h.5m-1.2 .1h.5m.2 0h.5m-1.5 .1h.5m1.2 .1h.5m-.7 0h.5m-1.6 .2h.5m-2.8 .1h.5m2.7 .2h.5m-1.1 .2h.5m-5.3 0h.5m-.4 .2h.5m1.5 0h.5m.9 .1h.5m-.2 .2h.5m1.3 .1h.5m-1.8 0h.5m-.9 .1h.5m-3.2 .1h.5m1.6 0h.5m-3.5 .1h.5m-.7 .1h.5m2.3 .1h.5m-.9 .1h.5m-.4 0h.5m.8 .1h.5m-1.2 .4h.5m.5 0h.5m-.6 0h.5m-3.7 .1h.5m4.1 0h.5m-4.7 .1h.5m.9 .1h.5m-.8 0h.5m-2.5 .1h.5m2.1 0h.5m.3 .1h.5m.5 0h.5m-.7 .2h.5m-1.5 .2h.5m-1.7 0h.5m-1.8 .1h.5m2.8 .1h.5m-.9 .1h.5m1.2 0h.5m-3.8 .1h.5m-1.9 0h.5m4.3 0h.5m-.7 .1h.5m-3.5 0h.5m1.8 .2h.5m-4.6 .3h.5m-.1 0h.5m2.5 .2h.5m-2.8 .1h.5m.2 .1h.5m2.1 0h.5m-1.3 0h.5m.5 .1h.5m-1.2 .1h.5m-1.5 0h.5m1.5 .1h.5m-4.4 .1h.5m-.5 0h.5m-.8 .1h.5m2.4 0h.5m.9 0h.5m-.5 0h.5m-2.4 .1h.5m.8 .2h.5m-4.5 .1h.5m3.2 0h.5m-3.7 .1h.5m1.6 .2h.5m-3.8 0h.5m3.7 0h.5m-1.9 .2h.5m-.2 0h.5m-1.7 .1h.5m-1.8 .1h.5m1.6 0h.5m1.2 .1h.5m-2.2 0h.5m1.4 .2h.5m-4.6 0h.5m-.1 .1h.5m2.2 .1h.5m-1.9 .4h.5m1.5 0h.5m.6 .2h.5m-5.1 0h.5m-1.3 .1h.5m2.8 0h.5m-2.8 0h.5m3.9 0h.5m-5.5 .1h.5m.8 .1h.5m2.9 .1h.5m-3.5 .1h.5m.9 0h.5m-1.5 .1h.5m-3 0h.5m.2 .1h.5m-.9 .1h.5m4.1 0h.5m-3.8 .1h.5m-.1 0h.5m-2 .1h.5m3.3 .1h.5m-2.6 0h.5m-1.2 0h.5m-.4 .3h.5m-2.2 0h.5m.3 .1h.5m-1 .1h.5m3.6 0h.5m-1 0h.5m-3.2 .2h.5m3.2 0h.5m-3.5 .2h.5m-2.6 0h.5m4.3 .2h.5m-4.1 .1h.5m.3 0h.5m1.6 .5h.5m-3.9 .2h.5m1.3 0h.5m.1 0h.5m-.1 .1h.5m-1 .1h.5m-3 .1h.5m-.3 .1h.5m-.7 0h.5m0 0h.5m1.3 .3h.5m-3.1 .1h.5m-.8 .1h.5m1.9 .1h.5m1.1 .2h.5m-3.8 .1h.5m-.1 .2h.5m.9 0h.5m-.9 .1h.5m-2.3 0h.5m.5 .2h.5m-.9 0h.5m2.5 .3h.5m0 .2h.5m-3.2 .1h.5m-1 .1h.5m-1.1 0h.5m.2 0h.5m-.8 .1h.5m.9 .2h.5m-1.6 0h.5m.2 .8h.5m1.3 .1h.5m-1.9 .1h.5m1.5 0h.5m-3.5 .7h.5m.1 0h.5m-2 .2h.5m3 .7h.5m-.3 0h.5m-.9 .1h.5m0 .8h.5m-4.5 .5h.5m.9 .1h.5m-1.1 .5h.5m-.5 1h.5m3.6 .3h.5m-5 1.3h.5m2.9 .6h.5m-2.2 3.4h.5m7.5-47.2h.5m1 2.3h.5m-1.7 .3h.5m-.5 .3h.5m-.5 .1h.5m-2.7 .8h.5m-2.7 .2h.5m3.4 0h.5m-.2 .3h.5m.8 .1h.5m-1.3 .1h.5m-3.7 .3h.5m-.4 0h.5m-1.4 .2h.5m2.8 0h.5m-1.9 .1h.5m-2.3 .1h.5m.2 0h.5m-2.3 .2h.5m1.9 0h.5m-2.4 0h.5m4.8 .2h.5m-3.4 0h.5m1.3 .3h.5m-1.4 0h.5m-.9 0h.5m-1.1 0h.5m-.9 .1h.5m0 0h.5m.2 .1h.5m-1.8 0h.5m2.3 .1h.5m-1.4 .1h.5m-.6 .1h.5m.3 0h.5m-2.3 .1h.5m-3.6 0h.5m3 0h.5m-1.8 .1h.5m1.1 0h.5m1.2 0h.5m-3 .1h.5m-1.5 0h.5m-.1 0h.5m.4 0h.5m1.8 0h.5m-4.3 .2h.5m-1.4 0h.5m3.2 0h.5m-4 0h.5m1.2 0h.5m.1 .1h.5m-2.2 0h.5m3.4 .1h.5m-5.1 0h.5m2.3 0h.5m-3.6 0h.5m1.6 .1h.5m2.4 .1h.5m-4.2 0h.5m1 .1h.5m1 0h.5m-4.6 0h.5m.9 .1h.5m.3 0h.5m-.2 0h.5m-1.3 .2h.5m-1.1 0h.5m-.8 .2h.5m-1.5 0h.5m.9 .1h.5m-1.8 .1h.5m2.2 .1h.5m-2.4 0h.5m2.1 0h.5m-4.4 0h.5m4.2 0h.5m-.6 .1h.5m-4.8 .1h.5m.8 0h.5m2.9 0h.5m-3 0h.5m2.1 .2h.5m-2 .1h.5m.4 0h.5m-5 0h.5m2.2 .1h.5m-1.6 0h.5m-.4 0h.5m-.6 0h.5m1.4 .1h.5m0 .2h.5m-3.9 0h.5m3.3 .1h.5m-4.3 0h.5m-.4 0h.5m2.7 .1h.5m-2.4 .4h.5m.4 .2h.5m1 .1h.5m-4.9 .1h.5m.2 0h.5m.5 .1h.5m-.3 0h.5m-2.3 .1h.5m1.4 0h.5m2.8 0h.5m-5.9 .1h.5m.7 .1h.5m-.8 0h.5m-1.5 .2h.5m3.6 .3h.5m-4.2 .6h.5m-.1 .1h.5m2 .2h.5m-.9 .2h.5m1.7 .3h.5m-4.3 .5h.5m.7 .6h.5m2.6 0h.5m-2.1 .7h.5m-1.7 0h.5m-.8 .4h.5m1.8 .3h.5m-1 .1h.5m-4.6 .1h.5m.8 .4h.5m3.3 .6h.5m-1 0h.5m-5.3 .2h.5m.4 0h.5m.9 .3h.5m.2 .1h.5m-3 .4h.5m2.5 .2h.5m-3.8 .3h.5m1.6 0h.5m-.7 .1h.5m-1.4 .2h.5m1.2 .8h.5m-3.3 .1h.5m2.3 .2h.5m-.1 0h.5m-.6 0h.5m-1.8 .3h.5m.8 .1h.5m-.9 .1h.5m.4 0h.5m-1.1 0h.5m1.2 .2h.5m-3.3 .5h.5m2.7 .1h.5m-5.6 .1h.5m1.8 0h.5m-1.8 0h.5m2.2 0h.5m-2.7 .2h.5m1.6 .3h.5m-2.3 .1h.5m.5 .3h.5m-.6 0h.5m-2 .1h.5m-.9 .2h.5m-1.1 .1h.5m.9 .1h.5m1.8 .1h.5m-2.8 0h.5m0 0h.5m-1 .2h.5m-1.4 0h.5m.8 .1h.5m-2.7 0h.5m3.7 .6h.5m-4.4 .2h.5m2.1 .1h.5m.8 .4h.5m-4.3 .1h.5m2 .1h.5m-1.3 .1h.5m-.2 0h.5m.5 0h.5m-3 .1h.5m2.4 0h.5m-3.7 .1h.5m2.8 .2h.5m1.2 0h.5m-3.7 0h.5m-2.9 .5h.5m-.1 0h.5m-.6 .1h.5m4.1 0h.5m-5.1 0h.5m-.4 .3h.5m.7 .1h.5m-1.3 0h.5m2.3 0h.5m-3.4 .1h.5m2.5 .1h.5m-2.8 0h.5m2.2 0h.5m-4.4 .3h.5m5.3 0h.5m-2.6 .2h.5m-.3 0h.5m-2.3 .3h.5m-1.8 0h.5m-.7 .1h.5m2.3 .1h.5m-1.5 .6h.5m-1.2 .2h.5m2.5 0h.5m-4.9 .2h.5m3.1 .1h.5m-4.3 .1h.5m-.4 .1h.5m2.8 .1h.5m1 .4h.5m0 .1h.5m-2.9 .5h.5m.6 .1h.5m-3.3 .1h.5m-1.6 0h.5m.4 .2h.5m1.1 .2h.5m-.2 .2h.5m-2.7 1h.5m-.4 1h.5m-.8 .3h.5m.2 .3h.5m1.5 0h.5m-3.9 0h.5m.2 .1h.5m2.7 0h.5m-4.2 .5h.5m.9 .2h.5m-.4 .3h.5m-2.2 .3h.5m-.6 .1h.5m3.1 .2h.5m-1.8 1.1h.5m-1.4 1.9h.5m-1.4 7.8h.5m2.3 2.6h.5m2.5-46.2h.5m1.4 1h.5m.6 0h.5m1.8 .1h.5m-5.4 .5h.5m4.4 .1h.5m-1.7 .1h.5m-1.8 .3h.5m-2.8 0h.5m-.5 .1h.5m-1.3 .1h.5m3.6 .2h.5m.4 0h.5m-2.5 .3h.5m-3.4 .9h.5m1.6 0h.5m-2.1 .2h.5m4.3 .2h.5m-5.5 .4h.5m.6 0h.5m-1.2 .1h.5m.6 .3h.5m-.2 .3h.5m-2.1 .1h.5m.9 .1h.5m3.3 0h.5m-6.3 .4h.5m2.5 .1h.5m-2 .1h.5m2.9 .4h.5m-4.9 .5h.5m.9 .4h.5m-1.9 .2h.5m1 .1h.5m-1.3 .1h.5m-1.5 .3h.5m.2 .5h.5m-1.3 .9h.5m1 4.2h.5m3.3 2.5h.5m-6 .1h.5m1.2 .8h.5m-2 .1h.5m.2 2.1h.5m.4 .1h.5m-.6 .5h.5m-1.2 .6h.5m2.6 1.4h.5m-4.5 2h.5m3 2.7h.5m-3.9 .9h.5m4.1 6.9h.5m4.7-36.8h.5m-1.9 3.4h.5m1.1 .1h.5m-2.7 1.8h.5m-.1 3h.5m-1.7 15.8h.5m3 4.6h.5m2.6-6.9h.5" stroke="#3348ff" stroke-width="0.55"/><path d="M163.3 745.7h.6m.9 .2h.6m-1 3.6h.6m-1.9 1h.6m6.2-8h.6m.2 1.3h.6m-1.4 .5h.6m-1.8 .3h.6m.8 .2h.6m-2.1 .2h.6m1 .1h.6m-.4 .7h.6m-.2 0h.6m-1.2 .6h.6m-2.2 1.4h.6m-.2 .5h.6m.6 .1h.6m-.6 0h.6m-2.2 .4h.6m-2.7 .3h.6m.3 1.8h.6m-2.7 0h.6m3.8 .3h.6m3.7-11.6h.6m.5 .1h.6m-1.4 .8h.6m.1 .2h.6m-.3 .2h.6m-.9 .1h.6m-.2 .2h.6m-.9 0h.6m-4.4 .6h.6m4 0h.6m-1.5 .1h.6m-.7 .3h.6m-.4 .2h.6m-1.5 .1h.6m-1.2 .1h.6m1.5 0h.6m-.6 0h.6m0 0h.6m-3.5 .1h.6m-1.9 .2h.6m3.6 0h.6m-1.9 .1h.6m.2 .1h.6m.5 0h.6m-1.7 0h.6m-4.7 0h.6m2.7 .1h.6m1.2 0h.6m-1.1 0h.6m-.3 0h.6m-1 .1h.6m-.9 .1h.6m-.8 .1h.6m-1.5 .2h.6m-1.5 .1h.6m-2.5 .1h.6m3.1 .1h.6m-1 0h.6m-3.1 0h.6m.6 .1h.6m.7 0h.6m-2.6 .1h.6m-.5 0h.6m-1.6 0h.6m3.9 0h.6m-2.5 .1h.6m1.3 0h.6m-5 0h.6m1.1 .1h.6m1.2 0h.6m-2.2 0h.6m-.6 .1h.6m2 0h.6m-3.7 0h.6m-2.3 0h.6m1.2 0h.6m-1.5 .2h.6m3.2 0h.6m-1.4 .1h.6m-3.4 0h.6m2.5 .1h.6m-2 0h.6m-1.9 .1h.6m1.6 .1h.6m-.8 0h.6m.1 .1h.6m-1.1 0h.6m-2.2 0h.6m-1 .1h.6m-2.4 0h.6m.5 .1h.6m-2 .1h.6m3.4 0h.6m-4.8 0h.6m.9 0h.6m-1.6 .1h.6m.1 0h.6m-1.3 .2h.6m1.5 0h.6m-1.8 .1h.6m3.2 0h.6m-3.2 .1h.6m1.4 0h.6m-2.6 .2h.6m2 0h.6m-2.4 .2h.6m-1.4 0h.6m-3.2 .1h.6m2.1 0h.6m.8 .1h.6m-1.2 .1h.6m-2.2 .1h.6m1.2 .1h.6m.9 .1h.6m-3.1 .2h.6m-2.3 .2h.6m-1.9 0h.6m11-7.1h.6m-5.7 0h.6m1.9 .2h.6m-2.1 .1h.6m.3 .2h.6m-2.5 0h.6m-.8 .7h.6m1.2 .1h.6m-2 .1h.6m-1.1 0h.6m.4 .4h.6m1.1 .4h.6m-3.4 .1h.6m0 .2h.6m-.4 0h.6m-.7 .1h.6m0 .1h.6m.6 .1h.6m-3.5 .1h.6m-.6 .1h.6m.8 0h.6m-.6 .1h.6m-.9 .1h.6m-1.6 .3h.6m-.5 0h.6m1.7 .2h.6m1.2 0h.6m-4.2 .1h.6m1.1 .2h.6m-.5 .1h.6m-1.6 0h.6m-.5 .1h.6m-1.2 0h.6m1.5 .1h.6m-2.6 0h.6m-.8 .1h.6m.6 .1h.6m-2.7 0h.6m.6 .1h.6m.3 .4h.6m-1.9 .3h.6m-1.3 0h.6m.4 .3h.6m1.6 .1h.6m-1.7 2.2h.6" stroke="#1414d0" stroke-width="0.7"/><g filter="url(#db2)"><ellipse cx="157.7" cy="775.7" rx="9.4" ry="3.6" fill="#1c30f0" transform="rotate(-48 157.7 775.7)"/><ellipse cx="157.7" cy="775.7" rx="7.3" ry="2.8" fill="#18a0f0" transform="rotate(-48 157.7 775.7)"/><ellipse cx="157.7" cy="775.7" rx="5.2" ry="2" fill="#28d29a" transform="rotate(-48 157.7 775.7)"/><ellipse cx="157.7" cy="775.7" rx="3.1" ry="1.2" fill="#8ee040" transform="rotate(-48 157.7 775.7)"/><ellipse cx="157.7" cy="775.7" rx="1.4" ry="0.7" fill="#e0e030" transform="rotate(-48 157.7 775.7)"/></g></g><line x1="168.5" y1="723.4" x2="168.5" y2="790.5" stroke="#666" stroke-width="0.8"/><line x1="138.2" y1="757.5" x2="205.6" y2="757.5" stroke="#666" stroke-width="0.8"/><line x1="139.7" y1="790.5" x2="139.7" y2="792" stroke="#888" stroke-width="0.4"/><text x="139.7" y="795.3" font-size="3.2" text-anchor="middle" fill="#777">10</text><line x1="136.7" y1="789" x2="138.2" y2="789" stroke="#888" stroke-width="0.4"/><text x="136" y="790.1" font-size="3.2" text-anchor="end" fill="#777">10</text><line x1="152.6" y1="790.5" x2="152.6" y2="792" stroke="#888" stroke-width="0.4"/><text x="152.6" y="795.3" font-size="3.2" text-anchor="middle" fill="#777">10</text><line x1="136.7" y1="776.2" x2="138.2" y2="776.2" stroke="#888" stroke-width="0.4"/><text x="136" y="777.3" font-size="3.2" text-anchor="end" fill="#777">10</text><line x1="165.5" y1="790.5" x2="165.5" y2="792" stroke="#888" stroke-width="0.4"/><text x="165.5" y="795.3" font-size="3.2" text-anchor="middle" fill="#777">10</text><line x1="136.7" y1="763.4" x2="138.2" y2="763.4" stroke="#888" stroke-width="0.4"/><text x="136" y="764.5" font-size="3.2" text-anchor="end" fill="#777">10</text><line x1="178.3" y1="790.5" x2="178.3" y2="792" stroke="#888" stroke-width="0.4"/><text x="178.3" y="795.3" font-size="3.2" text-anchor="middle" fill="#777">10</text><line x1="136.7" y1="750.5" x2="138.2" y2="750.5" stroke="#888" stroke-width="0.4"/><text x="136" y="751.6" font-size="3.2" text-anchor="end" fill="#777">10</text><line x1="191.2" y1="790.5" x2="191.2" y2="792" stroke="#888" stroke-width="0.4"/><text x="191.2" y="795.3" font-size="3.2" text-anchor="middle" fill="#777">10</text><line x1="136.7" y1="737.7" x2="138.2" y2="737.7" stroke="#888" stroke-width="0.4"/><text x="136" y="738.8" font-size="3.2" text-anchor="end" fill="#777">10</text><line x1="204.1" y1="790.5" x2="204.1" y2="792" stroke="#888" stroke-width="0.4"/><text x="204.1" y="795.3" font-size="3.2" text-anchor="middle" fill="#777">10</text><line x1="136.7" y1="724.9" x2="138.2" y2="724.9" stroke="#888" stroke-width="0.4"/><text x="136" y="726" font-size="3.2" text-anchor="end" fill="#777">10</text><text x="205.2" y="731" font-size="7.8" text-anchor="end">11.18%</text><text x="171.6" y="802.9" font-size="8.6" text-anchor="middle">FITC-A</text><text x="131.1" y="757.4" font-size="8.4" text-anchor="middle" transform="rotate(-90 131.1 757.4)">PI-A</text>
<rect x="227" y="723.4" width="67.4" height="67.1" fill="#fff" stroke="#666" stroke-width="0.6"/><clipPath id="cp202"><rect x="227" y="723.4" width="67.4" height="67.1"/></clipPath><g clip-path="url(#cp202)"><g filter="url(#db)"><ellipse cx="248.6" cy="774.4" rx="14.3" ry="6.8" fill="#3a55ff" fill-opacity="0.6" transform="rotate(-45 248.6 774.4)"/><ellipse cx="258.7" cy="746.5" rx="9.8" ry="2.5" fill="#2238f0" fill-opacity="0.3" transform="rotate(-3 258.7 746.5)"/><ellipse cx="261.4" cy="746.2" rx="5.5" ry="1.7" fill="#2238f0" fill-opacity="0.6" transform="rotate(-3 261.4 746.2)"/></g><path d="M218.1 753h.5m11 21.3h.5m-.9 2h.5m-4.2 8.2h.5m5 .5h.5m-1.9 5.8h.5m4-33.4h.5m2.4 6.1h.5m-2.1 11.1h.5m-1.2 .1h.5m1.3 .6h.5m-1.3 3.3h.5m-1.8 .2h.5m1 1h.5m-2.4 1.9h.5m-2.5 .7h.5m4.4 .3h.5m-.5 .1h.5m-4.8 0h.5m-1.7 .4h.5m4.7 1h.5m-3 .7h.5m-2 .5h.5m2.6 .2h.5m0 .7h.5m-.9 2.4h.5m.6 3.3h.5m-5.1 .7h.5m6.6-45.6h.5m2.1 2.1h.5m-2.4 .8h.5m2.3 5.2h.5m-1.9 11h.5m.9 .1h.5m-4.4 .3h.5m.3 1.4h.5m.3 0h.5m0 .1h.5m1.3 .3h.5m-5 .2h.5m3.9 .7h.5m-2.2 0h.5m-1 .1h.5m-.4 .1h.5m-1.9 .7h.5m1.4 .3h.5m-3.2 .1h.5m3.3 .3h.5m-1.4 .3h.5m-2 .3h.5m2.5 1.1h.5m-4.2 0h.5m3.3 .1h.5m-6.1 .1h.5m1.2 .2h.5m2.3 0h.5m-2.8 .1h.5m2.8 .2h.5m-5.4 .1h.5m1.2 0h.5m1.3 .1h.5m.2 .1h.5m.1 0h.5m-.4 .1h.5m-2.4 0h.5m-2.4 .3h.5m.7 0h.5m.6 .1h.5m-2.4 .1h.5m.9 .1h.5m1.2 .1h.5m-1.2 .1h.5m.1 .3h.5m-1.8 .1h.5m-3.9 0h.5m4.1 .1h.5m-1.2 .1h.5m-1.7 .2h.5m1.1 .2h.5m-5 0h.5m3.9 .3h.5m.2 .3h.5m-2.7 .4h.5m1.7 0h.5m-3.3 .2h.5m-3.1 .3h.5m3.2 .1h.5m-.9 0h.5m1 .1h.5m-.8 .3h.5m-3.1 .5h.5m2.8 .1h.5m-1.3 0h.5m.2 .1h.5m-2.3 .1h.5m1.6 .3h.5m-1.1 .1h.5m-.2 0h.5m-1.5 .2h.5m-2.9 .2h.5m.8 .3h.5m.1 .1h.5m-2.5 0h.5m1.3 .1h.5m-3.6 .1h.5m1.5 .1h.5m2.5 .2h.5m-4.2 .1h.5m1.1 0h.5m.1 0h.5m-2.8 .1h.5m1 .1h.5m1 0h.5m-2.2 0h.5m1.6 .1h.5m-.4 .1h.5m-2.5 .1h.5m-1.7 0h.5m1.6 0h.5m-.7 .4h.5m1.5 .2h.5m-2.9 .1h.5m1.4 .1h.5m-.1 .1h.5m-3.9 0h.5m3 0h.5m-3.2 .2h.5m-2.1 0h.5m-1.3 0h.5m1.6 .1h.5m-.1 0h.5m-1.4 .1h.5m1.4 .1h.5m-1.7 0h.5m-.8 .1h.5m-1.7 .2h.5m1.1 0h.5m-.1 .1h.5m-2.3 .6h.5m1 .1h.5m-.1 .2h.5m-4 0h.5m1 .1h.5m.4 0h.5m1.4 0h.5m-.4 .1h.5m-.5 0h.5m-2.9 .5h.5m3.1 .1h.5m-1.2 .4h.5m-2.4 .2h.5m.6 0h.5m1 0h.5m-6.3 .8h.5m5 .2h.5m-2.7 .1h.5m.8 .4h.5m-3.2 .5h.5m1.8 .2h.5m.8 .1h.5m-5.3 .2h.5m2.2 .2h.5m-.9 .4h.5m-1.9 .5h.5m2.6 1.3h.5m-.9 .5h.5m-2.8 1.1h.5m0 1h.5m.6 .2h.5m7.6-47.2h.5m-1.7 .5h.5m-3.9 .1h.5m-.1 .5h.5m1.4 .1h.5m-3.2 .1h.5m.4 0h.5m2.6 .2h.5m-3 0h.5m-.8 .6h.5m-1.6 0h.5m2 0h.5m1.7 .2h.5m-5.7 0h.5m1.5 .1h.5m-2.8 .2h.5m3.4 .3h.5m.2 0h.5m-3.3 .2h.5m1.2 .4h.5m-2.4 .1h.5m3.1 .7h.5m-.7 .1h.5m-1.7 .1h.5m1.6 6.1h.5m-.6 3.2h.5m-1.3 .4h.5m-1.9 .1h.5m1.3 1.5h.5m-1.3 .1h.5m-3.4 .4h.5m3.1 .8h.5m-.3 .2h.5m-3.5 .5h.5m-2 .4h.5m4.2 .1h.5m-1.8 .1h.5m-4.3 0h.5m4.2 .1h.5m-.4 .1h.5m-2.1 .3h.5m1.3 .3h.5m-1.9 .1h.5m-1.1 .1h.5m-2 .3h.5m1.4 .3h.5m.6 .4h.5m-1.8 .2h.5m-.5 .3h.5m.1 .1h.5m-.8 .3h.5m-2.4 0h.5m3 .1h.5m-5.4 .1h.5m4.5 .5h.5m-1.7 0h.5m-.2 .3h.5m-1.3 .2h.5m-.5 .3h.5m-.5 0h.5m.7 .2h.5m-5.1 .2h.5m3.3 0h.5m-3.8 0h.5m1.6 .1h.5m1.4 .1h.5m-3 0h.5m2.4 .1h.5m-.9 0h.5m-5.5 .1h.5m.8 .2h.5m3.7 0h.5m-3.1 .2h.5m-1.5 .3h.5m2.1 .2h.5m-.3 .1h.5m-2.9 0h.5m2 .1h.5m0 .1h.5m-2.4 .1h.5m-2.8 0h.5m4.1 0h.5m-4.9 0h.5m2.6 .2h.5m-4.8 0h.5m4.6 .1h.5m-.1 .2h.5m-5 .1h.5m.6 .1h.5m.3 .1h.5m-.4 .1h.5m-2.1 .1h.5m0 .1h.5m-1.5 0h.5m2.7 .2h.5m-.3 .1h.5m-3.2 .1h.5m1.8 0h.5m-.7 0h.5m-.6 .1h.5m-1.7 0h.5m.9 0h.5m-4.5 0h.5m3.3 .1h.5m-3.6 .2h.5m4.4 .2h.5m-3.3 .1h.5m-1.2 0h.5m-2.8 0h.5m2.5 0h.5m.9 0h.5m-2.4 .1h.5m3 .1h.5m-2.1 0h.5m-3.4 .1h.5m1.8 0h.5m-4 0h.5m4.8 .1h.5m-3.1 0h.5m2.3 .1h.5m-4 .1h.5m2.7 .2h.5m-1.3 0h.5m-3.1 0h.5m2.4 .1h.5m-3.3 0h.5m-.1 0h.5m.5 .1h.5m1.3 0h.5m-3.9 0h.5m-.3 .1h.5m1.3 0h.5m.5 0h.5m.2 0h.5m-4.2 0h.5m1.5 0h.5m-1 0h.5m-2.1 .1h.5m-1.5 0h.5m2.2 .1h.5m-3.6 0h.5m4.9 .1h.5m-5.4 0h.5m4.2 0h.5m-2 .1h.5m-3.9 0h.5m4.1 0h.5m-4 .1h.5m2 0h.5m-3.5 0h.5m.7 0h.5m-2.4 .1h.5m3.2 .1h.5m-3.7 0h.5m.9 .1h.5m-2.2 0h.5m1.8 .1h.5m-3.6 0h.5m3.9 .1h.5m-.7 0h.5m-.4 .1h.5m0 0h.5m-2.9 .1h.5m2 .1h.5m.3 0h.5m-5.1 .2h.5m.5 0h.5m-.4 .1h.5m2.2 0h.5m-1.1 0h.5m-3.8 .1h.5m2.5 0h.5m-1.1 0h.5m-3.4 0h.5m.1 0h.5m.1 .1h.5m1.6 0h.5m-.2 .3h.5m-3.5 0h.5m1.3 .1h.5m1.4 0h.5m-2.1 0h.5m-1.4 .1h.5m1.2 0h.5m-1.5 0h.5m1.6 0h.5m-3.9 .1h.5m1.3 .1h.5m-4 0h.5m3.6 0h.5m-.2 .1h.5m-3.2 0h.5m-.4 .1h.5m3.6 0h.5m-5.9 .1h.5m2 0h.5m-.2 .1h.5m-1.3 0h.5m2.2 0h.5m-.6 .1h.5m-4.4 0h.5m.4 .3h.5m.5 .1h.5m-2.1 0h.5m-1.9 0h.5m3.5 0h.5m-4.4 .1h.5m.4 .1h.5m-1 0h.5m4.3 0h.5m-4.1 0h.5m2 0h.5m.4 .1h.5m-.9 0h.5m-1.9 0h.5m1.4 .1h.5m-5.6 0h.5m4.6 0h.5m-2.7 .1h.5m.9 0h.5m-4.7 0h.5m2.2 0h.5m-.6 .1h.5m-1.8 0h.5m3 0h.5m-4.5 0h.5m-.9 .1h.5m-1.1 0h.5m3.7 .1h.5m.2 0h.5m-1.8 .1h.5m-3 0h.5m-.5 .1h.5m-1.3 0h.5m3.5 0h.5m-.1 0h.5m-2.2 0h.5m-3.2 .2h.5m2.5 0h.5m.4 0h.5m-1 0h.5m-1.4 0h.5m1.7 .1h.5m-5.5 .1h.5m5 0h.5m-4.9 0h.5m2.8 .1h.5m-3 .3h.5m3.1 0h.5m-3.3 .1h.5m-.5 0h.5m-.2 .1h.5m1.3 0h.5m-2.6 .1h.5m-3 .1h.5m4.5 .1h.5m-5.8 0h.5m1.1 0h.5m.3 .1h.5m-1.3 0h.5m.3 0h.5m1.1 .1h.5m1 .1h.5m-2.7 0h.5m.7 0h.5m-2.7 .1h.5m-1.3 0h.5m-.8 0h.5m2.9 0h.5m-4 .1h.5m.9 .1h.5m1.9 0h.5m-3.4 0h.5m3.1 0h.5m-4 .1h.5m-2.1 .1h.5m-.8 .2h.5m4.6 0h.5m-3.7 0h.5m-1.5 0h.5m.9 0h.5m-1.6 .1h.5m-1.6 0h.5m1.4 0h.5m1.6 .1h.5m.4 .2h.5m-1.2 0h.5m-2.8 .1h.5m.3 0h.5m-1.6 .2h.5m-1.7 .1h.5m-.8 0h.5m1.2 0h.5m.9 .2h.5m-1.1 .1h.5m-1.8 0h.5m2.7 0h.5m-5.4 0h.5m3.4 .3h.5m-3.8 .1h.5m2.4 0h.5m-1.2 .1h.5m.7 0h.5m-3.2 .1h.5m2 .1h.5m-1 .4h.5m-.7 0h.5m-.4 0h.5m-.9 .2h.5m.3 .1h.5m-2.9 .1h.5m-1.3 .1h.5m.8 .1h.5m-.5 .1h.5m-1.4 0h.5m2.8 .1h.5m-3.9 .4h.5m2.7 0h.5m-1.7 .2h.5m.8 0h.5m-3.8 .3h.5m3.3 .1h.5m-3.6 .2h.5m1 0h.5m2.3 .1h.5m-2.8 .4h.5m-3.3 0h.5m3.8 0h.5m-2.9 .1h.5m-2.2 .4h.5m.2 .4h.5m3.9 .2h.5m-1.2 .4h.5m-3.8 .7h.5m-1.4 .2h.5m-1.2 .1h.5m2.3 .1h.5m-2 .2h.5m0 .8h.5m-1.7 1.4h.5m1.4 .1h.5m-2.3 0h.5m1.9 0h.5m3.5-48.1h.5m2.9 1.9h.5m.1 .2h.5m-1.3 .5h.5m-1.6 0h.5m-4 0h.5m4.5 .1h.5m.5 .2h.5m-2 .1h.5m-.1 .2h.5m-1.4 0h.5m-2.9 .1h.5m-1.5 .1h.5m3.8 .1h.5m-.6 .2h.5m-2.8 .1h.5m1.7 .1h.5m-1.8 .1h.5m-1 0h.5m-2 .1h.5m-.2 .3h.5m3.5 .2h.5m-.7 .2h.5m-2.9 .3h.5m.5 .2h.5m-.7 0h.5m.1 .4h.5m-1.7 .1h.5m-1.9 0h.5m1 .2h.5m-2.1 .5h.5m2.8 .2h.5m-.6 0h.5m-.1 0h.5m-4 .1h.5m-2 .6h.5m-.3 .1h.5m2.6 .1h.5m1.4 .1h.5m-3.7 .3h.5m.3 .2h.5m-.1 .4h.5m-2.6 .6h.5m2.1 .9h.5m-1.4 .2h.5m-1.5 .1h.5m-2.1 1.6h.5m4.2 .6h.5m-1.1 2.8h.5m-.8 .1h.5m-4.9 .8h.5m4.7 .2h.5m-4.3 .5h.5m2.1 1.1h.5m-2.1 .3h.5m-1.3 .3h.5m3.7 .7h.5m-5.4 .3h.5m3.4 .1h.5m-2.5 .4h.5m.2 .1h.5m.2 .4h.5m.8 0h.5m-2 .1h.5m-2.8 0h.5m1 .1h.5m1.8 0h.5m-1.4 .3h.5m-2.8 0h.5m-1.7 .1h.5m.7 .1h.5m1.4 .2h.5m-3.7 0h.5m4.1 .2h.5m-2.4 .1h.5m-3.2 0h.5m-.3 .2h.5m.2 .1h.5m2.2 .1h.5m-1.6 .2h.5m1.4 .1h.5m-.2 .1h.5m-3.9 .2h.5m-2.7 .1h.5m1.8 0h.5m-2.7 .1h.5m.2 .1h.5m2 .5h.5m1.6 .2h.5m-5.2 .1h.5m4.4 0h.5m-.6 .2h.5m-1.9 .1h.5m-3.4 .1h.5m3 0h.5m-1.6 .1h.5m.4 0h.5m-4.4 0h.5m4.1 .2h.5m-5.3 0h.5m1.4 0h.5m2.8 .1h.5m-.7 0h.5m-.1 .1h.5m-.9 0h.5m-4.7 0h.5m3.3 .1h.5m0 0h.5m-2.1 .1h.5m1 0h.5m-1.4 0h.5m-1.1 .4h.5m-4 0h.5m0 .1h.5m4 .1h.5m-3.9 0h.5m3.2 .1h.5m-5.7 0h.5m1.9 .2h.5m-3.1 0h.5m4.2 0h.5m-5.2 .1h.5m.3 .1h.5m3.8 .1h.5m0 0h.5m-2 .2h.5m-.8 0h.5m.9 .1h.5m-1.1 0h.5m-1.8 .2h.5m-2.2 0h.5m-1.8 .1h.5m4.6 0h.5m-4.7 0h.5m2.6 0h.5m-4.6 0h.5m2.6 .1h.5m-.6 0h.5m-1.6 0h.5m.8 .1h.5m.1 .1h.5m-4 .1h.5m1.7 0h.5m-2.2 0h.5m3.4 0h.5m-3.5 .3h.5m2.6 0h.5m-5.5 .1h.5m-.4 .1h.5m5 .1h.5m-1.6 0h.5m-3.4 0h.5m1.5 .2h.5m1.3 0h.5m-1 .1h.5m-3.4 0h.5m.9 0h.5m-.8 .1h.5m-2.2 .1h.5m0 0h.5m-1 .1h.5m2.7 0h.5m-4.5 .1h.5m4 0h.5m-.1 .1h.5m-2.1 0h.5m-1.2 0h.5m-1.9 .1h.5m.1 .1h.5m-3.3 0h.5m4.1 0h.5m-1.7 0h.5m-3.1 0h.5m1.7 .1h.5m-1.1 0h.5m.1 0h.5m-1.5 .1h.5m-1 .1h.5m-.9 0h.5m-.8 .1h.5m1.9 0h.5m1.8 0h.5m-.2 .2h.5m-4.4 .1h.5m2.3 .1h.5m-5 .1h.5m1.4 0h.5m1.3 0h.5m-.3 .2h.5m-2.3 0h.5m-1.6 .1h.5m2.7 0h.5m-3.6 0h.5m-.7 .2h.5m-1.1 0h.5m1.2 .2h.5m-1 0h.5m.1 0h.5m1.9 0h.5m-4.6 .1h.5m2.8 .2h.5m-3.9 0h.5m3.7 0h.5m-1.1 0h.5m-.8 0h.5m-.2 .1h.5m.5 .1h.5m-4.8 0h.5m.6 0h.5m1.6 .1h.5m-3.9 .1h.5m3.5 0h.5m-.8 .1h.5m-.8 0h.5m-4.1 .1h.5m5 0h.5m-3.6 .1h.5m-1.4 0h.5m3.5 .1h.5m-3.6 0h.5m1.1 0h.5m-.9 0h.5m-3 .2h.5m3.9 .1h.5m-.7 0h.5m-4.7 0h.5m0 0h.5m1.8 .1h.5m-3.2 0h.5m-1.8 0h.5m3.6 .1h.5m-4.7 .1h.5m3.7 0h.5m-2.9 0h.5m-1.4 0h.5m-1.1 .2h.5m-.5 0h.5m3.5 .1h.5m-2.5 0h.5m-1.9 0h.5m2.8 .1h.5m-1.1 .1h.5m-3 .1h.5m1.1 .1h.5m2.6 0h.5m-4.6 .1h.5m.3 0h.5m2.1 0h.5m-5.3 .2h.5m2.3 0h.5m.4 0h.5m.6 .1h.5m-5.7 0h.5m1.7 .1h.5m-2.5 0h.5m2 .2h.5m-2.6 0h.5m2.3 .1h.5m-2.7 0h.5m3.1 0h.5m-5.2 0h.5m.6 .1h.5m2.7 0h.5m-2.7 .1h.5m1.6 0h.5m-1.7 0h.5m.9 .1h.5m-.6 .1h.5m-3.1 0h.5m-.3 0h.5m.9 0h.5m-3.8 0h.5m2 .1h.5m-2.3 0h.5m-.5 .1h.5m1.8 0h.5m-1.8 .1h.5m-1.6 0h.5m1.4 .2h.5m-.2 0h.5m-2.4 0h.5m2.7 .1h.5m-3 0h.5m3.6 .1h.5m-5.8 0h.5m2.1 0h.5m-1 .1h.5m-2.2 0h.5m.7 .2h.5m.2 .1h.5m1.9 .1h.5m-2.7 .1h.5m-3.1 0h.5m2.9 .1h.5m-1.7 0h.5m-1 .1h.5m-2.5 0h.5m4.1 0h.5m-3.3 .2h.5m3.2 0h.5m-6.2 .1h.5m1 .2h.5m-.6 0h.5m3.3 0h.5m-3.6 .1h.5m-1.1 .1h.5m1.5 0h.5m-.6 .1h.5m-3 0h.5m-.1 .1h.5m-.2 .2h.5m.9 .8h.5m.2 .2h.5m-3.6 .1h.5m-.3 .1h.5m2.3 0h.5m-.5 0h.5m-3.6 .1h.5m-.9 .1h.5m-.4 .1h.5m-.5 .4h.5m-.2 0h.5m1.9 .4h.5m-3.1 .2h.5m-.1 .2h.5m1.6 0h.5m-3 .1h.5m3.9 .1h.5m-2.2 .4h.5m-2.1 0h.5m2.3 0h.5m-1.5 .2h.5m-1.3 .2h.5m-2.7 .3h.5m4 .1h.5m-3.2 .5h.5m-1.2 .4h.5m-1.5 1h.5m3.2 0h.5m-2.9 .4h.5m-1 .4h.5m9.7-44.7h.5m-3.6 .2h.5m2.2 1.7h.5m-4 .7h.5m3.1 .3h.5m-1.4 .2h.5m-3.1 .1h.5m-.4 .1h.5m-1.6 .1h.5m.8 .2h.5m3.3 .2h.5m-3.4 .2h.5m-.8 0h.5m2.7 .1h.5m-.9 .1h.5m-4.1 .1h.5m1 .1h.5m-1 0h.5m2.6 0h.5m-5.6 .1h.5m2.4 .1h.5m-3.2 0h.5m3.1 0h.5m-1.7 .1h.5m1.8 .1h.5m-1.8 0h.5m-3.3 0h.5m-.7 .2h.5m-.1 .1h.5m-.9 0h.5m.8 .2h.5m1 .1h.5m-1.6 .1h.5m.6 .1h.5m.2 .1h.5m-3.2 .1h.5m.1 0h.5m-2 0h.5m.1 .1h.5m3.6 .1h.5m-1.4 0h.5m-3.5 0h.5m.4 0h.5m2.4 0h.5m-4.9 .1h.5m1.6 0h.5m-1.4 0h.5m.8 0h.5m-2.8 .2h.5m.9 0h.5m-.7 0h.5m-.6 .1h.5m2.3 .1h.5m-3.7 .1h.5m.6 .1h.5m-2.8 .2h.5m1.6 .1h.5m-1.6 .1h.5m1.7 .1h.5m-1.5 .1h.5m.4 .2h.5m-.9 0h.5m-3 0h.5m3.8 .1h.5m-1.4 0h.5m-2 .1h.5m-2 0h.5m-1.7 .1h.5m3.8 0h.5m-5.1 .2h.5m.9 .1h.5m-1.9 .2h.5m1.3 .2h.5m-2.4 .2h.5m3.3 .3h.5m-.8 .6h.5m-.9 .1h.5m-1.3 0h.5m-2 .2h.5m1.9 .2h.5m-1.3 .2h.5m-1.5 .9h.5m1.1 .3h.5m1.8 .2h.5m-3.1 .1h.5m.2 .1h.5m1 .9h.5m-3 .2h.5m2.3 .3h.5m-3.2 0h.5m-2.3 0h.5m.9 .2h.5m3.2 0h.5m-1 .1h.5m-2.2 .3h.5m.9 0h.5m-1.6 .1h.5m.5 .2h.5m.2 .2h.5m-3.7 .1h.5m1.9 .3h.5m-.6 0h.5m-.2 .1h.5m.3 .1h.5m-5.8 0h.5m4.4 .3h.5m-.9 0h.5m.4 .2h.5m-.5 .7h.5m-2.4 0h.5m-1.3 .1h.5m-2.2 0h.5m.9 .1h.5m.6 0h.5m-1.2 .1h.5m-.8 .3h.5m-.1 0h.5m1.6 .1h.5m-2.6 .2h.5m-2.1 0h.5m.7 .1h.5m-1.9 0h.5m-1.6 .5h.5m4.9 0h.5m-.7 .1h.5m-1.5 0h.5m-1.5 .3h.5m-1 .1h.5m-1.7 0h.5m-1.5 .2h.5m2.8 0h.5m-4.5 .1h.5m1.6 0h.5m2.7 0h.5m-1.9 .2h.5m-3.4 .1h.5m3.9 0h.5m-5.8 .1h.5m2.7 .1h.5m-1.9 0h.5m.6 .1h.5m2.2 0h.5m-4 .6h.5m-1.5 .1h.5m2.1 0h.5m-3.1 .3h.5m3.6 0h.5m-1.7 .2h.5m-.8 .1h.5m.2 .2h.5m-2.4 0h.5m-.6 .1h.5m-.2 0h.5m.4 .2h.5m-1.8 .2h.5m2.2 .2h.5m-.4 .1h.5m-5.9 .1h.5m2.4 0h.5m2.1 0h.5m-3.6 .2h.5m2.7 .1h.5m-1.1 .3h.5m-3.1 .6h.5m-1.9 .1h.5m-.5 .1h.5m2.1 .1h.5m-.1 0h.5m-2.2 .2h.5m.2 .3h.5m-2.8 .4h.5m1.9 0h.5m-2.8 .1h.5m3.7 0h.5m-4.9 .1h.5m.3 .1h.5m-1.8 0h.5m.6 .1h.5m1.8 .2h.5m0 0h.5m-3.7 0h.5m.3 .2h.5m-.3 0h.5m-1.2 .1h.5m4.3 0h.5m-4.2 .1h.5m2.7 .2h.5m-5.4 0h.5m4.7 0h.5m-2.4 .1h.5m-4.3 .1h.5m.5 .2h.5m-1.4 0h.5m-.3 .1h.5m2.3 .2h.5m.4 .1h.5m-1.9 .1h.5m-2 .1h.5m-.7 .1h.5m1.8 .3h.5m-.2 0h.5m-2.2 .2h.5m-1.7 0h.5m0 .2h.5m4.1 .2h.5m-5.9 .1h.5m3.7 .1h.5m-1.9 0h.5m-2 0h.5m-1.6 0h.5m4.6 0h.5m-4.7 .1h.5m.4 0h.5m-.7 .1h.5m-.3 0h.5m-.3 .3h.5m-2.6 0h.5m1.5 0h.5m-1.5 .1h.5m2.2 0h.5m.6 0h.5m-5.7 .1h.5m1.9 0h.5m.1 0h.5m.3 0h.5m-1 0h.5m-.6 .2h.5m1.6 .2h.5m-4.5 .1h.5m1 .2h.5m-.2 .8h.5m1 .2h.5m-3.2 .1h.5m-.8 0h.5m.2 .5h.5m2.8 .3h.5m-5.9 .1h.5m3.1 .2h.5m-3 .1h.5m.3 .2h.5m-2.4 .7h.5m4.5 .2h.5m-5.5 .2h.5m2.8 0h.5m.9 0h.5m-5.4 .1h.5m-.3 .1h.5m4 .2h.5m-5.1 0h.5m3.7 .2h.5m-2.6 0h.5m-1.2 .1h.5m-1.3 .1h.5m.5 .2h.5m1.4 .4h.5m-2.7 0h.5m1.4 0h.5m-2.6 0h.5m.1 .1h.5m1.1 .1h.5m-1.2 .3h.5m-1.2 .1h.5m-.5 .1h.5m-2.4 0h.5m0 .3h.5m3.2 .2h.5m-4 .1h.5m1.7 0h.5m-2.9 .2h.5m3.6 0h.5m-4.7 .1h.5m3 .1h.5m-4.5 .1h.5m.6 .1h.5m-.5 .5h.5m.3 .2h.5m-2.3 .2h.5m0 .9h.5m-.4 0h.5m-.7 .3h.5m4.4 .4h.5m-1 .3h.5m-3.4 0h.5m7.1-36.2h.5m1.3 .1h.5m-3.2 .3h.5m-.8 .1h.5m-1.7 .1h.5m3.8 0h.5m-4.7 .8h.5m-.7 .2h.5m-1.3 0h.5m1.3 .1h.5m-2.1 .1h.5m.1 0h.5m2.5 .1h.5m-2.9 .1h.5m.3 0h.5m-2.8 .1h.5m-.7 0h.5m2.3 0h.5m-2.7 .1h.5m-.2 .2h.5m1.3 .1h.5m.4 .1h.5m-2.9 0h.5m.2 .1h.5m.5 .1h.5m2.5 0h.5m-1 0h.5m-2.6 .1h.5m.3 .1h.5m.6 0h.5m-1.3 0h.5m-2 0h.5m.2 0h.5m-2.7 .1h.5m2.2 .1h.5m-.4 0h.5m-2.2 .2h.5m-.4 0h.5m-2.9 0h.5m.6 .1h.5m-.5 .1h.5m-1.2 .2h.5m2.2 0h.5m-3 0h.5m-1.3 0h.5m3.7 0h.5m-2.5 .2h.5m-2.1 .1h.5m-.4 .2h.5m-.8 0h.5m4.2 .1h.5m-3 .1h.5m-2.6 0h.5m-.5 .1h.5m-.3 0h.5m-.2 .3h.5m-.4 .1h.5m2.5 0h.5m-2 .2h.5m1.4 .3h.5m-4.7 0h.5m1.3 .1h.5m.1 0h.5m-2.8 0h.5m-.9 .1h.5m-.6 .1h.5m3.1 0h.5m1.6 .1h.5m-.8 .2h.5m-4.7 0h.5m2.2 .1h.5m-.5 0h.5m-2.2 .1h.5m2.3 0h.5m-4.5 .2h.5m4.5 0h.5m-1.9 .2h.5m-.5 .5h.5m-4.4 .3h.5m.2 .2h.5m-.9 .1h.5m.7 .2h.5m-.7 0h.5m2.1 .1h.5m-4.5 0h.5m4.8 .1h.5m-3.9 .3h.5m1.5 0h.5m-2.3 .5h.5m-.1 .3h.5m-2.2 .1h.5m-.4 .1h.5m-1.3 .3h.5m2.5 0h.5m-.6 .1h.5m-3.7 .1h.5m4.2 0h.5m-2.6 0h.5m2.3 .4h.5m-4.1 .1h.5m.1 .1h.5m-.4 .1h.5m.8 .1h.5m1.1 0h.5m-2.8 .3h.5m-2.2 .1h.5m-2 0h.5m3.3 .6h.5m-3.8 0h.5m1.1 .1h.5m-2.5 .1h.5m4.9 .1h.5m-1.8 .3h.5m-1 0h.5m-1.8 .2h.5m-2.5 .2h.5m1.7 .2h.5m-.3 .2h.5m2.2 0h.5m-5.6 .1h.5m.2 .2h.5m.2 .2h.5m1 .2h.5m-.2 .1h.5m.3 0h.5m-1.1 .1h.5m-2.8 .1h.5m2.1 0h.5m-4 .1h.5m.3 0h.5m3.1 .2h.5m-2.5 0h.5m-.1 0h.5m1.6 .2h.5m-1.9 .3h.5m-2.5 .1h.5m-2.2 .1h.5m-.8 .1h.5m1.6 .4h.5m-.6 .1h.5m-.7 0h.5m-1.9 .1h.5m.6 .1h.5m1 0h.5m-1.6 0h.5m.1 .1h.5m1.6 0h.5m-.9 .2h.5m-.5 .2h.5m-2.9 .2h.5m.9 0h.5m-3.2 0h.5m-.1 0h.5m-1.3 .1h.5m1.7 .1h.5m1.2 .2h.5m-2.3 .1h.5m-1.7 0h.5m1.2 .1h.5m.5 .1h.5m-1.2 .6h.5m0 0h.5m-1.9 .3h.5m-2.2 .2h.5m-.5 .1h.5m-1.1 .8h.5m3 0h.5m.6 .1h.5m-1.6 .1h.5m-3.5 .7h.5m1.6 0h.5m.4 .3h.5m-.3 .4h.5m-3.7 .1h.5m.5 .6h.5m-2 .1h.5m.4 .7h.5m-1.1 .2h.5m1.7 .1h.5m-1.8 .1h.5m-1.1 0h.5m.3 .3h.5m2.7 .2h.5m-5.2 .4h.5m1.8 1.1h.5m-.8 0h.5m-2 .6h.5m-.7 .4h.5m.2 .3h.5m-1 .6h.5m4.5 .1h.5m-2.5 .4h.5m-.2 .4h.5m.9 .2h.5m-4.6 .8h.5m1.6 .4h.5m-3.5 3.4h.5m3.3 .7h.5m-2.1 3.7h.5m6.8-37.9h.5m-1.4 0h.5m2.4 .6h.5m-5.9 0h.5m.7 1h.5m3.2 0h.5m-2.7 .1h.5m2.2 .1h.5m-4.2 .2h.5m1.4 .1h.5m-4.2 .4h.5m-.2 .2h.5m-.2 .3h.5m-.2 .1h.5m1.9 .1h.5m-3.1 .3h.5m-.7 .1h.5m.3 .1h.5m2.6 .2h.5m-5 0h.5m-.4 .7h.5m3 .1h.5m-3.5 .2h.5m-1.3 0h.5m.8 .3h.5m1.4 0h.5m-3.5 .5h.5m2.1 .1h.5m1.7 .1h.5m-5.1 0h.5m2.1 .9h.5m-2.8 .2h.5m3.7 .2h.5m-4.8 .3h.5m2.7 1.5h.5m-4 .6h.5m4 .2h.5m.7 .9h.5m-4.4 0h.5m1.7 .1h.5m-2.7 .3h.5m-1.9 .3h.5m-.7 .3h.5m2.6 .5h.5m-2.2 0h.5m.6 .1h.5m-2.3 .3h.5m2.8 .1h.5m-4.7 .2h.5m-.7 .1h.5m3.7 1.2h.5m-3.5 .7h.5m1 .1h.5m-3 0h.5m1.1 .4h.5m2.5 .5h.5m-4.4 .6h.5m.2 1.1h.5m1.3 1.2h.5m-2.3 .6h.5m1.1 .6h.5m2.1 2.6h.5m-4.9 3.8h.5m-.6 .6h.5m-.7 .5h.5m2 .4h.5m-3.2 2.9h.5m-.6 2.5h.5m4 1.6h.5m-2.3 24.2h.5m3.2-55.1h.5m2.5 2.3h.5m1.2-2.6h.5m-.4 .4h.5m4.1 9.4h.5m-4.2 14.8h.5" stroke="#3348ff" stroke-width="0.55"/><path d="M246.6 744.7h.6m1.1 .2h.6m-1.4 1.3h.6m-1.2 1h.6m-1.7 .5h.6m-2.2 .2h.6m.8 .6h.6m2.7 .8h.6m-3 .4h.6m7.8-7.5h.6m-2.3 .2h.6m-4.3 1h.6m-1 .8h.6m2.7 .1h.6m-2 .1h.6m2.6 .4h.6m-.1 .1h.6m-.7 .4h.6m-.4 0h.6m-.4 .1h.6m-2.7 .3h.6m-1 .1h.6m1.9 .1h.6m-1.7 0h.6m-3.3 .1h.6m2.6 .1h.6m0 .2h.6m-6.6 .7h.6m4.2 0h.6m-.4 .1h.6m-.9 .2h.6m-4.8 .2h.6m.8 .1h.6m-1.3 0h.6m-1.1 .2h.6m4.1 .8h.6m-5.7 .4h.6m4.8 .2h.6m-3.7 .2h.6m1.9 .5h.6m-1.5 .3h.6m-2.9 1.8h.6m8-9.3h.6m.2 .1h.6m.1 .2h.6m-2.5 .3h.6m-2.6 0h.6m2.3 .5h.6m-2 .4h.6m1 .1h.6m-1.5 .1h.6m-1.4 .2h.6m1.2 .1h.6m-3.3 0h.6m.9 .1h.6m-3.3 0h.6m3.8 .2h.6m-5 0h.6m3.6 0h.6m-1.6 .4h.6m-3 .1h.6m1.1 0h.6m-2.5 .1h.6m3.1 0h.6m-4.9 0h.6m1.5 0h.6m-.1 .1h.6m-.8 0h.6m.4 0h.6m-1.8 .1h.6m-2.5 0h.6m2.3 .1h.6m-1.8 0h.6m-.6 0h.6m-3.3 .2h.6m3.1 0h.6m-2.3 .1h.6m1.1 0h.6m-3.6 .1h.6m1 0h.6m0 0h.6m1.1 0h.6m-3.7 0h.6m-1.2 0h.6m-.6 .1h.6m1.6 .1h.6m-.8 .1h.6m1.7 .1h.6m-.5 0h.6m-4.5 0h.6m.6 .1h.6m1.7 0h.6m-.8 0h.6m-2 .1h.6m-3.1 .1h.6m2.4 0h.6m-4 0h.6m0 .1h.6m2.2 .1h.6m-3.5 0h.6m-2 0h.6m4.8 0h.6m-2.1 .1h.6m-2.1 0h.6m-1.7 0h.6m0 .2h.6m-1.1 .2h.6m-.5 .1h.6m0 .1h.6m.6 0h.6m.4 .1h.6m-4.7 .1h.6m3.3 0h.6m.6 .1h.6m-3.1 0h.6m.6 .1h.6m-2.3 0h.6m1.6 .1h.6m-1.4 .3h.6m.8 .2h.6m-5.2 .3h.6m0 0h.6m3.4 0h.6m-.7 0h.6m-1.5 .6h.6m-4.5 .6h.6m2.5 .8h.6m2.7-10.3h.6m1.6 1.9h.6m-2.7 .2h.6m1.7 .2h.6m.8 0h.6m-.8 .4h.6m-4.2 0h.6m.6 .6h.6m2.5 .2h.6m-4.8 0h.6m1.7 .2h.6m-1.4 0h.6m-2 0h.6m.5 0h.6m1.5 .1h.6m-3 0h.6m2.1 .1h.6m-2.3 .2h.6m-.9 0h.6m-.8 .2h.6m-2.8 0h.6m-.3 .1h.6m1.6 0h.6m-1.9 0h.6m-.1 .1h.6m1.2 0h.6m-1.8 .1h.6m-1.7 .1h.6m2.1 0h.6m-.1 0h.6m.2 0h.6m-4.7 .1h.6m-1.7 .1h.6m4.9 0h.6m-4.5 .1h.6m3.5 .1h.6m-1.9 0h.6m-2.8 .1h.6m-2.8 0h.6m1.6 0h.6m-2.6 0h.6m3.3 0h.6m.3 0h.6m-5.6 .1h.6m-.3 0h.6m1.6 0h.6m1 .1h.6m-4.8 0h.6m5.3 .2h.6m-1.8 0h.6m-2.4 0h.6m-2.9 .1h.6m4.5 0h.6m-1.2 0h.6m-5.3 .1h.6m1.9 .1h.6m-2.2 0h.6m3 0h.6m-5.2 .1h.6m-.2 0h.6m1.2 .1h.6m1.9 .1h.6m-.6 .1h.6m-4.4 0h.6m2.9 0h.6m-1.8 0h.6m-1.6 .2h.6m1 .1h.6m-1 .1h.6m-3.1 .2h.6m.5 .1h.6m-2.7 0h.6m1 0h.6m1.1 .1h.6m-4.1 .1h.6m5.3 0h.6m-3.9 .1h.6m.9 .3h.6m-3.2 .1h.6m.2 .1h.6m-.4 .2h.6m-1.6 .1h.6m-.4 0h.6m9.5-7.7h.6m-3.1 1.9h.6m.5 .8h.6m-2 .1h.6m-3.6 .7h.6m3.3 0h.6m-2.6 .1h.6m-2.1 .2h.6m.5 0h.6m-1.4 .1h.6m1 .1h.6m-2.1 .2h.6m.3 .1h.6m0 .3h.6m-1.1 .3h.6m-2 .1h.6m.4 .5h.6m-.2 .4h.6m-1.7 0h.6m2.3 .1h.6m-2 .2h.6m-2.1 .1h.6m.1 .1h.6m.8 .8h.6m-3.1 .2h.6m-.7 0h.6m5.3-5.4h.6m.2 5.6h.6m5.9-4.4h.6" stroke="#1414d0" stroke-width="0.7"/><g filter="url(#db2)"><ellipse cx="248.6" cy="774.4" rx="9.9" ry="3.9" fill="#1c30f0" transform="rotate(-45 248.6 774.4)"/><ellipse cx="248.6" cy="774.4" rx="7.6" ry="3" fill="#18a0f0" transform="rotate(-45 248.6 774.4)"/><ellipse cx="248.6" cy="774.4" rx="5.4" ry="2.2" fill="#28d29a" transform="rotate(-45 248.6 774.4)"/><ellipse cx="248.6" cy="774.4" rx="3.3" ry="1.4" fill="#8ee040" transform="rotate(-45 248.6 774.4)"/><ellipse cx="248.6" cy="774.4" rx="1.5" ry="0.7" fill="#e0e030" transform="rotate(-45 248.6 774.4)"/></g></g><line x1="257.5" y1="723.4" x2="257.5" y2="790.5" stroke="#666" stroke-width="0.8"/><line x1="227" y1="757.5" x2="294.4" y2="757.5" stroke="#666" stroke-width="0.8"/><line x1="228.5" y1="790.5" x2="228.5" y2="792" stroke="#888" stroke-width="0.4"/><text x="228.5" y="795.3" font-size="3.2" text-anchor="middle" fill="#777">10</text><line x1="225.5" y1="789" x2="227" y2="789" stroke="#888" stroke-width="0.4"/><text x="224.8" y="790.1" font-size="3.2" text-anchor="end" fill="#777">10</text><line x1="241.4" y1="790.5" x2="241.4" y2="792" stroke="#888" stroke-width="0.4"/><text x="241.4" y="795.3" font-size="3.2" text-anchor="middle" fill="#777">10</text><line x1="225.5" y1="776.2" x2="227" y2="776.2" stroke="#888" stroke-width="0.4"/><text x="224.8" y="777.3" font-size="3.2" text-anchor="end" fill="#777">10</text><line x1="254.3" y1="790.5" x2="254.3" y2="792" stroke="#888" stroke-width="0.4"/><text x="254.3" y="795.3" font-size="3.2" text-anchor="middle" fill="#777">10</text><line x1="225.5" y1="763.4" x2="227" y2="763.4" stroke="#888" stroke-width="0.4"/><text x="224.8" y="764.5" font-size="3.2" text-anchor="end" fill="#777">10</text><line x1="267.1" y1="790.5" x2="267.1" y2="792" stroke="#888" stroke-width="0.4"/><text x="267.1" y="795.3" font-size="3.2" text-anchor="middle" fill="#777">10</text><line x1="225.5" y1="750.5" x2="227" y2="750.5" stroke="#888" stroke-width="0.4"/><text x="224.8" y="751.6" font-size="3.2" text-anchor="end" fill="#777">10</text><line x1="280" y1="790.5" x2="280" y2="792" stroke="#888" stroke-width="0.4"/><text x="280" y="795.3" font-size="3.2" text-anchor="middle" fill="#777">10</text><line x1="225.5" y1="737.7" x2="227" y2="737.7" stroke="#888" stroke-width="0.4"/><text x="224.8" y="738.8" font-size="3.2" text-anchor="end" fill="#777">10</text><line x1="292.9" y1="790.5" x2="292.9" y2="792" stroke="#888" stroke-width="0.4"/><text x="292.9" y="795.3" font-size="3.2" text-anchor="middle" fill="#777">10</text><line x1="225.5" y1="724.9" x2="227" y2="724.9" stroke="#888" stroke-width="0.4"/><text x="224.8" y="726" font-size="3.2" text-anchor="end" fill="#777">10</text><text x="294" y="731" font-size="7.8" text-anchor="end">18.03%</text><text x="260.4" y="802.9" font-size="8.6" text-anchor="middle">FITC-A</text><text x="219.9" y="757.4" font-size="8.4" text-anchor="middle" transform="rotate(-90 219.9 757.4)">PI-A</text>
<rect x="315.6" y="723.4" width="67.4" height="67.1" fill="#fff" stroke="#666" stroke-width="0.6"/><clipPath id="cp203"><rect x="315.6" y="723.4" width="67.4" height="67.1"/></clipPath><g clip-path="url(#cp203)"><g filter="url(#db)"><ellipse cx="338.5" cy="773.7" rx="15.1" ry="7" fill="#3a55ff" fill-opacity="0.6" transform="rotate(-42 338.5 773.7)"/><ellipse cx="354.7" cy="742.5" rx="4.7" ry="2.1" fill="#2238f0" fill-opacity="0.4" transform="rotate(-15 354.7 742.5)"/><ellipse cx="356" cy="742.2" rx="2.6" ry="1.6" fill="#2238f0" fill-opacity="0.6" transform="rotate(-10 356 742.2)"/></g><path d="M314.2 788.4h.5m1.3-11h.5m3.4 2.9h.5m.3 2.4h.5m-.2 .3h.5m-5.3 4.7h.5m2.3 5.3h.5m2.9-30.4h.5m3 3.5h.5m.4 .4h.5m-.7 1.8h.5m-.7 3.5h.5m-.7 4.2h.5m-.9 1h.5m-1.6 .5h.5m-1.2 .9h.5m2.2 .4h.5m-5.7 .6h.5m2.7 .3h.5m-.1 .3h.5m.1 .1h.5m0 .3h.5m-2 .6h.5m-1.1 0h.5m2.3 .4h.5m-2 .1h.5m-.5 .1h.5m-2.4 .2h.5m-.5 0h.5m3 1.5h.5m-1.9 .5h.5m-.5 .6h.5m-1.4 .5h.5m-1.5 .2h.5m1.3 .5h.5m.4 .1h.5m-2.4 .6h.5m.8 .2h.5m-.5 1.3h.5m-2.9 0h.5m.6 1.2h.5m-1.7 .1h.5m-2.3 .5h.5m2.9 .8h.5m6.1-44.4h.5m-.1 .5h.5m-1.6 13.1h.5m.5 2.1h.5m-.2 .1h.5m.3 2h.5m-4.1 .8h.5m2.7 .2h.5m-2.8 .1h.5m-3.4 .1h.5m4.8 .3h.5m-.3 1.1h.5m-1.2 .4h.5m-.8 .1h.5m-1.9 .2h.5m-1 .4h.5m2.4 .2h.5m-.8 .7h.5m-1.3 .4h.5m-1.8 0h.5m-1.3 .4h.5m2.8 .6h.5m-.8 .1h.5m-3.8 0h.5m2 .2h.5m-.2 .4h.5m-3.6 .1h.5m2.1 .3h.5m-1.4 .1h.5m.9 0h.5m-4.7 .1h.5m2.9 .2h.5m-2.6 .1h.5m2.9 .3h.5m-3.7 0h.5m-2.3 1.2h.5m4.5 .3h.5m-1.9 .2h.5m.5 .4h.5m-1.5 .1h.5m-1.3 .2h.5m.6 .1h.5m-.7 .1h.5m-1.8 0h.5m2.4 .1h.5m-1.5 .1h.5m-.5 0h.5m-.3 .1h.5m-3.9 .2h.5m3.1 .1h.5m-1.1 .3h.5m-3.7 .1h.5m2.2 0h.5m1 .2h.5m-.5 .2h.5m-.9 0h.5m-.4 0h.5m-.3 .1h.5m-1.4 .1h.5m-3.5 .1h.5m3.3 .1h.5m-1.7 .1h.5m-3.2 0h.5m1.6 .3h.5m-4.1 0h.5m2.3 .1h.5m1.5 .4h.5m-1 .1h.5m-2.3 0h.5m1.8 .2h.5m-5.1 0h.5m4.1 0h.5m0 0h.5m-1.6 .1h.5m-3.9 0h.5m1.8 0h.5m-1.9 0h.5m-.2 .1h.5m2.3 .1h.5m-2.3 .1h.5m2.1 .2h.5m-4.3 0h.5m2.5 .1h.5m-3.7 .1h.5m1.6 .1h.5m.9 .1h.5m-1.6 0h.5m1.1 0h.5m-1.6 .1h.5m-2.2 0h.5m-.9 0h.5m0 .2h.5m-3.5 0h.5m4.3 .1h.5m.3 0h.5m-.5 .4h.5m-5.6 0h.5m4.2 .1h.5m-4.1 .1h.5m1 .1h.5m-1.7 0h.5m-2.1 .1h.5m2 .1h.5m.9 .2h.5m-1.4 .2h.5m-2.1 .1h.5m-.3 0h.5m1.9 0h.5m-3 .1h.5m1.5 0h.5m-.1 .1h.5m1.2 .1h.5m-2 0h.5m-3.3 .1h.5m1.2 .5h.5m-1.5 .1h.5m-1.8 .1h.5m.9 .1h.5m.9 0h.5m.9 0h.5m-3.1 .1h.5m-2.3 0h.5m.8 0h.5m1 .1h.5m-1.6 .2h.5m-.8 .2h.5m.4 .1h.5m-2.1 0h.5m3.5 .2h.5m-2.8 .1h.5m-.9 0h.5m-1.4 0h.5m1.9 .1h.5m-.3 .1h.5m-2.2 0h.5m.6 .2h.5m1.3 0h.5m-2.6 .2h.5m-3.5 .2h.5m3 .2h.5m1.3 .2h.5m-2.9 0h.5m1.4 .1h.5m-2.3 .1h.5m-3.9 0h.5m-.1 .3h.5m1.7 .2h.5m1.6 0h.5m-1.1 .1h.5m-.3 .1h.5m-.8 .1h.5m-3.5 0h.5m2.9 .8h.5m-2.6 .2h.5m-.5 .1h.5m.4 .1h.5m.2 .2h.5m1.2 .4h.5m-3.1 1.1h.5m-.1 .2h.5m-2.9 .7h.5m-1.5 .1h.5m1.3 .9h.5m2.2 .5h.5m-5.1 .1h.5m5.1 3.1h.5m2-49.8h.5m3.2 1.1h.5m-3.8 .4h.5m1.1 .4h.5m0 0h.5m-2.1 .4h.5m1.5 .2h.5m-.8 .7h.5m-3.2 .2h.5m2.6 .1h.5m-4 .3h.5m3.4 1.1h.5m-.3 .2h.5m-2.3 0h.5m-2.7 .4h.5m-.9 .4h.5m-1.6 1h.5m4.9 4.1h.5m-3.5 2.7h.5m1.1 1.6h.5m1.2 1.1h.5m-3.8 .9h.5m2.1 .7h.5m-.9 .3h.5m.4 1.9h.5m-6.3 .3h.5m5.4 .5h.5m-.7 .1h.5m-1.8 .2h.5m.1 .3h.5m-1.9 .4h.5m1.9 .2h.5m-.7 .5h.5m-3.6 .3h.5m.7 .2h.5m.3 .3h.5m-3.6 0h.5m3.7 .1h.5m-.9 0h.5m-4.4 .1h.5m1.1 .3h.5m-.6 .3h.5m1.9 .1h.5m-.2 .1h.5m-.9 0h.5m-4.5 0h.5m3.4 0h.5m-2.3 0h.5m1.6 .2h.5m-2.5 .2h.5m-.6 0h.5m0 0h.5m1.2 .1h.5m-2.8 0h.5m.9 .2h.5m-3.4 0h.5m3 0h.5m-.7 .2h.5m.1 .1h.5m-4.9 0h.5m2 .1h.5m-.7 .1h.5m-2.9 .1h.5m1.9 0h.5m1.6 .1h.5m-.4 .1h.5m-1.9 0h.5m-4.5 .4h.5m.8 0h.5m-1.1 0h.5m1.7 0h.5m-2.6 0h.5m3.4 0h.5m-3.7 .1h.5m.7 .1h.5m-.1 0h.5m-2.7 0h.5m1.9 .2h.5m0 .2h.5m.1 0h.5m-1.4 0h.5m-.2 .1h.5m.7 0h.5m-3.2 .3h.5m-.9 0h.5m2.6 .1h.5m-2.8 .1h.5m.6 .1h.5m-1.6 .2h.5m-.5 .1h.5m-1.1 0h.5m1.3 .2h.5m-1.2 0h.5m-.9 0h.5m1.8 .1h.5m-4.8 0h.5m3.4 .1h.5m-4.1 .1h.5m2.7 0h.5m-2.1 .3h.5m.6 0h.5m-3.8 .2h.5m4.3 .2h.5m-5 0h.5m4.1 .1h.5m-.8 .1h.5m-1.3 0h.5m-1.4 .3h.5m.2 .2h.5m-.8 .1h.5m-2 .1h.5m2 .1h.5m-.9 0h.5m-.9 0h.5m-3.6 .1h.5m.1 0h.5m-1.8 0h.5m1.1 0h.5m-2.1 .1h.5m-.7 0h.5m1.8 0h.5m-.4 .1h.5m-.6 .1h.5m1.7 .1h.5m-1.8 0h.5m.6 .2h.5m-.3 .2h.5m-1.5 0h.5m-.7 .1h.5m-2.5 .1h.5m1.6 0h.5m-.9 0h.5m-.1 .1h.5m-2.7 0h.5m-1.4 .1h.5m2.7 .2h.5m-4.2 0h.5m1.1 .1h.5m-.5 0h.5m-1 0h.5m.5 .1h.5m-.3 0h.5m-2.7 .1h.5m.5 .1h.5m3 0h.5m.6 0h.5m-1 .1h.5m-3.9 0h.5m1.9 .1h.5m-3.6 0h.5m1.1 0h.5m-.6 .1h.5m1.8 0h.5m-3.7 0h.5m-1.2 .2h.5m1.6 0h.5m-3.2 0h.5m.7 .1h.5m-.6 .1h.5m.5 0h.5m1.6 .3h.5m-1.6 0h.5m-3.1 0h.5m3.3 .1h.5m-3.6 0h.5m-2.1 0h.5m.4 .1h.5m-.2 .1h.5m1.5 0h.5m-.1 0h.5m-2.4 .2h.5m2.8 .1h.5m-5.4 0h.5m.3 0h.5m-.5 0h.5m.7 .1h.5m-1.9 0h.5m2 .1h.5m-.1 0h.5m1.1 0h.5m-5.8 0h.5m.9 0h.5m0 0h.5m-2.1 .1h.5m5.1 0h.5m-1.2 .1h.5m-2.5 .1h.5m0 0h.5m-2.7 .1h.5m2.5 0h.5m-3.1 .1h.5m1.1 .2h.5m-.1 .1h.5m-3.2 .1h.5m3 0h.5m.3 0h.5m-2.6 .1h.5m1.9 0h.5m-4.7 .2h.5m-1.8 0h.5m0 0h.5m1.8 .1h.5m.5 .1h.5m-3.4 0h.5m3.3 .1h.5m-1.5 0h.5m-3.4 .1h.5m.3 0h.5m-1.9 .1h.5m-.1 .1h.5m-1.3 .2h.5m5.1 0h.5m-3.8 .1h.5m-.4 0h.5m1.2 .2h.5m-1.4 0h.5m1.1 .1h.5m-2.4 0h.5m1.3 .1h.5m-2.2 .1h.5m-.9 0h.5m1.6 .1h.5m-.1 0h.5m-4.8 .1h.5m-.1 0h.5m3.5 .1h.5m-3 .1h.5m1.2 .2h.5m.3 0h.5m-2.6 .2h.5m1.6 0h.5m-1 .1h.5m-4.6 .1h.5m3.2 0h.5m-2.6 0h.5m-.2 .4h.5m0 0h.5m-3.3 0h.5m3.4 .2h.5m-3.9 .1h.5m.7 0h.5m-1.8 .1h.5m2.3 .2h.5m-3.8 .1h.5m.7 .2h.5m1 0h.5m.6 .2h.5m.6 0h.5m-4.1 .3h.5m-.2 0h.5m-.2 .1h.5m3 .1h.5m-2 .1h.5m.9 .5h.5m-5.1 .1h.5m.4 .2h.5m.5 0h.5m-1.3 .1h.5m2.5 0h.5m-2.7 0h.5m.8 .1h.5m-3.7 0h.5m1.8 .1h.5m-2.3 .2h.5m-1.8 .2h.5m.2 .9h.5m2.9 .2h.5m-1.8 .1h.5m-1.6 .1h.5m2.6 0h.5m-5.1 .3h.5m3.3 .7h.5m-.3 .4h.5m-4.8 0h.5m.7 1.7h.5m6.6-47.2h.5m2.6 .2h.5m-2.8 1.1h.5m-3.4 .2h.5m.9 .3h.5m-.6 0h.5m.8 0h.5m1 .4h.5m-3.3 .3h.5m1.5 .1h.5m.2 .2h.5m-2.7 .1h.5m-1.8 0h.5m.3 .1h.5m-.1 0h.5m-1.5 .1h.5m-1.1 0h.5m5 .3h.5m-1 .2h.5m-4 0h.5m2.6 .3h.5m-.7 0h.5m-.5 0h.5m.3 .3h.5m-4.5 .1h.5m-1.6 .1h.5m-.4 .1h.5m2.1 0h.5m.4 .2h.5m-.8 0h.5m.8 .1h.5m-4 .1h.5m2.8 .1h.5m.5 .1h.5m-2.6 0h.5m1.2 .1h.5m-.9 0h.5m-2.1 .1h.5m.1 0h.5m-3.3 .1h.5m-1.8 .1h.5m.7 .1h.5m2.1 .7h.5m1.3 0h.5m-.9 .1h.5m-.6 .1h.5m-1.4 .2h.5m-4.5 .3h.5m3.1 .2h.5m-2.1 .3h.5m1.7 .2h.5m-2.3 .2h.5m-1.6 .8h.5m-1.6 .5h.5m4.5 .9h.5m-3.9 .1h.5m-1.2 .5h.5m3.9 .4h.5m-6.1 0h.5m5 1.9h.5m-1.6 .9h.5m-3.6 .1h.5m2.9 .2h.5m-3.3 .2h.5m-1.2 .5h.5m3.4 .3h.5m-.2 .5h.5m-1.1 .4h.5m-.7 .1h.5m-3.2 1h.5m-1.7 .2h.5m2.7 .1h.5m-3.3 .3h.5m3.8 .7h.5m-.8 .5h.5m.1 .1h.5m-4.9 .3h.5m2.9 0h.5m-3.7 .1h.5m3.3 0h.5m-3.6 .2h.5m-1.9 .1h.5m2.4 .2h.5m-.9 .2h.5m.4 .1h.5m-2.5 .1h.5m-.9 0h.5m-2 0h.5m3.6 .1h.5m-1.7 .4h.5m1.1 0h.5m-.5 .2h.5m-1.2 .1h.5m-.7 0h.5m-4.3 .4h.5m4.9 0h.5m-2.1 .1h.5m.2 0h.5m-.8 .1h.5m-.9 0h.5m.7 .1h.5m-1 .1h.5m-3.2 0h.5m2.5 .3h.5m-2 0h.5m-3.8 .1h.5m.2 .1h.5m0 .2h.5m3.8 0h.5m-1.2 0h.5m-5.3 .4h.5m3.1 .2h.5m.9 0h.5m-1.7 .1h.5m-1.7 .1h.5m1.6 .1h.5m-.8 .2h.5m-1.5 0h.5m-1.3 0h.5m1.3 .1h.5m.9 0h.5m-4.3 .1h.5m-1.7 .1h.5m.8 0h.5m-.3 .2h.5m2.6 .1h.5m-3.6 0h.5m-.2 0h.5m.3 0h.5m-3.7 .1h.5m3.6 0h.5m-4.6 0h.5m4.7 .1h.5m-3.3 0h.5m1.4 0h.5m-.8 .1h.5m-2.1 .1h.5m2.6 0h.5m-4.1 .1h.5m2.5 0h.5m-1 0h.5m-1.5 .1h.5m-1.7 0h.5m-1.2 .1h.5m-1.3 .2h.5m3.8 .1h.5m-1.5 0h.5m-1.7 .1h.5m-1 .1h.5m2.7 0h.5m-4 .3h.5m-.3 0h.5m-1.9 0h.5m1.8 .2h.5m-.5 .1h.5m0 .1h.5m-4.2 0h.5m.3 0h.5m3.5 .1h.5m-5.1 .1h.5m2.1 0h.5m-2.5 0h.5m2.3 0h.5m-3.8 0h.5m-1.1 .1h.5m.9 0h.5m-.1 .2h.5m.4 0h.5m2.8 0h.5m-2.9 .1h.5m1 0h.5m-4.2 .1h.5m-.9 .2h.5m1.7 0h.5m-3.7 0h.5m3.8 .2h.5m-4.7 0h.5m2.4 .1h.5m1.1 0h.5m-5 .1h.5m3.5 .2h.5m.2 .1h.5m-2.9 0h.5m-1.3 0h.5m-1 0h.5m.6 .1h.5m2.7 0h.5m-1 0h.5m-4.9 .1h.5m1 .1h.5m1.8 0h.5m-1.5 .1h.5m-1.4 0h.5m-.8 0h.5m2.2 .1h.5m-.6 .1h.5m-5.1 0h.5m4.1 0h.5m.2 0h.5m-1.3 0h.5m-3.7 .2h.5m2.3 0h.5m-3.2 0h.5m.4 .1h.5m-1.5 .1h.5m.3 .1h.5m2.6 0h.5m-1.9 0h.5m-2.8 0h.5m-.8 0h.5m1.2 0h.5m1.3 .1h.5m-1.2 0h.5m-.2 0h.5m-3.4 0h.5m-.6 .1h.5m-.7 0h.5m-.4 0h.5m2.8 .1h.5m-4.6 0h.5m.4 .1h.5m-.7 .1h.5m2.5 0h.5m-1.3 0h.5m-3.6 0h.5m1.3 .1h.5m-.6 0h.5m-.2 .1h.5m.3 .1h.5m-1.6 0h.5m-2.2 0h.5m4.5 0h.5m-5.4 0h.5m2.3 .1h.5m-1.4 0h.5m2.7 0h.5m-3.5 .1h.5m-.1 .1h.5m2.1 0h.5m-5.8 .1h.5m4.7 0h.5m-3.7 0h.5m-2.2 .2h.5m2.5 0h.5m-.3 .1h.5m-3.2 .2h.5m-.8 .1h.5m2.6 0h.5m0 .1h.5m-.5 .1h.5m1 0h.5m-5.4 0h.5m-.1 0h.5m3.7 .2h.5m-4 0h.5m2.8 0h.5m-2.3 .1h.5m-2.7 0h.5m-1.1 0h.5m.2 .3h.5m.7 .1h.5m1.1 0h.5m-1.7 .1h.5m1.1 0h.5m-4.9 .2h.5m-.3 0h.5m2.6 0h.5m-.5 .1h.5m-2.3 0h.5m3.1 0h.5m-.3 0h.5m-4.1 .2h.5m-1.7 0h.5m1.5 0h.5m-1 0h.5m-2 .1h.5m3 0h.5m-2.3 0h.5m-.5 0h.5m1.5 .1h.5m-1.5 0h.5m.9 .1h.5m-1.5 0h.5m-4.1 .1h.5m-.1 0h.5m3.3 .1h.5m-2.2 0h.5m-.4 .2h.5m2.2 .3h.5m-3.6 .1h.5m-1.8 .1h.5m2.8 0h.5m-2.6 0h.5m.4 .1h.5m-.6 0h.5m1.2 .1h.5m-1 .1h.5m-4.7 0h.5m-.6 .1h.5m4.2 0h.5m-2.1 .1h.5m.1 .2h.5m-2 0h.5m-.8 0h.5m-1.3 .1h.5m-.1 0h.5m-1 .1h.5m4.3 0h.5m-1.8 .1h.5m-1.8 .1h.5m-2.3 0h.5m1 .1h.5m-1.1 0h.5m-1 0h.5m2.3 0h.5m.1 .1h.5m-3.6 0h.5m2.7 .1h.5m-3.5 .1h.5m-1.7 0h.5m-1.5 0h.5m4 .1h.5m-1 .1h.5m-3.3 0h.5m1.6 .1h.5m-.9 0h.5m1.4 .2h.5m-3.8 0h.5m2.5 .3h.5m-4.5 .1h.5m4.4 .1h.5m-.1 0h.5m-6.2 0h.5m-.6 0h.5m2.1 .3h.5m-.1 0h.5m-2.5 .1h.5m1.2 0h.5m-.5 .2h.5m2.2 .2h.5m-3.9 .3h.5m-1 0h.5m-.1 .3h.5m-2.3 .1h.5m2 0h.5m-2.4 .1h.5m2.8 .1h.5m-3.7 .2h.5m-1.3 0h.5m2.5 .2h.5m.9 .3h.5m-1.9 .1h.5m-2.3 0h.5m.7 .2h.5m-2.6 .3h.5m.4 0h.5m.3 0h.5m.6 0h.5m-1.2 .1h.5m-1.7 0h.5m-.9 .1h.5m2.8 .1h.5m-.4 .8h.5m-3.9 .4h.5m.9 .1h.5m2.6 .6h.5m-.7 .3h.5m-.6 .1h.5m-5.5 .6h.5m.5 1.8h.5m3.6 1.8h.5m-3.6 3.2h.5m4.2-49.5h.5m1.1 .2h.5m-.1 .4h.5m1.9 0h.5m-5.4 .5h.5m0 .2h.5m2.8 .1h.5m.5 .2h.5m-.9 .2h.5m-3.6 .2h.5m3.5 .4h.5m-4.6 .2h.5m.8 .2h.5m2.2 .2h.5m-.1 0h.5m-5.4 0h.5m.5 .2h.5m-2.4 .2h.5m1.9 .1h.5m-2.2 0h.5m2.6 .1h.5m-1.5 .1h.5m1.2 .2h.5m-3.1 .1h.5m1.6 0h.5m-3.9 .6h.5m4.7 .5h.5m-.4 .2h.5m-2.8 .2h.5m-.5 .1h.5m-3.7 .2h.5m2.5 .3h.5m-3.8 0h.5m.8 .2h.5m1.1 0h.5m.5 .1h.5m-4.2 .1h.5m2 0h.5m-2.9 .1h.5m3.8 .1h.5m-2.9 .2h.5m1.6 .2h.5m-1.6 0h.5m-3 .2h.5m1.2 0h.5m0 .4h.5m2.3 .2h.5m-2.9 .2h.5m-2.4 0h.5m1.4 .2h.5m1.3 0h.5m-5.6 .1h.5m3.5 .2h.5m-1.4 .3h.5m.9 .1h.5m-.2 .5h.5m-4.3 1.3h.5m4 0h.5m-2.9 .1h.5m1.4 .1h.5m0 0h.5m-3.2 .4h.5m0 .3h.5m1.4 .2h.5m-.5 .6h.5m-3.2 .2h.5m.9 .2h.5m.6 .1h.5m-.6 .1h.5m-.7 .3h.5m-2.4 .3h.5m2.3 .1h.5m-.5 .1h.5m-4.5 0h.5m3.1 0h.5m-.9 .3h.5m-3.7 .4h.5m.2 .5h.5m-2.4 0h.5m1.1 0h.5m-2 .2h.5m4.3 0h.5m-1.1 .1h.5m-4 0h.5m-1.3 .2h.5m3.2 .1h.5m1.1 0h.5m-4.3 0h.5m.6 .2h.5m-1 0h.5m1.1 .2h.5m-3.3 .4h.5m.4 .3h.5m2.5 .4h.5m-5.5 .1h.5m1.5 .1h.5m-2 .1h.5m2.1 .1h.5m-.9 .3h.5m-.8 0h.5m2.3 .1h.5m-.8 .1h.5m-2.7 .1h.5m-1.2 .5h.5m.5 0h.5m-2.7 .1h.5m4.2 .1h.5m-3.4 .1h.5m-.9 0h.5m.8 .1h.5m-2.7 0h.5m-.3 .1h.5m.5 .1h.5m-.7 .2h.5m2.3 .2h.5m-5.8 .2h.5m2.5 0h.5m-1.4 0h.5m1.2 .1h.5m.3 0h.5m.5 .2h.5m-1.7 0h.5m-2.9 .2h.5m-.6 .1h.5m-2.3 .1h.5m2.5 0h.5m-.7 0h.5m1.9 0h.5m-2.3 .2h.5m-2.4 .3h.5m-1.1 0h.5m1.4 0h.5m-1.3 .1h.5m-2.5 .2h.5m.7 .1h.5m3.6 .1h.5m-1 0h.5m-2.6 .4h.5m-.6 .1h.5m-.3 .2h.5m-1.3 0h.5m-.7 .1h.5m-2.3 0h.5m.5 .2h.5m.3 .3h.5m1.4 .3h.5m-3.9 0h.5m4.7 0h.5m-2.3 .1h.5m1.4 .1h.5m-3.3 .1h.5m.9 .4h.5m.6 .3h.5m-5.2 .1h.5m1.2 0h.5m2.2 .2h.5m-.8 .1h.5m.2 .1h.5m-2.9 .1h.5m-3.3 0h.5m1.7 .1h.5m-1.1 .2h.5m-1.7 .2h.5m1.1 0h.5m.1 .2h.5m0 0h.5m-2.6 .1h.5m-1 .2h.5m1.8 0h.5m1 .1h.5m-1.4 .3h.5m-3.3 .2h.5m1.8 0h.5m-2.6 .1h.5m-.2 0h.5m-.6 .1h.5m3.8 0h.5m-5.2 .1h.5m2.7 0h.5m-1 .1h.5m-3.8 .1h.5m1.6 0h.5m1.5 .2h.5m-3.8 .1h.5m1.5 .1h.5m-2.6 .1h.5m2.9 0h.5m-3.6 .1h.5m-.9 .2h.5m-.3 .1h.5m1.6 .1h.5m1.8 0h.5m-3.3 .1h.5m-3.3 .2h.5m3.3 0h.5m-1.2 .1h.5m-3.4 0h.5m2.3 0h.5m1.7 .1h.5m-.3 .1h.5m-.2 0h.5m-6.2 .1h.5m3.4 .1h.5m-4.2 0h.5m2.6 0h.5m-3.9 .1h.5m-.4 .1h.5m.8 0h.5m-.6 .4h.5m2.2 0h.5m-3.1 .3h.5m.6 0h.5m-2 0h.5m-1.2 .3h.5m1.1 0h.5m-.9 .2h.5m-.3 0h.5m-.9 .1h.5m3.3 .2h.5m-1.4 0h.5m-3.8 .1h.5m1.3 .2h.5m.6 .3h.5m-2.7 .1h.5m-1.5 0h.5m.7 .3h.5m-2 .2h.5m1.1 .3h.5m-.4 0h.5m1.7 .1h.5m-1.6 0h.5m-3.5 .2h.5m0 .1h.5m-.6 0h.5m-.4 .4h.5m4 .3h.5m-5 .1h.5m1.9 .1h.5m-3 0h.5m3.5 .2h.5m-3.7 0h.5m-1.7 .7h.5m3.8 .4h.5m-4.9 .1h.5m1.9 .1h.5m.8 0h.5m-3.9 .1h.5m.7 0h.5m2.1 .7h.5m-2.3 .3h.5m-.9 .2h.5m-2.1 .6h.5m.2 1.1h.5m-.5 1.4h.5m-.6 2.5h.5m-1.1 1.1h.5m5.5-45h.5m.1 .3h.5m1.1 .4h.5m-2 .1h.5m-.7 .5h.5m1.4 .1h.5m1.4 .2h.5m-4.2 0h.5m2.2 .1h.5m-2 .1h.5m-1.7 .2h.5m3 0h.5m-.3 .3h.5m-3.2 0h.5m1.7 .1h.5m.7 .1h.5m-2.1 .2h.5m-2.6 .1h.5m.7 .1h.5m-.5 .1h.5m2.3 0h.5m-3.5 .1h.5m-.9 .2h.5m2.5 0h.5m-4.5 0h.5m2.5 .1h.5m-1.9 0h.5m2.3 0h.5m-3.3 0h.5m-1.3 0h.5m2.9 .1h.5m-2.6 .1h.5m-1.7 0h.5m-.7 .1h.5m.7 0h.5m-1.9 0h.5m1 .1h.5m-.5 0h.5m1.4 .2h.5m-2.1 .1h.5m.9 0h.5m-3.5 .1h.5m1.7 .1h.5m-.5 .2h.5m.9 0h.5m-3.5 .2h.5m.7 0h.5m.6 .1h.5m-2.8 .4h.5m-2.9 .1h.5m.9 .2h.5m1.4 0h.5m-2 .2h.5m1.2 0h.5m-.9 .1h.5m-3.4 .3h.5m4.3 0h.5m-1 .1h.5m-4.4 .6h.5m.1 .2h.5m2.4 .3h.5m-3.9 .5h.5m-.5 .2h.5m1.5 0h.5m-2.4 .1h.5m0 .6h.5m-.9 1.2h.5m2.7 .1h.5m-2.3 .1h.5m2.4 .3h.5m-2.6 .1h.5m-3.5 .7h.5m-.4 .2h.5m1.6 .3h.5m-1.9 0h.5m2.1 .1h.5m-1.4 .1h.5m2.3 .1h.5m-.8 .1h.5m-5.2 .1h.5m1.7 0h.5m-2.5 .1h.5m4.1 .1h.5m-3.6 .3h.5m2.9 .2h.5m-2 .6h.5m-4.6 .4h.5m2.2 .1h.5m1.2 .4h.5m-.9 .2h.5m-.7 .3h.5m-3.7 .3h.5m3.2 0h.5m-.8 0h.5m.3 .1h.5m-5.1 .6h.5m-.6 .4h.5m4.5 0h.5m-3.4 .1h.5m-1.5 0h.5m3.9 .4h.5m-3.6 .7h.5m-.4 .5h.5m-2.3 0h.5m1.2 .6h.5m-2.8 .4h.5m3 .6h.5m-2.7 .1h.5m1.5 .2h.5m-2.8 .5h.5m-1 .2h.5m2.1 0h.5m-1.1 .2h.5m2 .1h.5m-3.2 1.1h.5m.2 .4h.5m-2.1 .5h.5m-.3 .1h.5m0 .1h.5m-1.9 .1h.5m-.7 .4h.5m.9 .5h.5m.3 0h.5m-.4 .1h.5m-2.7 0h.5m-.2 .1h.5m1.2 .3h.5m-1.2 .5h.5m-1.7 .3h.5m.4 .2h.5m-.4 .4h.5m1.8 0h.5m-4.6 .4h.5m2.1 .1h.5m-1.4 .1h.5m2.6 .4h.5m-5 .3h.5m1.1 .8h.5m-2.3 .3h.5m.5 .1h.5m1.3 .5h.5m-2.4 .1h.5m1.9 .3h.5m-1.7 .1h.5m3.2 0h.5m-6.1 .1h.5m1.5 .1h.5m2.2 1.2h.5m-2.5 .1h.5m-1.3 .1h.5m-2 .1h.5m3.1 .8h.5m-3.9 .1h.5m.7 0h.5m-.4 0h.5m-1.5 .3h.5m-.9 .8h.5m2 .3h.5m-3.4 0h.5m1.7 .5h.5m-.4 .6h.5m-1.9 .7h.5m-.9 .5h.5m0 6.8h.5m4.1-44.1h.5m1.1 2h.5m-1.8 1h.5m.5 0h.5m-.3 .3h.5m.9 .4h.5m2 .2h.5m-4.4 0h.5m-1.1 .5h.5m-.4 .1h.5m-1.4 .1h.5m1.3 .1h.5m-1 .1h.5m3.5 0h.5m-.6 .4h.5m-5 0h.5m-1.2 .1h.5m-.1 .2h.5m-.9 .2h.5m-.6 .1h.5m2.7 .2h.5m.2 .1h.5m-3.6 0h.5m3.8 4.1h.5m-5.5 .6h.5m-.7 1h.5m.6 .2h.5m-1 3.7h.5m1.1 .8h.5m-2.5 .3h.5m-.3 .3h.5m1.6 .6h.5m2.4 1.2h.5m-3.7 2.4h.5m-1.5 .8h.5m-1.1 2.8h.5m4.7 .3h.5m-4.4 2.4h.5m1.6 8.6h.5m-2.8 12.3h.5m7.7-49.3h.5m-2.7 16h.5m-2.1 .8h.5m4.8 7.9h.5m-4.3 1.3h.5m2.2 12h.5" stroke="#3348ff" stroke-width="0.55"/><path d="M347.3 738.4h.6m2.2 3.3h.6m-5.4 .4h.6m4.4 .5h.6m-.8 0h.6m-.9 .9h.6m-4 .4h.6m-.2 .7h.6m2.4 .2h.6m0 .1h.6m-.3 .8h.6m2.5-6.6h.6m2.6 .6h.6m-1.2 .6h.6m-1.8 .1h.6m-1.3 0h.6m-.5 .1h.6m-2.8 .2h.6m2.9 .2h.6m.3 0h.6m-2.6 0h.6m-1.1 .1h.6m1 .1h.6m-1.9 .2h.6m-.7 .1h.6m-2.5 0h.6m3.5 0h.6m-2.4 .2h.6m1.4 0h.6m-1.9 0h.6m-1.2 .1h.6m0 0h.6m-.3 0h.6m-.8 0h.6m-1.5 .1h.6m-3.7 0h.6m4.7 0h.6m-5.3 0h.6m-1.4 .1h.6m.7 0h.6m.8 .1h.6m.5 .1h.6m-1.7 0h.6m.7 0h.6m-1.9 .1h.6m-2.6 0h.6m2.8 .1h.6m-.1 0h.6m-.7 0h.6m.2 0h.6m-4.8 0h.6m2.6 .1h.6m.5 .1h.6m-1.7 0h.6m-3.4 .2h.6m.2 .1h.6m2.4 .1h.6m-3.9 .1h.6m.2 0h.6m0 0h.6m0 .1h.6m-1.4 0h.6m-3.9 0h.6m4.7 0h.6m-3.4 .1h.6m1.1 .2h.6m-1.5 0h.6m-.7 0h.6m-3.9 0h.6m.6 .1h.6m1.8 0h.6m-2.6 0h.6m1.4 0h.6m-.7 .1h.6m-1.5 0h.6m.1 0h.6m-.5 .1h.6m.7 .1h.6m-2.3 .1h.6m-1.9 .1h.6m-1.6 .2h.6m1.8 0h.6m-.7 0h.6m.1 .1h.6m-2.5 .1h.6m1.6 .1h.6m-4.8 .1h.6m1 0h.6m3.7 .2h.6m-4 .1h.6m4.1-5.4h.6m1.2 .6h.6m0 0h.6m-3.1 .1h.6m-.2 .3h.6m-.3 .1h.6m-2.1 .1h.6m1.2 .2h.6m-.4 .2h.6m-1.6 .1h.6m-1 .3h.6m-1.6 .1h.6m3.2 .1h.6m-2.8 0h.6m-2 0h.6m.2 .1h.6m-1.2 .1h.6m-.8 0h.6m.2 0h.6m-1 0h.6m-.8 0h.6m-.7 .3h.6m.3 .2h.6m-.5 .4h.6m-.2 0h.6m-1.6 0h.6m3.3 0h.6m-5.1 .2h.6m3.8 .1h.6m-4.3 .1h.6m-.6 .1h.6m-.4 0h.6m-.8 .2h.6m-.9 0h.6m-.7 .1h.6m-.6 1.1h.6m-.2 1.3h.6" stroke="#1414d0" stroke-width="0.7"/><g filter="url(#db2)"><ellipse cx="338.5" cy="773.7" rx="10.4" ry="4.1" fill="#1c30f0" transform="rotate(-42 338.5 773.7)"/><ellipse cx="338.5" cy="773.7" rx="8.1" ry="3.1" fill="#18a0f0" transform="rotate(-42 338.5 773.7)"/><ellipse cx="338.5" cy="773.7" rx="5.8" ry="2.2" fill="#28d29a" transform="rotate(-42 338.5 773.7)"/><ellipse cx="338.5" cy="773.7" rx="3.5" ry="1.4" fill="#8ee040" transform="rotate(-42 338.5 773.7)"/><ellipse cx="338.5" cy="773.7" rx="1.6" ry="0.8" fill="#e0e030" transform="rotate(-42 338.5 773.7)"/></g></g><line x1="346.5" y1="723.4" x2="346.5" y2="790.5" stroke="#666" stroke-width="0.8"/><line x1="315.6" y1="757.5" x2="383" y2="757.5" stroke="#666" stroke-width="0.8"/><line x1="317.1" y1="790.5" x2="317.1" y2="792" stroke="#888" stroke-width="0.4"/><text x="317.1" y="795.3" font-size="3.2" text-anchor="middle" fill="#777">10</text><line x1="314.1" y1="789" x2="315.6" y2="789" stroke="#888" stroke-width="0.4"/><text x="313.4" y="790.1" font-size="3.2" text-anchor="end" fill="#777">10</text><line x1="330" y1="790.5" x2="330" y2="792" stroke="#888" stroke-width="0.4"/><text x="330" y="795.3" font-size="3.2" text-anchor="middle" fill="#777">10</text><line x1="314.1" y1="776.2" x2="315.6" y2="776.2" stroke="#888" stroke-width="0.4"/><text x="313.4" y="777.3" font-size="3.2" text-anchor="end" fill="#777">10</text><line x1="342.9" y1="790.5" x2="342.9" y2="792" stroke="#888" stroke-width="0.4"/><text x="342.9" y="795.3" font-size="3.2" text-anchor="middle" fill="#777">10</text><line x1="314.1" y1="763.4" x2="315.6" y2="763.4" stroke="#888" stroke-width="0.4"/><text x="313.4" y="764.5" font-size="3.2" text-anchor="end" fill="#777">10</text><line x1="355.7" y1="790.5" x2="355.7" y2="792" stroke="#888" stroke-width="0.4"/><text x="355.7" y="795.3" font-size="3.2" text-anchor="middle" fill="#777">10</text><line x1="314.1" y1="750.5" x2="315.6" y2="750.5" stroke="#888" stroke-width="0.4"/><text x="313.4" y="751.6" font-size="3.2" text-anchor="end" fill="#777">10</text><line x1="368.6" y1="790.5" x2="368.6" y2="792" stroke="#888" stroke-width="0.4"/><text x="368.6" y="795.3" font-size="3.2" text-anchor="middle" fill="#777">10</text><line x1="314.1" y1="737.7" x2="315.6" y2="737.7" stroke="#888" stroke-width="0.4"/><text x="313.4" y="738.8" font-size="3.2" text-anchor="end" fill="#777">10</text><line x1="381.5" y1="790.5" x2="381.5" y2="792" stroke="#888" stroke-width="0.4"/><text x="381.5" y="795.3" font-size="3.2" text-anchor="middle" fill="#777">10</text><line x1="314.1" y1="724.9" x2="315.6" y2="724.9" stroke="#888" stroke-width="0.4"/><text x="313.4" y="726" font-size="3.2" text-anchor="end" fill="#777">10</text><text x="382.6" y="731" font-size="7.8" text-anchor="end">12.82%</text><text x="349" y="802.9" font-size="8.6" text-anchor="middle">FITC-A</text><text x="308.5" y="757.4" font-size="8.4" text-anchor="middle" transform="rotate(-90 308.5 757.4)">PI-A</text>
<rect x="43" y="811.5" width="67.4" height="67.1" fill="#fff" stroke="#666" stroke-width="0.6"/><clipPath id="cp204"><rect x="43" y="811.5" width="67.4" height="67.1"/></clipPath><g clip-path="url(#cp204)"><g filter="url(#db)"><ellipse cx="58.8" cy="857.8" rx="16.8" ry="7.8" fill="#3a55ff" fill-opacity="0.6" transform="rotate(-40 58.8 857.8)"/><ellipse cx="83.4" cy="828.9" rx="6.2" ry="3.4" fill="#2238f0" fill-opacity="0.3" transform="rotate(-55 83.4 828.9)"/></g><path d="M38.9 846.3h.5m-1 21.5h.5m0 6.6h.5m-1.6 3.7h.5m5.5-22.3h.5m-.7 .1h.5m-.5 1.5h.5m-.8 3.9h.5m-.4 1.5h.5m-1.3 .2h.5m1.9 .9h.5m-5.4 1.3h.5m.4 .4h.5m.7 0h.5m-2.7 1.4h.5m3.2 1.6h.5m-4.6 .1h.5m.1 .3h.5m1.1 .1h.5m1.4 .4h.5m-.9 0h.5m-4.2 .2h.5m1.3 1.4h.5m-1.4 .6h.5m2.7 0h.5m-1.7 .4h.5m1.8 .8h.5m-1.5 .1h.5m-1 .9h.5m-2.1 .9h.5m2 1.3h.5m-1.4 .1h.5m-2.4 1.7h.5m4.2-34.7h.5m3.7 1.6h.5m-4 .1h.5m1.5 1.5h.5m.8 4.5h.5m-.7 .4h.5m.3 .1h.5m-1.2 .2h.5m-3.4 .4h.5m-2.2 .7h.5m3.8 .4h.5m-1.6 .7h.5m-.8 .4h.5m-2.2 0h.5m-.4 .3h.5m3.1 .3h.5m-.2 .2h.5m-2.3 .7h.5m1.7 .2h.5m-3.3 .1h.5m-.6 .2h.5m1.7 0h.5m-.7 .3h.5m-.6 .1h.5m-.2 .2h.5m-4.8 .1h.5m1.4 .3h.5m2.3 .2h.5m-1.3 .7h.5m.5 .2h.5m-.6 .2h.5m-4.2 .2h.5m2 .4h.5m0 .2h.5m-3.6 .1h.5m-2.1 .1h.5m4.8 .4h.5m-.2 .1h.5m-5.5 .1h.5m2.6 .1h.5m0 .1h.5m.8 0h.5m-.5 .4h.5m-1.1 .1h.5m-3 .4h.5m-1 0h.5m-1.6 .1h.5m3.9 0h.5m-3.4 .1h.5m-.2 0h.5m1.2 .1h.5m-2.3 .1h.5m1 .1h.5m-3 .3h.5m1.8 0h.5m.1 .2h.5m-.4 .2h.5m-3.9 .1h.5m2.3 0h.5m.1 .1h.5m-3 .2h.5m2 .1h.5m.3 .1h.5m-1.2 .1h.5m-2.9 0h.5m-2.2 .1h.5m.1 .1h.5m2.9 .1h.5m-2 .1h.5m.7 0h.5m.3 0h.5m-3.9 .3h.5m.6 0h.5m1.6 .1h.5m-3.8 .2h.5m-.8 .1h.5m-1 .5h.5m1.4 0h.5m-2.1 0h.5m3.5 .1h.5m-2.8 .1h.5m-.4 .1h.5m.2 0h.5m-.8 0h.5m-.5 .2h.5m-1.4 .3h.5m-1 0h.5m0 0h.5m.8 .1h.5m-2.6 .1h.5m1.5 .3h.5m-2.2 .1h.5m2.3 0h.5m-5.3 .1h.5m3.3 .1h.5m-2.5 .1h.5m-.3 0h.5m-.6 .2h.5m.7 0h.5m-.2 .2h.5m-3.1 .1h.5m2.9 .3h.5m-4 .1h.5m2.3 .2h.5m1.2 .2h.5m-.7 .4h.5m-1.8 .6h.5m-2.3 .3h.5m-2.1 .1h.5m1.7 0h.5m-.8 .2h.5m2.3 0h.5m-.3 .1h.5m-1.1 .1h.5m-1.4 .2h.5m-1 .5h.5m-1 .2h.5m-.8 .3h.5m2.9 1.2h.5m-5 .1h.5m2.6 .1h.5m-1 .5h.5m1 .4h.5m-5.8 .4h.5m3 .2h.5m.4 .3h.5m-2.3 .9h.5m-2.1 .9h.5m2 .8h.5m1.4 2.4h.5m5.4-43.9h.5m-3 .7h.5m-.4 5.2h.5m-.3 .5h.5m1.3 1.7h.5m.2 1.1h.5m-2.2 .5h.5m.4 2.1h.5m-4.6 .2h.5m2 .4h.5m-3.7 .5h.5m4.4 .6h.5m-.2 1.2h.5m-3.7 .5h.5m1 .6h.5m1.5 .1h.5m-2.9 0h.5m-3.8 1h.5m4.3 .2h.5m-.3 0h.5m0 .2h.5m-3.8 .1h.5m-.4 .2h.5m.8 .2h.5m.3 0h.5m-1.2 .4h.5m-.3 0h.5m.3 .1h.5m-2.4 .1h.5m-.8 .2h.5m-3 .1h.5m3.5 0h.5m-4.2 .4h.5m2.1 0h.5m.6 0h.5m-2.4 .1h.5m.2 .1h.5m2.3 0h.5m-5.1 .4h.5m3.8 0h.5m-1.7 0h.5m-3.4 .1h.5m-1 .1h.5m1.1 .1h.5m1.8 0h.5m-1.6 0h.5m-1.1 .3h.5m-1.5 0h.5m-.6 .1h.5m1.1 .2h.5m.1 .2h.5m-3.7 .3h.5m.6 .2h.5m3.3 .2h.5m-2.1 .2h.5m-3.1 .1h.5m2.8 0h.5m.4 0h.5m-4.6 0h.5m.1 .2h.5m-.3 0h.5m1.3 0h.5m-2.8 0h.5m2.5 .1h.5m-.8 0h.5m-2.3 .1h.5m1.6 0h.5m-2.1 .1h.5m-3.1 .1h.5m2.9 .1h.5m-3.3 0h.5m-1.4 .1h.5m3.5 .1h.5m-4.7 .1h.5m-.6 0h.5m3.7 .1h.5m-4.3 .2h.5m.5 0h.5m2.3 .1h.5m-.7 .1h.5m-1 0h.5m-2.5 0h.5m-1.1 0h.5m1.6 .1h.5m-.3 0h.5m-.9 0h.5m1.4 .1h.5m-4.2 .1h.5m3.1 0h.5m-1.9 0h.5m-3.3 0h.5m4.5 .2h.5m-.2 0h.5m-1.6 .1h.5m-4.8 0h.5m-.2 .2h.5m1.8 .1h.5m-3.1 0h.5m3.5 .1h.5m-.9 .1h.5m-1.8 .1h.5m-.6 0h.5m2.5 .1h.5m-2.6 0h.5m-.6 .2h.5m.7 0h.5m.7 .1h.5m-4.4 .1h.5m.8 0h.5m-.7 .1h.5m-3.5 0h.5m4.7 0h.5m-1.2 .1h.5m-3 .1h.5m-.5 .1h.5m-.1 0h.5m2 .1h.5m.4 .1h.5m-5.1 0h.5m2.6 0h.5m-4.5 0h.5m2.8 0h.5m1.2 .1h.5m-1.2 0h.5m.7 .2h.5m-2.5 .1h.5m-3.2 .1h.5m-.5 0h.5m2.2 0h.5m-4.3 .1h.5m4.8 0h.5m-3.2 0h.5m-1.2 .1h.5m.4 .1h.5m-1.1 0h.5m.1 .1h.5m.5 0h.5m-1 .2h.5m0 .3h.5m-3.2 0h.5m-.5 .1h.5m3.8 0h.5m-3.4 .1h.5m-2.6 .1h.5m4.1 0h.5m.1 .1h.5m-2 .1h.5m-3.7 0h.5m-.1 0h.5m1.8 0h.5m-3.9 .1h.5m4.5 0h.5m-3 .2h.5m.3 0h.5m1.9 0h.5m-3.3 .1h.5m1.9 0h.5m-5.8 0h.5m1.1 0h.5m3.4 .1h.5m-3.1 0h.5m.5 .1h.5m-2.8 0h.5m-2.4 .2h.5m-.4 .2h.5m1.8 0h.5m1.7 0h.5m.5 0h.5m-5.6 0h.5m4 .2h.5m.4 .1h.5m-5.9 0h.5m.3 .1h.5m3.9 0h.5m-2.4 .3h.5m-1.2 .3h.5m-3.4 .2h.5m0 0h.5m4.3 .1h.5m-2.8 0h.5m1.3 0h.5m-3.9 .1h.5m-1.5 .2h.5m1.8 .1h.5m-2.4 .1h.5m.9 .1h.5m.5 .1h.5m-3.6 .1h.5m1.8 0h.5m1.5 .4h.5m-4.8 0h.5m-.6 0h.5m1.8 0h.5m.6 .1h.5m-1.5 .1h.5m.7 0h.5m.6 .3h.5m-4.2 .1h.5m1.8 .1h.5m-2.6 .2h.5m2.6 .1h.5m-.5 .1h.5m-4.2 .2h.5m2.2 0h.5m-3.1 0h.5m-.7 0h.5m4.2 .3h.5m-4.6 .1h.5m1.9 0h.5m.4 .8h.5m-.4 .2h.5m.4 .4h.5m-5.4 0h.5m-.8 .1h.5m-.2 0h.5m3.4 .4h.5m-2.2 .5h.5m-2.6 0h.5m4.6 .2h.5m-4.4 .1h.5m-1 0h.5m2.3 .3h.5m-4.6 .3h.5m-.1 0h.5m2.3 .1h.5m-3.8 .4h.5m-.3 1.3h.5m.2 .9h.5m9.9-43.4h.5m-.2 9.2h.5m-1.7 1.9h.5m-2.5 1.7h.5m2.4 .8h.5m-1.4 .5h.5m-.3 .1h.5m-3.2 .2h.5m2.2 1.1h.5m-3.8 .2h.5m4.1 .4h.5m-5.1 .1h.5m2.6 .1h.5m-4.1 .1h.5m-.4 .2h.5m1.4 .1h.5m-.9 .1h.5m-1.2 .5h.5m-.2 .5h.5m2.4 .4h.5m-4.3 0h.5m.1 .1h.5m3 .2h.5m-2.5 .3h.5m.3 .5h.5m.4 0h.5m-.1 .1h.5m-4.7 .3h.5m1.5 .2h.5m1.5 .1h.5m-4.5 .1h.5m2.5 .2h.5m-1.4 0h.5m-.5 .2h.5m1.9 .2h.5m-3.4 0h.5m.9 0h.5m-.9 .1h.5m-3 .1h.5m2.5 .1h.5m-.3 0h.5m.5 .5h.5m-2.3 .1h.5m1.4 .2h.5m-3.3 .1h.5m-2.8 0h.5m3 0h.5m-2.7 0h.5m.9 0h.5m-.6 .3h.5m-.9 0h.5m-1.3 0h.5m-.5 .1h.5m1.5 .3h.5m1.4 0h.5m-5.2 0h.5m-.1 0h.5m.6 .1h.5m-2.6 .1h.5m5 .1h.5m-2.2 .1h.5m-.2 0h.5m-1.4 .1h.5m-2.4 0h.5m3 .1h.5m-.7 0h.5m-.8 .1h.5m-4.2 0h.5m2.1 .1h.5m1.5 .1h.5m-.5 0h.5m-4.8 .1h.5m-1.1 .1h.5m1.8 0h.5m-.4 0h.5m-1.4 .1h.5m1 0h.5m-2.8 .1h.5m1.9 .1h.5m-2.1 0h.5m.4 .1h.5m-1.9 0h.5m.2 0h.5m-2.7 .2h.5m2.3 0h.5m-3.3 0h.5m.6 .1h.5m-1 0h.5m1 .2h.5m1.6 .1h.5m.3 .1h.5m-4.2 0h.5m2.4 0h.5m.7 .1h.5m-.9 .1h.5m-3.3 .1h.5m-1.3 0h.5m-1.8 0h.5m4.5 .3h.5m-1 .1h.5m-5 0h.5m-.9 .1h.5m.5 .2h.5m4.1 .1h.5m-1.4 .1h.5m-3.9 0h.5m.4 .1h.5m1.4 .1h.5m-.4 .1h.5m-4.7 0h.5m3.2 .1h.5m-3.6 .1h.5m1.8 0h.5m-1 0h.5m-2.9 0h.5m5.3 .2h.5m-4.5 0h.5m1.5 .1h.5m.3 .1h.5m-2.9 0h.5m1.5 .3h.5m-4.1 0h.5m.7 .1h.5m3 0h.5m-2.1 .2h.5m-3 0h.5m1.8 .1h.5m.1 0h.5m-3.6 .1h.5m1.7 0h.5m1.2 0h.5m-1.1 .1h.5m0 0h.5m-.5 0h.5m-3 .1h.5m1.3 0h.5m.8 .1h.5m-4.7 0h.5m.4 0h.5m.7 .1h.5m-2.1 .1h.5m2 0h.5m-3.6 .1h.5m-1 0h.5m-.5 .1h.5m1.9 0h.5m-1.5 0h.5m.8 0h.5m-3.8 .1h.5m3 0h.5m.4 .1h.5m.3 0h.5m-1.2 .1h.5m-4.6 0h.5m2 0h.5m.5 0h.5m.5 .2h.5m-2.8 0h.5m.7 .1h.5m-1.4 0h.5m.9 0h.5m-1.5 .1h.5m-.4 0h.5m-.3 0h.5m.3 .1h.5m-.9 .2h.5m.3 0h.5m-3.1 0h.5m-.9 .1h.5m1.5 0h.5m-3.3 0h.5m2.7 0h.5m-1.6 .2h.5m1.7 0h.5m-5.2 0h.5m3.7 .1h.5m-2.8 0h.5m-1.8 0h.5m.4 0h.5m3.2 0h.5m-4.6 .1h.5m-1.4 .1h.5m1.3 0h.5m.9 0h.5m.7 .1h.5m-4.5 .1h.5m4.3 0h.5m-1 .1h.5m-3.7 .2h.5m-2.8 .1h.5m4.4 .1h.5m-2.5 .1h.5m-1.2 .1h.5m1.8 0h.5m-.3 0h.5m-.1 .3h.5m-.7 .2h.5m-4.4 .2h.5m.3 0h.5m-1.9 .1h.5m4.8 .1h.5m-5.6 0h.5m2 .1h.5m-2 0h.5m3.7 0h.5m-3.1 .4h.5m-2.6 0h.5m2.3 .4h.5m-1.9 .1h.5m-2.8 0h.5m.4 0h.5m.5 .1h.5m-.6 .2h.5m-.2 0h.5m-.7 0h.5m-2.4 .2h.5m1.5 0h.5m-2.7 .1h.5m4.3 .1h.5m-3.6 .2h.5m-1.8 .1h.5m4.5 0h.5m-3.9 .1h.5m3.4 0h.5m-5.8 0h.5m.6 .2h.5m-.9 .3h.5m-1.7 .1h.5m4.6 .1h.5m.1 .2h.5m-.9 0h.5m-2.3 .2h.5m1.3 .1h.5m-2.9 .4h.5m.3 0h.5m-1.4 .4h.5m-.1 0h.5m-3.3 .1h.5m-.8 .2h.5m2.2 0h.5m.2 .2h.5m-4.1 .1h.5m.7 0h.5m-1.6 .1h.5m2.1 .5h.5m-2.4 1.2h.5m-.8 .2h.5m.6 .2h.5m7.5-43.7h.5m-1.8 4.6h.5m2.2 2.6h.5m-1.9 .7h.5m-4 2.4h.5m0 1h.5m4.4 .2h.5m-2.6 .1h.5m1.1 .8h.5m-1.2 .8h.5m-2.9 1.7h.5m.8 .1h.5m1.6 .3h.5m-3.7 .7h.5m1.2 .2h.5m1.3 .7h.5m-1.1 .4h.5m-4.4 .1h.5m2.1 0h.5m-2.7 .2h.5m-2 0h.5m3.1 .5h.5m-.4 .2h.5m1.2 .5h.5m-5.9 .1h.5m.3 .1h.5m3.2 .1h.5m-3.8 0h.5m4.1 .2h.5m-4 .2h.5m-.3 .2h.5m-.4 .2h.5m-.9 .2h.5m2.4 .2h.5m.1 .1h.5m-5.5 .2h.5m1.9 .2h.5m-2.9 .2h.5m4.4 .2h.5m-4.5 0h.5m3.3 .2h.5m-1.1 .3h.5m-.4 .1h.5m.2 .3h.5m-3.3 .1h.5m1.6 .1h.5m.5 .1h.5m-5.3 .2h.5m1 .4h.5m2.4 0h.5m-1.2 .1h.5m-2 .1h.5m1.4 0h.5m-3.9 .2h.5m3 .1h.5m-1.9 0h.5m-1.2 0h.5m-1.3 0h.5m-2.7 .2h.5m1.6 0h.5m1.6 0h.5m-2.1 .1h.5m-.8 .4h.5m1.4 .2h.5m-3 0h.5m1.6 .1h.5m-.2 .2h.5m-1.6 .1h.5m.1 .1h.5m-2.2 .2h.5m2.6 0h.5m-3.7 0h.5m-.3 .2h.5m1.4 0h.5m-.5 .2h.5m.4 0h.5m-1.8 .2h.5m-1.8 .1h.5m-2.2 .2h.5m-.4 .1h.5m.2 .3h.5m.6 .1h.5m-.5 0h.5m-1 0h.5m-1.8 0h.5m1.2 0h.5m.9 .1h.5m1.5 0h.5m-1.3 0h.5m-5.6 .1h.5m3.3 0h.5m-1.6 0h.5m2.3 0h.5m-4.8 0h.5m-.9 .2h.5m4.3 0h.5m-.7 .1h.5m0 0h.5m-5.2 .2h.5m.4 .2h.5m3 0h.5m-.3 .1h.5m-1.4 0h.5m-2.1 0h.5m-2 .1h.5m-1.7 .1h.5m4.8 .1h.5m-4.9 .2h.5m2.3 0h.5m-1.9 .2h.5m.4 0h.5m-1.3 .1h.5m-1.7 .1h.5m1.8 .1h.5m-2.3 .1h.5m1.2 0h.5m-2.4 0h.5m.7 .1h.5m-3.1 0h.5m3.5 .1h.5m0 .2h.5m-2.2 .1h.5m-3.3 .1h.5m1.1 .1h.5m-2.4 0h.5m2.8 .1h.5m.8 0h.5m-3.6 .1h.5m1.1 .1h.5m-2.9 .2h.5m-.6 0h.5m-.8 .4h.5m-.6 0h.5m1.4 0h.5m.1 .1h.5m1.3 0h.5m-3 .2h.5m2.1 0h.5m-2.4 .1h.5m-3.1 .2h.5m1.2 0h.5m-1.9 .1h.5m.7 .1h.5m2.4 0h.5m-.9 0h.5m-3 .3h.5m1.4 .2h.5m-3.3 0h.5m.5 .1h.5m-1.5 0h.5m2.1 .1h.5m-2.8 0h.5m3 0h.5m-1.9 .1h.5m-3.7 0h.5m1.1 .1h.5m3.4 0h.5m-1.3 0h.5m-1.2 .1h.5m-3.3 .2h.5m-.2 0h.5m-.4 0h.5m-.4 .1h.5m-1.5 .2h.5m.8 .3h.5m-.8 0h.5m-.8 .1h.5m-1.8 .1h.5m4.4 0h.5m-1.7 0h.5m.9 0h.5m-5.2 .1h.5m3 .3h.5m-.1 0h.5m-1 .1h.5m-3.7 .1h.5m-1.3 0h.5m3.1 0h.5m-4.1 .1h.5m-.3 .1h.5m2 0h.5m-1.9 .3h.5m1.8 .3h.5m-2 .1h.5m1 .2h.5m-2.8 0h.5m-.2 .1h.5m-1.4 .2h.5m-1 0h.5m.6 .1h.5m-1.8 .6h.5m1.4 .3h.5m-1.8 0h.5m-.9 0h.5m-.5 .1h.5m4.7 0h.5m-4.2 .2h.5m-2.2 .1h.5m.7 .1h.5m1.8 .5h.5m-1.3 0h.5m-2.4 .1h.5m1 .5h.5m-2.3 0h.5m2.2 .3h.5m-3.3 0h.5m.4 .1h.5m3.3 0h.5m-4.7 .1h.5m-.6 0h.5m3.3 .1h.5m-4.8 0h.5m1 .2h.5m-1.1 .2h.5m2.8 1.6h.5m-4.7 .2h.5m1.7 1h.5m.7 1.1h.5m-2.3 .8h.5m-2 2.4h.5m.3 8.2h.5m9.1-47.8h.5m.3 1.1h.5m-3.7 0h.5m1.6 .1h.5m.3 .4h.5m-2 1.2h.5m1 .3h.5m-.3 .3h.5m-3.1 .1h.5m-2.5 0h.5m4.4 .5h.5m-.7 .1h.5m-1.2 .7h.5m-2.3 .1h.5m1.4 .3h.5m-3.4 .2h.5m-.7 0h.5m3.1 .2h.5m-2.5 .5h.5m.5 .2h.5m-2.9 0h.5m.7 .5h.5m1.2 0h.5m-4.1 1h.5m-.9 .1h.5m.6 .3h.5m.2 .4h.5m-.3 0h.5m.4 .2h.5m-2.3 0h.5m-2 .3h.5m-1.1 .1h.5m-.1 .1h.5m.5 .3h.5m-1.8 .1h.5m5 .2h.5m-3.3 0h.5m2.4 .6h.5m-.6 0h.5m-5.4 .1h.5m.4 .2h.5m2.8 .2h.5m-1 .1h.5m-.5 .5h.5m-4.5 .1h.5m3.1 0h.5m-1.5 .2h.5m1.4 .2h.5m-.5 .1h.5m-.7 0h.5m-2.2 0h.5m-3.5 .2h.5m.8 0h.5m2.4 .2h.5m-.8 .1h.5m1.3 .1h.5m-2 .2h.5m-1.5 0h.5m-.6 0h.5m.3 0h.5m.7 .1h.5m-.6 0h.5m-.7 .2h.5m-2.7 .5h.5m.8 0h.5m-3.3 0h.5m2.7 0h.5m.8 0h.5m-2.8 .1h.5m.6 .1h.5m.9 0h.5m-3.4 .4h.5m-.6 .2h.5m.1 0h.5m-1.4 0h.5m1.2 .2h.5m-2.4 .1h.5m1.3 .1h.5m-4.5 .2h.5m.8 0h.5m1.6 .1h.5m-2.5 .1h.5m3.4 .2h.5m-1.8 .1h.5m-4.1 .2h.5m1.1 .1h.5m.8 .1h.5m-3.7 .3h.5m1.4 .1h.5m2.4 .2h.5m-4.8 0h.5m-.5 .2h.5m4.3 .1h.5m-3.7 .1h.5m1.2 0h.5m.1 .1h.5m-4.8 .4h.5m-.6 0h.5m-.8 .2h.5m1.2 .1h.5m2.2 0h.5m-3.9 .1h.5m2.9 .2h.5m-3.6 .2h.5m2.9 .1h.5m-5 .1h.5m1.3 .1h.5m1.3 .1h.5m.2 1h.5m-3 0h.5m-2.5 .1h.5m4.5 .1h.5m-5.3 .1h.5m.2 .2h.5m2 0h.5m-3 0h.5m-.7 .2h.5m4.1 .1h.5m-2.1 .1h.5m-1.3 .2h.5m-2.1 .1h.5m.6 .2h.5m-2.3 .1h.5m-.1 0h.5m.6 .3h.5m-1.8 .2h.5m4.2 .4h.5m-1.8 .3h.5m-2 .3h.5m-1.6 0h.5m-1.8 .1h.5m2.2 .3h.5m.4 .1h.5m-1 .1h.5m-.2 .1h.5m-.7 .2h.5m-3.3 .3h.5m2.2 0h.5m-3.1 .6h.5m1.7 .6h.5m2.3 .1h.5m-4 .6h.5m-.9 .1h.5m-2.3 .1h.5m4.9 .1h.5m-5.5 .2h.5m2.4 .1h.5m.7 .1h.5m-.1 .2h.5m-3.8 .5h.5m-1.7 .1h.5m1.8 .1h.5m0 .5h.5m-2.3 2.1h.5m1.2 .2h.5m-.9 2.9h.5m.3 .1h.5m2.7-52.7h.5m4.3 12.6h.5m-.4 .1h.5m-2.4 1.8h.5m.8 1h.5m-1.8 0h.5m-.8 .2h.5m.3 0h.5m-.6 .3h.5m-.1 0h.5m-2.7 .4h.5m3 .1h.5m-2.2 0h.5m0 .4h.5m.6 .3h.5m-2.9 .1h.5m-.5 .1h.5m-.2 .2h.5m0 .1h.5m-.4 0h.5m-.5 .1h.5m-1 .5h.5m0 .2h.5m-.7 .6h.5m.2 .2h.5m.6 .3h.5m-1.9 .3h.5m.5 0h.5m-3.9 .2h.5m-.4 .2h.5m.2 .2h.5m2.2 .2h.5m-6.2 .3h.5m5.3 .3h.5m-1.3 .2h.5m-3.2 .3h.5m.2 .1h.5m2.1 0h.5m-.4 .3h.5m-3.3 0h.5m1.9 0h.5m-3 .2h.5m-2.3 .1h.5m3.8 .5h.5m-3.4 .3h.5m-2.2 0h.5m2.6 .1h.5m-3.7 .1h.5m4.2 .4h.5m-5.2 .1h.5m.4 .1h.5m.8 .1h.5m.2 .2h.5m-.1 0h.5m.1 .1h.5m-1.9 0h.5m-.7 .1h.5m.2 .2h.5m-.7 0h.5m-2.8 0h.5m4.3 .1h.5m-2.3 .2h.5m1.2 .2h.5m-4.7 0h.5m2.7 .2h.5m-4.5 .2h.5m1.3 0h.5m.5 .2h.5m1.9 0h.5m-5 .1h.5m3.8 .1h.5m-1.7 .2h.5m-2.1 0h.5m.6 .3h.5m-4.5 0h.5m3.2 .5h.5m-2.1 0h.5m-2.5 .2h.5m4.2 0h.5m.2 0h.5m-4.8 0h.5m3.5 0h.5m.1 .1h.5m-5.7 .1h.5m.8 .1h.5m2.6 0h.5m-1 .1h.5m-3.3 .1h.5m-1.8 0h.5m-.4 .3h.5m3.5 .1h.5m-4.5 .1h.5m1 0h.5m.5 .2h.5m-3.1 .4h.5m3.9 .1h.5m-3 .2h.5m-.6 .6h.5m1.9 .4h.5m-2.4 0h.5m0 .1h.5m1.5 .1h.5m-4.3 .2h.5m-.9 .3h.5m-1.1 0h.5m.1 0h.5m0 .1h.5m-1.2 .6h.5m.6 .2h.5m1.1 0h.5m-.1 .1h.5m.3 0h.5m-3.3 0h.5m-.1 .2h.5m2.6 0h.5m-.7 .1h.5m-3.6 .1h.5m-2.1 .2h.5m2.3 .1h.5m1.9 0h.5m-4.2 0h.5m.6 .3h.5m-3.2 .1h.5m4.3 .1h.5m-3.3 .1h.5m-1.9 .1h.5m1.3 .2h.5m-1.1 .2h.5m-2.3 .2h.5m1.3 0h.5m.7 .1h.5m.7 .2h.5m-4.4 .2h.5m2.1 .4h.5m-2.9 .1h.5m-.8 0h.5m-.2 .1h.5m2 .1h.5m-2.2 .1h.5m-1.8 .2h.5m1.3 .1h.5m-2.7 0h.5m1.7 .3h.5m1.8 .1h.5m-1.2 0h.5m-.9 .2h.5m-1.8 .2h.5m2.1 0h.5m-4.5 .1h.5m1.3 .5h.5m-1.3 .3h.5m.4 .1h.5m-2.6 .2h.5m-1.1 .1h.5m.7 .1h.5m.9 .1h.5m-2.2 .2h.5m2.7 .1h.5m-4.3 1h.5m3.5 .3h.5m-4.7 .1h.5m1.6 .2h.5m.3 .3h.5m-.6 .2h.5m-1.4 1h.5m3.2 2h.5m-3.5 .6h.5m-1.5 6h.5m1.6 .1h.5m-2.4 2.3h.5m-1.5 3.6h.5m7.5-47.1h.5m.2 .9h.5m1.6 .2h.5m-3.1 .1h.5m-.9 .5h.5m1.4 .4h.5m.3 .8h.5m-1.6 .3h.5m-.4 .1h.5m-.5 .3h.5m.2 0h.5m-3 .1h.5m.7 .1h.5m-4 0h.5m3.3 .1h.5m-2.7 .2h.5m-.5 0h.5m.8 .3h.5m-.5 .3h.5m1.4 0h.5m-3.2 .3h.5m1.7 .1h.5m.1 .1h.5m-4.3 0h.5m3.5 0h.5m-3.4 0h.5m2.9 .3h.5m-2 0h.5m-4.3 .2h.5m.2 .1h.5m3.4 0h.5m-3.3 .2h.5m2.9 .1h.5m-4.7 0h.5m3.4 0h.5m-1.6 .1h.5m-3.1 .1h.5m.6 0h.5m.1 0h.5m-.1 .1h.5m-.5 .1h.5m-2.5 .1h.5m2.2 0h.5m-.5 .1h.5m.1 0h.5m-4.8 0h.5m-1.4 .2h.5m1 .1h.5m3.1 .1h.5m-4.1 .2h.5m-.5 0h.5m1.5 .1h.5m.1 .3h.5m.9 0h.5m-4.1 0h.5m-.5 .1h.5m2.5 .1h.5m-4.1 .1h.5m-.1 .3h.5m0 0h.5m1.6 .1h.5m-1.8 .1h.5m.5 .1h.5m1.2 0h.5m-2.9 0h.5m.6 .2h.5m-.7 .1h.5m-2.1 .1h.5m-3 .1h.5m1.7 .1h.5m-1.5 0h.5m-1.2 .2h.5m2.4 0h.5m-3.1 0h.5m2.7 .1h.5m-1.2 .1h.5m1.6 .2h.5m-4.4 .1h.5m-.1 .1h.5m-1.6 0h.5m0 .2h.5m.7 .1h.5m.1 0h.5m-1.2 0h.5m-3 .1h.5m4.1 0h.5m.6 .2h.5m-5.9 .1h.5m3.3 0h.5m-2.6 0h.5m-.8 .1h.5m-1.5 .1h.5m1.2 0h.5m-2.7 .3h.5m3.1 0h.5m-3.8 .1h.5m1.9 0h.5m-1 0h.5m-2.8 .5h.5m2.9 .1h.5m.3 0h.5m-1.2 .1h.5m-1.7 0h.5m.1 .1h.5m.8 .2h.5m-4.1 .1h.5m.5 0h.5m.9 0h.5m-2.5 .3h.5m2.3 .1h.5m-3.4 .2h.5m.1 0h.5m3.5 0h.5m-5 0h.5m-1 .1h.5m-.1 .1h.5m-1.1 0h.5m-.5 .2h.5m-.1 .3h.5m-.1 0h.5m-1.4 0h.5m-.2 .2h.5m2.6 .1h.5m-1.8 .1h.5m-1.1 .1h.5m1.1 .2h.5m-3.1 .3h.5m2.2 0h.5m-3.7 .1h.5m4.9 0h.5m-3.6 .1h.5m1.9 .3h.5m-4.8 .2h.5m3.4 0h.5m-1.1 0h.5m0 .2h.5m-4.5 .1h.5m3.9 1h.5m-4.2 .5h.5m-1.2 .4h.5m-.5 0h.5m.4 .4h.5m-1.3 .3h.5m2.3 0h.5m-1 .2h.5m.4 .2h.5m-2.5 .4h.5m2 .7h.5m-2.5 .6h.5m-.3 .5h.5m-1.7 .5h.5m-.9 .1h.5m-1.4 0h.5m.6 .1h.5m.4 .1h.5m-1 .1h.5m1.3 .1h.5m-3 .3h.5m-.5 0h.5m-.6 .1h.5m2.7 .1h.5m-3.6 1.9h.5m-1.1 1.4h.5m.3 .5h.5m-1.3 1.4h.5m3.1 1.4h.5m-3.3 4.1h.5m2.6 1.9h.5m4.5-37.3h.5m-1.1 2.7h.5m-2.7 0h.5m.3 1.1h.5m1.3 .5h.5m.7 .1h.5m-1.2 .7h.5m-3 1.2h.5m.2 0h.5m-.9 .4h.5m-.1 .2h.5m-1.4 .1h.5m3.6 .6h.5m-5.1 2h.5m3.4 .2h.5m-4.4 .1h.5m2.3 0h.5m-1.8 .5h.5m3.3 1h.5m-4.1 0h.5m-2 .1h.5m2.1 .1h.5m-2.9 2.7h.5m0 0h.5m-.7 1.6h.5m-.8 .1h.5m1.9 .7h.5m0 2.1h.5m-3.4 .1h.5m.2 .7h.5" stroke="#3348ff" stroke-width="0.55"/><path d="M73.8 835.5h.6m5.7-9.9h.6m-1.4 1.4h.6m1.1 1.4h.6m-3.2 .5h.6m.7 .8h.6m-.6 .3h.6m-.2 1.3h.6m-.1 .3h.6m-5.3 .3h.6m4.3 .3h.6m-4.3 .2h.6m2.6 1.2h.6m-.1 .2h.6m-1.9 .7h.6m-.1 .5h.6m5.7-16h.6m-1.3 .6h.6m-.8 1.1h.6m-1.6 1.3h.6m-2.3 1.5h.6m2.5 .5h.6m-2.5 .6h.6m-.8 .4h.6m-.5 .2h.6m2.4 .5h.6m-1.8 .1h.6m0 .3h.6m-1.7 .1h.6m-3 .2h.6m3.4 .2h.6m-3.2 .7h.6m-2.4 .1h.6m-1 0h.6m.6 .4h.6m1.4 .1h.6m-1.4 .3h.6m-2 .3h.6m-1.8 0h.6m3.6 .3h.6m-2 .3h.6m-3.9 .1h.6m2.3 .2h.6m-.3 .1h.6m-2.7 .1h.6m3 .2h.6m.1 .2h.6m-3.9 .4h.6m-.4 .2h.6m-1.1 .4h.6m.8 .8h.6m-.6 .3h.6m-3.6 .7h.6m2.5 .8h.6m-3.2 .6h.6m2.4 .2h.6m-.1 .3h.6m-2.3 .1h.6m.5 .1h.6m3.9-13h.6m-2.4 .7h.6m-.7 .2h.6m.5 .1h.6m1.7 .8h.6m-1.2 .1h.6m-2.5 .1h.6m-.3 .2h.6m-.4 .1h.6m-1.2 .7h.6m-1.5 1.9h.6m2.6 1.5h.6m-3.1 .7h.6m.8 3.9h.6m3.7-13.3h.6" stroke="#1414d0" stroke-width="0.7"/><g filter="url(#db2)"><ellipse cx="58.8" cy="857.8" rx="11.6" ry="4.5" fill="#1c30f0" transform="rotate(-40 58.8 857.8)"/><ellipse cx="58.8" cy="857.8" rx="9" ry="3.5" fill="#18a0f0" transform="rotate(-40 58.8 857.8)"/><ellipse cx="58.8" cy="857.8" rx="6.4" ry="2.5" fill="#28d29a" transform="rotate(-40 58.8 857.8)"/><ellipse cx="58.8" cy="857.8" rx="3.8" ry="1.6" fill="#8ee040" transform="rotate(-40 58.8 857.8)"/><ellipse cx="58.8" cy="857.8" rx="1.8" ry="0.8" fill="#e0e030" transform="rotate(-40 58.8 857.8)"/></g></g><line x1="74.5" y1="811.5" x2="74.5" y2="878.6" stroke="#666" stroke-width="0.8"/><line x1="43" y1="840.5" x2="110.4" y2="840.5" stroke="#666" stroke-width="0.8"/><line x1="44.5" y1="878.6" x2="44.5" y2="880.1" stroke="#888" stroke-width="0.4"/><text x="44.5" y="883.4" font-size="3.2" text-anchor="middle" fill="#777">10</text><line x1="41.5" y1="877.1" x2="43" y2="877.1" stroke="#888" stroke-width="0.4"/><text x="40.8" y="878.2" font-size="3.2" text-anchor="end" fill="#777">10</text><line x1="57.4" y1="878.6" x2="57.4" y2="880.1" stroke="#888" stroke-width="0.4"/><text x="57.4" y="883.4" font-size="3.2" text-anchor="middle" fill="#777">10</text><line x1="41.5" y1="864.3" x2="43" y2="864.3" stroke="#888" stroke-width="0.4"/><text x="40.8" y="865.4" font-size="3.2" text-anchor="end" fill="#777">10</text><line x1="70.3" y1="878.6" x2="70.3" y2="880.1" stroke="#888" stroke-width="0.4"/><text x="70.3" y="883.4" font-size="3.2" text-anchor="middle" fill="#777">10</text><line x1="41.5" y1="851.5" x2="43" y2="851.5" stroke="#888" stroke-width="0.4"/><text x="40.8" y="852.6" font-size="3.2" text-anchor="end" fill="#777">10</text><line x1="83.1" y1="878.6" x2="83.1" y2="880.1" stroke="#888" stroke-width="0.4"/><text x="83.1" y="883.4" font-size="3.2" text-anchor="middle" fill="#777">10</text><line x1="41.5" y1="838.6" x2="43" y2="838.6" stroke="#888" stroke-width="0.4"/><text x="40.8" y="839.7" font-size="3.2" text-anchor="end" fill="#777">10</text><line x1="96" y1="878.6" x2="96" y2="880.1" stroke="#888" stroke-width="0.4"/><text x="96" y="883.4" font-size="3.2" text-anchor="middle" fill="#777">10</text><line x1="41.5" y1="825.8" x2="43" y2="825.8" stroke="#888" stroke-width="0.4"/><text x="40.8" y="826.9" font-size="3.2" text-anchor="end" fill="#777">10</text><line x1="108.9" y1="878.6" x2="108.9" y2="880.1" stroke="#888" stroke-width="0.4"/><text x="108.9" y="883.4" font-size="3.2" text-anchor="middle" fill="#777">10</text><line x1="41.5" y1="813" x2="43" y2="813" stroke="#888" stroke-width="0.4"/><text x="40.8" y="814.1" font-size="3.2" text-anchor="end" fill="#777">10</text><text x="110" y="819.1" font-size="7.8" text-anchor="end">9.75%</text><text x="76.4" y="891" font-size="8.6" text-anchor="middle">FITC-A</text><text x="35.9" y="845.5" font-size="8.4" text-anchor="middle" transform="rotate(-90 35.9 845.5)">PI-A</text>
<rect x="138.2" y="811.5" width="67.4" height="67.1" fill="#fff" stroke="#666" stroke-width="0.6"/><clipPath id="cp205"><rect x="138.2" y="811.5" width="67.4" height="67.1"/></clipPath><g clip-path="url(#cp205)"><g filter="url(#db)"><ellipse cx="157.7" cy="856.5" rx="15.1" ry="7.2" fill="#3a55ff" fill-opacity="0.6" transform="rotate(-45 157.7 856.5)"/><ellipse cx="177.3" cy="830.3" rx="5.9" ry="3.1" fill="#2238f0" fill-opacity="0.3" transform="rotate(-70 177.3 830.3)"/></g><path d="M125.2 860.9h.5m13.3-10.3h.5m-.2 11.5h.5m-3.3 .3h.5m3.7 3.4h.5m-.3 1.1h.5m-5.2 1.7h.5m.7 1h.5m2 1.8h.5m-2.6 5.3h.5m2 .3h.5m4.6-47.4h.5m-2.9 16.4h.5m-1.8 7.4h.5m3.8 .4h.5m-1.9 .8h.5m1.4 1.5h.5m-2.7 1h.5m2 1h.5m-3.5 0h.5m2.1 .2h.5m-2.6 1.3h.5m-.4 0h.5m.9 0h.5m-.9 .1h.5m.4 .1h.5m-.2 .2h.5m-2.9 .5h.5m2.1 .1h.5m-4.9 .3h.5m2.9 .1h.5m-2 .1h.5m-.8 0h.5m2.5 .1h.5m-4.1 .1h.5m-.7 .3h.5m-.9 .1h.5m-1.9 .1h.5m-.9 0h.5m4.2 .5h.5m-1.2 .3h.5m-4.5 0h.5m4.3 .2h.5m-2 0h.5m-1.5 1.1h.5m2.7 0h.5m-.6 .1h.5m-4.6 .1h.5m.9 .2h.5m-2.8 .1h.5m3.7 .8h.5m-4.7 .5h.5m0 .1h.5m3.7 .8h.5m-3.3 .4h.5m2.9 .3h.5m-3.2 .2h.5m1.2 0h.5m-2.1 .8h.5m-2.6 .5h.5m3.5 .5h.5m-2.3 1.5h.5m1.8 .8h.5m-4.2 1.2h.5m-1.8 .5h.5m3.2 .5h.5m.1 2h.5m-.3 .6h.5m-3 5.8h.5m6.3-45.2h.5m1.5 8.7h.5m.1 1h.5m-.5 .4h.5m-2.5 2.7h.5m-.7 1.4h.5m1.8 .5h.5m-1.4 .5h.5m-3.3 0h.5m-2.4 .5h.5m4.6 .6h.5m-.6 .5h.5m.1 .2h.5m-3.8 0h.5m-1 .4h.5m1.3 .6h.5m-3.2 0h.5m3.9 .2h.5m-2.8 .1h.5m-2.6 .4h.5m.2 .2h.5m2.7 .1h.5m-2.4 .3h.5m.9 0h.5m-.5 .1h.5m-1.6 0h.5m-3.8 0h.5m4.9 .1h.5m-.4 0h.5m-.4 .1h.5m-2.6 0h.5m1.5 .1h.5m-2.6 .1h.5m-2.7 .1h.5m.1 .4h.5m2.6 0h.5m-2.4 0h.5m1.4 .2h.5m-.4 .1h.5m-1.4 0h.5m-3.9 .1h.5m2.3 0h.5m1 .1h.5m-4.2 .2h.5m2.8 .3h.5m-.8 .1h.5m.3 0h.5m-.3 .3h.5m-.8 0h.5m-.1 .2h.5m-4 0h.5m2.9 .2h.5m-1.8 0h.5m-3.5 .1h.5m2.1 0h.5m-.7 .1h.5m.8 0h.5m-3 .2h.5m3 .2h.5m-4.9 0h.5m-1.7 .1h.5m.2 0h.5m1.5 0h.5m-3.4 0h.5m3.4 .3h.5m-4.4 .2h.5m-.1 0h.5m3.4 .1h.5m.8 .1h.5m-3.9 .1h.5m-.1 .1h.5m2.5 .1h.5m-.8 0h.5m-3.5 0h.5m2 .2h.5m.5 .1h.5m-5.7 0h.5m1.1 .1h.5m-2.6 0h.5m5 .1h.5m-4.1 0h.5m-2 .2h.5m3 .2h.5m-2.8 .1h.5m-1.6 0h.5m.4 .1h.5m.8 0h.5m.6 .1h.5m-2.6 0h.5m1.6 0h.5m-1.9 .1h.5m-1.8 .2h.5m-1.3 .1h.5m-.6 .2h.5m3.1 .1h.5m-2.1 0h.5m2.5 .1h.5m-3.3 .1h.5m.2 0h.5m-2.7 0h.5m-.2 .1h.5m3.7 0h.5m-.5 .1h.5m-4.4 .1h.5m.9 0h.5m1.5 .1h.5m-1.1 0h.5m-2.6 .1h.5m-.5 0h.5m2 .1h.5m-3 0h.5m-.9 .3h.5m.2 .1h.5m-3 .1h.5m3.1 .1h.5m-3.2 .1h.5m1.3 0h.5m1 .1h.5m-4.8 .1h.5m4.6 .1h.5m-3.7 .2h.5m.4 .1h.5m-.3 .1h.5m.7 0h.5m-3.2 .1h.5m1.4 0h.5m-.6 .2h.5m-.2 .1h.5m.2 .2h.5m-.2 .1h.5m-4.3 0h.5m-.7 .1h.5m3.6 0h.5m-.5 .2h.5m-1.7 .1h.5m-.4 .1h.5m-.7 0h.5m.6 0h.5m-.6 .1h.5m.8 0h.5m-1.5 .1h.5m-2.2 0h.5m1.4 .1h.5m-1.9 0h.5m.8 0h.5m-5 .2h.5m2.7 0h.5m-.1 .3h.5m-3.1 .2h.5m3.8 .1h.5m-.7 0h.5m-4.3 0h.5m-1.4 .2h.5m2.1 .2h.5m-1.1 .2h.5m0 0h.5m-1.4 .1h.5m2.2 .2h.5m-3 .1h.5m-2.3 .1h.5m2.2 .2h.5m1.6 .8h.5m-3.2 0h.5m-2.7 1.1h.5m1.8 0h.5m1.3 2h.5m-2 .2h.5m-2 .3h.5m3.3 .4h.5m-4 .2h.5m-2.5 .7h.5m7.9-44.3h.5m.9 6.7h.5m.8 .1h.5m-.4 6.7h.5m-.7 .3h.5m0 0h.5m-1.7 .2h.5m-3.5 .5h.5m1.8 0h.5m-2.9 0h.5m-.1 .1h.5m1.4 .1h.5m-1.1 .6h.5m-1 .5h.5m-.1 .2h.5m2.3 .7h.5m-1.1 0h.5m-2 .1h.5m.9 .4h.5m-2 .1h.5m-1.3 .7h.5m2.1 .6h.5m-.5 .4h.5m-5.2 0h.5m.8 0h.5m-2.2 .4h.5m4.8 .1h.5m-4.2 .1h.5m2.8 0h.5m-.4 0h.5m-4.1 .4h.5m2.9 0h.5m-5.6 .2h.5m4.8 .1h.5m-4.2 .2h.5m.9 0h.5m1 0h.5m-4.4 .1h.5m3.1 0h.5m.8 .1h.5m-2.2 .2h.5m-1.7 .1h.5m0 .1h.5m-.2 .2h.5m1.8 0h.5m-.9 0h.5m-2.2 0h.5m.3 .1h.5m-1.4 .1h.5m-3 .1h.5m1.1 .1h.5m-2.4 0h.5m3.7 0h.5m-1.8 0h.5m1.2 0h.5m.2 .1h.5m-2.9 .1h.5m.2 0h.5m-3.7 .2h.5m3.2 0h.5m-2.7 .1h.5m-.3 .1h.5m-2.5 .1h.5m2.3 .1h.5m.9 0h.5m-4.4 0h.5m4 .1h.5m-3.3 0h.5m.9 .1h.5m-4.5 0h.5m4 .1h.5m-2.6 0h.5m-2 .1h.5m-.8 .1h.5m-1.3 0h.5m4.9 .1h.5m-.5 .1h.5m-2.5 0h.5m1.3 .1h.5m-5.1 0h.5m.4 0h.5m3.3 0h.5m-2.7 .3h.5m-.5 0h.5m1.1 .1h.5m-4 0h.5m3.3 .1h.5m-.4 .1h.5m-.8 0h.5m-4.6 0h.5m-.5 0h.5m-1 0h.5m4 0h.5m.4 0h.5m-1.5 .2h.5m-1 0h.5m-2.1 0h.5m2.6 .1h.5m-1.8 .1h.5m-3.7 0h.5m3.9 .1h.5m-4.6 0h.5m1 0h.5m.9 .1h.5m1 0h.5m-1 .1h.5m-3.1 0h.5m-1.8 .1h.5m2.5 .1h.5m-.9 0h.5m-.2 0h.5m-1.9 0h.5m1.6 .1h.5m-2.1 .1h.5m-2 .1h.5m-.6 .2h.5m1.1 0h.5m-1.1 .1h.5m-1.7 .1h.5m.3 .1h.5m2.4 .1h.5m-2.3 0h.5m-3.7 0h.5m.9 0h.5m3.1 .1h.5m-.3 0h.5m-3.2 .2h.5m-1.6 .2h.5m-1.8 0h.5m3.9 0h.5m-.2 0h.5m-3.6 .1h.5m.2 .1h.5m-2.1 0h.5m2.5 .1h.5m-2.9 0h.5m.1 0h.5m-2.6 .1h.5m.1 .1h.5m.3 0h.5m3.5 0h.5m-2 .1h.5m1.2 0h.5m-5.4 .1h.5m.5 0h.5m-.6 .1h.5m2 0h.5m-.9 .1h.5m-2.1 0h.5m1.1 0h.5m-1 0h.5m-3.1 .1h.5m-1.2 0h.5m1.7 .1h.5m-1.4 .1h.5m4.1 .3h.5m-.6 0h.5m-2.1 .1h.5m-4.3 .1h.5m1 .1h.5m1.3 0h.5m-1.4 .1h.5m-2 .1h.5m3.6 0h.5m-1.2 .1h.5m-4 0h.5m-.8 0h.5m.1 .1h.5m3.1 .3h.5m0 0h.5m-5.4 .1h.5m3.8 0h.5m-5 0h.5m3.6 0h.5m-4.8 .1h.5m1.6 .2h.5m-.8 0h.5m2.7 .2h.5m-.4 .1h.5m-4.8 0h.5m-.1 0h.5m3.1 0h.5m-1.4 .1h.5m1 .1h.5m-1.9 0h.5m-1.2 0h.5m-3 .1h.5m1.8 .1h.5m-1.5 0h.5m-1 .1h.5m2 .1h.5m-1.4 0h.5m-1.4 .1h.5m-2.1 0h.5m1.4 .3h.5m-2.9 0h.5m3.6 0h.5m-1.1 0h.5m-3.1 0h.5m1.3 .1h.5m-2.4 0h.5m3 .1h.5m-5.2 0h.5m2.2 0h.5m2 .1h.5m-.4 .1h.5m-.1 0h.5m-5.9 .2h.5m3.2 0h.5m1 0h.5m-2.1 0h.5m.6 .1h.5m-2.1 .1h.5m1.5 .1h.5m-2.6 0h.5m1.3 .1h.5m-1.8 .1h.5m-2 0h.5m.8 0h.5m-2 0h.5m-.1 .1h.5m.5 0h.5m-1.5 .2h.5m-2.7 0h.5m2.3 0h.5m-.1 .1h.5m-.2 0h.5m-1.6 .1h.5m-1.9 0h.5m-1.4 .1h.5m.3 0h.5m-1.3 0h.5m2.8 0h.5m-2.5 0h.5m.3 .1h.5m-2.2 .1h.5m2.1 0h.5m-3.3 .1h.5m-.6 .1h.5m3.9 .2h.5m-3.7 0h.5m.3 .1h.5m-.7 0h.5m-1.8 0h.5m4.1 .1h.5m-.5 0h.5m-6.3 0h.5m3.2 .1h.5m-.1 0h.5m.6 .1h.5m-1.1 .1h.5m-2.3 .6h.5m-3.1 .7h.5m0 0h.5m-.5 .6h.5m-.8 0h.5m3.4 .1h.5m-1 .2h.5m-2.3 .3h.5m.8 .3h.5m-2.6 .1h.5m2 .2h.5m-3 .2h.5m.9 .3h.5m-1.4 .1h.5m1.1 .6h.5m-2.7 1h.5m2 .4h.5m-.7 0h.5m1.3 .5h.5m-5.7 .4h.5m0 .1h.5m2.7 .6h.5m-4.2 .9h.5m-.2 .2h.5m1.3 1.2h.5m.4 .2h.5m-2.8 3.8h.5m8.4-51.8h.5m1.9 12h.5m-6.3 1.4h.5m4.1 .5h.5m.5 .5h.5m-2.3 .6h.5m0 .3h.5m-3.5 .6h.5m1.4 .2h.5m-1.4 .6h.5m2.4 .1h.5m.1 .1h.5m-1 0h.5m-1.7 .8h.5m-4 0h.5m1.8 .1h.5m1 .2h.5m-1.1 .5h.5m-3.3 .1h.5m2.1 0h.5m-1.2 .2h.5m1.6 0h.5m-1 .1h.5m-.2 .2h.5m-.2 .2h.5m-2.9 .1h.5m1.6 0h.5m-5.2 .3h.5m2.1 .2h.5m1.5 0h.5m-.5 0h.5m-3 .1h.5m2.8 .2h.5m-3.7 .3h.5m2.3 .3h.5m-5.3 0h.5m1 .2h.5m3.5 0h.5m-5.2 .1h.5m2 0h.5m-.9 .1h.5m-2.2 0h.5m1 .3h.5m1 .1h.5m-2.9 0h.5m-2.5 .1h.5m1.8 .1h.5m2.7 0h.5m-3.6 .2h.5m.7 .1h.5m-.6 .2h.5m1.4 0h.5m-1.8 0h.5m-3.8 .2h.5m3.2 0h.5m-1.5 .2h.5m1 0h.5m-.1 0h.5m-4.9 .2h.5m4 .1h.5m-3.4 0h.5m2.5 .2h.5m-1.4 0h.5m-2.9 0h.5m1 .1h.5m-.2 0h.5m-2.8 0h.5m-.8 0h.5m-.2 0h.5m3.2 .1h.5m-1.6 .1h.5m-5 0h.5m3.8 .2h.5m-1 0h.5m-.3 .1h.5m-3.6 .1h.5m2.5 .2h.5m-2.8 0h.5m.9 0h.5m-.7 0h.5m1.6 .1h.5m-4.1 0h.5m1.8 .2h.5m1.4 .1h.5m-2.7 .1h.5m1.1 0h.5m-3.3 0h.5m-.5 0h.5m1.9 .1h.5m.8 0h.5m-2.7 0h.5m-3.9 .1h.5m2.1 .1h.5m.1 .1h.5m-.9 0h.5m-.9 .1h.5m-2.4 .2h.5m4.2 0h.5m-2 .2h.5m-1 0h.5m-2.7 .1h.5m3.3 0h.5m-2.7 .1h.5m-.9 0h.5m-1.5 .1h.5m.3 0h.5m-1.7 0h.5m2.3 .1h.5m-.3 0h.5m-4.3 0h.5m-.8 .2h.5m3.5 .1h.5m1.4 0h.5m-.9 0h.5m-5.2 0h.5m.4 .1h.5m-1.9 0h.5m2.1 0h.5m-.6 0h.5m-2.6 .1h.5m2.6 0h.5m-.6 0h.5m-1.5 0h.5m.4 0h.5m1.4 .1h.5m-2 0h.5m-2 .1h.5m1.5 0h.5m-3.1 .1h.5m1.8 .1h.5m-2.2 0h.5m-.9 0h.5m-.3 .1h.5m.4 0h.5m-.7 .1h.5m.6 .1h.5m-.5 0h.5m-.5 .1h.5m-1.5 .1h.5m-1.7 .1h.5m-.3 0h.5m-2.4 0h.5m3.4 0h.5m-1.1 0h.5m-2.2 0h.5m-2 .1h.5m1.8 0h.5m-.8 0h.5m1.6 0h.5m-1.4 0h.5m1.5 .1h.5m-3.5 0h.5m2 .1h.5m-5.1 .2h.5m.2 0h.5m2.6 .1h.5m-1.5 0h.5m-1.4 0h.5m2.7 .1h.5m-4.9 0h.5m3.7 .1h.5m-5.4 0h.5m1.3 0h.5m-1.1 .1h.5m.8 .1h.5m1.7 0h.5m-3.7 0h.5m-1.6 .1h.5m2.7 0h.5m-1.6 0h.5m.7 0h.5m-1.4 .1h.5m-1.9 .2h.5m.2 .1h.5m.8 0h.5m-.8 .1h.5m.8 0h.5m-4.4 0h.5m3.3 .1h.5m-2.9 0h.5m2.9 0h.5m-4.2 0h.5m-.5 0h.5m3 .1h.5m-5.2 0h.5m-.2 0h.5m.8 .3h.5m-.9 .1h.5m1.6 0h.5m-1.6 .1h.5m-3.5 .1h.5m0 .1h.5m.1 0h.5m.8 .1h.5m-2.2 0h.5m.6 .1h.5m-1.6 .1h.5m-.4 0h.5m1.5 0h.5m.6 .1h.5m.3 0h.5m-3.2 .1h.5m1.7 0h.5m-3.3 0h.5m2.3 .1h.5m-3.6 .1h.5m4.2 .1h.5m-3.5 .2h.5m-.5 0h.5m1.8 0h.5m-3.7 .1h.5m2.5 0h.5m-5.1 0h.5m4.3 .1h.5m-3.4 .1h.5m-.6 0h.5m-.6 0h.5m2.5 .3h.5m-3.9 .2h.5m-1.1 .1h.5m-1.2 0h.5m2.3 .1h.5m-3 0h.5m3.6 .1h.5m-1.3 0h.5m0 0h.5m-3.9 .1h.5m1 .1h.5m2.1 .2h.5m-5.1 .2h.5m2.3 .1h.5m-1.6 0h.5m-1.5 .1h.5m-.6 .1h.5m.6 0h.5m1.2 .1h.5m1 0h.5m-1.9 0h.5m-1.1 .1h.5m-1.4 .4h.5m-2.1 .1h.5m-.5 0h.5m.6 .2h.5m2.7 .3h.5m-1.9 0h.5m-3.6 0h.5m-1.1 .1h.5m-.6 0h.5m2 .1h.5m1 0h.5m-1.9 .1h.5m-.1 0h.5m2.1 .1h.5m-1.2 .1h.5m-3.2 0h.5m-2.3 .1h.5m2.8 .1h.5m-1.2 .2h.5m-.6 .1h.5m-2.5 .1h.5m-1 .1h.5m-.9 .4h.5m1.9 0h.5m.2 0h.5m.7 .2h.5m.9 .2h.5m-.5 .1h.5m-4.4 0h.5m.8 .1h.5m2 0h.5m-1.7 0h.5m-2.5 .1h.5m-2.4 .1h.5m3.7 0h.5m-5 .2h.5m1.2 0h.5m1 .1h.5m.6 0h.5m-1.8 .1h.5m-1.9 .3h.5m1.8 0h.5m-4.5 0h.5m-.6 0h.5m4.9 .1h.5m-5.7 0h.5m2.5 .3h.5m-.4 .3h.5m-1.9 .1h.5m-1.2 0h.5m.8 .1h.5m.4 .1h.5m-3.8 .1h.5m1.2 .2h.5m.4 .3h.5m-.7 .3h.5m-2 .6h.5m-1.5 1h.5m1.5 .4h.5m-1.2 .1h.5m3.4 .3h.5m-3.8 .3h.5m-2.1 .8h.5m-.5 .5h.5m2.9 6.5h.5m7.3-44.7h.5m-2.3 2.5h.5m-1.3 .3h.5m2.4 .5h.5m-3.8 .5h.5m-2.8 .3h.5m.6 .6h.5m4 .5h.5m-2.4 0h.5m-2.1 .7h.5m-1.9 .2h.5m.5 .5h.5m1 .1h.5m-2.8 .1h.5m-1 .1h.5m1.4 .1h.5m1.8 .1h.5m-1.3 .4h.5m-2.8 .2h.5m-1.7 .9h.5m2.5 .1h.5m-.2 .1h.5m.2 0h.5m-.1 0h.5m-2.9 .9h.5m-2.5 .1h.5m4 .3h.5m-4.8 0h.5m3.5 .1h.5m-1.6 0h.5m.4 .1h.5m-3.9 0h.5m.6 .3h.5m3 .2h.5m-.7 0h.5m-4 .2h.5m2.8 .2h.5m-2.2 .1h.5m-3.3 .2h.5m2 .1h.5m-3.1 .1h.5m2.6 .1h.5m-2.7 .1h.5m-2.1 .1h.5m4.4 .2h.5m-2.5 0h.5m-1.4 0h.5m2.7 .1h.5m-5.4 0h.5m2.1 0h.5m.1 .2h.5m-.2 .2h.5m-1 .4h.5m-3.2 .1h.5m3.7 .2h.5m-5.3 .2h.5m4.4 .2h.5m-1.3 0h.5m-4.3 0h.5m1.9 0h.5m-.4 .1h.5m.5 .1h.5m.7 0h.5m-1.5 .1h.5m1 .1h.5m-1.8 .1h.5m-.7 .1h.5m-4.5 0h.5m1.7 .1h.5m1 .1h.5m-2.1 0h.5m-1 .2h.5m-1.2 .1h.5m-.4 .1h.5m1.9 0h.5m-2.5 .1h.5m-1.5 .1h.5m1.3 .1h.5m2.3 0h.5m-.9 .2h.5m-4.5 0h.5m4.2 .1h.5m-4.5 0h.5m3.2 .1h.5m-.3 .1h.5m-3.7 0h.5m2.7 0h.5m-5.3 0h.5m1 .3h.5m1.1 .1h.5m-.3 .1h.5m.1 0h.5m-2.4 0h.5m3 .1h.5m-5.5 .3h.5m-.8 0h.5m3 .1h.5m-2.5 0h.5m-1.5 0h.5m1.4 0h.5m1.2 .1h.5m-2 .2h.5m.7 .3h.5m-4.6 .1h.5m1.6 .1h.5m-.5 0h.5m-.7 .1h.5m-.2 .1h.5m-1.7 0h.5m.8 0h.5m.1 .1h.5m-3.7 0h.5m-.4 .1h.5m.7 .1h.5m-1.6 .2h.5m2.7 0h.5m-1.8 .1h.5m2.6 .1h.5m-3.5 0h.5m.7 .1h.5m-.3 0h.5m-4.1 .2h.5m0 0h.5m2.6 .2h.5m-1.9 0h.5m1.3 0h.5m-4.5 0h.5m4.2 .4h.5m-1.7 0h.5m-2.5 0h.5m1.2 .1h.5m2 0h.5m-3.8 0h.5m-.6 .2h.5m2.6 .1h.5m-2 .2h.5m-1.7 0h.5m-3 0h.5m.1 .1h.5m-1.3 0h.5m4.7 0h.5m-1.9 0h.5m-.9 0h.5m-2.1 0h.5m-1.8 .1h.5m4.1 .1h.5m0 .2h.5m-5.9 .5h.5m3.3 .1h.5m-3.1 0h.5m3.5 .1h.5m-3.3 .1h.5m-1.9 0h.5m-1.5 .1h.5m-.7 0h.5m0 .1h.5m3.1 0h.5m-1.5 .1h.5m-2.7 0h.5m3.7 .1h.5m-2.3 .1h.5m-2 .1h.5m.1 .1h.5m-2 .1h.5m-1.3 .1h.5m2.1 .1h.5m-1.1 0h.5m-1.1 .2h.5m-1.2 .1h.5m.4 0h.5m-1.7 .1h.5m.2 0h.5m1.1 .1h.5m-.5 0h.5m-1.8 .8h.5m-.4 .1h.5m3.7 .2h.5m-4 .1h.5m1.9 0h.5m-.5 .2h.5m-.2 .5h.5m-.3 .3h.5m-5.5 .1h.5m2.4 .1h.5m-3.1 0h.5m-.4 .1h.5m1.3 .1h.5m.3 .4h.5m1.8 0h.5m-3.2 .7h.5m.8 .1h.5m-.1 .2h.5m.8 .2h.5m-1.9 .1h.5m-3.4 .2h.5m-2 0h.5m4.2 0h.5m-1.2 .2h.5m-3.7 .5h.5m-.9 .2h.5m-.2 .1h.5m-.7 1.1h.5m3.9 .4h.5m-4.5 .6h.5m-1 .3h.5m2.1 .1h.5m-.7 1.6h.5m-.1 .1h.5m1.1 9.1h.5m-3.3 1.2h.5m8.7-49.6h.5m-2.1 .2h.5m.5 .9h.5m-1.4 .2h.5m-1.1 .8h.5m2.3 .4h.5m-2.1 .1h.5m.1 .3h.5m-4.8 0h.5m2.9 .2h.5m.1 .1h.5m-.4 .1h.5m.5 .5h.5m-.4 .2h.5m-.7 0h.5m-1.3 .1h.5m-3 .1h.5m2.6 .1h.5m-.2 .2h.5m-1.2 .3h.5m-1.6 .2h.5m-.6 .2h.5m.5 0h.5m-3.2 .3h.5m2.1 .1h.5m-3 .1h.5m1.2 0h.5m-.5 .1h.5m.5 .1h.5m-2.5 .2h.5m-1.5 0h.5m.8 .4h.5m1.3 .1h.5m-1 .1h.5m.2 .1h.5m-.2 0h.5m-.9 .1h.5m-2.1 0h.5m.7 .2h.5m-1.2 .2h.5m-1.3 0h.5m-1.4 .1h.5m2.3 .1h.5m0 .1h.5m-.4 0h.5m-2.6 0h.5m-2.9 .1h.5m4.2 .2h.5m-2.2 .1h.5m1.2 .2h.5m-1.2 0h.5m-.1 .2h.5m-2.1 0h.5m-3.1 .3h.5m2.7 0h.5m-5.1 0h.5m5.3 .4h.5m-4.8 0h.5m3.6 .1h.5m-2 0h.5m0 .1h.5m-3.7 .1h.5m-1.5 0h.5m2 0h.5m2 .2h.5m-.8 .1h.5m-1.6 .1h.5m1.2 0h.5m-.7 0h.5m-.5 0h.5m-1.8 0h.5m-3.2 .3h.5m1.2 0h.5m1.3 .4h.5m-1.5 0h.5m-2.6 .1h.5m-.3 .3h.5m2.6 .1h.5m-.4 .1h.5m-2.5 0h.5m-2.3 .2h.5m3 0h.5m-4.8 0h.5m-.5 .3h.5m4.3 0h.5m-2.7 .2h.5m-3.6 0h.5m3.2 .1h.5m1 .1h.5m-3.8 0h.5m.4 0h.5m-3.5 .1h.5m4.6 0h.5m-2.9 .1h.5m2.2 .1h.5m-4 .3h.5m-.2 0h.5m1.6 .1h.5m.7 .1h.5m-2.2 .1h.5m0 0h.5m-3.4 0h.5m-1.4 .1h.5m3.5 .1h.5m-1.8 0h.5m1.1 .1h.5m-.4 .2h.5m-1.9 .2h.5m-1.1 0h.5m2.4 .3h.5m-4.7 .1h.5m1.5 .1h.5m-.9 0h.5m1.9 .2h.5m-.7 0h.5m-1.1 .2h.5m-1.9 0h.5m-3.3 .3h.5m1.7 .2h.5m-1 0h.5m1 0h.5m.5 .1h.5m-1.6 .1h.5m-2.4 .3h.5m1.1 0h.5m-3 .1h.5m4 .2h.5m-3.4 0h.5m.8 .1h.5m-2.7 .1h.5m.3 .1h.5m.2 .1h.5m-3.3 0h.5m4 0h.5m-.9 .1h.5m-3.5 0h.5m.5 .1h.5m-2.5 .1h.5m.5 .6h.5m-.9 0h.5m-1.5 .1h.5m1.1 .1h.5m-.8 .4h.5m.9 .3h.5m2.3 .3h.5m-4.9 .1h.5m2.3 0h.5m-3.6 .1h.5m2.7 0h.5m-1 .1h.5m1 0h.5m-2.8 .3h.5m-2 0h.5m-.2 .1h.5m-1.4 .2h.5m3.8 0h.5m-5 0h.5m1.3 0h.5m-.5 .1h.5m2.6 .2h.5m-5.4 0h.5m4.6 0h.5m-4.7 .1h.5m3.3 .5h.5m-5 .1h.5m3.4 .1h.5m-2.4 .1h.5m.7 .3h.5m-1 .2h.5m-1.6 .2h.5m2.3 .2h.5m-2.9 .1h.5m.3 0h.5m.5 .1h.5m-2.6 .2h.5m1.6 .1h.5m-4.1 .1h.5m4.5 .1h.5m-.7 .1h.5m-4.3 .1h.5m2.6 0h.5m-4 .2h.5m-1.6 0h.5m3.4 0h.5m-1.7 0h.5m-2.2 .1h.5m-1.1 .1h.5m4.1 0h.5m-3.9 .3h.5m-.7 .3h.5m2.5 .2h.5m-3.9 0h.5m1.2 .5h.5m-1.7 .2h.5m-.6 .1h.5m1.1 .1h.5m1 .1h.5m-3.4 .1h.5m.2 0h.5m-.5 .6h.5m-2.4 .2h.5m.4 .1h.5m3.4 .1h.5m-3.9 .1h.5m-1.7 0h.5m2.8 1h.5m-1.4 .1h.5m-.3 .2h.5m-3 .9h.5m2.6 .1h.5m-3.3 .1h.5m.5 .5h.5m.4 .1h.5m-3.1 0h.5m-.7 .3h.5m4.5 0h.5m-5 .2h.5m2.5 .5h.5m-4.1 .3h.5m.9 .4h.5m-2 1.7h.5m-.2 .6h.5m-.4 1.4h.5m.3 .2h.5m9.8-40.4h.5m-3.6 3.4h.5m.4 1.2h.5m1.5 .3h.5m-1.9 .8h.5m-1.9 .8h.5m-1.6 .1h.5m2.3 0h.5m-4.1 .5h.5m-.5 .1h.5m1.6 .1h.5m.4 .2h.5m-2.7 .1h.5m-1.6 .1h.5m2.6 .2h.5m-3.3 .2h.5m.9 0h.5m0 .1h.5m-.7 0h.5m2 0h.5m-.5 .1h.5m-3.5 .1h.5m-2.2 .4h.5m1.2 .1h.5m-1.1 0h.5m.5 0h.5m-1.3 .2h.5m.1 .2h.5m2 .2h.5m-3.1 .1h.5m0 .2h.5m-1.8 0h.5m3.6 .1h.5m-2.7 0h.5m-3.5 .2h.5m-.4 .1h.5m3.3 .1h.5m-3.6 .2h.5m1.6 0h.5m-2.3 .1h.5m-.5 0h.5m2.5 0h.5m-4.8 .4h.5m1.2 0h.5m.1 .2h.5m-1.2 .4h.5m-1 .2h.5m-1.7 .2h.5m1.3 .1h.5m.8 0h.5m-.4 .1h.5m-2.6 .3h.5m-.5 .3h.5m-1.2 .1h.5m1.7 .1h.5m.9 0h.5m-1.7 .4h.5m2.3 .1h.5m-5.7 .1h.5m.9 .1h.5m-1.7 .1h.5m2.8 .1h.5m.7 .2h.5m-3.4 .1h.5m-1.2 0h.5m2.3 .1h.5m-3.1 .2h.5m3.7 .1h.5m-5 0h.5m1.1 0h.5m-.2 0h.5m-2.1 .1h.5m2 .3h.5m-1.7 .1h.5m-1.1 .1h.5m2.8 0h.5m-5.6 0h.5m-.8 .2h.5m.5 .2h.5m-.3 .1h.5m1.2 .3h.5m-3.6 .1h.5m-.4 .1h.5m-.2 .4h.5m-.9 0h.5m.9 .1h.5m-1.2 .1h.5m-1.1 .1h.5m0 0h.5m-.2 0h.5m.7 .5h.5m-2.6 .3h.5m4.4 0h.5m-2.3 .2h.5m.3 .3h.5m-3.2 .6h.5m3.4 .1h.5m-4.5 0h.5m2.7 .2h.5m-2 .1h.5m-1.7 0h.5m.8 .2h.5m-1.5 0h.5m-1.4 .2h.5m-.6 .3h.5m-1.4 .1h.5m-.4 .3h.5m2.9 .2h.5m-2.7 .3h.5m.2 .3h.5m3.4 .1h.5m-6.3 0h.5m4.4 .1h.5m-5.2 .1h.5m4.1 0h.5m-3 0h.5m.1 0h.5m-3.4 .4h.5m0 .2h.5m3.4 .2h.5m-1.6 .6h.5m-2.2 0h.5m1 .1h.5m-1.4 .9h.5m-2.2 0h.5m0 .1h.5m2.7 .1h.5m-1 .1h.5m-.1 0h.5m-4.7 .2h.5m2 .3h.5m-.5 .4h.5m-.6 .4h.5m.5 .2h.5m-3.9 .3h.5m1.1 .5h.5m-1.7 .7h.5m4.2 .2h.5m-2.1 0h.5m.4 .1h.5m-2.6 0h.5m-1.6 .7h.5m-1.3 .3h.5m3 .1h.5m-4.4 .2h.5m.6 .6h.5m-1.5 .1h.5m.8 .5h.5m-1.8 2.4h.5m1.1 2h.5m-1.9 1h.5m1.3 .2h.5m-2.6 .1h.5m.5 .5h.5m2.2 15h.5m2.1-49.8h.5m-.1 1.3h.5m-1.2 2.5h.5m.1 .6h.5m-1.2 2.8h.5m.1 8.7h.5m2.8 .5h.5m-3.3 1.2h.5m-.8 1.5h.5m2.4 2.3h.5m-3.4 .6h.5m-.1 .5h.5m3.8 3.7h.5m-4.8 1h.5m.5 8h.5m8.7-28.4h.5" stroke="#3348ff" stroke-width="0.55"/><path d="M169.9 831.8h.6m4.8-11.1h.6m.5 1.9h.6m-4.3 4.2h.6m-.1 .2h.6m-.2 .2h.6m0 .3h.6m1.4 .2h.6m-2.1 .1h.6m.6 1.4h.6m-.7 .1h.6m-2.3 .2h.6m1.4 .2h.6m-.9 .1h.6m-3.2 .3h.6m3.1 .2h.6m-1 .1h.6m-1.2 .2h.6m.4 0h.6m-2.1 .3h.6m-3.2 .8h.6m2.5 .3h.6m-1.3 .1h.6m-2.7 .4h.6m2.8 .6h.6m-2.9 .8h.6m.6 0h.6m0 .1h.6m.1 .2h.6m-3.8 .1h.6m1.7 .1h.6m.5 .1h.6m-6.3 0h.6m4.2 .9h.6m-5.4 .1h.6m2.6 .2h.6m1.9 .4h.6m-1.4 .2h.6m-2.2 .1h.6m-1 0h.6m1.9 1.2h.6m-5.7 .2h.6m-.3 .3h.6m1.1 1.3h.6m-.4 3.1h.6m5.4-26.1h.6m-2.2 1.2h.6m2.1 6h.6m1.5 .3h.6m-1.8 .3h.6m-.3 .5h.6m-2.2 .6h.6m-3.4 .1h.6m4.5 .1h.6m-4.9 .1h.6m-1.4 .3h.6m0 .1h.6m.3 .1h.6m-2.2 .1h.6m.5 .3h.6m1.2 .2h.6m-2.3 .1h.6m1.7 .3h.6m-.4 0h.6m-.7 .1h.6m-.6 0h.6m1.2 .1h.6m-5.4 .1h.6m1 .1h.6m-.5 .2h.6m-1.2 1h.6m-1.9 .2h.6m-.4 .1h.6m2.1 .1h.6m-3.3 .2h.6m-.1 0h.6m-.2 .2h.6m-2.5 .3h.6m2.1 .1h.6m.1 .1h.6m-2.1 .3h.6m-1.1 .4h.6m-1.2 0h.6m.3 .1h.6m1.2 .3h.6m-3.3 .3h.6m-.3 .2h.6m.4 .6h.6m-.6 .4h.6m-2.3 .3h.6m.4 .5h.6m.5 .4h.6m-.5 .3h.6m.9 .2h.6m-.8 .1h.6m-2.5 0h.6m-1.2 .2h.6m-.9 0h.6m-1.1 3.6h.6m5.1-17h.6m-.6 1.4h.6m.9 3h.6m-2.2 4.2h.6" stroke="#1414d0" stroke-width="0.7"/><g filter="url(#db2)"><ellipse cx="157.7" cy="856.5" rx="10.4" ry="4.2" fill="#1c30f0" transform="rotate(-45 157.7 856.5)"/><ellipse cx="157.7" cy="856.5" rx="8.1" ry="3.2" fill="#18a0f0" transform="rotate(-45 157.7 856.5)"/><ellipse cx="157.7" cy="856.5" rx="5.8" ry="2.3" fill="#28d29a" transform="rotate(-45 157.7 856.5)"/><ellipse cx="157.7" cy="856.5" rx="3.5" ry="1.4" fill="#8ee040" transform="rotate(-45 157.7 856.5)"/><ellipse cx="157.7" cy="856.5" rx="1.6" ry="0.8" fill="#e0e030" transform="rotate(-45 157.7 856.5)"/></g></g><line x1="169.5" y1="811.5" x2="169.5" y2="878.6" stroke="#666" stroke-width="0.8"/><line x1="138.2" y1="840.5" x2="205.6" y2="840.5" stroke="#666" stroke-width="0.8"/><line x1="139.7" y1="878.6" x2="139.7" y2="880.1" stroke="#888" stroke-width="0.4"/><text x="139.7" y="883.4" font-size="3.2" text-anchor="middle" fill="#777">10</text><line x1="136.7" y1="877.1" x2="138.2" y2="877.1" stroke="#888" stroke-width="0.4"/><text x="136" y="878.2" font-size="3.2" text-anchor="end" fill="#777">10</text><line x1="152.6" y1="878.6" x2="152.6" y2="880.1" stroke="#888" stroke-width="0.4"/><text x="152.6" y="883.4" font-size="3.2" text-anchor="middle" fill="#777">10</text><line x1="136.7" y1="864.3" x2="138.2" y2="864.3" stroke="#888" stroke-width="0.4"/><text x="136" y="865.4" font-size="3.2" text-anchor="end" fill="#777">10</text><line x1="165.5" y1="878.6" x2="165.5" y2="880.1" stroke="#888" stroke-width="0.4"/><text x="165.5" y="883.4" font-size="3.2" text-anchor="middle" fill="#777">10</text><line x1="136.7" y1="851.5" x2="138.2" y2="851.5" stroke="#888" stroke-width="0.4"/><text x="136" y="852.6" font-size="3.2" text-anchor="end" fill="#777">10</text><line x1="178.3" y1="878.6" x2="178.3" y2="880.1" stroke="#888" stroke-width="0.4"/><text x="178.3" y="883.4" font-size="3.2" text-anchor="middle" fill="#777">10</text><line x1="136.7" y1="838.6" x2="138.2" y2="838.6" stroke="#888" stroke-width="0.4"/><text x="136" y="839.7" font-size="3.2" text-anchor="end" fill="#777">10</text><line x1="191.2" y1="878.6" x2="191.2" y2="880.1" stroke="#888" stroke-width="0.4"/><text x="191.2" y="883.4" font-size="3.2" text-anchor="middle" fill="#777">10</text><line x1="136.7" y1="825.8" x2="138.2" y2="825.8" stroke="#888" stroke-width="0.4"/><text x="136" y="826.9" font-size="3.2" text-anchor="end" fill="#777">10</text><line x1="204.1" y1="878.6" x2="204.1" y2="880.1" stroke="#888" stroke-width="0.4"/><text x="204.1" y="883.4" font-size="3.2" text-anchor="middle" fill="#777">10</text><line x1="136.7" y1="813" x2="138.2" y2="813" stroke="#888" stroke-width="0.4"/><text x="136" y="814.1" font-size="3.2" text-anchor="end" fill="#777">10</text><text x="205.2" y="819.1" font-size="7.8" text-anchor="end">14.07%</text><text x="171.6" y="891" font-size="8.6" text-anchor="middle">FITC-A</text><text x="131.1" y="845.5" font-size="8.4" text-anchor="middle" transform="rotate(-90 131.1 845.5)">PI-A</text>
<rect x="227" y="811.5" width="67.4" height="67.1" fill="#fff" stroke="#666" stroke-width="0.6"/><clipPath id="cp206"><rect x="227" y="811.5" width="67.4" height="67.1"/></clipPath><g clip-path="url(#cp206)"><g filter="url(#db)"><ellipse cx="246.2" cy="857.5" rx="15.1" ry="7.2" fill="#3a55ff" fill-opacity="0.6" transform="rotate(-45 246.2 857.5)"/><ellipse cx="268.8" cy="828.3" rx="8.5" ry="3.4" fill="#2238f0" fill-opacity="0.3" transform="rotate(-15 268.8 828.3)"/></g><path d="M226.2 842.1h.5m3.7 2.3h.5m-.7 3.6h.5m-3.8 .9h.5m3.2 8.4h.5m-.5 .3h.5m-1.6 .6h.5m-.5 1.7h.5m.6 2.3h.5m-2.6 3h.5m1.4 .8h.5m-.5 .4h.5m-.6 4.3h.5m-2.2 .4h.5m-2 1.7h.5m2.4 1.7h.5m1.3-30.5h.5m4.5 2.9h.5m-1.2 3.1h.5m-1 .6h.5m.7 .3h.5m-2.6 2.5h.5m-.1 1.2h.5m.3 1.6h.5m-1.6 .4h.5m.6 1.1h.5m-3.3 .5h.5m1.4 .1h.5m1.4 .6h.5m-1.3 0h.5m-1 .3h.5m-.2 .1h.5m-5.1 .4h.5m2.8 .3h.5m-.4 .3h.5m.3 .1h.5m-2.5 0h.5m2.4 .1h.5m-4.8 .2h.5m2.9 .1h.5m-1.2 .1h.5m-1.1 .2h.5m2 .2h.5m-5 .7h.5m3.5 0h.5m-1.7 .2h.5m-.4 .1h.5m-.1 .1h.5m.6 .5h.5m-.5 .1h.5m-5.3 .1h.5m2.5 0h.5m1 .9h.5m-1.8 0h.5m-1.5 .3h.5m1.6 0h.5m-1.4 .1h.5m-2.3 .2h.5m-1.1 .1h.5m1.9 .5h.5m-2.5 0h.5m-1.6 .2h.5m2.1 .1h.5m.5 0h.5m-.4 .1h.5m-1.3 .1h.5m1.4 .1h.5m-4.4 0h.5m2.9 0h.5m-1.3 .4h.5m-2.9 .1h.5m2.6 .1h.5m-2.2 .8h.5m-3.2 .3h.5m1.2 .1h.5m2.1 .6h.5m-1.2 .2h.5m-2.4 0h.5m2.2 .1h.5m-3.2 .8h.5m2.7 .1h.5m-2.1 .2h.5m-2.4 .5h.5m-1.1 .2h.5m-1.3 .4h.5m.7 .2h.5m.8 .8h.5m.5 .1h.5m1.1 .2h.5m-6.5 .1h.5m.3 .1h.5m1.9 .6h.5m-.5 1.2h.5m-3.6 .5h.5m5.1 .4h.5m-2 .4h.5m-4.2 3.1h.5m-.8 2.3h.5m-.2 2.3h.5m9.4-49.2h.5m-2.6 1.8h.5m1.4 3.9h.5m-1.7 2h.5m1 .5h.5m-2.6 3.8h.5m1.7 .5h.5m-.8 .6h.5m.4 .7h.5m0 .2h.5m-2.5 .8h.5m.4 .5h.5m-4.7 1.2h.5m4.5 0h.5m-1.4 .1h.5m-3.2 .8h.5m2 .8h.5m-2.4 0h.5m1.6 .1h.5m-3.4 .1h.5m3.1 .1h.5m-3.8 .1h.5m-.1 .2h.5m-.9 .3h.5m2.4 0h.5m-.4 0h.5m.4 .4h.5m-3.8 .8h.5m.2 .4h.5m.2 .1h.5m-.3 0h.5m-.7 0h.5m0 .2h.5m-1.6 .1h.5m-2.6 .2h.5m4 .1h.5m-2.3 0h.5m-.8 0h.5m-2.2 0h.5m2.8 .2h.5m-5.4 .2h.5m1.3 .1h.5m1.5 0h.5m-1.6 0h.5m-.2 .1h.5m-2.2 .1h.5m1.4 .5h.5m-2.7 0h.5m2.7 .1h.5m-4.6 0h.5m4.3 0h.5m-.3 .1h.5m-4.4 .1h.5m-1.6 .1h.5m3.9 .1h.5m-.8 .1h.5m-.4 0h.5m-3.2 .1h.5m3.3 0h.5m-2.9 0h.5m.6 0h.5m.9 .1h.5m-5 0h.5m3.3 .3h.5m-1.4 0h.5m-1.5 .1h.5m-2.6 .1h.5m.2 .1h.5m-2.3 .1h.5m2.9 0h.5m-.6 0h.5m.7 .1h.5m-.5 .1h.5m-.3 0h.5m-3 0h.5m-1.7 .1h.5m3.3 0h.5m-4.1 0h.5m4 0h.5m-3.6 0h.5m1.4 .2h.5m.3 .2h.5m-2.4 0h.5m-1.4 0h.5m1.9 0h.5m-1.6 .1h.5m-2.1 .1h.5m.5 .1h.5m2 .1h.5m-2.8 .1h.5m.1 .1h.5m-1 0h.5m.4 0h.5m-4.7 .1h.5m2.9 0h.5m-1.7 .1h.5m1 0h.5m1.5 0h.5m-3.5 0h.5m-1.5 0h.5m-1.1 .1h.5m-.5 0h.5m.2 0h.5m.6 .2h.5m-1.7 .1h.5m2.5 0h.5m-1.4 .1h.5m-2 0h.5m3 .3h.5m-1.4 .3h.5m-2.8 0h.5m-.3 0h.5m2.1 0h.5m-3 .1h.5m-2.2 .1h.5m-.7 0h.5m1.7 .1h.5m-2.8 0h.5m-1 .1h.5m3.2 0h.5m.3 0h.5m.4 .1h.5m-2.6 .1h.5m1.5 0h.5m-3.5 0h.5m2.5 .1h.5m-1.4 .2h.5m-1.2 .1h.5m-3.2 .1h.5m2.3 0h.5m-3 .1h.5m1.4 0h.5m-1.1 0h.5m1.9 0h.5m-2.6 .1h.5m0 .2h.5m-3.7 .1h.5m3.7 .1h.5m.2 0h.5m-1.9 0h.5m-4.8 .3h.5m1.1 .1h.5m1.7 0h.5m1.7 .1h.5m-4.5 .2h.5m3.1 0h.5m-2.4 .1h.5m-3.4 0h.5m.9 .1h.5m1.5 0h.5m.3 .1h.5m-3.9 .1h.5m2.1 0h.5m-4.3 .1h.5m0 .2h.5m1.2 0h.5m.4 0h.5m-2.4 .3h.5m.6 .1h.5m-1 .4h.5m2.6 .1h.5m-5.6 0h.5m1.1 .2h.5m-1 .1h.5m2.8 0h.5m-3.5 .1h.5m0 0h.5m.7 0h.5m.2 0h.5m1.3 .2h.5m-2.6 0h.5m1.8 .1h.5m-4.1 0h.5m-.6 .1h.5m1.7 0h.5m-2.4 .2h.5m1.8 0h.5m-3 0h.5m2.1 .1h.5m-1.4 0h.5m.6 .3h.5m-4.2 .1h.5m3.6 0h.5m-1 .2h.5m-3.7 .2h.5m-2.1 0h.5m-.5 .2h.5m4.1 0h.5m-2.8 0h.5m.5 .1h.5m.4 .4h.5m-1.1 .3h.5m-.9 .4h.5m-3.1 0h.5m4.3 0h.5m-1.2 .1h.5m-2.3 .3h.5m-1 0h.5m2.5 .1h.5m-6.1 .2h.5m.3 .2h.5m2.6 0h.5m-3.1 .1h.5m2.6 0h.5m-4.7 .9h.5m.9 .2h.5m0 .2h.5m2 .1h.5m-3.6 .1h.5m-.5 .5h.5m.5 .3h.5m-1.8 .2h.5m1.9 .1h.5m-2.9 .2h.5m1.6 .3h.5m.5 .4h.5m-4.3 1.9h.5m-.5 .9h.5m-.4 .7h.5m8.5-43.6h.5m-.1 1.1h.5m.9 3.4h.5m-2.8 1.8h.5m-1.2 .1h.5m2.6 .1h.5m-5 0h.5m2.8 .2h.5m-1.4 .2h.5m-1 .3h.5m2.2 .1h.5m-1.2 .1h.5m-2.2 .1h.5m1.8 .2h.5m-4.8 .2h.5m2.2 .7h.5m-3.6 .1h.5m4.5 0h.5m-2.9 1.6h.5m1.9 .2h.5m-2.5 .2h.5m1.5 0h.5m-1 .2h.5m-1.9 .2h.5m-3.6 0h.5m.5 0h.5m-1.5 .3h.5m1.3 0h.5m1.9 .5h.5m-3.3 .5h.5m-.8 .1h.5m3.3 1.3h.5m-2.5 0h.5m1.3 .2h.5m-4.2 .4h.5m1.7 .2h.5m.4 .1h.5m-1.6 .1h.5m.1 .3h.5m-.7 0h.5m.6 .5h.5m-3.9 .1h.5m3.1 .3h.5m-2.9 .1h.5m-1.3 .5h.5m2.4 0h.5m-.5 0h.5m-2.7 .2h.5m2.3 0h.5m-2.9 .1h.5m1.7 .1h.5m-.9 0h.5m-4.7 .3h.5m3.9 .1h.5m-5.3 .1h.5m.3 0h.5m-.6 .2h.5m-.6 0h.5m3.1 .3h.5m-3 .3h.5m-.2 .4h.5m-3.2 0h.5m4.5 .1h.5m-2.5 0h.5m-3.2 .4h.5m3.4 0h.5m-1.8 .2h.5m1.5 0h.5m-1.5 .1h.5m.7 .1h.5m-3.3 0h.5m-2.8 .1h.5m.9 .1h.5m2.7 .4h.5m-1.5 .3h.5m.9 .2h.5m.4 0h.5m-5.8 .1h.5m2.1 .1h.5m-2.3 .1h.5m1.8 0h.5m.5 0h.5m-2.2 0h.5m1.2 0h.5m.5 .1h.5m-.6 .1h.5m-2.5 0h.5m-1.2 .1h.5m-1.1 0h.5m-.8 0h.5m3.2 0h.5m-5 .1h.5m2.8 0h.5m-.8 0h.5m-1.6 .2h.5m-.8 0h.5m-2.8 0h.5m2.3 0h.5m1.1 0h.5m-1 0h.5m-3.4 .1h.5m-1.8 .1h.5m.6 0h.5m1.5 .1h.5m-2.3 0h.5m-1.3 .1h.5m3.9 .1h.5m-2.2 .1h.5m-2.8 .1h.5m-1.3 0h.5m-.2 0h.5m2.9 0h.5m-2.6 .1h.5m3.6 0h.5m-1.5 0h.5m-4.6 0h.5m-.6 0h.5m1.7 .1h.5m-1.2 0h.5m-.5 .1h.5m-2.7 0h.5m1.5 0h.5m.3 .1h.5m-3.1 0h.5m1.4 .1h.5m.7 .1h.5m-3.8 0h.5m3.4 0h.5m-2.2 0h.5m2.5 .1h.5m-3.5 0h.5m-.8 0h.5m2.8 0h.5m-1.2 .1h.5m-4.8 0h.5m4.7 .1h.5m-3.1 0h.5m-1.1 .1h.5m.4 0h.5m-.5 0h.5m-1.2 .1h.5m-1.5 0h.5m3.9 .1h.5m-1.3 0h.5m-2.2 .1h.5m-1.5 .2h.5m.6 0h.5m-3.1 0h.5m2.1 0h.5m-3.4 .1h.5m1.8 .1h.5m2.5 0h.5m-.8 .1h.5m-2.6 0h.5m.7 0h.5m-3.3 .1h.5m-1 .1h.5m3.6 .1h.5m-2 0h.5m.6 .1h.5m-.8 0h.5m-4.6 .2h.5m4.2 .1h.5m-5 0h.5m-1.3 0h.5m.8 .1h.5m.8 0h.5m1.2 0h.5m.3 0h.5m-2.6 0h.5m-.4 .1h.5m-3.6 .1h.5m4.1 0h.5m-2.6 .1h.5m-1.5 0h.5m-.6 .1h.5m2.3 0h.5m-3.1 0h.5m.9 0h.5m-2.4 0h.5m2.4 0h.5m-1.6 .2h.5m-.6 0h.5m1.1 .1h.5m-2.4 0h.5m-1.7 0h.5m.8 .1h.5m-1.8 0h.5m3.9 .1h.5m-4.9 .1h.5m-.3 0h.5m2 .1h.5m-.3 .1h.5m.6 0h.5m-1.7 0h.5m-1.1 0h.5m-1.8 .1h.5m1.6 0h.5m-2.2 .1h.5m-.9 0h.5m2.6 .1h.5m-.1 0h.5m-6.2 0h.5m2.7 0h.5m1.2 .1h.5m-3.3 0h.5m3.2 .1h.5m-4.1 .3h.5m-.6 0h.5m-2.5 .1h.5m2.6 0h.5m-.9 .1h.5m.3 0h.5m1.6 0h.5m-4.2 .1h.5m1.7 .2h.5m-4.1 0h.5m2 0h.5m2.3 .1h.5m-2.2 0h.5m-4.8 0h.5m1 0h.5m-.3 .1h.5m-1 .1h.5m1.6 .1h.5m.5 0h.5m-3.3 0h.5m-.7 .2h.5m.1 0h.5m.4 0h.5m1.8 .2h.5m-4.9 .1h.5m1.4 .1h.5m.2 0h.5m1.8 0h.5m-1.9 0h.5m-2.8 0h.5m-1.2 .1h.5m1.4 0h.5m-.6 .1h.5m.1 .1h.5m-.5 .2h.5m-3 .2h.5m.8 .1h.5m-1.5 0h.5m-1.6 .1h.5m1.7 0h.5m-1.1 0h.5m-2 .1h.5m1.5 0h.5m-1.4 0h.5m.5 .1h.5m1.6 0h.5m.2 .1h.5m-2.4 0h.5m-3.7 0h.5m2.5 0h.5m-.1 .2h.5m1.6 0h.5m-1.4 .1h.5m-3 .1h.5m2.2 0h.5m-2.5 0h.5m-3.1 0h.5m3.3 .1h.5m-2.8 0h.5m-.7 .2h.5m2.5 .1h.5m-.9 .3h.5m-.3 0h.5m-.2 .1h.5m-5 0h.5m-.7 .1h.5m1.2 0h.5m-2.3 .1h.5m1.9 .1h.5m-.3 0h.5m.4 .1h.5m1.7 .2h.5m-2.7 .3h.5m1.6 .1h.5m-3.9 .1h.5m2.4 0h.5m-2.3 .1h.5m-1.3 0h.5m2.6 .1h.5m-2.3 0h.5m-.2 0h.5m1.3 0h.5m-4.6 .1h.5m-1.9 0h.5m2.4 .1h.5m1.4 .1h.5m-3.7 .1h.5m1.5 .2h.5m-.2 0h.5m1.2 .1h.5m-2.2 0h.5m-.8 .2h.5m-2.1 0h.5m-2.4 0h.5m3.3 .1h.5m-1.1 .5h.5m-3.6 .2h.5m3.7 .3h.5m-1.2 .2h.5m.2 0h.5m-5.1 .2h.5m3.5 .3h.5m-1.5 .3h.5m1 .7h.5m-.8 .2h.5m-3.6 .4h.5m3.5 .1h.5m-5.6 .1h.5m2.1 .6h.5m0 .7h.5m2 .3h.5m-5.7 .1h.5m1.4 .8h.5m1.3 1.8h.5m-1.8 .3h.5m-1.1 .8h.5m5-56.9h.5m2.9 6.2h.5m-2.7 2.9h.5m2.1 .9h.5m-4.1 .8h.5m-2.4 1.7h.5m3.3 .3h.5m-.5 .9h.5m-3.3 .9h.5m3.7 .1h.5m-1.2 .1h.5m-2.9 .1h.5m1.5 .3h.5m.1 .6h.5m-.5 0h.5m-.7 0h.5m-1.5 .5h.5m-3.6 .8h.5m-.7 .1h.5m3.9 0h.5m.4 .1h.5m-1.7 0h.5m1 .1h.5m-5.1 .6h.5m2.9 0h.5m-4.4 .3h.5m2.3 0h.5m-.4 .1h.5m1.3 .3h.5m-2.8 .1h.5m.9 .1h.5m-3.1 .1h.5m1.9 1h.5m-.5 .2h.5m-3.5 .1h.5m2.2 .1h.5m1.3 0h.5m-3.6 .1h.5m-1.7 .1h.5m.7 .6h.5m.8 0h.5m.2 .3h.5m-5.4 0h.5m1.6 0h.5m1.9 0h.5m-4.8 0h.5m0 .1h.5m4.5 0h.5m-3.9 .1h.5m-1.7 0h.5m1 .3h.5m1.1 .1h.5m.2 .2h.5m-3.5 0h.5m2.1 0h.5m-.4 .1h.5m-2 0h.5m-.9 .1h.5m2.2 .2h.5m-1.9 0h.5m-2.5 .4h.5m.5 .6h.5m1 .1h.5m-2.6 .1h.5m1 .2h.5m1.5 .2h.5m-4.7 0h.5m3.6 .1h.5m-5 0h.5m1.6 0h.5m-.3 .4h.5m1 .4h.5m.1 .3h.5m-5.4 .1h.5m2 .2h.5m-.6 0h.5m-1.2 .2h.5m.8 .7h.5m-.5 .9h.5m.3 0h.5m-5 .1h.5m.9 .2h.5m4 .1h.5m-2.6 .3h.5m.3 0h.5m-1 .5h.5m-1.3 0h.5m.8 0h.5m-.6 .2h.5m-.1 .3h.5m-1.5 .6h.5m-1.6 .2h.5m-.8 0h.5m-1.3 .1h.5m.7 .1h.5m-1.5 0h.5m-.5 .1h.5m-2.2 0h.5m4.5 0h.5m-.6 0h.5m-2.3 0h.5m1.3 .1h.5m-2.4 .3h.5m2 0h.5m-.4 .3h.5m-4.5 0h.5m2.6 .2h.5m-4.2 .1h.5m3 0h.5m-4.3 0h.5m-1.5 0h.5m.3 .1h.5m-.7 0h.5m3.5 .4h.5m-4.3 0h.5m2.9 .1h.5m-4.2 .1h.5m-.2 0h.5m3.4 .3h.5m-.7 0h.5m-5 0h.5m-.5 0h.5m1.7 .1h.5m-2.1 .1h.5m-.4 .1h.5m3.7 .1h.5m-2 0h.5m-3.7 0h.5m-.5 .1h.5m2.5 0h.5m-.9 0h.5m-2.4 .1h.5m3.2 .1h.5m-4 .1h.5m-1.2 .1h.5m0 .1h.5m-1.1 0h.5m1.3 0h.5m-.3 .1h.5m-1 0h.5m2.5 .1h.5m-3.7 .1h.5m-.5 0h.5m.1 .1h.5m-2 0h.5m.2 .1h.5m-.2 .6h.5m3.8 0h.5m-3.5 0h.5m-.4 .2h.5m-2.6 0h.5m4.5 .1h.5m-3.7 .1h.5m-2.8 .1h.5m1.9 .2h.5m.2 0h.5m.2 .1h.5m-4.1 0h.5m4.3 .1h.5m-3 .1h.5m.2 0h.5m-1.2 .1h.5m-2.3 0h.5m-1 0h.5m-.3 .1h.5m1.7 .2h.5m-2.8 0h.5m3.1 .1h.5m.2 0h.5m-.5 0h.5m-5.1 .1h.5m0 0h.5m.6 0h.5m-1 .1h.5m-1.2 0h.5m0 0h.5m-1.7 .1h.5m.7 0h.5m-.3 .1h.5m3.8 .2h.5m-3.7 .1h.5m-2.4 0h.5m-1.1 0h.5m.3 .1h.5m.5 .1h.5m3.3 0h.5m-1.1 0h.5m-2.6 .2h.5m-1.8 .1h.5m-.5 0h.5m3.6 0h.5m-6.2 .1h.5m-.2 .1h.5m3.1 0h.5m-1.3 .1h.5m-1.5 .1h.5m-2.8 0h.5m.2 .1h.5m-1.1 .1h.5m.4 .1h.5m-.1 0h.5m-.6 .2h.5m0 0h.5m-1.5 0h.5m-.6 .1h.5m4.7 .1h.5m-5.1 .1h.5m.9 .1h.5m-1.8 .1h.5m1.8 .2h.5m1.7 .1h.5m-2.6 0h.5m1.2 .1h.5m-5.6 0h.5m3.9 0h.5m-1.5 .1h.5m-4 0h.5m4.3 0h.5m-5.2 .1h.5m-.1 .2h.5m3.3 0h.5m-3.3 .1h.5m1 0h.5m-2.8 .2h.5m4.2 0h.5m-6 0h.5m4.2 .1h.5m-4 0h.5m3.9 .1h.5m-4.8 .1h.5m2.9 0h.5m-4.7 .2h.5m3.7 .1h.5m-4 .1h.5m.4 .2h.5m-2.4 .2h.5m.1 0h.5m-.2 .2h.5m-1.6 .1h.5m2.1 0h.5m-3.1 .1h.5m4.9 0h.5m-3.2 .1h.5m2.3 .1h.5m-5.5 .2h.5m.7 .2h.5m2.4 .1h.5m-4.9 .1h.5m.3 0h.5m-.6 .1h.5m-1.4 .1h.5m.4 .1h.5m2.4 0h.5m1 0h.5m-2.9 .4h.5m1.7 .2h.5m-.4 .2h.5m-5.9 .1h.5m3.2 0h.5m-.4 .1h.5m-3.7 .2h.5m3.6 .1h.5m-3 0h.5m-.3 .2h.5m.8 .1h.5m-3 0h.5m.2 .3h.5m2.3 .4h.5m-4.2 .1h.5m-.9 0h.5m1.7 .1h.5m-2.8 .1h.5m4.9 0h.5m-5.5 .1h.5m.3 .2h.5m.3 0h.5m.6 .1h.5m-3.4 .2h.5m.2 .3h.5m-.5 .2h.5m-1.6 .2h.5m1.8 .1h.5m1.6 .7h.5m-2.3 1.6h.5m.8 2.1h.5m-4 0h.5m-1.2 2.9h.5m5.3 2.7h.5m-.6 6.5h.5m-5.3 1.8h.5m5.4-61.5h.5m3.2 .6h.5m.7 4.9h.5m-.9 .3h.5m-.9 0h.5m-.4 .1h.5m-.6 .8h.5m-.5 .1h.5m-2.4 1.1h.5m-2.2 0h.5m3.9 .6h.5m-3.6 .1h.5m1.5 .1h.5m-1.8 0h.5m1.6 .2h.5m-4.4 .2h.5m-.2 .1h.5m-.6 .1h.5m2.5 0h.5m-1.8 0h.5m1.7 .2h.5m-.4 0h.5m-2.5 .1h.5m-1.8 .4h.5m-2.5 .6h.5m4.7 .1h.5m-4.4 0h.5m-1.1 .2h.5m4 .2h.5m-2.1 .3h.5m.2 0h.5m-2.1 .3h.5m1.2 .1h.5m-3.3 .2h.5m.7 0h.5m-.2 .1h.5m1.1 .1h.5m-2 0h.5m-2.1 .2h.5m.6 .1h.5m-1.4 .3h.5m2.7 0h.5m-5.2 0h.5m2 .2h.5m2.1 0h.5m-.7 0h.5m-1.4 0h.5m-1.8 .1h.5m.2 .1h.5m1.1 .1h.5m-4.8 .2h.5m.9 0h.5m-.9 .1h.5m-1.8 .1h.5m-.8 .7h.5m4.6 .6h.5m-6 .1h.5m2.8 .3h.5m-1.8 .2h.5m.4 .1h.5m-1.6 .1h.5m-1.9 .5h.5m.3 0h.5m1.9 .3h.5m-.9 0h.5m-3.5 .1h.5m4 .2h.5m-4.6 .4h.5m.7 .2h.5m.3 .2h.5m-2.3 .1h.5m4.3 .1h.5m-2 .3h.5m-3.3 0h.5m3.3 0h.5m-2 .5h.5m-.1 0h.5m.6 .2h.5m-2 0h.5m-2.8 .1h.5m2.3 .1h.5m.6 .2h.5m-.2 .1h.5m-3.6 0h.5m-.3 0h.5m-3.2 .1h.5m2.5 .3h.5m-1.7 0h.5m-1.4 .2h.5m.3 .2h.5m2.7 .1h.5m-2.9 0h.5m.6 .2h.5m-.9 .2h.5m-.7 .4h.5m-.9 .1h.5m1.6 .2h.5m-4.3 .1h.5m3.2 .3h.5m-1.3 .4h.5m-2 .4h.5m-.6 .2h.5m0 .2h.5m-1.1 .2h.5m-2 .6h.5m3 0h.5m-3.4 0h.5m-2 .2h.5m5.3 .2h.5m-5.4 .1h.5m4.6 .1h.5m-1.1 .1h.5m-1.8 .1h.5m1.2 .1h.5m-2.3 0h.5m.6 .2h.5m-4.1 .1h.5m-1.5 .2h.5m2.6 0h.5m0 .2h.5m-.1 .1h.5m-.6 .1h.5m-1.2 .2h.5m.8 .1h.5m-2 .1h.5m-2.9 0h.5m.3 0h.5m1.3 .1h.5m-1.3 0h.5m-1.2 .1h.5m3.1 .1h.5m-.8 0h.5m-2.3 .1h.5m-2.7 .3h.5m2.3 0h.5m1 .1h.5m-5.7 .1h.5m3.8 0h.5m-1.3 .1h.5m-2 0h.5m-.3 0h.5m2 .1h.5m-1.7 0h.5m.3 0h.5m-4.6 .1h.5m2.8 .1h.5m1.4 0h.5m-1.9 .1h.5m-.3 .1h.5m.3 .1h.5m-.6 0h.5m-1.5 .2h.5m-4.5 0h.5m2.3 0h.5m2 0h.5m-.4 .1h.5m-1.6 0h.5m-3.3 .1h.5m-.3 .1h.5m.2 .1h.5m-1.7 0h.5m.2 .1h.5m.1 .1h.5m1.6 .2h.5m-2.2 .1h.5m1.5 .1h.5m-1.5 .5h.5m-2.3 .2h.5m1.7 .1h.5m-4.7 0h.5m-.2 .1h.5m-.9 .3h.5m2.7 0h.5m-1 .1h.5m-1.2 .4h.5m2.8 0h.5m-3.7 0h.5m1.2 .1h.5m-.4 .1h.5m-.6 0h.5m-3.9 .1h.5m3.8 .1h.5m.1 0h.5m-3.6 0h.5m-2.6 .2h.5m4.5 .2h.5m-.9 .2h.5m-4.8 0h.5m.1 .2h.5m-.9 0h.5m-.4 .1h.5m2.1 0h.5m-3.5 .3h.5m-.6 .3h.5m-1.2 0h.5m1.9 .2h.5m-2.7 0h.5m5.1 0h.5m-4.7 .1h.5m-.9 .2h.5m1.4 0h.5m-2.9 .1h.5m.5 .2h.5m-.7 .2h.5m1.6 .2h.5m1.5 0h.5m-1.4 .5h.5m-2.5 .1h.5m2.4 .1h.5m-4.8 .3h.5m3.8 .2h.5m-6 0h.5m1.5 .2h.5m-1.1 .3h.5m-1.3 .1h.5m-.6 .1h.5m-.7 .3h.5m-.6 0h.5m4.4 .2h.5m-3.8 .3h.5m-1.8 .3h.5m3.6 .2h.5m-2.6 .5h.5m2.5 .6h.5m-.8 .2h.5m-2.2 .4h.5m-.9 .5h.5m-3 .1h.5m3.3 1.2h.5m-1.6 3.4h.5m-3.8 .4h.5m10.9-46.4h.5m-5 .2h.5m-.8 2.1h.5m2.7 0h.5m-3.6 1.1h.5m3.7 1h.5m.1 .8h.5m-3.6 .4h.5m2.2 .6h.5m-.4 0h.5m-3.6 .2h.5m-1.6 0h.5m2.5 .4h.5m-.1 0h.5m.8 .2h.5m-3.3 .5h.5m2 .1h.5m-1.4 .2h.5m-1.5 .1h.5m1.7 .1h.5m-2 0h.5m-2.4 0h.5m1.4 .1h.5m-.5 .1h.5m.9 .1h.5m-5.1 .3h.5m1 .1h.5m-.9 .3h.5m2 0h.5m.4 .1h.5m-4.1 .3h.5m1.9 0h.5m-2.5 .1h.5m.7 .1h.5m-.1 .1h.5m-4.4 0h.5m2.6 0h.5m-1.9 .1h.5m2.4 .1h.5m-4.8 0h.5m2.2 .1h.5m-3.1 .1h.5m3.3 0h.5m-2.1 .1h.5m-.7 .2h.5m.2 0h.5m1.3 .2h.5m.1 .1h.5m-1.4 .2h.5m-2.9 .2h.5m.5 0h.5m2 .1h.5m-3.1 .2h.5m.8 0h.5m-.2 0h.5m-2.7 .3h.5m-.7 .1h.5m0 .3h.5m-.6 .1h.5m-1.3 .2h.5m-.1 0h.5m.2 0h.5m-3.5 .1h.5m1.1 .1h.5m1.2 .1h.5m-.3 .2h.5m-2.8 0h.5m3 .1h.5m-3.9 0h.5m1.3 .1h.5m2.1 0h.5m-5.8 .1h.5m1.8 .1h.5m-1.3 .1h.5m-1.7 .2h.5m-1.2 .5h.5m1.6 0h.5m1.2 0h.5m-.5 .1h.5m-2.3 .1h.5m.5 0h.5m1.8 .2h.5m.1 0h.5m-.8 .1h.5m-4.7 .3h.5m2.7 .5h.5m.2 .3h.5m-5.1 .7h.5m.1 0h.5m0 .3h.5m.9 .4h.5m-3.1 .1h.5m4.3 .1h.5m-4.4 .1h.5m-1.9 0h.5m1.9 .1h.5m-2 0h.5m-1 0h.5m0 1h.5m1.1 .4h.5m-1.2 .2h.5m2.8 .2h.5m-1.8 0h.5m-1.5 .2h.5m-3.1 .4h.5m2 .2h.5m-3.1 .1h.5m2.4 .2h.5m1.3 .3h.5m-3.5 .2h.5m-1.4 .1h.5m2.6 0h.5m-2.2 .2h.5m-.2 .2h.5m-1.4 .4h.5m2.5 .3h.5m-5 0h.5m1.8 0h.5m-.9 .4h.5m.1 .1h.5m-2.7 .4h.5m1 .2h.5m1.5 .1h.5m-3.5 0h.5m2 .1h.5m-1 .1h.5m-2.6 .2h.5m.7 0h.5m2.6 .1h.5m-4.1 0h.5m-1.8 .3h.5m2.9 .2h.5m-3.8 .1h.5m4.3 .1h.5m-1 .1h.5m-4.1 .1h.5m2.9 .2h.5m-.7 .1h.5m-4.5 .5h.5m-.8 .1h.5m3.7 .1h.5m-3.9 .3h.5m3.8 .1h.5m-2.6 0h.5m1.5 .1h.5m-3.2 0h.5m2.9 .1h.5m-2.4 .1h.5m.5 .1h.5m-3.7 0h.5m2.6 .2h.5m-.1 0h.5m-4.2 .1h.5m.8 .2h.5m.7 .1h.5m-3.5 .1h.5m2.1 0h.5m.8 0h.5m-.6 0h.5m-.4 .2h.5m-.3 0h.5m-4.3 .4h.5m2.5 0h.5m-3.8 .1h.5m2.2 0h.5m-.2 .1h.5m0 .1h.5m.4 0h.5m-1.5 0h.5m-4.7 .1h.5m1 .1h.5m2.6 0h.5m-2.7 0h.5m.2 0h.5m.2 .1h.5m-1.2 0h.5m-1.4 .1h.5m-2.9 0h.5m3.8 .1h.5m-1.3 0h.5m-.9 .2h.5m-3 0h.5m1.1 .2h.5m-1.2 .1h.5m-.1 0h.5m-.8 .1h.5m0 0h.5m1.8 0h.5m-1.9 .1h.5m.1 0h.5m.3 .1h.5m-3.3 .1h.5m1.1 0h.5m-.5 0h.5m-.8 .1h.5m-1 .3h.5m-1 .1h.5m-2 .1h.5m-.1 0h.5m-.7 .1h.5m4.7 0h.5m-4.6 0h.5m1.9 .2h.5m-1.3 0h.5m-3.3 .1h.5m.9 .1h.5m-.9 .2h.5m1.8 0h.5m-2.5 0h.5m2.9 .2h.5m-2.6 0h.5m-.9 .1h.5m-2 .1h.5m1.6 0h.5m-2.6 0h.5m-1.2 .1h.5m3.5 0h.5m-5.1 .1h.5m1.4 0h.5m-2.1 .1h.5m.4 .1h.5m2.5 .1h.5m-1.5 .8h.5m.8 .1h.5m-4 .1h.5m.1 .2h.5m-1.6 0h.5m4.7 .1h.5m-1.6 0h.5m-2.7 .2h.5m2.6 .2h.5m-5.1 0h.5m.8 .2h.5m2.4 .2h.5m-3.4 .1h.5m-1.5 .3h.5m-1 .5h.5m1.3 .1h.5m-2.8 0h.5m1.7 .5h.5m2.5 .3h.5m-4.5 .2h.5m.8 1.6h.5m-3 .5h.5m2.4 1.2h.5m4.8-39.1h.5m-1.9 3.9h.5m1.9 .1h.5m-2.8 .4h.5m.1 .1h.5m-.5 .6h.5m3.5 .4h.5m-2.3 .5h.5m-1.5 .1h.5m-3.1 .1h.5m1.8 .3h.5m-1.2 .4h.5m1.6 .1h.5m-.6 0h.5m.5 .1h.5m-.3 0h.5m-4.8 .1h.5m4.3 .6h.5m-.3 .1h.5m-1.5 .1h.5m-2 0h.5m-2.6 .1h.5m-1.3 .1h.5m3.1 .1h.5m-.8 .1h.5m-2.7 .3h.5m2.4 .1h.5m-3.3 .1h.5m.8 .1h.5m1.4 .2h.5m-2.2 .1h.5m-1 .1h.5m-1.9 0h.5m-.1 .1h.5m1.6 0h.5m-1.2 .1h.5m.8 0h.5m-1.4 .2h.5m-1.3 0h.5m-2.9 .2h.5m4.8 0h.5m-1.8 .1h.5m-1.9 .2h.5m-2.7 .1h.5m1.8 .2h.5m-1.7 0h.5m2.6 .1h.5m.3 .1h.5m-1.5 .1h.5m-4.9 0h.5m3.4 .1h.5m-3.7 0h.5m2.3 0h.5m.9 .1h.5m-4.3 .1h.5m2.9 0h.5m-.5 .2h.5m-4.2 .1h.5m1 .1h.5m-1.6 .2h.5m2 .1h.5m-3.5 .2h.5m-1.3 0h.5m.4 .3h.5m1 .1h.5m-2.3 0h.5m1.1 .2h.5m-1.9 .2h.5m-1 .1h.5m4.4 .1h.5m-4.3 .1h.5m.1 .7h.5m-2.4 0h.5m.5 .2h.5m2.5 0h.5m-.4 .5h.5m-.6 .2h.5m-4.6 .3h.5m3.9 .1h.5m-1.5 0h.5m.9 .3h.5m-2.4 .3h.5m-1.5 .5h.5m-2.5 .2h.5m-.3 .2h.5m1.9 .3h.5m-.2 1h.5m-1.4 .1h.5m3.3 .7h.5m-4.5 .1h.5m1.6 .8h.5m-4.1 .9h.5m2.4 .6h.5m-.3 0h.5m-3.2 1.3h.5m.9 .1h.5m-.7 0h.5m-1.3 .4h.5m-.3 .2h.5m-1.1 0h.5m.7 .3h.5m-1.9 .6h.5m.2 .4h.5m.6 .1h.5m1.5 .3h.5m-3.9 .1h.5m-1.3 .6h.5m.3 0h.5m1.6 .2h.5m-2.3 0h.5m3 .1h.5m-3.7 .5h.5m.4 0h.5m-.7 0h.5m0 .1h.5m.1 .1h.5m-3.4 0h.5m3.9 0h.5m-4.1 .2h.5m-.9 .2h.5m1.4 .2h.5m1.1 .3h.5m-3.7 .3h.5m1.3 0h.5m-.7 .1h.5m-.8 .1h.5m-1.2 .2h.5m-.9 .3h.5m-.8 .2h.5m.6 0h.5m3.2 .1h.5m-2.5 .1h.5m-.3 .4h.5m-4.5 0h.5m.3 .1h.5m-1.2 .8h.5m-.2 .3h.5m-.9 0h.5m.8 .1h.5m-.9 .2h.5m-.3 .1h.5m1.1 .1h.5m-1.6 0h.5m-1.6 .3h.5m-.4 .3h.5m-.3 .1h.5m-.8 .5h.5m-.9 .8h.5m.2 1.5h.5m-.8 4.6h.5m6.1-36.1h.5m-1 .2h.5m-.2 .6h.5m.6 0h.5m-1.7 0h.5m.1 .1h.5m3.4 .3h.5m-1.5 .2h.5m-1.3 .4h.5m-2.3 2.6h.5m.2 0h.5m0 .1h.5m.5 .1h.5m-.3 .1h.5m1 0h.5m-5 0h.5m3 .1h.5m-4.8 0h.5m4.1 0h.5m-2.2 .3h.5m-1.6 .1h.5m.2 .1h.5m.4 .3h.5m-1 .2h.5m-3 0h.5m-.4 .2h.5m-.4 .2h.5m.9 .2h.5m3 0h.5m-1.5 .5h.5m-4.7 0h.5m2.3 .1h.5m-3.1 .1h.5m-.3 0h.5m2.8 .3h.5m-.6 .3h.5m-3 .3h.5m-.4 .4h.5m-2.2 .1h.5m1.9 .6h.5m-.8 .2h.5m2.2 .2h.5m-4.9 .9h.5m.2 .1h.5m-1.3 .5h.5m4.2 0h.5m-4.2 0h.5m3 .9h.5m-.4 4.8h.5m-2.2 3.1h.5m-2.9 .7h.5m-1 1h.5m.7 .9h.5m-.7 .5h.5m-1.5 .5h.5m.5 2.6h.5m-1.4 2h.5m0 1.1h.5m10.1-29.6h.5m-.3 .5h.5m-4.3 1h.5m-1.5 .5h.5m-.2 .7h.5m-1.5 .2h.5m1.2 .5h.5m.6 .1h.5m-2.3 .4h.5m.9 .2h.5m-2.5 .2h.5m-1 .7h.5m2.5 0h.5m-2.8 .1h.5m-.5 1.5h.5m2.7 .1h.5m-3.8 .4h.5m-1.1 1.7h.5m4.7 3.8h.5" stroke="#3348ff" stroke-width="0.55"/><path d="M252.3 830.6h.6m2.1 1.6h.6m4.6-4.5h.6m-1.6 .9h.6m-1.1 .3h.6m-3.5 2.6h.6m2.7 2.7h.6m.8 8.9h.6m-1.3 8h.6m1.6-28.9h.6m3.9 1.1h.6m-.2 1h.6m-4.1 .2h.6m1.2 .7h.6m-3 .2h.6m2.6 .9h.6m-5.2 1.6h.6m4.7 0h.6m-2.6 .2h.6m1.3 .4h.6m-4.8 .4h.6m2.7 .4h.6m-1 0h.6m.9 .3h.6m-5.2 0h.6m2.7 .5h.6m-4.4 0h.6m3.2 .1h.6m-.7 .1h.6m-.2 .1h.6m-.7 .1h.6m-2.8 .2h.6m-1.5 .1h.6m3.2 .3h.6m-.4 .2h.6m-1.3 .2h.6m-4.2 0h.6m.5 .3h.6m-.5 0h.6m-.9 .9h.6m.7 .7h.6m-.4 .3h.6m-.4 .3h.6m-4 9.8h.6m.1 .1h.6m3.3 1.6h.6m-5.4 .8h.6m2 .1h.6m1.9 1.6h.6m-4.7 .1h.6m2.6 .6h.6m-1 .6h.6m-3.1 .6h.6m2.7 0h.6m-5.3 1.6h.6m10-28.2h.6m-4 .6h.6m3.4 1.1h.6m-2.9 .1h.6m1.4 .4h.6m-3.7 0h.6m1.2 0h.6m1.2 .1h.6m-4.7 .2h.6m-.1 .3h.6m1.4 .3h.6m-4.1 .3h.6m3.5 .1h.6m.4 0h.6m-.5 0h.6m-5.3 0h.6m-.2 .2h.6m.8 .1h.6m-.8 .1h.6m-1 .3h.6m2.2 .3h.6m-2.9 .2h.6m-.4 .5h.6m-3.1 0h.6m-.4 .2h.6m2.9 0h.6m-.7 .1h.6m-2.4 .1h.6m.7 .1h.6m-3.4 .2h.6m-.9 .7h.6m-.2 .1h.6m.5 .6h.6m-1.1 .1h.6m.7 0h.6m-2.8 1.2h.6m.6 .3h.6m3.3 .5h.6m-4.3 11.7h.6m.8 1.3h.6m-2.3 1.8h.6m-2 5.9h.6m.1 .6h.6m5.6-32.9h.6m.6 1.3h.6m-2.1 1.1h.6m2.5 1.6h.6m0 .3h.6m-4.3 .1h.6m.8 .2h.6m2.8 .1h.6m-4 .7h.6m2.5 0h.6m-1.5 .1h.6m-1.5 .3h.6m-1.5 .1h.6m.9 .6h.6m-1.6 0h.6m1.8 .5h.6m-4.8 0h.6m-.6 .5h.6m0 .4h.6m1.5 .1h.6m-1.1 .7h.6m-4 .1h.6m-.2 1.4h.6m3.3 1h.6m1.4-6.5h.6m3.6 .7h.6m-5.2 5.3h.6m5.6-3.3h.6" stroke="#1414d0" stroke-width="0.7"/><g filter="url(#db2)"><ellipse cx="246.2" cy="857.5" rx="10.4" ry="4.2" fill="#1c30f0" transform="rotate(-45 246.2 857.5)"/><ellipse cx="246.2" cy="857.5" rx="8.1" ry="3.2" fill="#18a0f0" transform="rotate(-45 246.2 857.5)"/><ellipse cx="246.2" cy="857.5" rx="5.8" ry="2.3" fill="#28d29a" transform="rotate(-45 246.2 857.5)"/><ellipse cx="246.2" cy="857.5" rx="3.5" ry="1.4" fill="#8ee040" transform="rotate(-45 246.2 857.5)"/><ellipse cx="246.2" cy="857.5" rx="1.6" ry="0.8" fill="#e0e030" transform="rotate(-45 246.2 857.5)"/></g></g><line x1="258.5" y1="811.5" x2="258.5" y2="878.6" stroke="#666" stroke-width="0.8"/><line x1="227" y1="840.5" x2="294.4" y2="840.5" stroke="#666" stroke-width="0.8"/><line x1="228.5" y1="878.6" x2="228.5" y2="880.1" stroke="#888" stroke-width="0.4"/><text x="228.5" y="883.4" font-size="3.2" text-anchor="middle" fill="#777">10</text><line x1="225.5" y1="877.1" x2="227" y2="877.1" stroke="#888" stroke-width="0.4"/><text x="224.8" y="878.2" font-size="3.2" text-anchor="end" fill="#777">10</text><line x1="241.4" y1="878.6" x2="241.4" y2="880.1" stroke="#888" stroke-width="0.4"/><text x="241.4" y="883.4" font-size="3.2" text-anchor="middle" fill="#777">10</text><line x1="225.5" y1="864.3" x2="227" y2="864.3" stroke="#888" stroke-width="0.4"/><text x="224.8" y="865.4" font-size="3.2" text-anchor="end" fill="#777">10</text><line x1="254.3" y1="878.6" x2="254.3" y2="880.1" stroke="#888" stroke-width="0.4"/><text x="254.3" y="883.4" font-size="3.2" text-anchor="middle" fill="#777">10</text><line x1="225.5" y1="851.5" x2="227" y2="851.5" stroke="#888" stroke-width="0.4"/><text x="224.8" y="852.6" font-size="3.2" text-anchor="end" fill="#777">10</text><line x1="267.1" y1="878.6" x2="267.1" y2="880.1" stroke="#888" stroke-width="0.4"/><text x="267.1" y="883.4" font-size="3.2" text-anchor="middle" fill="#777">10</text><line x1="225.5" y1="838.6" x2="227" y2="838.6" stroke="#888" stroke-width="0.4"/><text x="224.8" y="839.7" font-size="3.2" text-anchor="end" fill="#777">10</text><line x1="280" y1="878.6" x2="280" y2="880.1" stroke="#888" stroke-width="0.4"/><text x="280" y="883.4" font-size="3.2" text-anchor="middle" fill="#777">10</text><line x1="225.5" y1="825.8" x2="227" y2="825.8" stroke="#888" stroke-width="0.4"/><text x="224.8" y="826.9" font-size="3.2" text-anchor="end" fill="#777">10</text><line x1="292.9" y1="878.6" x2="292.9" y2="880.1" stroke="#888" stroke-width="0.4"/><text x="292.9" y="883.4" font-size="3.2" text-anchor="middle" fill="#777">10</text><line x1="225.5" y1="813" x2="227" y2="813" stroke="#888" stroke-width="0.4"/><text x="224.8" y="814.1" font-size="3.2" text-anchor="end" fill="#777">10</text><text x="294" y="819.1" font-size="7.8" text-anchor="end">21.10%</text><text x="260.4" y="891" font-size="8.6" text-anchor="middle">FITC-A</text><text x="219.9" y="845.5" font-size="8.4" text-anchor="middle" transform="rotate(-90 219.9 845.5)">PI-A</text>
<rect x="315.6" y="811.5" width="67.4" height="67.1" fill="#fff" stroke="#666" stroke-width="0.6"/><clipPath id="cp207"><rect x="315.6" y="811.5" width="67.4" height="67.1"/></clipPath><g clip-path="url(#cp207)"><g filter="url(#db)"><ellipse cx="334.5" cy="857.5" rx="16" ry="7.2" fill="#3a55ff" fill-opacity="0.6" transform="rotate(-45 334.5 857.5)"/><ellipse cx="355.4" cy="830.3" rx="4.9" ry="3.2" fill="#2238f0" fill-opacity="0.3" transform="rotate(-70 355.4 830.3)"/></g><path d="M313.5 867.3h.5m-3.1 3.2h.5m9.4-22.2h.5m-3.3 4.5h.5m-1.7 6.6h.5m3.3 0h.5m-1.3 1.3h.5m-.6 .8h.5m-.9 .1h.5m-2.6 .6h.5m.5 .3h.5m.5 .5h.5m-.8 .3h.5m1.5 .3h.5m-.9 .3h.5m-2.1 .2h.5m-.8 .3h.5m.9 .5h.5m-2.3 .2h.5m1.3 .3h.5m.4 .4h.5m-1.6 1h.5m-2.5 1.8h.5m-.5 1.3h.5m2.2 .6h.5m-5.2 .2h.5m2.1 1.9h.5m-.8 .5h.5m1.8 1h.5m-2.4 .1h.5m-2.2 .7h.5m1.3 1h.5m5.6-36.6h.5m-4.1 9.4h.5m1.5 .5h.5m3.3 .1h.5m-1.7 1.6h.5m-.2 .7h.5m-3.5 .2h.5m3.3 .6h.5m-3.8 .8h.5m2.7 .1h.5m-2.6 .1h.5m.6 .2h.5m-.5 .5h.5m-.5 1.2h.5m.6 .5h.5m-4.2 .2h.5m1.8 0h.5m-.8 0h.5m-1.1 .1h.5m1.4 0h.5m-.8 .2h.5m-.8 .4h.5m-1.8 0h.5m1.4 .2h.5m-2.2 .1h.5m-1.2 .1h.5m-2.7 0h.5m4.7 .1h.5m-4 0h.5m-.1 .1h.5m2.1 0h.5m-.7 .4h.5m-3.7 .5h.5m-.4 .5h.5m-1.2 .1h.5m-1.8 .2h.5m2.7 .2h.5m-3.1 .4h.5m2.3 .3h.5m1.4 0h.5m-1.6 .1h.5m-2.8 .1h.5m-.5 .1h.5m2.3 .4h.5m-.4 0h.5m-2.8 0h.5m1.3 .2h.5m-1.9 0h.5m-1.4 .3h.5m-.9 .2h.5m.3 0h.5m.4 .1h.5m1.5 .1h.5m-3.1 .2h.5m-3.3 .1h.5m0 0h.5m3.4 .1h.5m.1 .2h.5m-3.3 .1h.5m.3 .2h.5m.3 0h.5m.5 .1h.5m-1 0h.5m-2.2 .1h.5m-2.6 0h.5m4.3 .1h.5m-.4 .1h.5m-.9 .1h.5m-2 .2h.5m1.8 .2h.5m-2.9 .1h.5m1.2 .2h.5m-.4 .1h.5m-.6 0h.5m-1 .2h.5m-.7 .3h.5m-4 .3h.5m4.4 .2h.5m-2.2 0h.5m.2 .1h.5m-.3 0h.5m-4 .1h.5m1.2 0h.5m1 .1h.5m-1.7 0h.5m-1.2 .1h.5m-2.5 .1h.5m-.4 0h.5m3.8 0h.5m-3.4 0h.5m-.8 .3h.5m.6 0h.5m1.8 0h.5m-3 0h.5m.7 .1h.5m-.7 .1h.5m.7 .5h.5m-5.5 .9h.5m-.5 .1h.5m2.6 .1h.5m.3 .1h.5m-4.4 .1h.5m4.7 .2h.5m-1 .1h.5m-.6 .1h.5m-1.8 .2h.5m1.9 .3h.5m-4.1 .3h.5m2.7 .2h.5m-2.7 .1h.5m-2.9 .1h.5m1 .2h.5m-2.7 .2h.5m4.2 .4h.5m-.1 .6h.5m-5.3 1.3h.5m-.6 .2h.5m3.3 0h.5m-3.6 .4h.5m.3 1.8h.5m-1.1 2.4h.5m.3 0h.5m8.7-45.9h.5m-1.6 2.6h.5m-.4 3.2h.5m-1 3.6h.5m-3 3.9h.5m-.8 .5h.5m2.6 1.2h.5m-1.4 .4h.5m-.3 .3h.5m1.3 .2h.5m-.5 .6h.5m-.2 .5h.5m-2.9 1.1h.5m1.4 .2h.5m-5.2 .5h.5m3.2 .4h.5m0 .1h.5m0 0h.5m-2.6 .3h.5m2 .1h.5m-.6 .1h.5m-1.3 0h.5m.5 .1h.5m-.2 0h.5m-.5 0h.5m-3 .1h.5m.4 .2h.5m.5 .5h.5m0 .5h.5m-3.6 .1h.5m2.7 .4h.5m-5.8 .2h.5m4.4 0h.5m-3.3 .1h.5m.5 .1h.5m.2 .1h.5m-.8 .2h.5m-3.8 0h.5m4.1 0h.5m-3.6 0h.5m3.3 .1h.5m-1.3 .1h.5m-2.2 .2h.5m.7 0h.5m-.3 .1h.5m-1.1 .1h.5m.6 .1h.5m-2.4 .2h.5m1.3 .1h.5m-4.8 0h.5m1.6 .1h.5m-1.4 .1h.5m1.9 .4h.5m-4.8 .1h.5m3.1 .1h.5m.6 0h.5m-2.4 .1h.5m2.1 .1h.5m-2.4 .3h.5m-3.1 .2h.5m-.6 .2h.5m2.8 0h.5m-1.5 0h.5m-.8 .1h.5m-.1 0h.5m1.8 .1h.5m-3.1 0h.5m1 0h.5m-4 .3h.5m2.1 0h.5m1.3 .5h.5m-5.9 .1h.5m5.1 0h.5m-2.5 .2h.5m-3.5 0h.5m.7 .1h.5m3.2 0h.5m-2.4 .1h.5m-.9 0h.5m.4 0h.5m.9 0h.5m-1.2 .2h.5m-3.7 0h.5m.1 0h.5m-.1 .2h.5m-.6 .1h.5m-.6 0h.5m2.7 .1h.5m-4.2 0h.5m2.3 .1h.5m-2 0h.5m.9 .1h.5m-1.1 0h.5m-2.1 .1h.5m1.1 .1h.5m-2.5 .1h.5m1.9 0h.5m-.2 0h.5m-2.8 .2h.5m2.9 0h.5m-6 0h.5m4.2 .1h.5m0 0h.5m-3.3 0h.5m-3.3 .1h.5m3.7 .1h.5m.8 .1h.5m-1.9 0h.5m-1 0h.5m-1.5 0h.5m-2.4 .1h.5m3.9 .1h.5m-1.3 0h.5m-4.8 0h.5m.8 .2h.5m3.9 0h.5m-2 0h.5m.2 .2h.5m-4 .2h.5m-1.1 0h.5m.8 .1h.5m3.1 .2h.5m-2.4 0h.5m-3.6 0h.5m4 .2h.5m-1.4 .3h.5m-2.2 0h.5m2.2 0h.5m-4 .1h.5m.5 0h.5m.5 .1h.5m-1.4 .2h.5m2 0h.5m-5.6 .1h.5m1.3 .1h.5m-2.5 0h.5m2.5 0h.5m.4 .1h.5m-3.9 .1h.5m-.5 0h.5m3.5 .1h.5m.1 .1h.5m-.6 0h.5m-1.6 .1h.5m-4.3 0h.5m.7 .1h.5m.1 .1h.5m.4 .1h.5m1.2 0h.5m.8 .1h.5m-2.6 .2h.5m-3.2 .3h.5m-.2 0h.5m-.5 0h.5m3.1 0h.5m-2.8 0h.5m1.7 .1h.5m-4 0h.5m3.6 .1h.5m-3.5 .2h.5m1.2 .2h.5m.1 .4h.5m-3.1 .1h.5m-1.9 0h.5m.8 .1h.5m2.6 .1h.5m-1.1 .1h.5m-.2 .1h.5m-1.8 .1h.5m-3.3 .1h.5m1.1 0h.5m-1.1 .1h.5m-1.8 0h.5m3.2 .1h.5m-.3 0h.5m-4.1 .1h.5m2.4 0h.5m-2.8 0h.5m-.5 .1h.5m2.7 .2h.5m-2.1 .1h.5m-.7 0h.5m-2.1 .1h.5m-1.3 .1h.5m.4 .1h.5m.3 .2h.5m-1 0h.5m-1.4 0h.5m3.1 .4h.5m-2.9 0h.5m-1.4 .2h.5m.8 0h.5m-.3 0h.5m-1.2 .4h.5m2.9 0h.5m-5.5 0h.5m2.9 .1h.5m-.5 .2h.5m.2 0h.5m-.5 0h.5m.5 .3h.5m-1 .1h.5m.1 .1h.5m-2.7 0h.5m1.7 0h.5m-1.6 .1h.5m-3.8 .3h.5m4 .3h.5m-3.4 0h.5m2.3 0h.5m-5.5 .1h.5m3.6 .1h.5m-.6 0h.5m-1.2 0h.5m-2.8 .1h.5m-1.2 .1h.5m.7 .2h.5m1.6 .3h.5m-1.7 .1h.5m1.2 .1h.5m-4.5 .6h.5m.8 .3h.5m-.4 .2h.5m.3 0h.5m-2 .1h.5m-1.2 .1h.5m.1 .4h.5m4.2 .2h.5m-.4 .4h.5m-3.7 .7h.5m.7 .2h.5m-4.5 .4h.5m3.3 1.6h.5m-4.2 .5h.5m-.1 .6h.5m-.8 0h.5m9.9-44.5h.5m-1.5 2.1h.5m1.5 1.7h.5m-3.6 .3h.5m-1.1 .5h.5m2.1 0h.5m-1.1 1h.5m-1.1 .7h.5m1.6 .2h.5m-5.7 .2h.5m2.1 .5h.5m2.6 .7h.5m-3.1 .1h.5m2.1 2.1h.5m-2.6 .1h.5m-1 .1h.5m-1.7 0h.5m-2.2 0h.5m2.9 .3h.5m-1.9 .7h.5m-2.8 0h.5m4.7 1h.5m-.3 .3h.5m-5.8 .1h.5m4 .3h.5m-4.3 .3h.5m2.6 .1h.5m-2.6 .4h.5m2.9 0h.5m-2 .2h.5m-.7 0h.5m-2 .4h.5m2.3 0h.5m-.5 .4h.5m.5 .4h.5m-6.1 0h.5m3.4 .4h.5m.2 0h.5m-3 .1h.5m.4 0h.5m1.2 .3h.5m-2.1 .1h.5m1 0h.5m-1.7 0h.5m-3.7 .1h.5m1.7 .2h.5m-.6 .1h.5m-2.8 .2h.5m4.2 0h.5m-2.6 .3h.5m-3.2 .1h.5m1.8 .1h.5m-1.6 .2h.5m3.2 .2h.5m-2.2 .1h.5m1.6 .2h.5m-5.7 .3h.5m5.1 0h.5m-1.3 0h.5m-3 .1h.5m2.1 .3h.5m-.7 .1h.5m-1.4 .1h.5m1.1 .1h.5m-1 0h.5m-3.3 .1h.5m-2.6 0h.5m1.1 .1h.5m3 .1h.5m-4.6 0h.5m2.8 0h.5m-4.2 .1h.5m4.2 0h.5m-.5 0h.5m-1.1 0h.5m.4 .1h.5m-2.3 .1h.5m-3.7 0h.5m.3 .2h.5m.2 0h.5m2.9 .2h.5m-1.8 .1h.5m1 0h.5m-5.9 0h.5m3 0h.5m-3.1 .1h.5m.6 .1h.5m.7 .1h.5m.9 0h.5m-3.4 .1h.5m2.4 0h.5m-5 .2h.5m2.7 .1h.5m-1.7 .1h.5m-1.6 .1h.5m2.1 0h.5m.3 0h.5m-5.5 0h.5m.4 .1h.5m4.3 0h.5m-.3 .1h.5m-.6 .2h.5m-2.2 0h.5m-.1 .1h.5m-4.9 .2h.5m4.3 0h.5m-3.1 0h.5m2.7 .1h.5m-.1 0h.5m-1.5 0h.5m-2.7 0h.5m2.3 .2h.5m-2 0h.5m-2.8 0h.5m.4 0h.5m.8 .1h.5m.3 0h.5m-.2 0h.5m-.6 0h.5m-3.5 .1h.5m-.5 .1h.5m-1 .2h.5m.3 0h.5m3 0h.5m-5.4 .1h.5m1.9 .1h.5m.4 0h.5m1.3 .1h.5m-4.1 .1h.5m-1.8 .1h.5m2.6 0h.5m.5 0h.5m-.9 0h.5m-3 .1h.5m2.7 0h.5m-5 .1h.5m3.5 0h.5m-2.8 .1h.5m1 0h.5m-4.2 .1h.5m-.6 .1h.5m1.4 0h.5m-1.9 .1h.5m-1.2 .2h.5m2.7 0h.5m.6 0h.5m-3.3 .1h.5m-1.9 .1h.5m3.1 0h.5m-.1 0h.5m-.1 .1h.5m-2.8 0h.5m-.2 .2h.5m-1.1 .1h.5m-.9 .1h.5m1.6 0h.5m-1.5 .1h.5m-.2 0h.5m-3 .1h.5m1.1 0h.5m1.7 0h.5m-2.7 .1h.5m2.7 .1h.5m.1 .3h.5m-1 0h.5m-2.4 0h.5m-1.8 .1h.5m-1.3 0h.5m2.3 0h.5m-2.7 .1h.5m-2.3 .2h.5m-.1 0h.5m2.1 .1h.5m-.1 0h.5m-.5 0h.5m-1.7 .1h.5m.9 .1h.5m-1 .1h.5m.6 .1h.5m-4.7 0h.5m2.4 0h.5m1.5 .1h.5m-4.5 0h.5m.3 0h.5m-1.1 0h.5m-.9 .1h.5m3 .1h.5m-1.4 0h.5m-1.8 .1h.5m-1 .1h.5m-.4 0h.5m.5 0h.5m1.6 0h.5m-4.9 0h.5m1.7 .1h.5m2.3 0h.5m-5 0h.5m-.6 .1h.5m3.5 0h.5m-1 0h.5m-.5 0h.5m-4.6 .1h.5m-.8 0h.5m4 0h.5m-.7 .1h.5m-3 .1h.5m-.6 0h.5m.6 0h.5m-.1 0h.5m-1.3 0h.5m-.1 .1h.5m-1.3 0h.5m-1.4 .1h.5m.4 0h.5m2.5 0h.5m-4.2 0h.5m1.8 .1h.5m-3.7 0h.5m4.6 .1h.5m-4.9 0h.5m.2 0h.5m.1 .1h.5m-1.6 0h.5m2 0h.5m.4 0h.5m-.1 .1h.5m-4 .1h.5m-.1 .1h.5m-.1 0h.5m-2.4 .1h.5m3.7 0h.5m-4.7 0h.5m3 .1h.5m-.2 .1h.5m-.5 0h.5m.8 0h.5m-2.4 .1h.5m-.7 0h.5m-2.1 .2h.5m-1.6 .1h.5m3.7 0h.5m-.8 0h.5m-1.7 0h.5m-4 .2h.5m2.5 .1h.5m-3.3 0h.5m.8 0h.5m4 .1h.5m-.5 0h.5m-5.9 0h.5m1.3 .1h.5m-.5 0h.5m2.2 0h.5m.4 .1h.5m-6.3 0h.5m2.2 0h.5m-2.6 .1h.5m.3 0h.5m-1 0h.5m1 .1h.5m-.8 .1h.5m-1.7 0h.5m3.9 .8h.5m-3.9 0h.5m-.6 .1h.5m.1 0h.5m1.9 0h.5m-1.1 .1h.5m-1.7 .1h.5m-3.4 0h.5m3 0h.5m-2.3 .1h.5m1.9 .1h.5m-2.3 0h.5m-2.4 0h.5m-.9 .2h.5m-.7 0h.5m4.4 0h.5m-5.2 .1h.5m3.8 0h.5m-2.5 .1h.5m-1.6 .1h.5m1.9 .1h.5m-2.3 .2h.5m-.1 .2h.5m-2.8 0h.5m2.7 .1h.5m.9 0h.5m-2 .1h.5m-2.8 .1h.5m-1.4 0h.5m.7 0h.5m3.8 .1h.5m-5.3 .2h.5m2.1 0h.5m-2 0h.5m2.3 .2h.5m.6 0h.5m-2.6 0h.5m-4 0h.5m.7 .1h.5m2.1 .1h.5m-2.8 0h.5m-1.1 .1h.5m2.4 0h.5m-.6 .1h.5m1.2 0h.5m-3.2 .1h.5m.2 .2h.5m-2.5 .1h.5m1.5 .1h.5m-3.3 .4h.5m-.5 0h.5m-.5 .5h.5m1.3 .1h.5m1 0h.5m-3.8 .1h.5m3.7 .1h.5m-3.8 0h.5m.4 0h.5m-1.7 .1h.5m1.6 .2h.5m-1 1.1h.5m-3.2 .5h.5m4.3 2h.5m-3.6 0h.5m1 .6h.5m-3.2 .8h.5m3.4 2.8h.5m4.9-44.8h.5m-.4 1.8h.5m-1.5 1.2h.5m-3 .6h.5m3.6 1.3h.5m-.3 .3h.5m-4.4 .2h.5m1.9 .1h.5m-1.3 .6h.5m-1.1 0h.5m-2.1 .1h.5m-.4 .1h.5m1.4 .1h.5m2.1 0h.5m-2.1 .1h.5m-3.2 .2h.5m3.7 .3h.5m.3 .1h.5m-1.1 .3h.5m-.9 0h.5m-3 .3h.5m.5 .2h.5m-.5 .4h.5m-2.2 .3h.5m-1.3 .1h.5m4.6 .1h.5m-6 .1h.5m4.4 .3h.5m-2.5 .4h.5m-1.1 .8h.5m-1.7 0h.5m3.7 .1h.5m-.4 .2h.5m-.4 .1h.5m-4.2 0h.5m-.8 .4h.5m-2.1 .2h.5m.3 .1h.5m1.8 0h.5m-1.7 .3h.5m-2.3 .1h.5m3.1 .1h.5m-.5 0h.5m.9 .2h.5m-3.5 .1h.5m1.5 .2h.5m-3.3 0h.5m2.8 .2h.5m-1.9 .2h.5m-3.2 0h.5m3.7 .1h.5m-.6 .1h.5m-.5 .3h.5m-.5 .1h.5m-3.7 0h.5m3.4 0h.5m-1.8 .3h.5m-3.8 0h.5m-.5 .2h.5m.2 .1h.5m1.2 .1h.5m1.3 .1h.5m-4 .4h.5m.7 .1h.5m.6 .2h.5m-2.5 .2h.5m-2.5 .1h.5m.2 .1h.5m4.3 .1h.5m-4.7 0h.5m2.5 .1h.5m-.6 .2h.5m-4.2 .1h.5m-.4 .2h.5m1 .3h.5m1.2 .1h.5m-2 0h.5m0 0h.5m-2.2 0h.5m2.3 .4h.5m.8 .1h.5m-.9 0h.5m-.7 0h.5m-4.1 .2h.5m1.9 0h.5m1.9 .1h.5m-5.2 .2h.5m1.5 0h.5m2.2 .2h.5m-4.7 0h.5m3.6 0h.5m-2.1 0h.5m-1.5 .2h.5m-.8 0h.5m1.3 0h.5m-2.5 .1h.5m.5 .1h.5m-3.9 0h.5m1.6 .1h.5m.1 .1h.5m1.1 0h.5m-3.6 .1h.5m2.6 .4h.5m-4.5 .2h.5m4.1 0h.5m-1.2 .1h.5m-3.1 0h.5m1.4 .1h.5m-3.8 .1h.5m4.3 0h.5m-4.7 0h.5m3.5 0h.5m.2 .2h.5m-4.8 .2h.5m-.6 0h.5m1.6 .1h.5m-.7 .3h.5m-3.6 0h.5m4.2 .1h.5m-.8 .1h.5m-1.9 .1h.5m-1.7 .1h.5m1.6 .1h.5m-3.9 .1h.5m3.4 .1h.5m-4.8 0h.5m4.6 .2h.5m-5.6 0h.5m1.9 .1h.5m-.1 .1h.5m0 0h.5m.1 0h.5m-2 .1h.5m-.6 0h.5m.2 .1h.5m-2.8 .2h.5m4 .1h.5m-1.9 0h.5m-1.3 0h.5m-2.4 .1h.5m.4 .1h.5m-.8 0h.5m-1.4 .1h.5m-1.2 .1h.5m.5 0h.5m1.5 0h.5m1.6 .1h.5m-3.9 0h.5m.7 .1h.5m-.6 .1h.5m-.4 0h.5m-2 .2h.5m1.6 0h.5m-3.6 .1h.5m-.3 .2h.5m4.2 0h.5m-.6 .1h.5m-.3 .1h.5m-2.1 .2h.5m-.7 0h.5m-4.1 .1h.5m-.7 0h.5m5 .1h.5m-2.9 0h.5m-1.7 .1h.5m-.2 .2h.5m1.9 0h.5m-3.3 .1h.5m2.5 .1h.5m-3.9 0h.5m.5 .1h.5m.4 .1h.5m-1.6 0h.5m1.7 .1h.5m-3.8 0h.5m.9 .1h.5m-.6 .1h.5m-1.3 .3h.5m-.4 0h.5m-2.2 .1h.5m3.8 .2h.5m-4.7 .1h.5m.6 .1h.5m.3 .1h.5m1.4 0h.5m-2.8 .1h.5m3.4 0h.5m-.6 .1h.5m-5.1 0h.5m.5 0h.5m1.6 0h.5m-3.6 .2h.5m1.6 0h.5m.5 .1h.5m-.9 .1h.5m.8 0h.5m-5.2 0h.5m.8 .1h.5m-1.2 .1h.5m1.1 0h.5m1.6 0h.5m-2.1 .1h.5m-1.1 .1h.5m-2.5 0h.5m-.7 0h.5m2.1 .3h.5m1.4 .1h.5m-2.9 0h.5m2.7 .3h.5m-1.2 .1h.5m-.7 .1h.5m-3.4 .1h.5m-1.9 .2h.5m1.3 .5h.5m2.9 .2h.5m-5.7 .2h.5m2.9 .1h.5m-4 .1h.5m3 0h.5m-2.9 .1h.5m1 .2h.5m-1.9 .1h.5m3.9 .2h.5m-5.6 0h.5m-.7 .3h.5m3.1 .1h.5m-2.4 0h.5m1.2 .1h.5m.4 0h.5m-4 .1h.5m.7 .2h.5m-1.7 .3h.5m1.1 0h.5m-1.4 0h.5m-1.5 .1h.5m-.8 .2h.5m2.4 .6h.5m-1 .3h.5m1.1 .2h.5m-.9 0h.5m-3.5 .7h.5m.3 .1h.5m-2.2 .4h.5m1.8 0h.5m-.2 .2h.5m-.4 .2h.5m-2.7 .3h.5m1.8 1.2h.5m1 0h.5m-4.8 2.6h.5m4.2 5.9h.5m5.1-47.8h.5m-1.1 2.3h.5m-2.3 0h.5m2.1 0h.5m-5.1 .5h.5m4.2 1.2h.5m-1.4 .4h.5m1.3 .2h.5m-2.2 1.2h.5m1.2 .6h.5m-.8 .6h.5m-2.6 .4h.5m1 .1h.5m.3 .1h.5m-.7 .1h.5m-3.1 .3h.5m1.2 0h.5m-5 0h.5m2.5 .1h.5m1 0h.5m-2.4 .1h.5m1.7 .4h.5m-1.8 .2h.5m-1.4 .2h.5m1.8 .1h.5m-4.6 .4h.5m2.2 .1h.5m0 0h.5m.4 .1h.5m.1 0h.5m-2.3 0h.5m.2 0h.5m-1.2 .1h.5m-2.5 .1h.5m.1 .4h.5m-.8 .5h.5m-1.3 0h.5m1.2 0h.5m1.9 .2h.5m-1.2 0h.5m-1.1 .1h.5m-.5 0h.5m-1.7 .2h.5m1.4 .2h.5m-3.2 .1h.5m.9 .4h.5m.4 0h.5m-4.7 0h.5m2.3 .1h.5m-3.3 0h.5m3 0h.5m1.7 .1h.5m-1.7 .4h.5m-3.3 0h.5m-2.3 .2h.5m2.3 .2h.5m.9 .1h.5m-2 .1h.5m2.3 0h.5m-2.7 .2h.5m-.1 .1h.5m1.2 .1h.5m-5.8 0h.5m.9 .1h.5m-.3 0h.5m1.5 .1h.5m-1.5 0h.5m1.3 .1h.5m.5 .1h.5m-3.3 .3h.5m-.5 .2h.5m-.1 .2h.5m-2.9 .1h.5m.2 .1h.5m2.8 .1h.5m-.2 .2h.5m-3.7 .1h.5m-1.7 .4h.5m-.9 0h.5m3.1 0h.5m-1.5 .4h.5m-.5 0h.5m-.6 .6h.5m-1.9 0h.5m3 .4h.5m-5.3 .1h.5m3.6 0h.5m-1.3 0h.5m-.2 .4h.5m-3.8 0h.5m-.1 .1h.5m2.9 .1h.5m-3.3 0h.5m.5 .1h.5m-1.2 .2h.5m1.5 .3h.5m-1.2 .2h.5m1.9 .2h.5m-1.5 .4h.5m-3.9 .1h.5m-1.4 0h.5m1.5 .2h.5m3.3 0h.5m-.9 .1h.5m-4.3 .1h.5m1 .1h.5m-1.3 0h.5m-.9 .1h.5m1.6 .1h.5m-2.2 .1h.5m-1.2 .3h.5m2.3 0h.5m-2 .1h.5m-1.8 .1h.5m3.7 .1h.5m-5.9 0h.5m-.6 .1h.5m-.2 .1h.5m-.2 .2h.5m.5 0h.5m0 0h.5m-.2 .1h.5m-3 0h.5m1.6 .1h.5m-.9 0h.5m3.4 .1h.5m-2.5 .3h.5m-.2 0h.5m-1.3 .1h.5m.8 .1h.5m-.4 0h.5m.5 0h.5m-1.5 0h.5m-4.3 .2h.5m4.2 .1h.5m-2.2 .1h.5m-3.7 .1h.5m3.3 .1h.5m-2.7 0h.5m-.7 .3h.5m.5 0h.5m.7 .2h.5m-1.7 .1h.5m2.2 0h.5m-2.9 0h.5m1 .1h.5m-3.9 0h.5m2.9 0h.5m-3.7 .1h.5m1.9 .2h.5m-4.2 0h.5m4.9 0h.5m-4.4 .1h.5m-2.3 0h.5m1.6 0h.5m2.2 .1h.5m0 0h.5m-3.6 .5h.5m2 0h.5m-3.1 .1h.5m2.5 .2h.5m-4.3 0h.5m2.6 0h.5m-3.1 0h.5m-1.5 0h.5m1.7 .1h.5m.1 0h.5m-1 0h.5m-1 .1h.5m1.7 0h.5m-1.2 0h.5m-1.3 .1h.5m-2.6 0h.5m0 .1h.5m2.3 0h.5m-3.8 .1h.5m-.6 0h.5m1.3 .1h.5m2.3 .1h.5m-4.3 0h.5m2.9 .1h.5m-3.7 0h.5m2 .2h.5m-4.8 0h.5m3.2 .1h.5m-4.5 .1h.5m3.9 0h.5m-2.6 .2h.5m-.5 .1h.5m-1.7 .1h.5m2.4 .1h.5m-.2 .1h.5m-4.1 0h.5m.1 .1h.5m1.6 0h.5m-1.4 0h.5m1.1 .2h.5m.9 0h.5m-4.3 0h.5m1.9 .1h.5m-1.8 0h.5m1 0h.5m-.6 0h.5m-1.2 0h.5m-2.8 0h.5m.6 .1h.5m-.8 0h.5m2.3 .1h.5m-5.2 .3h.5m5.1 0h.5m-5.2 0h.5m2.9 .1h.5m-4.4 0h.5m.8 0h.5m2.8 .1h.5m-2.2 0h.5m.3 .1h.5m-3.7 0h.5m-.1 .1h.5m2.8 .3h.5m-3.7 .1h.5m1.5 .1h.5m.1 .1h.5m.9 0h.5m-5.8 0h.5m.1 0h.5m3.7 .3h.5m-1.6 .2h.5m-3.6 0h.5m-.7 .1h.5m-.6 0h.5m0 .4h.5m-1.1 .1h.5m-.6 .1h.5m1.3 .1h.5m-1.4 0h.5m2.2 .4h.5m-2.2 .1h.5m-1.8 0h.5m2.5 0h.5m-4.5 .1h.5m1.8 .1h.5m-1.9 .1h.5m3 0h.5m-2.6 .1h.5m1.1 .2h.5m-2.8 .1h.5m-.6 0h.5m1.6 .4h.5m.7 .1h.5m-2.5 0h.5m-1.3 .1h.5m-.2 0h.5m-1.8 .1h.5m-1.1 .4h.5m2 .1h.5m-1 .1h.5m1.4 .2h.5m-4 .4h.5m.8 .3h.5m-2.4 0h.5m.4 .2h.5m1.5 .4h.5m1.2 .3h.5m-4.1 .3h.5m-1.6 1.5h.5m0 .3h.5m1.1 .6h.5m-1.6 1.4h.5m1.1 .2h.5m-1.4 1.3h.5m.4 1.1h.5m7.2-42.7h.5m-4.8 .1h.5m1.2 0h.5m2 .6h.5m0 .3h.5m-5.3 .8h.5m1.9 .1h.5m2.4 .1h.5m-.8 .4h.5m-4.9 .6h.5m2 .6h.5m.3 .1h.5m1 .1h.5m-3.1 .1h.5m-.1 0h.5m-.2 .1h.5m-1.3 .3h.5m-.2 .4h.5m-.5 .1h.5m.1 0h.5m-2.3 .2h.5m1.2 .2h.5m-1 .2h.5m2 0h.5m-3.9 .2h.5m.8 0h.5m1.7 0h.5m-3.3 .1h.5m2.5 .1h.5m-5.1 0h.5m4 .2h.5m-3.8 .3h.5m-.8 .1h.5m1.4 .1h.5m.3 0h.5m-5.1 .1h.5m2.6 0h.5m-2 .2h.5m.3 .2h.5m-.9 0h.5m1.4 .1h.5m-1.1 .2h.5m-.3 0h.5m1.5 .3h.5m-3.2 .1h.5m.6 0h.5m-2.1 .1h.5m2.1 0h.5m-1.2 0h.5m-2.6 .1h.5m1.7 0h.5m-2.2 0h.5m2.4 .1h.5m-.8 .1h.5m-2.8 0h.5m.6 .1h.5m-4.4 0h.5m1.2 .1h.5m3.4 0h.5m-1.7 .2h.5m-.5 0h.5m-3.4 .1h.5m.3 0h.5m-1.4 .1h.5m3.5 .1h.5m-1.9 0h.5m-.5 .2h.5m-.5 0h.5m-.6 .1h.5m-2.6 .1h.5m-1.9 .2h.5m.2 .1h.5m3.3 .1h.5m-.5 .1h.5m-3.8 .1h.5m1.5 .1h.5m1.3 .1h.5m-2.4 0h.5m-1.1 0h.5m1.5 .1h.5m-5.4 0h.5m0 0h.5m3.1 0h.5m-.2 .1h.5m-.7 .3h.5m-.4 0h.5m.7 .2h.5m-3.3 0h.5m-.6 0h.5m1.6 .1h.5m-1.2 .1h.5m-.6 0h.5m-1 .1h.5m-2.8 .1h.5m2.2 .1h.5m-1.2 .1h.5m-1.6 0h.5m1.1 .2h.5m1.2 0h.5m-.6 0h.5m-4.9 0h.5m3.7 .1h.5m-3.7 .1h.5m-.1 .1h.5m-.9 0h.5m-2.5 .1h.5m3.4 .2h.5m.6 0h.5m-3.6 .1h.5m.1 0h.5m-2.1 0h.5m.4 .1h.5m1 0h.5m-2.2 0h.5m-.9 .1h.5m-1 .1h.5m-1.3 0h.5m4.2 .1h.5m-.2 0h.5m-3.8 0h.5m.2 .1h.5m.2 0h.5m-.8 .1h.5m1.4 0h.5m-1.3 .1h.5m.7 .1h.5m-2.9 .2h.5m1.8 .1h.5m-2.6 .3h.5m-.9 0h.5m.2 .1h.5m-2.5 .1h.5m-1.7 .2h.5m.8 .1h.5m.6 .1h.5m-2.3 0h.5m3.8 0h.5m-3.7 .3h.5m-.3 0h.5m2.3 .2h.5m-4.6 0h.5m3.8 .1h.5m-3.3 .1h.5m2.9 .5h.5m-4.3 0h.5m.6 .1h.5m2.6 .1h.5m-5.9 .4h.5m2 .5h.5m.6 .2h.5m-1.7 .5h.5m-.1 .1h.5m-2.8 .2h.5m-.8 0h.5m1.6 .1h.5m-2.3 .2h.5m1 .1h.5m1.5 .5h.5m-3.2 .6h.5m-.3 0h.5m1.9 .1h.5m-4 0h.5m.4 .1h.5m-1 .2h.5m-1.8 .9h.5m1.2 1.9h.5m-1 .1h.5m2 .1h.5m-4.2 0h.5m5 .2h.5m-3.9 .1h.5m-2.1 0h.5m-.8 .4h.5m2.4 .1h.5m-2.3 .1h.5m-1 0h.5m3.6 .3h.5m-1 0h.5m-3.1 .1h.5m-1.6 0h.5m-1.2 .1h.5m2.2 .4h.5m-1.3 .1h.5m-1.8 0h.5m2.2 0h.5m-1.8 .1h.5m-2.3 .5h.5m4.1 .2h.5m-3.2 .1h.5m1.8 .7h.5m-3.7 .1h.5m.4 0h.5m-.8 0h.5m-.7 .1h.5m-1.1 .1h.5m.9 0h.5m-1.5 0h.5m2.8 .1h.5m-3.8 .9h.5m3.7 0h.5m-3.2 .1h.5m-.1 .2h.5m-2.4 .1h.5m-.8 .2h.5m.5 .1h.5m-1.1 .2h.5m-1.6 0h.5m.1 0h.5m3.5 .1h.5m-4.4 .4h.5m0 .4h.5m-1.4 1h.5m-1.1 1.1h.5m2.7 .1h.5m-2.7 .1h.5m-1.5 .2h.5m1.3 .2h.5m-1.7 2.9h.5m1.3 1.6h.5m.2 1.8h.5m6.9-38.1h.5m-4.9 .6h.5m3.2 1.6h.5m-3.8 .5h.5m2 1.4h.5m-3 .5h.5m1.1 .5h.5m.2 .1h.5m-2.3 0h.5m-.4 .5h.5m-.6 0h.5m-.9 .1h.5m3.1 0h.5m-4.3 .1h.5m-.9 .2h.5m1.5 0h.5m-1.9 .2h.5m3.1 .1h.5m-2.4 0h.5m-2.3 .1h.5m1.1 .1h.5m-.8 .8h.5m1.8 .1h.5m-2.2 0h.5m-1.4 .3h.5m-1.2 0h.5m-1.1 .2h.5m-.1 .2h.5m1.4 .2h.5m-2.6 .1h.5m1.6 .5h.5m-1.5 .2h.5m.4 .2h.5m-1.6 1h.5m-.6 .3h.5m-.4 0h.5m1.3 .2h.5m-.2 0h.5m-3.6 .3h.5m-.8 .7h.5m3.3 .8h.5m-3.2 .5h.5m-1.5 .2h.5m.6 0h.5m-1.3 5h.5m-.6 3.7h.5m-.3 3.8h.5m1 1h.5m-1.6 .4h.5m.6 .1h.5m-.1 4.6h.5m7.8-29.2h.5m-5.3 .4h.5m-.6 10.6h.5m4.6 2.4h.5m-4.6 4.2h.5m1.2 6.4h.5" stroke="#3348ff" stroke-width="0.55"/><path d="M350.4 829.6h.6m-.4 1.2h.6m-1.9 2.2h.6m.6 .4h.6m-.8 1h.6m0 1.4h.6m-6.4 12.3h.6m3.9 .1h.6m6.6-25.6h.6m-1 .4h.6m-3.1 2.2h.6m-1.9 .4h.6m2.2 .2h.6m-.7 .4h.6m.8 .3h.6m-4.7 .1h.6m2.3 .6h.6m.7 .1h.6m-1.7 .2h.6m.6 0h.6m-1.5 .1h.6m-1.7 .1h.6m.2 .4h.6m-.1 .1h.6m-1.5 .3h.6m-.5 .1h.6m.9 .6h.6m-4.1 .2h.6m-.3 .1h.6m2.4 .1h.6m-2.5 1.7h.6m-1.3 .2h.6m1.6 .1h.6m-2.8 .3h.6m.2 .2h.6m-.3 .2h.6m.7 .1h.6m-2.2 .2h.6m-2 .2h.6m-2 .1h.6m2.4 .1h.6m1.1 0h.6m-3 .1h.6m-1.2 .2h.6m.7 0h.6m-.8 .1h.6m.7 0h.6m-2.5 .1h.6m1.1 1h.6m-4.4 .7h.6m2.7 .1h.6m-2.3 .1h.6m.8 .1h.6m-1.2 1.2h.6m1.5 .1h.6m-2.8 .8h.6m-.6 .4h.6m1.6 1.4h.6m-1.6 7h.6m-2.2 .6h.6m-2.4 2.3h.6m-1.8 3.6h.6m5.6-29.6h.6m1.3 1.7h.6m-2.2 .7h.6m.6 .3h.6m1 .2h.6m-3.3 .2h.6m1 .1h.6m-.8 .4h.6m-2.4 .6h.6m2.7 .2h.6m-1.5 .5h.6m-.9 .1h.6m-2.6 .4h.6m.5 .1h.6m-2.1 .6h.6m3.2 0h.6m-4 1h.6m1.3 .3h.6m.5 .2h.6m-3.8 1.1h.6m1.5 .5h.6m-2 .4h.6m-1.2 .1h.6m1.9 .9h.6m-1.9 1h.6m-1.1 1.8h.6m0 .4h.6m-1.7 1.8h.6m-1 8.6h.6" stroke="#1414d0" stroke-width="0.7"/><g filter="url(#db2)"><ellipse cx="334.5" cy="857.5" rx="11" ry="4.2" fill="#1c30f0" transform="rotate(-45 334.5 857.5)"/><ellipse cx="334.5" cy="857.5" rx="8.5" ry="3.2" fill="#18a0f0" transform="rotate(-45 334.5 857.5)"/><ellipse cx="334.5" cy="857.5" rx="6.1" ry="2.3" fill="#28d29a" transform="rotate(-45 334.5 857.5)"/><ellipse cx="334.5" cy="857.5" rx="3.6" ry="1.4" fill="#8ee040" transform="rotate(-45 334.5 857.5)"/><ellipse cx="334.5" cy="857.5" rx="1.7" ry="0.8" fill="#e0e030" transform="rotate(-45 334.5 857.5)"/></g></g><line x1="346.5" y1="811.5" x2="346.5" y2="878.6" stroke="#666" stroke-width="0.8"/><line x1="315.6" y1="840.5" x2="383" y2="840.5" stroke="#666" stroke-width="0.8"/><line x1="317.1" y1="878.6" x2="317.1" y2="880.1" stroke="#888" stroke-width="0.4"/><text x="317.1" y="883.4" font-size="3.2" text-anchor="middle" fill="#777">10</text><line x1="314.1" y1="877.1" x2="315.6" y2="877.1" stroke="#888" stroke-width="0.4"/><text x="313.4" y="878.2" font-size="3.2" text-anchor="end" fill="#777">10</text><line x1="330" y1="878.6" x2="330" y2="880.1" stroke="#888" stroke-width="0.4"/><text x="330" y="883.4" font-size="3.2" text-anchor="middle" fill="#777">10</text><line x1="314.1" y1="864.3" x2="315.6" y2="864.3" stroke="#888" stroke-width="0.4"/><text x="313.4" y="865.4" font-size="3.2" text-anchor="end" fill="#777">10</text><line x1="342.9" y1="878.6" x2="342.9" y2="880.1" stroke="#888" stroke-width="0.4"/><text x="342.9" y="883.4" font-size="3.2" text-anchor="middle" fill="#777">10</text><line x1="314.1" y1="851.5" x2="315.6" y2="851.5" stroke="#888" stroke-width="0.4"/><text x="313.4" y="852.6" font-size="3.2" text-anchor="end" fill="#777">10</text><line x1="355.7" y1="878.6" x2="355.7" y2="880.1" stroke="#888" stroke-width="0.4"/><text x="355.7" y="883.4" font-size="3.2" text-anchor="middle" fill="#777">10</text><line x1="314.1" y1="838.6" x2="315.6" y2="838.6" stroke="#888" stroke-width="0.4"/><text x="313.4" y="839.7" font-size="3.2" text-anchor="end" fill="#777">10</text><line x1="368.6" y1="878.6" x2="368.6" y2="880.1" stroke="#888" stroke-width="0.4"/><text x="368.6" y="883.4" font-size="3.2" text-anchor="middle" fill="#777">10</text><line x1="314.1" y1="825.8" x2="315.6" y2="825.8" stroke="#888" stroke-width="0.4"/><text x="313.4" y="826.9" font-size="3.2" text-anchor="end" fill="#777">10</text><line x1="381.5" y1="878.6" x2="381.5" y2="880.1" stroke="#888" stroke-width="0.4"/><text x="381.5" y="883.4" font-size="3.2" text-anchor="middle" fill="#777">10</text><line x1="314.1" y1="813" x2="315.6" y2="813" stroke="#888" stroke-width="0.4"/><text x="313.4" y="814.1" font-size="3.2" text-anchor="end" fill="#777">10</text><text x="382.6" y="819.1" font-size="7.8" text-anchor="end">14.62%</text><text x="349" y="891" font-size="8.6" text-anchor="middle">FITC-A</text><text x="308.5" y="845.5" font-size="8.4" text-anchor="middle" transform="rotate(-90 308.5 845.5)">PI-A</text>
<text x="469.6" y="694.2" font-size="9" text-anchor="middle">SUNE1</text><rect x="434.3" y="774.9" width="13.4" height="42.4" fill="#5a0a5c" stroke="#111" stroke-width="0.9"/><line x1="441" y1="782.1" x2="441" y2="767.6" stroke="#111" stroke-width="0.9"/><line x1="438.5" y1="767.6" x2="443.5" y2="767.6" stroke="#111" stroke-width="0.9"/><circle cx="441" cy="766.5" r="2.1" fill="#111"/><circle cx="438.5" cy="781" r="2.1" fill="#111"/><circle cx="443.5" cy="776" r="2.1" fill="#111"/><rect x="454.1" y="749.7" width="13.4" height="67.6" fill="#1f6bb0" stroke="#111" stroke-width="0.9"/><line x1="460.8" y1="754.7" x2="460.8" y2="744.7" stroke="#111" stroke-width="0.9"/><line x1="458.3" y1="744.7" x2="463.3" y2="744.7" stroke="#111" stroke-width="0.9"/><circle cx="460.8" cy="744.1" r="2.1" fill="#111"/><circle cx="460.8" cy="754.2" r="2.1" fill="#111"/><circle cx="460.8" cy="749.7" r="2.1" fill="#111"/><rect x="473.9" y="715.7" width="13.4" height="101.6" fill="#78b01e" stroke="#111" stroke-width="0.9"/><line x1="480.6" y1="716.8" x2="480.6" y2="714.5" stroke="#111" stroke-width="0.9"/><line x1="478.1" y1="714.5" x2="483.1" y2="714.5" stroke="#111" stroke-width="0.9"/><circle cx="478.1" cy="714.5" r="2.1" fill="#111"/><circle cx="480.6" cy="715.7" r="2.1" fill="#111"/><circle cx="483.1" cy="716.2" r="2.1" fill="#111"/><rect x="493.6" y="744.1" width="13.4" height="73.2" fill="#ff0000" stroke="#111" stroke-width="0.9"/><line x1="500.2" y1="748" x2="500.2" y2="740.2" stroke="#111" stroke-width="0.9"/><line x1="497.8" y1="740.2" x2="502.8" y2="740.2" stroke="#111" stroke-width="0.9"/><circle cx="500.2" cy="739.1" r="2.1" fill="#111"/><circle cx="497.8" cy="746.4" r="2.1" fill="#111"/><circle cx="502.8" cy="745.8" r="2.1" fill="#111"/><line x1="431.6" y1="705.1" x2="431.6" y2="817.8" stroke="#1a1a1a" stroke-width="1"/><line x1="431.1" y1="817.3" x2="510" y2="817.3" stroke="#1a1a1a" stroke-width="1"/><line x1="428.1" y1="817.3" x2="431.6" y2="817.3" stroke="#1a1a1a" stroke-width="0.9"/><text x="426.4" y="820.5" font-size="8.8" text-anchor="end">0</text><line x1="428.1" y1="789.4" x2="431.6" y2="789.4" stroke="#1a1a1a" stroke-width="0.9"/><text x="426.4" y="792.6" font-size="8.8" text-anchor="end">5</text><line x1="428.1" y1="761.5" x2="431.6" y2="761.5" stroke="#1a1a1a" stroke-width="0.9"/><text x="426.4" y="764.7" font-size="8.8" text-anchor="end">10</text><line x1="428.1" y1="733.5" x2="431.6" y2="733.5" stroke="#1a1a1a" stroke-width="0.9"/><text x="426.4" y="736.7" font-size="8.8" text-anchor="end">15</text><line x1="428.1" y1="705.6" x2="431.6" y2="705.6" stroke="#1a1a1a" stroke-width="0.9"/><text x="426.4" y="708.8" font-size="8.8" text-anchor="end">20</text><line x1="441" y1="817.3" x2="441" y2="820.3" stroke="#1a1a1a" stroke-width="0.9"/><text x="445.2" y="826.5" font-size="8.3" text-anchor="end" transform="rotate(-45 445.2 826.5)">Vector+siNC-Ctrl</text><line x1="460.8" y1="817.3" x2="460.8" y2="820.3" stroke="#1a1a1a" stroke-width="0.9"/><text x="465" y="826.5" font-size="8.3" text-anchor="end" transform="rotate(-45 465 826.5)">Vector+siNC-IR</text><line x1="480.6" y1="817.3" x2="480.6" y2="820.3" stroke="#1a1a1a" stroke-width="0.9"/><text x="484.8" y="826.5" font-size="8.3" text-anchor="end" transform="rotate(-45 484.8 826.5)">USP44+siNC-IR</text><line x1="500.2" y1="817.3" x2="500.2" y2="820.3" stroke="#1a1a1a" stroke-width="0.9"/><text x="504.4" y="826.5" font-size="8.3" text-anchor="end" transform="rotate(-45 504.4 826.5)">USP44+siTRIM25-IR</text><path d="M441 741.7V737.9H460.8V741.7" fill="none" stroke="#222" stroke-width="0.8"/><text x="450.2" y="735.8" font-size="7" font-weight="bold" text-anchor="middle"><tspan font-style="italic">P</tspan>=0.0086</text><path d="M460.8 712.8V709H480.6V712.8" fill="none" stroke="#222" stroke-width="0.8"/><text x="463.4" y="708" font-size="7" font-weight="bold" text-anchor="middle"><tspan font-style="italic">P</tspan>=0.0004</text><path d="M480.6 712.8V709H500.2V712.8" fill="none" stroke="#222" stroke-width="0.8"/><text x="496.5" y="708" font-size="7" font-weight="bold" text-anchor="middle"><tspan font-style="italic">P</tspan>=0.0004</text><text x="409.3" y="762.5" font-size="9.3" text-anchor="middle" transform="rotate(-90 409.3 762.5)">Apoptosis rate (%)</text>
<text x="593.5" y="694.2" font-size="9" text-anchor="middle">HONE1</text><rect x="557.9" y="770.4" width="13.7" height="46.9" fill="#5a0a5c" stroke="#111" stroke-width="0.9"/><line x1="564.8" y1="772.2" x2="564.8" y2="768.6" stroke="#111" stroke-width="0.9"/><line x1="562.2" y1="768.6" x2="567.2" y2="768.6" stroke="#111" stroke-width="0.9"/><circle cx="562.2" cy="769.5" r="2.1" fill="#111"/><circle cx="564.8" cy="773.5" r="2.1" fill="#111"/><circle cx="567.2" cy="769" r="2.1" fill="#111"/><rect x="577.3" y="753.4" width="13.7" height="63.9" fill="#1f6bb0" stroke="#111" stroke-width="0.9"/><line x1="584.1" y1="754.3" x2="584.1" y2="752.5" stroke="#111" stroke-width="0.9"/><line x1="581.6" y1="752.5" x2="586.6" y2="752.5" stroke="#111" stroke-width="0.9"/><circle cx="581.6" cy="752.1" r="2.1" fill="#111"/><circle cx="584.1" cy="753.9" r="2.1" fill="#111"/><circle cx="586.6" cy="753.9" r="2.1" fill="#111"/><rect x="597" y="725.3" width="13.7" height="92" fill="#78b01e" stroke="#111" stroke-width="0.9"/><line x1="603.9" y1="727" x2="603.9" y2="723.5" stroke="#111" stroke-width="0.9"/><line x1="601.4" y1="723.5" x2="606.4" y2="723.5" stroke="#111" stroke-width="0.9"/><circle cx="601.4" cy="727" r="2.1" fill="#111"/><circle cx="603.9" cy="723.5" r="2.1" fill="#111"/><circle cx="606.4" cy="724.8" r="2.1" fill="#111"/><rect x="616.6" y="748.9" width="13.7" height="68.4" fill="#ff0000" stroke="#111" stroke-width="0.9"/><line x1="623.5" y1="751.2" x2="623.5" y2="746.7" stroke="#111" stroke-width="0.9"/><line x1="621" y1="746.7" x2="626" y2="746.7" stroke="#111" stroke-width="0.9"/><circle cx="621" cy="751.2" r="2.1" fill="#111"/><circle cx="623.5" cy="746.7" r="2.1" fill="#111"/><circle cx="626" cy="748.5" r="2.1" fill="#111"/><line x1="552.9" y1="705.1" x2="552.9" y2="817.8" stroke="#1a1a1a" stroke-width="1"/><line x1="552.4" y1="817.3" x2="633.8" y2="817.3" stroke="#1a1a1a" stroke-width="1"/><line x1="549.4" y1="817.3" x2="552.9" y2="817.3" stroke="#1a1a1a" stroke-width="0.9"/><text x="547.7" y="820.5" font-size="8.8" text-anchor="end">0</text><line x1="549.4" y1="795" x2="552.9" y2="795" stroke="#1a1a1a" stroke-width="0.9"/><text x="547.7" y="798.2" font-size="8.8" text-anchor="end">5</text><line x1="549.4" y1="772.6" x2="552.9" y2="772.6" stroke="#1a1a1a" stroke-width="0.9"/><text x="547.7" y="775.8" font-size="8.8" text-anchor="end">10</text><line x1="549.4" y1="750.3" x2="552.9" y2="750.3" stroke="#1a1a1a" stroke-width="0.9"/><text x="547.7" y="753.5" font-size="8.8" text-anchor="end">15</text><line x1="549.4" y1="727.9" x2="552.9" y2="727.9" stroke="#1a1a1a" stroke-width="0.9"/><text x="547.7" y="731.1" font-size="8.8" text-anchor="end">20</text><line x1="549.4" y1="705.6" x2="552.9" y2="705.6" stroke="#1a1a1a" stroke-width="0.9"/><text x="547.7" y="708.8" font-size="8.8" text-anchor="end">25</text><line x1="564.8" y1="817.3" x2="564.8" y2="820.3" stroke="#1a1a1a" stroke-width="0.9"/><text x="569" y="826.5" font-size="8.3" text-anchor="end" transform="rotate(-45 569 826.5)">Vector+siNC-Ctrl</text><line x1="584.1" y1="817.3" x2="584.1" y2="820.3" stroke="#1a1a1a" stroke-width="0.9"/><text x="588.4" y="826.5" font-size="8.3" text-anchor="end" transform="rotate(-45 588.4 826.5)">Vector+siNC-IR</text><line x1="603.9" y1="817.3" x2="603.9" y2="820.3" stroke="#1a1a1a" stroke-width="0.9"/><text x="608.1" y="826.5" font-size="8.3" text-anchor="end" transform="rotate(-45 608.1 826.5)">USP44+siNC-IR</text><line x1="623.5" y1="817.3" x2="623.5" y2="820.3" stroke="#1a1a1a" stroke-width="0.9"/><text x="627.7" y="826.5" font-size="8.3" text-anchor="end" transform="rotate(-45 627.7 826.5)">USP44+siTRIM25-IR</text><path d="M564.8 750.2V746.4H584.1V750.2" fill="none" stroke="#222" stroke-width="0.8"/><text x="573.6" y="744.5" font-size="7" font-weight="bold" text-anchor="middle"><tspan font-style="italic">P</tspan>=0.0009</text><path d="M584.1 719.8V716H603.9V719.8" fill="none" stroke="#222" stroke-width="0.8"/><text x="583.5" y="714.6" font-size="7" font-weight="bold" text-anchor="middle"><tspan font-style="italic">P</tspan>=7.48E-05</text><path d="M603.9 719.8V716H623.5V719.8" fill="none" stroke="#222" stroke-width="0.8"/><text x="620.8" y="714.6" font-size="7" font-weight="bold" text-anchor="middle"><tspan font-style="italic">P</tspan>=0.0004</text><text x="532.4" y="762.5" font-size="9.3" text-anchor="middle" transform="rotate(-90 532.4 762.5)">Apoptosis rate (%)</text>
</svg>
</body></html>
